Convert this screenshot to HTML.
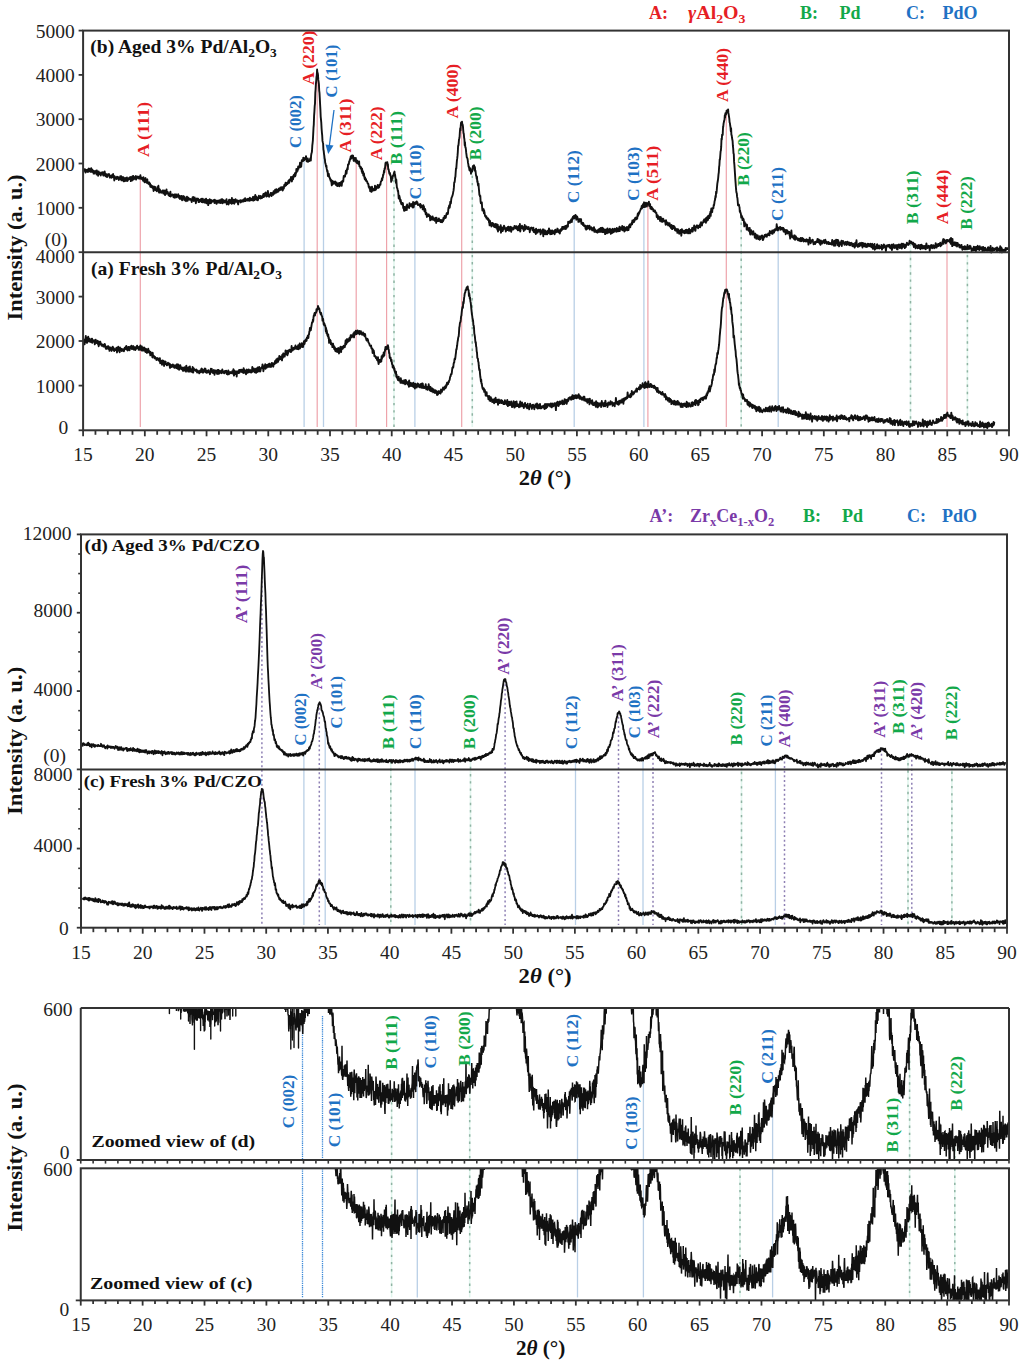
<!DOCTYPE html><html><head><meta charset="utf-8"><style>html,body{margin:0;padding:0;background:#fff;}svg{display:block;}</style></head><body><svg width="1024" height="1365" viewBox="0 0 1024 1365" font-family='"Liberation Serif", serif'>
<rect width="1024" height="1365" fill="#fff"/>
<line x1="140.30" y1="177.20" x2="140.30" y2="427.00" stroke="#eea3ab" stroke-width="1.2" />
<line x1="304.10" y1="159.78" x2="304.10" y2="427.00" stroke="#b9cfe6" stroke-width="1.3" />
<line x1="317.20" y1="71.60" x2="317.20" y2="427.00" stroke="#eea3ab" stroke-width="1.2" />
<line x1="323.50" y1="149.41" x2="323.50" y2="427.00" stroke="#b9cfe6" stroke-width="1.3" />
<line x1="356.20" y1="160.21" x2="356.20" y2="427.00" stroke="#eea3ab" stroke-width="1.2" />
<line x1="386.60" y1="162.73" x2="386.60" y2="427.00" stroke="#eea3ab" stroke-width="1.2" />
<line x1="394.00" y1="172.54" x2="394.00" y2="427.00" stroke="#e2f6ee" stroke-width="1.6" />
<line x1="394.00" y1="172.54" x2="394.00" y2="427.00" stroke="#8fb3a3" stroke-width="1.5" stroke-dasharray="2.4 4.8"/>
<line x1="414.90" y1="203.18" x2="414.90" y2="427.00" stroke="#b9cfe6" stroke-width="1.3" />
<line x1="461.70" y1="122.54" x2="461.70" y2="427.00" stroke="#eea3ab" stroke-width="1.2" />
<line x1="472.30" y1="168.50" x2="472.30" y2="427.00" stroke="#e2f6ee" stroke-width="1.6" />
<line x1="472.30" y1="168.50" x2="472.30" y2="427.00" stroke="#8fb3a3" stroke-width="1.5" stroke-dasharray="2.4 4.8"/>
<line x1="574.20" y1="216.85" x2="574.20" y2="427.00" stroke="#b9cfe6" stroke-width="1.3" />
<line x1="643.90" y1="204.10" x2="643.90" y2="427.00" stroke="#b9cfe6" stroke-width="1.3" />
<line x1="647.90" y1="204.24" x2="647.90" y2="427.00" stroke="#eea3ab" stroke-width="1.2" />
<line x1="726.30" y1="112.46" x2="726.30" y2="427.00" stroke="#eea3ab" stroke-width="1.2" />
<line x1="741.20" y1="215.36" x2="741.20" y2="427.00" stroke="#e2f6ee" stroke-width="1.6" />
<line x1="741.20" y1="215.36" x2="741.20" y2="427.00" stroke="#8fb3a3" stroke-width="1.5" stroke-dasharray="2.4 4.8"/>
<line x1="778.20" y1="228.72" x2="778.20" y2="427.00" stroke="#b9cfe6" stroke-width="1.3" />
<line x1="910.50" y1="243.45" x2="910.50" y2="427.00" stroke="#e2f6ee" stroke-width="1.6" />
<line x1="910.50" y1="243.45" x2="910.50" y2="427.00" stroke="#8fb3a3" stroke-width="1.5" stroke-dasharray="2.4 4.8"/>
<line x1="947.00" y1="240.66" x2="947.00" y2="427.00" stroke="#eea3ab" stroke-width="1.2" />
<line x1="967.40" y1="247.75" x2="967.40" y2="427.00" stroke="#e2f6ee" stroke-width="1.6" />
<line x1="967.40" y1="247.75" x2="967.40" y2="427.00" stroke="#8fb3a3" stroke-width="1.5" stroke-dasharray="2.4 4.8"/>
<path d="M83.40,170.40 L83.70,170.86 L84.00,170.10 L84.30,169.29 L84.60,169.94 L84.90,169.23 L85.20,170.75 L85.50,172.59 L85.80,170.07 L86.10,169.94 L86.40,171.54 L86.70,171.40 L87.00,171.10 L87.30,169.69 L87.60,171.00 L87.90,172.07 L88.20,169.26 L88.50,170.55 L88.80,168.58 L89.10,169.48 L89.40,168.76 L89.70,171.06 L90.00,169.67 L90.30,171.87 L90.60,171.76 L90.90,171.33 L91.20,168.12 L91.50,170.94 L91.80,171.68 L92.10,171.96 L92.40,169.71 L92.70,171.24 L93.00,170.59 L93.30,170.88 L93.60,173.56 L93.90,170.99 L94.20,172.13 L94.50,173.47 L94.80,171.47 L95.10,172.19 L95.40,172.56 L95.70,172.55 L96.00,170.80 L96.30,172.68 L96.60,174.53 L96.90,170.52 L97.20,173.95 L97.50,172.97 L97.80,171.96 L98.10,175.72 L98.40,174.04 L98.70,171.36 L99.00,173.20 L99.30,173.96 L99.60,172.95 L99.90,174.23 L100.20,173.24 L100.50,174.33 L100.80,175.47 L101.10,172.57 L101.40,173.86 L101.70,172.99 L102.00,173.88 L102.30,172.10 L102.60,173.01 L102.90,173.61 L103.20,175.21 L103.50,175.62 L103.80,172.24 L104.10,173.05 L104.40,175.15 L104.70,171.53 L105.00,173.75 L105.30,174.35 L105.60,176.33 L105.90,175.62 L106.20,174.28 L106.50,174.31 L106.80,174.57 L107.10,177.14 L107.40,174.50 L107.70,174.77 L108.00,175.78 L108.30,175.22 L108.60,175.21 L108.90,174.02 L109.20,175.66 L109.50,175.15 L109.80,177.51 L110.10,176.89 L110.40,176.04 L110.70,177.11 L111.00,175.80 L111.30,177.85 L111.60,176.47 L111.90,177.39 L112.20,174.87 L112.50,177.26 L112.80,174.51 L113.10,174.12 L113.40,176.64 L113.70,175.91 L114.00,177.49 L114.30,180.50 L114.60,176.29 L114.90,176.67 L115.20,177.92 L115.50,178.42 L115.80,177.57 L116.10,177.62 L116.40,178.97 L116.70,178.80 L117.00,176.71 L117.30,178.13 L117.60,178.37 L117.90,176.92 L118.20,178.83 L118.50,177.34 L118.80,179.98 L119.10,178.95 L119.40,178.87 L119.70,177.98 L120.00,178.71 L120.30,176.13 L120.60,177.40 L120.90,179.54 L121.20,176.10 L121.50,180.32 L121.80,176.73 L122.10,180.27 L122.40,178.06 L122.70,180.37 L123.00,179.49 L123.30,177.18 L123.60,181.10 L123.90,181.39 L124.20,179.29 L124.50,179.01 L124.80,179.18 L125.10,178.03 L125.40,180.93 L125.70,178.63 L126.00,179.31 L126.30,178.25 L126.60,178.47 L126.90,177.53 L127.20,181.06 L127.50,179.06 L127.80,180.59 L128.10,179.23 L128.40,178.20 L128.70,178.68 L129.00,178.32 L129.30,179.07 L129.60,178.49 L129.90,178.55 L130.20,177.00 L130.50,177.76 L130.80,181.16 L131.10,177.85 L131.40,177.27 L131.70,179.17 L132.00,180.62 L132.30,176.57 L132.60,178.27 L132.90,177.63 L133.20,176.00 L133.50,179.44 L133.80,178.32 L134.10,178.38 L134.40,177.15 L134.70,178.76 L135.00,177.29 L135.30,177.75 L135.60,176.32 L135.90,176.08 L136.20,179.56 L136.50,176.90 L136.80,177.93 L137.10,177.40 L137.40,176.76 L137.70,176.60 L138.00,178.13 L138.30,176.78 L138.60,176.95 L138.90,177.16 L139.20,178.75 L139.50,178.05 L139.80,177.65 L140.10,176.37 L140.40,175.29 L140.70,178.64 L141.00,178.78 L141.30,177.36 L141.60,178.46 L141.90,178.96 L142.20,179.21 L142.50,179.52 L142.80,177.79 L143.10,180.76 L143.40,177.10 L143.70,180.27 L144.00,179.98 L144.30,180.73 L144.60,182.35 L144.90,182.01 L145.20,178.54 L145.50,178.02 L145.80,181.80 L146.10,179.52 L146.40,181.23 L146.70,182.75 L147.00,179.61 L147.30,179.31 L147.60,182.99 L147.90,183.06 L148.20,183.03 L148.50,183.80 L148.80,182.91 L149.10,182.36 L149.40,184.61 L149.70,183.83 L150.00,183.23 L150.30,186.56 L150.60,186.07 L150.90,187.01 L151.20,185.31 L151.50,186.01 L151.80,185.74 L152.10,186.08 L152.40,187.77 L152.70,186.57 L153.00,188.33 L153.30,188.47 L153.60,191.00 L153.90,186.37 L154.20,189.72 L154.50,188.50 L154.80,188.76 L155.10,186.89 L155.40,188.42 L155.70,190.25 L156.00,189.23 L156.30,189.59 L156.60,189.21 L156.90,191.36 L157.20,189.84 L157.50,186.92 L157.80,189.15 L158.10,187.49 L158.40,185.81 L158.70,189.73 L159.00,192.46 L159.30,190.77 L159.60,189.17 L159.90,189.61 L160.20,192.62 L160.50,191.36 L160.80,191.31 L161.10,191.27 L161.40,191.50 L161.70,192.67 L162.00,192.42 L162.30,192.05 L162.60,190.38 L162.90,192.65 L163.20,191.07 L163.50,193.65 L163.80,190.44 L164.10,192.12 L164.40,192.39 L164.70,190.64 L165.00,194.99 L165.30,194.71 L165.60,192.11 L165.90,193.93 L166.20,193.47 L166.50,189.36 L166.80,193.46 L167.10,193.11 L167.40,193.40 L167.70,191.87 L168.00,193.09 L168.30,193.30 L168.60,195.30 L168.90,194.20 L169.20,193.81 L169.50,196.05 L169.80,193.22 L170.10,193.55 L170.40,191.64 L170.70,196.47 L171.00,195.71 L171.30,195.74 L171.60,195.48 L171.90,194.79 L172.20,195.03 L172.50,194.46 L172.80,194.62 L173.10,195.07 L173.40,197.20 L173.70,195.95 L174.00,195.18 L174.30,194.54 L174.60,194.55 L174.90,197.78 L175.20,196.33 L175.50,195.80 L175.80,195.31 L176.10,194.33 L176.40,195.88 L176.70,197.28 L177.00,195.59 L177.30,195.91 L177.60,196.00 L177.90,196.55 L178.20,194.25 L178.50,196.24 L178.80,195.45 L179.10,197.97 L179.40,195.74 L179.70,197.70 L180.00,199.11 L180.30,196.62 L180.60,196.30 L180.90,197.49 L181.20,197.29 L181.50,195.98 L181.80,198.10 L182.10,200.35 L182.40,197.24 L182.70,197.40 L183.00,196.29 L183.30,198.28 L183.60,196.16 L183.90,196.42 L184.20,199.84 L184.50,196.85 L184.80,199.70 L185.10,200.39 L185.40,198.69 L185.70,199.16 L186.00,201.19 L186.30,198.24 L186.60,197.75 L186.90,196.75 L187.20,198.77 L187.50,200.84 L187.80,200.17 L188.10,197.57 L188.40,197.75 L188.70,198.30 L189.00,199.47 L189.30,198.83 L189.60,199.47 L189.90,199.64 L190.20,198.86 L190.50,199.27 L190.80,199.66 L191.10,199.30 L191.40,200.17 L191.70,202.13 L192.00,200.39 L192.30,199.68 L192.60,197.28 L192.90,200.23 L193.20,197.00 L193.50,197.80 L193.80,201.01 L194.10,200.84 L194.40,199.69 L194.70,197.54 L195.00,199.46 L195.30,199.07 L195.60,200.96 L195.90,203.27 L196.20,200.45 L196.50,199.10 L196.80,198.59 L197.10,200.20 L197.40,200.07 L197.70,198.75 L198.00,200.56 L198.30,198.83 L198.60,202.04 L198.90,202.01 L199.20,202.08 L199.50,199.94 L199.80,201.36 L200.10,200.49 L200.40,200.17 L200.70,200.28 L201.00,198.97 L201.30,198.81 L201.60,201.98 L201.90,200.64 L202.20,201.24 L202.50,202.38 L202.80,198.58 L203.10,199.95 L203.40,201.32 L203.70,201.66 L204.00,200.62 L204.30,202.62 L204.60,201.50 L204.90,199.54 L205.20,199.97 L205.50,202.43 L205.80,201.98 L206.10,198.70 L206.40,203.27 L206.70,202.25 L207.00,203.32 L207.30,200.93 L207.60,201.07 L207.90,199.94 L208.20,205.09 L208.50,201.31 L208.80,203.80 L209.10,200.69 L209.40,201.85 L209.70,199.30 L210.00,201.12 L210.30,203.05 L210.60,199.94 L210.90,203.20 L211.20,202.19 L211.50,200.27 L211.80,201.04 L212.10,201.11 L212.40,201.69 L212.70,201.02 L213.00,200.62 L213.30,201.36 L213.60,200.35 L213.90,199.99 L214.20,201.73 L214.50,203.04 L214.80,199.66 L215.10,201.80 L215.40,200.89 L215.70,200.43 L216.00,202.99 L216.30,201.07 L216.60,203.90 L216.90,200.71 L217.20,202.34 L217.50,201.48 L217.80,200.74 L218.10,202.62 L218.40,201.58 L218.70,202.64 L219.00,201.73 L219.30,200.28 L219.60,201.66 L219.90,201.87 L220.20,203.14 L220.50,200.53 L220.80,201.74 L221.10,199.39 L221.40,202.71 L221.70,200.29 L222.00,199.27 L222.30,201.72 L222.60,203.35 L222.90,199.67 L223.20,200.28 L223.50,200.76 L223.80,200.22 L224.10,202.33 L224.40,200.67 L224.70,200.79 L225.00,202.62 L225.30,200.74 L225.60,202.41 L225.90,200.44 L226.20,200.10 L226.50,199.23 L226.80,204.41 L227.10,201.35 L227.40,202.14 L227.70,201.76 L228.00,202.02 L228.30,201.87 L228.60,204.47 L228.90,200.35 L229.20,199.62 L229.50,200.38 L229.80,199.93 L230.10,202.85 L230.40,202.95 L230.70,200.45 L231.00,199.85 L231.30,201.30 L231.60,203.75 L231.90,197.85 L232.20,202.54 L232.50,200.29 L232.80,203.26 L233.10,200.29 L233.40,201.40 L233.70,199.69 L234.00,200.43 L234.30,203.74 L234.60,202.95 L234.90,201.24 L235.20,200.58 L235.50,199.15 L235.80,201.25 L236.10,201.76 L236.40,201.68 L236.70,201.67 L237.00,200.23 L237.30,201.71 L237.60,201.74 L237.90,203.60 L238.20,204.40 L238.50,201.58 L238.80,200.69 L239.10,201.66 L239.40,200.88 L239.70,200.67 L240.00,201.61 L240.30,200.20 L240.60,202.49 L240.90,201.46 L241.20,201.93 L241.50,201.29 L241.80,200.49 L242.10,200.14 L242.40,201.10 L242.70,200.62 L243.00,201.67 L243.30,201.30 L243.60,199.35 L243.90,201.30 L244.20,199.28 L244.50,200.24 L244.80,200.64 L245.10,198.09 L245.40,201.07 L245.70,201.09 L246.00,200.60 L246.30,200.16 L246.60,200.17 L246.90,199.26 L247.20,200.19 L247.50,199.73 L247.80,200.56 L248.10,198.68 L248.40,200.62 L248.70,200.42 L249.00,199.95 L249.30,199.46 L249.60,200.78 L249.90,197.60 L250.20,200.50 L250.50,200.12 L250.80,200.10 L251.10,200.16 L251.40,198.63 L251.70,199.10 L252.00,200.28 L252.30,199.91 L252.60,199.52 L252.90,197.03 L253.20,199.82 L253.50,200.62 L253.80,200.32 L254.10,199.15 L254.40,196.56 L254.70,199.98 L255.00,198.37 L255.30,194.95 L255.60,198.94 L255.90,196.24 L256.20,196.43 L256.50,197.27 L256.80,199.86 L257.10,197.48 L257.40,198.29 L257.70,200.28 L258.00,199.98 L258.30,197.53 L258.60,197.25 L258.90,195.75 L259.20,196.46 L259.50,197.95 L259.80,197.83 L260.10,197.35 L260.40,198.51 L260.70,195.95 L261.00,196.87 L261.30,197.89 L261.60,197.60 L261.90,198.20 L262.20,197.17 L262.50,196.10 L262.80,196.95 L263.10,194.95 L263.40,193.97 L263.70,196.99 L264.00,196.00 L264.30,196.42 L264.60,193.52 L264.90,195.29 L265.20,194.86 L265.50,194.40 L265.80,192.35 L266.10,194.94 L266.40,196.56 L266.70,195.74 L267.00,194.26 L267.30,194.98 L267.60,195.95 L267.90,190.92 L268.20,194.51 L268.50,195.33 L268.80,195.42 L269.10,196.73 L269.40,195.83 L269.70,194.56 L270.00,194.43 L270.30,194.99 L270.60,193.02 L270.90,193.60 L271.20,194.80 L271.50,196.15 L271.80,193.07 L272.10,193.10 L272.40,193.32 L272.70,194.79 L273.00,192.74 L273.30,194.71 L273.60,191.17 L273.90,192.13 L274.20,191.98 L274.50,193.22 L274.80,193.44 L275.10,189.73 L275.40,190.42 L275.70,192.03 L276.00,190.49 L276.30,189.13 L276.60,192.56 L276.90,191.65 L277.20,191.49 L277.50,189.97 L277.80,191.91 L278.10,189.96 L278.40,191.66 L278.70,188.68 L279.00,188.58 L279.30,189.88 L279.60,188.42 L279.90,190.17 L280.20,189.39 L280.50,187.54 L280.80,188.74 L281.10,187.94 L281.40,189.51 L281.70,187.13 L282.00,187.19 L282.30,189.29 L282.60,190.51 L282.90,189.95 L283.20,187.01 L283.50,187.00 L283.80,188.61 L284.10,186.05 L284.40,184.62 L284.70,185.91 L285.00,186.13 L285.30,184.09 L285.60,182.68 L285.90,182.70 L286.20,185.37 L286.50,183.09 L286.80,183.66 L287.10,183.85 L287.40,184.11 L287.70,182.46 L288.00,183.30 L288.30,181.03 L288.60,181.43 L288.90,180.16 L289.20,182.83 L289.50,180.86 L289.80,179.51 L290.10,179.69 L290.40,179.50 L290.70,180.43 L291.00,176.84 L291.30,177.25 L291.60,177.79 L291.90,181.48 L292.20,178.89 L292.50,177.01 L292.80,177.78 L293.10,179.27 L293.40,175.67 L293.70,175.09 L294.00,176.90 L294.30,175.48 L294.60,175.30 L294.90,173.22 L295.20,176.19 L295.50,175.45 L295.80,173.40 L296.10,173.11 L296.40,168.85 L296.70,172.12 L297.00,170.49 L297.30,170.89 L297.60,170.77 L297.90,168.86 L298.20,166.49 L298.50,168.90 L298.80,166.87 L299.10,166.96 L299.40,166.10 L299.70,166.00 L300.00,162.77 L300.30,167.21 L300.60,165.33 L300.90,165.99 L301.20,166.64 L301.50,163.33 L301.80,160.23 L302.10,160.96 L302.40,160.02 L302.70,160.54 L303.00,160.95 L303.30,157.69 L303.60,160.69 L303.90,157.84 L304.20,160.11 L304.50,159.29 L304.80,158.78 L305.10,158.91 L305.40,158.07 L305.70,157.82 L306.00,156.22 L306.30,158.47 L306.60,161.09 L306.90,161.39 L307.20,160.70 L307.50,160.14 L307.80,158.55 L308.10,161.89 L308.40,160.16 L308.70,160.47 L309.00,160.41 L309.30,161.10 L309.60,160.37 L309.90,160.50 L310.20,158.35 L310.50,158.26 L310.80,160.60 L311.10,155.70 L311.40,153.65 L311.70,152.79 L312.00,150.99 L312.30,145.72 L312.60,143.16 L312.90,140.05 L313.20,133.85 L313.50,128.02 L313.80,124.32 L314.10,115.68 L314.40,111.67 L314.70,106.09 L315.00,103.62 L315.30,93.18 L315.60,89.31 L315.90,84.10 L316.20,80.92 L316.50,76.83 L316.80,75.07 L317.10,69.50 L317.40,72.95 L317.70,72.97 L318.00,74.94 L318.30,79.89 L318.60,81.63 L318.90,84.08 L319.20,90.58 L319.50,92.90 L319.80,98.21 L320.10,104.41 L320.40,109.53 L320.70,116.73 L321.00,119.63 L321.30,122.94 L321.60,128.74 L321.90,132.55 L322.20,135.47 L322.50,140.89 L322.80,142.31 L323.10,143.20 L323.40,149.55 L323.70,150.86 L324.00,153.82 L324.30,155.62 L324.60,158.38 L324.90,159.45 L325.20,162.92 L325.50,163.51 L325.80,165.13 L326.10,166.75 L326.40,165.65 L326.70,168.88 L327.00,170.07 L327.30,171.93 L327.60,170.84 L327.90,175.99 L328.20,174.71 L328.50,173.69 L328.80,173.79 L329.10,176.54 L329.40,177.53 L329.70,177.33 L330.00,179.11 L330.30,178.68 L330.60,180.90 L330.90,179.61 L331.20,181.02 L331.50,182.84 L331.80,185.41 L332.10,180.68 L332.40,181.70 L332.70,181.44 L333.00,183.96 L333.30,181.50 L333.60,182.66 L333.90,183.53 L334.20,182.41 L334.50,182.64 L334.80,183.50 L335.10,181.39 L335.40,182.46 L335.70,184.05 L336.00,184.95 L336.30,184.58 L336.60,182.43 L336.90,184.32 L337.20,186.11 L337.50,185.78 L337.80,184.86 L338.10,183.67 L338.40,185.70 L338.70,183.88 L339.00,182.91 L339.30,183.25 L339.60,186.20 L339.90,184.26 L340.20,185.34 L340.50,182.79 L340.80,184.51 L341.10,182.07 L341.40,182.40 L341.70,185.79 L342.00,183.07 L342.30,180.92 L342.60,181.01 L342.90,180.99 L343.20,181.55 L343.50,178.42 L343.80,175.86 L344.10,177.05 L344.40,176.58 L344.70,175.82 L345.00,176.62 L345.30,174.34 L345.60,174.19 L345.90,170.71 L346.20,172.70 L346.50,173.58 L346.80,170.84 L347.10,169.18 L347.40,168.07 L347.70,169.36 L348.00,164.56 L348.30,164.70 L348.60,164.50 L348.90,163.93 L349.20,161.34 L349.50,161.49 L349.80,159.83 L350.10,159.62 L350.40,158.58 L350.70,156.57 L351.00,157.64 L351.30,158.52 L351.60,155.68 L351.90,156.57 L352.20,157.84 L352.50,155.48 L352.80,157.35 L353.10,155.77 L353.40,159.04 L353.70,160.92 L354.00,160.77 L354.30,157.91 L354.60,159.56 L354.90,159.00 L355.20,159.30 L355.50,161.64 L355.80,157.95 L356.10,161.58 L356.40,160.37 L356.70,162.76 L357.00,161.44 L357.30,160.64 L357.60,162.40 L357.90,163.49 L358.20,162.97 L358.50,164.09 L358.80,163.17 L359.10,161.43 L359.40,166.19 L359.70,166.44 L360.00,166.21 L360.30,166.66 L360.60,168.62 L360.90,167.17 L361.20,167.49 L361.50,168.92 L361.80,171.58 L362.10,168.71 L362.40,173.09 L362.70,171.29 L363.00,171.42 L363.30,175.50 L363.60,174.37 L363.90,173.45 L364.20,175.52 L364.50,178.06 L364.80,179.14 L365.10,177.55 L365.40,179.37 L365.70,180.42 L366.00,179.10 L366.30,181.06 L366.60,181.11 L366.90,181.01 L367.20,181.69 L367.50,183.09 L367.80,183.66 L368.10,183.44 L368.40,184.24 L368.70,186.99 L369.00,186.30 L369.30,187.79 L369.60,188.74 L369.90,188.37 L370.20,191.16 L370.50,187.22 L370.80,189.85 L371.10,188.56 L371.40,191.83 L371.70,191.77 L372.00,186.75 L372.30,188.14 L372.60,190.41 L372.90,190.56 L373.20,190.44 L373.50,189.25 L373.80,189.90 L374.10,190.09 L374.40,188.96 L374.70,190.39 L375.00,185.66 L375.30,189.57 L375.60,187.08 L375.90,189.71 L376.20,187.88 L376.50,186.77 L376.80,188.35 L377.10,186.35 L377.40,186.15 L377.70,185.02 L378.00,186.96 L378.30,187.44 L378.60,187.85 L378.90,185.84 L379.20,187.05 L379.50,185.11 L379.80,184.40 L380.10,184.73 L380.40,184.77 L380.70,182.13 L381.00,181.56 L381.30,180.93 L381.60,180.51 L381.90,178.35 L382.20,180.25 L382.50,177.44 L382.80,177.68 L383.10,174.65 L383.40,174.89 L383.70,173.36 L384.00,170.58 L384.30,172.34 L384.60,168.41 L384.90,168.87 L385.20,166.37 L385.50,162.98 L385.80,162.54 L386.10,163.21 L386.40,162.61 L386.70,162.97 L387.00,163.24 L387.30,162.15 L387.60,165.61 L387.90,164.18 L388.20,169.21 L388.50,169.04 L388.80,170.29 L389.10,172.03 L389.40,173.83 L389.70,172.65 L390.00,173.43 L390.30,175.57 L390.60,175.28 L390.90,177.67 L391.20,181.89 L391.50,178.50 L391.80,180.78 L392.10,177.30 L392.40,178.61 L392.70,176.47 L393.00,175.49 L393.30,175.11 L393.60,175.74 L393.90,172.91 L394.20,172.70 L394.50,171.59 L394.80,174.64 L395.10,174.73 L395.40,177.80 L395.70,178.37 L396.00,182.82 L396.30,179.66 L396.60,184.09 L396.90,187.76 L397.20,187.94 L397.50,189.03 L397.80,191.22 L398.10,190.85 L398.40,194.09 L398.70,198.45 L399.00,197.71 L399.30,195.59 L399.60,196.90 L399.90,198.50 L400.20,201.35 L400.50,199.62 L400.80,200.56 L401.10,203.47 L401.40,204.14 L401.70,203.13 L402.00,202.80 L402.30,202.90 L402.60,204.77 L402.90,203.26 L403.20,208.01 L403.50,206.60 L403.80,208.59 L404.10,210.87 L404.40,210.12 L404.70,206.98 L405.00,209.81 L405.30,210.18 L405.60,207.44 L405.90,207.06 L406.20,208.12 L406.50,205.89 L406.80,210.04 L407.10,204.44 L407.40,206.08 L407.70,207.06 L408.00,206.92 L408.30,207.27 L408.60,207.22 L408.90,206.34 L409.20,208.04 L409.50,203.28 L409.80,206.10 L410.10,204.95 L410.40,205.97 L410.70,205.92 L411.00,204.15 L411.30,204.34 L411.60,206.15 L411.90,205.33 L412.20,203.69 L412.50,207.30 L412.80,207.48 L413.10,202.02 L413.40,204.31 L413.70,207.23 L414.00,204.65 L414.30,203.72 L414.60,203.00 L414.90,202.43 L415.20,202.80 L415.50,202.27 L415.80,204.05 L416.10,202.44 L416.40,202.41 L416.70,201.41 L417.00,203.11 L417.30,202.04 L417.60,203.18 L417.90,205.06 L418.20,204.29 L418.50,204.69 L418.80,204.70 L419.10,204.52 L419.40,204.50 L419.70,204.51 L420.00,206.26 L420.30,203.95 L420.60,207.62 L420.90,206.06 L421.20,205.24 L421.50,205.88 L421.80,205.88 L422.10,207.31 L422.40,206.36 L422.70,209.28 L423.00,206.92 L423.30,205.18 L423.60,207.72 L423.90,206.32 L424.20,209.49 L424.50,211.45 L424.80,211.30 L425.10,208.96 L425.40,210.21 L425.70,214.21 L426.00,212.62 L426.30,212.62 L426.60,214.54 L426.90,216.92 L427.20,215.73 L427.50,214.52 L427.80,215.23 L428.10,215.98 L428.40,214.62 L428.70,214.34 L429.00,216.21 L429.30,215.11 L429.60,216.61 L429.90,217.06 L430.20,220.41 L430.50,216.15 L430.80,217.38 L431.10,217.53 L431.40,218.57 L431.70,219.63 L432.00,217.68 L432.30,217.41 L432.60,216.46 L432.90,217.65 L433.20,219.88 L433.50,219.37 L433.80,218.06 L434.10,219.13 L434.40,219.85 L434.70,220.67 L435.00,219.28 L435.30,219.89 L435.60,217.82 L435.90,218.87 L436.20,222.86 L436.50,217.62 L436.80,220.30 L437.10,221.15 L437.40,220.38 L437.70,219.82 L438.00,220.89 L438.30,220.99 L438.60,220.88 L438.90,218.36 L439.20,220.77 L439.50,219.75 L439.80,220.14 L440.10,221.17 L440.40,221.70 L440.70,221.99 L441.00,219.97 L441.30,221.88 L441.60,222.14 L441.90,221.99 L442.20,222.25 L442.50,219.99 L442.80,219.83 L443.10,221.11 L443.40,217.85 L443.70,219.79 L444.00,218.42 L444.30,218.25 L444.60,215.88 L444.90,216.57 L445.20,217.26 L445.50,217.98 L445.80,217.55 L446.10,215.47 L446.40,214.73 L446.70,213.23 L447.00,214.30 L447.30,212.68 L447.60,213.13 L447.90,213.94 L448.20,210.60 L448.50,207.67 L448.80,207.64 L449.10,205.85 L449.40,205.23 L449.70,207.71 L450.00,205.14 L450.30,201.61 L450.60,203.54 L450.90,203.23 L451.20,199.74 L451.50,198.02 L451.80,197.16 L452.10,196.63 L452.40,195.67 L452.70,194.91 L453.00,193.36 L453.30,191.67 L453.60,190.19 L453.90,187.41 L454.20,182.47 L454.50,182.48 L454.80,181.03 L455.10,177.67 L455.40,176.84 L455.70,172.22 L456.00,168.43 L456.30,168.66 L456.60,164.44 L456.90,160.70 L457.20,158.65 L457.50,155.92 L457.80,152.18 L458.10,145.73 L458.40,145.58 L458.70,143.08 L459.00,139.46 L459.30,138.21 L459.60,136.75 L459.90,131.68 L460.20,128.23 L460.50,130.39 L460.80,124.99 L461.10,122.37 L461.40,123.37 L461.70,123.13 L462.00,121.70 L462.30,124.70 L462.60,124.45 L462.90,125.86 L463.20,129.75 L463.50,133.12 L463.80,133.74 L464.10,137.57 L464.40,139.21 L464.70,145.25 L465.00,142.32 L465.30,147.31 L465.60,147.39 L465.90,149.38 L466.20,152.64 L466.50,154.89 L466.80,157.35 L467.10,157.87 L467.40,158.27 L467.70,159.89 L468.00,162.71 L468.30,164.09 L468.60,166.55 L468.90,166.48 L469.20,168.63 L469.50,170.44 L469.80,169.59 L470.10,168.16 L470.40,169.26 L470.70,169.33 L471.00,173.73 L471.30,170.09 L471.60,172.41 L471.90,170.66 L472.20,171.25 L472.50,169.22 L472.80,166.71 L473.10,165.80 L473.40,165.72 L473.70,165.78 L474.00,165.24 L474.30,166.80 L474.60,170.27 L474.90,166.97 L475.20,171.08 L475.50,170.73 L475.80,173.51 L476.10,175.77 L476.40,175.94 L476.70,178.57 L477.00,176.77 L477.30,182.06 L477.60,181.25 L477.90,184.64 L478.20,185.75 L478.50,183.65 L478.80,188.02 L479.10,191.19 L479.40,194.86 L479.70,194.85 L480.00,196.53 L480.30,195.84 L480.60,201.39 L480.90,203.38 L481.20,202.22 L481.50,203.09 L481.80,202.29 L482.10,206.89 L482.40,210.49 L482.70,208.72 L483.00,210.45 L483.30,210.37 L483.60,209.14 L483.90,213.26 L484.20,210.51 L484.50,212.78 L484.80,214.31 L485.10,215.99 L485.40,216.16 L485.70,216.93 L486.00,216.09 L486.30,216.08 L486.60,218.64 L486.90,218.17 L487.20,217.86 L487.50,218.37 L487.80,219.86 L488.10,218.34 L488.40,219.41 L488.70,219.35 L489.00,222.22 L489.30,222.84 L489.60,225.37 L489.90,220.74 L490.20,222.15 L490.50,224.63 L490.80,223.29 L491.10,223.37 L491.40,226.45 L491.70,223.81 L492.00,222.88 L492.30,222.87 L492.60,225.39 L492.90,225.55 L493.20,223.40 L493.50,224.14 L493.80,226.45 L494.10,226.69 L494.40,225.16 L494.70,227.10 L495.00,227.19 L495.30,224.05 L495.60,226.26 L495.90,227.42 L496.20,226.18 L496.50,224.12 L496.80,226.85 L497.10,228.43 L497.40,229.72 L497.70,224.58 L498.00,231.44 L498.30,226.34 L498.60,229.39 L498.90,229.90 L499.20,229.67 L499.50,228.61 L499.80,226.88 L500.10,229.47 L500.40,227.67 L500.70,225.20 L501.00,232.73 L501.30,229.79 L501.60,231.35 L501.90,227.52 L502.20,230.85 L502.50,231.02 L502.80,230.97 L503.10,228.76 L503.40,227.10 L503.70,228.53 L504.00,225.69 L504.30,226.39 L504.60,228.89 L504.90,227.37 L505.20,228.52 L505.50,228.59 L505.80,231.44 L506.10,230.54 L506.40,228.65 L506.70,230.40 L507.00,227.61 L507.30,228.22 L507.60,229.95 L507.90,226.93 L508.20,228.27 L508.50,226.80 L508.80,228.80 L509.10,230.92 L509.40,227.57 L509.70,228.93 L510.00,227.34 L510.30,226.98 L510.60,226.85 L510.90,230.60 L511.20,231.85 L511.50,229.21 L511.80,227.51 L512.10,229.48 L512.40,228.00 L512.70,229.57 L513.00,228.84 L513.30,228.80 L513.60,229.23 L513.90,227.54 L514.20,227.76 L514.50,225.89 L514.80,227.66 L515.10,226.26 L515.40,228.02 L515.70,226.86 L516.00,228.31 L516.30,228.78 L516.60,226.13 L516.90,226.95 L517.20,226.74 L517.50,229.08 L517.80,230.40 L518.10,229.18 L518.40,227.47 L518.70,229.98 L519.00,225.79 L519.30,229.99 L519.60,226.95 L519.90,223.95 L520.20,231.54 L520.50,230.01 L520.80,226.34 L521.10,228.01 L521.40,227.46 L521.70,227.89 L522.00,225.66 L522.30,226.77 L522.60,228.37 L522.90,228.02 L523.20,229.38 L523.50,227.81 L523.80,230.99 L524.10,226.70 L524.40,228.08 L524.70,225.04 L525.00,225.99 L525.30,229.62 L525.60,226.47 L525.90,228.56 L526.20,227.77 L526.50,226.43 L526.80,227.45 L527.10,227.26 L527.40,227.34 L527.70,229.13 L528.00,229.04 L528.30,227.38 L528.60,226.98 L528.90,228.71 L529.20,228.24 L529.50,229.88 L529.80,232.23 L530.10,229.77 L530.40,228.61 L530.70,228.49 L531.00,227.61 L531.30,227.62 L531.60,227.57 L531.90,228.50 L532.20,228.54 L532.50,230.27 L532.80,228.75 L533.10,229.12 L533.40,227.78 L533.70,231.88 L534.00,230.38 L534.30,232.26 L534.60,230.96 L534.90,232.02 L535.20,229.68 L535.50,231.12 L535.80,233.99 L536.10,228.58 L536.40,232.03 L536.70,232.85 L537.00,231.15 L537.30,231.72 L537.60,232.52 L537.90,229.88 L538.20,231.48 L538.50,229.74 L538.80,230.09 L539.10,230.25 L539.40,231.01 L539.70,231.50 L540.00,232.01 L540.30,229.40 L540.60,234.34 L540.90,233.23 L541.20,232.67 L541.50,231.18 L541.80,231.62 L542.10,232.59 L542.40,232.45 L542.70,229.50 L543.00,233.02 L543.30,236.18 L543.60,229.38 L543.90,233.50 L544.20,232.63 L544.50,231.97 L544.80,234.12 L545.10,230.47 L545.40,232.42 L545.70,234.30 L546.00,231.92 L546.30,231.60 L546.60,232.36 L546.90,231.56 L547.20,234.41 L547.50,230.88 L547.80,233.43 L548.10,230.36 L548.40,233.11 L548.70,231.99 L549.00,228.40 L549.30,232.09 L549.60,230.55 L549.90,231.42 L550.20,234.25 L550.50,230.40 L550.80,230.46 L551.10,234.03 L551.40,232.09 L551.70,234.11 L552.00,232.33 L552.30,230.56 L552.60,231.70 L552.90,233.52 L553.20,233.07 L553.50,231.67 L553.80,231.70 L554.10,231.42 L554.40,230.70 L554.70,234.27 L555.00,231.45 L555.30,229.76 L555.60,230.65 L555.90,232.33 L556.20,232.15 L556.50,230.97 L556.80,230.15 L557.10,231.09 L557.40,228.58 L557.70,229.05 L558.00,232.01 L558.30,230.11 L558.60,231.27 L558.90,232.41 L559.20,231.53 L559.50,230.55 L559.80,233.51 L560.10,231.33 L560.40,229.79 L560.70,231.27 L561.00,230.73 L561.30,228.83 L561.60,230.09 L561.90,229.66 L562.20,226.97 L562.50,229.43 L562.80,229.13 L563.10,228.74 L563.40,226.82 L563.70,228.47 L564.00,228.70 L564.30,228.67 L564.60,226.63 L564.90,228.91 L565.20,225.98 L565.50,227.13 L565.80,229.04 L566.10,225.87 L566.40,225.84 L566.70,227.82 L567.00,225.42 L567.30,225.25 L567.60,225.70 L567.90,226.60 L568.20,221.63 L568.50,223.29 L568.80,222.67 L569.10,222.17 L569.40,222.09 L569.70,221.69 L570.00,222.88 L570.30,220.72 L570.60,221.70 L570.90,221.64 L571.20,219.55 L571.50,220.32 L571.80,222.02 L572.10,219.70 L572.40,217.90 L572.70,218.32 L573.00,216.72 L573.30,218.07 L573.60,218.60 L573.90,215.91 L574.20,216.55 L574.50,218.25 L574.80,215.81 L575.10,216.70 L575.40,214.94 L575.70,215.27 L576.00,215.81 L576.30,219.76 L576.60,216.37 L576.90,216.47 L577.20,216.74 L577.50,217.64 L577.80,219.17 L578.10,218.90 L578.40,221.91 L578.70,219.73 L579.00,221.85 L579.30,220.59 L579.60,221.41 L579.90,218.88 L580.20,221.03 L580.50,221.43 L580.80,221.52 L581.10,219.19 L581.40,223.80 L581.70,222.38 L582.00,222.68 L582.30,223.30 L582.60,223.71 L582.90,224.96 L583.20,222.97 L583.50,223.79 L583.80,225.85 L584.10,225.97 L584.40,225.55 L584.70,225.57 L585.00,225.49 L585.30,226.83 L585.60,228.79 L585.90,225.86 L586.20,229.65 L586.50,228.84 L586.80,227.14 L587.10,228.99 L587.40,225.95 L587.70,225.69 L588.00,226.41 L588.30,227.75 L588.60,227.97 L588.90,227.81 L589.20,228.77 L589.50,225.74 L589.80,229.52 L590.10,226.94 L590.40,228.10 L590.70,228.54 L591.00,227.59 L591.30,227.37 L591.60,227.97 L591.90,229.45 L592.20,230.37 L592.50,230.42 L592.80,228.31 L593.10,228.67 L593.40,228.57 L593.70,230.56 L594.00,227.15 L594.30,231.80 L594.60,229.45 L594.90,229.10 L595.20,230.73 L595.50,231.76 L595.80,230.85 L596.10,231.90 L596.40,230.67 L596.70,232.25 L597.00,232.32 L597.30,230.48 L597.60,232.68 L597.90,230.94 L598.20,230.87 L598.50,229.49 L598.80,230.41 L599.10,231.93 L599.40,229.03 L599.70,231.81 L600.00,231.41 L600.30,231.33 L600.60,227.87 L600.90,230.82 L601.20,231.89 L601.50,229.92 L601.80,231.12 L602.10,227.67 L602.40,231.94 L602.70,230.07 L603.00,232.22 L603.30,228.42 L603.60,231.96 L603.90,230.66 L604.20,232.11 L604.50,229.68 L604.80,230.11 L605.10,234.10 L605.40,229.80 L605.70,229.96 L606.00,230.55 L606.30,229.50 L606.60,232.59 L606.90,233.32 L607.20,229.91 L607.50,228.46 L607.80,232.51 L608.10,232.40 L608.40,231.99 L608.70,232.44 L609.00,229.59 L609.30,230.55 L609.60,228.83 L609.90,228.76 L610.20,232.10 L610.50,229.76 L610.80,233.87 L611.10,230.76 L611.40,229.74 L611.70,231.73 L612.00,233.11 L612.30,231.24 L612.60,228.83 L612.90,231.03 L613.20,232.40 L613.50,229.76 L613.80,229.34 L614.10,231.81 L614.40,230.55 L614.70,228.78 L615.00,229.76 L615.30,229.20 L615.60,230.64 L615.90,230.34 L616.20,231.77 L616.50,231.11 L616.80,227.89 L617.10,230.61 L617.40,231.26 L617.70,230.60 L618.00,231.37 L618.30,229.11 L618.60,228.51 L618.90,231.10 L619.20,228.26 L619.50,226.69 L619.80,231.10 L620.10,228.60 L620.40,229.14 L620.70,227.57 L621.00,227.62 L621.30,227.81 L621.60,228.87 L621.90,229.84 L622.20,226.06 L622.50,230.28 L622.80,227.52 L623.10,227.62 L623.40,230.01 L623.70,228.90 L624.00,226.80 L624.30,231.48 L624.60,227.63 L624.90,229.13 L625.20,228.99 L625.50,230.60 L625.80,227.89 L626.10,229.82 L626.40,227.24 L626.70,229.71 L627.00,226.91 L627.30,227.31 L627.60,230.29 L627.90,227.88 L628.20,227.39 L628.50,230.16 L628.80,227.29 L629.10,225.41 L629.40,227.33 L629.70,224.38 L630.00,227.34 L630.30,227.17 L630.60,224.39 L630.90,224.01 L631.20,224.83 L631.50,224.29 L631.80,222.57 L632.10,224.40 L632.40,220.41 L632.70,222.31 L633.00,222.00 L633.30,221.82 L633.60,222.27 L633.90,219.74 L634.20,221.91 L634.50,220.44 L634.80,219.40 L635.10,218.00 L635.40,217.85 L635.70,219.61 L636.00,217.35 L636.30,218.34 L636.60,219.20 L636.90,218.57 L637.20,218.65 L637.50,215.36 L637.80,213.53 L638.10,215.74 L638.40,214.00 L638.70,214.40 L639.00,212.12 L639.30,213.09 L639.60,211.96 L639.90,211.19 L640.20,210.34 L640.50,209.61 L640.80,208.78 L641.10,208.16 L641.40,208.63 L641.70,205.93 L642.00,208.52 L642.30,205.43 L642.60,206.49 L642.90,204.60 L643.20,204.07 L643.50,207.05 L643.80,203.67 L644.10,202.31 L644.40,203.10 L644.70,203.66 L645.00,207.12 L645.30,204.39 L645.60,205.41 L645.90,202.70 L646.20,204.59 L646.50,205.04 L646.80,206.62 L647.10,203.13 L647.40,204.96 L647.70,204.60 L648.00,202.85 L648.30,204.40 L648.60,204.25 L648.90,201.58 L649.20,205.93 L649.50,206.12 L649.80,205.04 L650.10,204.09 L650.40,208.36 L650.70,206.99 L651.00,208.37 L651.30,209.25 L651.60,206.86 L651.90,209.04 L652.20,207.87 L652.50,208.44 L652.80,208.75 L653.10,209.23 L653.40,211.17 L653.70,210.18 L654.00,210.20 L654.30,210.44 L654.60,211.73 L654.90,210.42 L655.20,211.40 L655.50,212.47 L655.80,212.18 L656.10,213.23 L656.40,212.96 L656.70,217.03 L657.00,216.49 L657.30,215.65 L657.60,215.32 L657.90,218.81 L658.20,216.54 L658.50,216.28 L658.80,217.13 L659.10,217.43 L659.40,219.27 L659.70,217.56 L660.00,220.81 L660.30,216.92 L660.60,219.41 L660.90,217.31 L661.20,221.53 L661.50,218.79 L661.80,219.44 L662.10,221.07 L662.40,221.80 L662.70,218.74 L663.00,220.06 L663.30,218.84 L663.60,221.23 L663.90,221.14 L664.20,221.03 L664.50,220.80 L664.80,221.45 L665.10,221.18 L665.40,223.19 L665.70,224.80 L666.00,220.19 L666.30,222.95 L666.60,222.74 L666.90,224.23 L667.20,222.42 L667.50,223.76 L667.80,222.71 L668.10,225.34 L668.40,224.70 L668.70,224.54 L669.00,225.47 L669.30,224.80 L669.60,223.16 L669.90,226.36 L670.20,226.12 L670.50,225.69 L670.80,227.49 L671.10,228.01 L671.40,224.98 L671.70,225.62 L672.00,229.08 L672.30,229.10 L672.60,226.29 L672.90,225.87 L673.20,226.84 L673.50,227.24 L673.80,225.92 L674.10,228.39 L674.40,226.75 L674.70,227.05 L675.00,230.22 L675.30,228.18 L675.60,229.23 L675.90,230.40 L676.20,230.84 L676.50,229.41 L676.80,230.12 L677.10,229.08 L677.40,232.85 L677.70,231.47 L678.00,229.17 L678.30,230.88 L678.60,232.01 L678.90,231.82 L679.20,233.84 L679.50,233.33 L679.80,230.77 L680.10,231.51 L680.40,229.94 L680.70,232.17 L681.00,232.12 L681.30,235.76 L681.60,232.18 L681.90,229.16 L682.20,231.20 L682.50,232.33 L682.80,230.43 L683.10,230.99 L683.40,231.69 L683.70,232.67 L684.00,231.94 L684.30,230.91 L684.60,233.23 L684.90,231.34 L685.20,231.36 L685.50,230.09 L685.80,230.87 L686.10,232.83 L686.40,229.60 L686.70,231.71 L687.00,232.75 L687.30,231.15 L687.60,231.95 L687.90,229.98 L688.20,233.30 L688.50,232.94 L688.80,231.65 L689.10,228.78 L689.40,229.70 L689.70,232.45 L690.00,233.40 L690.30,231.33 L690.60,232.56 L690.90,229.84 L691.20,230.30 L691.50,230.43 L691.80,230.87 L692.10,227.98 L692.40,231.26 L692.70,231.62 L693.00,227.97 L693.30,227.49 L693.60,229.68 L693.90,228.06 L694.20,225.45 L694.50,229.69 L694.80,228.55 L695.10,227.45 L695.40,230.85 L695.70,227.86 L696.00,226.39 L696.30,227.36 L696.60,225.54 L696.90,225.71 L697.20,227.09 L697.50,225.56 L697.80,225.50 L698.10,228.26 L698.40,226.92 L698.70,226.65 L699.00,226.08 L699.30,225.83 L699.60,227.02 L699.90,224.78 L700.20,227.23 L700.50,223.12 L700.80,223.92 L701.10,222.16 L701.40,223.42 L701.70,224.43 L702.00,225.53 L702.30,222.36 L702.60,223.07 L702.90,222.33 L703.20,221.57 L703.50,220.69 L703.80,222.19 L704.10,219.42 L704.40,221.73 L704.70,221.32 L705.00,220.08 L705.30,219.28 L705.60,218.45 L705.90,222.68 L706.20,217.85 L706.50,221.57 L706.80,219.87 L707.10,218.15 L707.40,216.66 L707.70,219.34 L708.00,219.89 L708.30,215.74 L708.60,216.19 L708.90,217.63 L709.20,216.15 L709.50,217.99 L709.80,213.87 L710.10,214.88 L710.40,211.79 L710.70,215.88 L711.00,211.29 L711.30,208.56 L711.60,210.79 L711.90,210.05 L712.20,212.18 L712.50,208.23 L712.80,207.84 L713.10,207.80 L713.40,208.24 L713.70,204.92 L714.00,205.40 L714.30,203.53 L714.60,201.17 L714.90,200.35 L715.20,198.80 L715.50,195.87 L715.80,197.12 L716.10,191.65 L716.40,193.30 L716.70,190.95 L717.00,187.22 L717.30,183.82 L717.60,181.98 L717.90,180.25 L718.20,177.85 L718.50,174.40 L718.80,172.47 L719.10,167.21 L719.40,165.12 L719.70,159.34 L720.00,159.35 L720.30,155.29 L720.60,151.39 L720.90,150.47 L721.20,146.67 L721.50,138.64 L721.80,139.59 L722.10,134.58 L722.40,135.36 L722.70,134.76 L723.00,127.94 L723.30,126.23 L723.60,123.35 L723.90,121.98 L724.20,120.47 L724.50,119.80 L724.80,115.31 L725.10,117.72 L725.40,113.20 L725.70,114.04 L726.00,114.62 L726.30,113.46 L726.60,110.63 L726.90,110.51 L727.20,110.48 L727.50,110.82 L727.80,112.41 L728.10,109.38 L728.40,112.89 L728.70,114.66 L729.00,116.54 L729.30,118.57 L729.60,122.28 L729.90,123.00 L730.20,125.54 L730.50,127.21 L730.80,131.09 L731.10,128.17 L731.40,134.97 L731.70,135.25 L732.00,137.77 L732.30,139.46 L732.60,140.98 L732.90,145.96 L733.20,148.57 L733.50,153.38 L733.80,153.94 L734.10,161.90 L734.40,164.96 L734.70,169.38 L735.00,174.00 L735.30,178.93 L735.60,182.92 L735.90,187.31 L736.20,190.68 L736.50,192.78 L736.80,193.25 L737.10,196.90 L737.40,197.92 L737.70,201.17 L738.00,205.20 L738.30,205.01 L738.60,205.14 L738.90,204.67 L739.20,206.25 L739.50,207.09 L739.80,211.64 L740.10,210.67 L740.40,212.89 L740.70,212.94 L741.00,214.88 L741.30,217.61 L741.60,215.54 L741.90,216.84 L742.20,216.96 L742.50,220.05 L742.80,218.10 L743.10,218.64 L743.40,218.95 L743.70,219.57 L744.00,222.83 L744.30,226.38 L744.60,221.98 L744.90,225.28 L745.20,224.85 L745.50,223.49 L745.80,225.16 L746.10,225.71 L746.40,225.54 L746.70,229.67 L747.00,224.73 L747.30,228.35 L747.60,228.69 L747.90,227.81 L748.20,229.21 L748.50,230.60 L748.80,229.94 L749.10,230.66 L749.40,231.38 L749.70,227.89 L750.00,233.11 L750.30,234.53 L750.60,233.01 L750.90,233.33 L751.20,230.21 L751.50,232.27 L751.80,231.56 L752.10,232.12 L752.40,234.54 L752.70,232.30 L753.00,233.48 L753.30,231.22 L753.60,233.89 L753.90,234.46 L754.20,233.56 L754.50,233.74 L754.80,237.59 L755.10,233.45 L755.40,233.87 L755.70,234.39 L756.00,237.38 L756.30,238.81 L756.60,236.50 L756.90,235.20 L757.20,235.76 L757.50,238.03 L757.80,235.43 L758.10,238.92 L758.40,239.04 L758.70,237.32 L759.00,238.27 L759.30,238.55 L759.60,239.79 L759.90,236.23 L760.20,239.42 L760.50,237.27 L760.80,236.72 L761.10,237.92 L761.40,237.44 L761.70,236.31 L762.00,235.40 L762.30,236.24 L762.60,239.51 L762.90,240.12 L763.20,238.18 L763.50,238.81 L763.80,236.29 L764.10,236.77 L764.40,237.12 L764.70,235.06 L765.00,235.02 L765.30,236.38 L765.60,235.62 L765.90,234.40 L766.20,236.24 L766.50,235.14 L766.80,236.75 L767.10,235.12 L767.40,234.51 L767.70,234.91 L768.00,234.29 L768.30,233.40 L768.60,233.58 L768.90,234.99 L769.20,234.65 L769.50,235.36 L769.80,231.00 L770.10,232.63 L770.40,232.42 L770.70,233.07 L771.00,232.03 L771.30,231.78 L771.60,233.44 L771.90,232.45 L772.20,230.42 L772.50,233.77 L772.80,233.14 L773.10,230.77 L773.40,232.57 L773.70,230.20 L774.00,232.63 L774.30,230.56 L774.60,229.56 L774.90,229.98 L775.20,229.25 L775.50,230.41 L775.80,230.21 L776.10,229.84 L776.40,228.84 L776.70,224.32 L777.00,229.42 L777.30,226.48 L777.60,229.33 L777.90,230.43 L778.20,229.10 L778.50,228.05 L778.80,228.24 L779.10,228.20 L779.40,227.54 L779.70,227.42 L780.00,226.88 L780.30,229.80 L780.60,228.09 L780.90,229.44 L781.20,227.77 L781.50,228.26 L781.80,227.99 L782.10,228.98 L782.40,229.61 L782.70,228.93 L783.00,227.82 L783.30,227.86 L783.60,231.48 L783.90,228.98 L784.20,229.20 L784.50,231.90 L784.80,231.63 L785.10,231.12 L785.40,230.08 L785.70,234.22 L786.00,231.75 L786.30,232.25 L786.60,231.53 L786.90,230.08 L787.20,230.47 L787.50,233.18 L787.80,233.43 L788.10,232.81 L788.40,231.76 L788.70,231.62 L789.00,233.41 L789.30,232.04 L789.60,235.54 L789.90,236.07 L790.20,238.60 L790.50,236.05 L790.80,234.17 L791.10,233.96 L791.40,230.53 L791.70,234.71 L792.00,235.48 L792.30,237.27 L792.60,236.95 L792.90,237.10 L793.20,236.76 L793.50,237.57 L793.80,238.85 L794.10,235.51 L794.40,236.53 L794.70,235.40 L795.00,239.79 L795.30,239.50 L795.60,238.91 L795.90,236.34 L796.20,238.41 L796.50,238.00 L796.80,238.59 L797.10,238.36 L797.40,239.49 L797.70,238.35 L798.00,240.23 L798.30,239.49 L798.60,238.86 L798.90,239.23 L799.20,238.88 L799.50,240.73 L799.80,239.31 L800.10,240.18 L800.40,239.30 L800.70,237.84 L801.00,241.25 L801.30,238.56 L801.60,241.04 L801.90,240.73 L802.20,237.88 L802.50,238.92 L802.80,239.58 L803.10,239.20 L803.40,238.74 L803.70,241.48 L804.00,240.15 L804.30,241.07 L804.60,239.97 L804.90,241.05 L805.20,239.61 L805.50,240.67 L805.80,241.56 L806.10,240.85 L806.40,240.19 L806.70,239.35 L807.00,241.14 L807.30,241.43 L807.60,240.62 L807.90,239.94 L808.20,241.81 L808.50,244.56 L808.80,240.70 L809.10,241.63 L809.40,241.72 L809.70,237.63 L810.00,241.43 L810.30,240.29 L810.60,243.25 L810.90,240.99 L811.20,240.29 L811.50,241.10 L811.80,241.66 L812.10,240.68 L812.40,241.41 L812.70,239.62 L813.00,241.23 L813.30,242.65 L813.60,244.35 L813.90,242.61 L814.20,242.02 L814.50,243.32 L814.80,243.12 L815.10,244.05 L815.40,243.26 L815.70,241.60 L816.00,242.15 L816.30,242.06 L816.60,242.25 L816.90,242.13 L817.20,240.78 L817.50,238.95 L817.80,240.98 L818.10,239.10 L818.40,242.05 L818.70,241.99 L819.00,239.66 L819.30,242.98 L819.60,243.26 L819.90,242.20 L820.20,244.42 L820.50,244.72 L820.80,240.43 L821.10,243.59 L821.40,242.78 L821.70,242.77 L822.00,243.51 L822.30,241.21 L822.60,241.41 L822.90,241.10 L823.20,241.22 L823.50,242.16 L823.80,240.29 L824.10,240.87 L824.40,243.17 L824.70,242.28 L825.00,242.93 L825.30,239.77 L825.60,241.33 L825.90,241.67 L826.20,242.51 L826.50,241.66 L826.80,243.80 L827.10,242.43 L827.40,242.55 L827.70,242.56 L828.00,243.55 L828.30,241.91 L828.60,244.16 L828.90,243.25 L829.20,242.83 L829.50,242.69 L829.80,243.37 L830.10,244.08 L830.40,243.99 L830.70,243.21 L831.00,243.92 L831.30,242.88 L831.60,244.48 L831.90,242.70 L832.20,239.84 L832.50,244.63 L832.80,242.92 L833.10,241.15 L833.40,242.52 L833.70,241.57 L834.00,245.76 L834.30,243.53 L834.60,240.65 L834.90,243.62 L835.20,242.31 L835.50,245.57 L835.80,241.42 L836.10,239.76 L836.40,243.01 L836.70,242.45 L837.00,242.36 L837.30,239.96 L837.60,243.57 L837.90,245.33 L838.20,240.32 L838.50,244.65 L838.80,242.22 L839.10,246.32 L839.40,243.66 L839.70,242.80 L840.00,244.62 L840.30,243.82 L840.60,242.27 L840.90,244.11 L841.20,242.42 L841.50,240.64 L841.80,246.00 L842.10,242.69 L842.40,242.34 L842.70,243.68 L843.00,241.04 L843.30,241.34 L843.60,242.56 L843.90,242.54 L844.20,243.39 L844.50,244.88 L844.80,242.66 L845.10,244.03 L845.40,244.20 L845.70,241.86 L846.00,243.72 L846.30,242.10 L846.60,244.93 L846.90,244.10 L847.20,243.51 L847.50,241.63 L847.80,243.69 L848.10,242.48 L848.40,244.57 L848.70,243.44 L849.00,242.49 L849.30,244.95 L849.60,244.69 L849.90,242.88 L850.20,245.37 L850.50,243.35 L850.80,243.36 L851.10,244.00 L851.40,242.80 L851.70,243.27 L852.00,243.69 L852.30,246.09 L852.60,246.08 L852.90,243.65 L853.20,246.29 L853.50,244.01 L853.80,244.64 L854.10,245.37 L854.40,244.58 L854.70,247.58 L855.00,244.58 L855.30,242.59 L855.60,246.13 L855.90,243.76 L856.20,243.94 L856.50,240.22 L856.80,245.84 L857.10,245.62 L857.40,245.62 L857.70,245.91 L858.00,246.94 L858.30,244.54 L858.60,245.95 L858.90,243.63 L859.20,244.21 L859.50,246.22 L859.80,245.32 L860.10,242.94 L860.40,245.35 L860.70,244.62 L861.00,243.76 L861.30,245.55 L861.60,244.41 L861.90,242.81 L862.20,243.48 L862.50,247.54 L862.80,242.98 L863.10,245.44 L863.40,246.01 L863.70,246.08 L864.00,243.50 L864.30,244.80 L864.60,245.47 L864.90,246.43 L865.20,244.43 L865.50,243.73 L865.80,246.79 L866.10,246.96 L866.40,245.96 L866.70,244.61 L867.00,246.06 L867.30,245.66 L867.60,246.71 L867.90,243.81 L868.20,245.74 L868.50,245.38 L868.80,244.07 L869.10,245.94 L869.40,245.71 L869.70,245.11 L870.00,246.26 L870.30,243.74 L870.60,245.67 L870.90,246.37 L871.20,246.19 L871.50,247.32 L871.80,244.15 L872.10,243.75 L872.40,246.22 L872.70,246.54 L873.00,248.89 L873.30,246.81 L873.60,244.75 L873.90,247.12 L874.20,244.83 L874.50,243.95 L874.80,249.71 L875.10,246.53 L875.40,247.10 L875.70,246.91 L876.00,248.68 L876.30,246.56 L876.60,247.89 L876.90,244.77 L877.20,244.28 L877.50,248.25 L877.80,248.33 L878.10,247.00 L878.40,246.63 L878.70,246.56 L879.00,245.39 L879.30,248.52 L879.60,247.31 L879.90,247.11 L880.20,246.95 L880.50,247.91 L880.80,247.17 L881.10,247.52 L881.40,244.86 L881.70,247.23 L882.00,249.59 L882.30,245.82 L882.60,246.38 L882.90,247.83 L883.20,247.93 L883.50,247.48 L883.80,244.36 L884.10,247.34 L884.40,244.99 L884.70,245.51 L885.00,247.44 L885.30,246.27 L885.60,247.83 L885.90,251.11 L886.20,247.81 L886.50,247.74 L886.80,245.48 L887.10,245.85 L887.40,245.26 L887.70,246.02 L888.00,245.24 L888.30,245.85 L888.60,246.49 L888.90,245.38 L889.20,244.80 L889.50,244.89 L889.80,247.43 L890.10,246.88 L890.40,248.24 L890.70,248.26 L891.00,246.32 L891.30,247.74 L891.60,244.78 L891.90,249.99 L892.20,248.46 L892.50,246.49 L892.80,245.15 L893.10,247.31 L893.40,244.15 L893.70,245.67 L894.00,247.80 L894.30,246.85 L894.60,246.04 L894.90,248.05 L895.20,245.25 L895.50,247.09 L895.80,245.98 L896.10,245.48 L896.40,247.30 L896.70,245.24 L897.00,249.27 L897.30,245.78 L897.60,249.36 L897.90,245.02 L898.20,247.38 L898.50,244.83 L898.80,244.61 L899.10,246.69 L899.40,247.39 L899.70,244.64 L900.00,248.05 L900.30,245.25 L900.60,246.53 L900.90,246.85 L901.20,247.12 L901.50,243.74 L901.80,248.50 L902.10,246.99 L902.40,245.58 L902.70,244.71 L903.00,243.74 L903.30,244.17 L903.60,246.81 L903.90,245.53 L904.20,244.39 L904.50,245.18 L904.80,248.03 L905.10,245.28 L905.40,244.82 L905.70,247.40 L906.00,246.03 L906.30,245.30 L906.60,244.24 L906.90,242.77 L907.20,243.14 L907.50,243.95 L907.80,244.16 L908.10,244.82 L908.40,244.94 L908.70,244.34 L909.00,244.21 L909.30,242.37 L909.60,240.65 L909.90,242.85 L910.20,242.17 L910.50,242.53 L910.80,243.03 L911.10,241.66 L911.40,241.86 L911.70,243.32 L912.00,243.70 L912.30,242.71 L912.60,244.45 L912.90,243.58 L913.20,242.61 L913.50,244.27 L913.80,247.02 L914.10,243.63 L914.40,246.40 L914.70,246.89 L915.00,247.25 L915.30,244.19 L915.60,248.35 L915.90,245.87 L916.20,245.52 L916.50,245.71 L916.80,247.01 L917.10,246.36 L917.40,246.13 L917.70,248.25 L918.00,245.49 L918.30,245.07 L918.60,247.67 L918.90,247.57 L919.20,248.15 L919.50,245.15 L919.80,248.19 L920.10,247.37 L920.40,249.19 L920.70,245.00 L921.00,247.08 L921.30,246.41 L921.60,244.60 L921.90,245.84 L922.20,248.45 L922.50,246.23 L922.80,245.90 L923.10,248.14 L923.40,248.33 L923.70,248.35 L924.00,245.88 L924.30,246.92 L924.60,248.46 L924.90,246.12 L925.20,246.00 L925.50,248.22 L925.80,249.26 L926.10,245.48 L926.40,243.47 L926.70,245.08 L927.00,245.71 L927.30,246.94 L927.60,248.01 L927.90,246.95 L928.20,246.18 L928.50,247.38 L928.80,245.83 L929.10,247.11 L929.40,246.29 L929.70,250.94 L930.00,248.34 L930.30,246.03 L930.60,245.80 L930.90,246.59 L931.20,244.90 L931.50,246.17 L931.80,246.15 L932.10,248.39 L932.40,246.51 L932.70,245.95 L933.00,245.11 L933.30,245.27 L933.60,246.73 L933.90,246.43 L934.20,248.22 L934.50,245.64 L934.80,247.88 L935.10,246.64 L935.40,246.14 L935.70,243.20 L936.00,244.07 L936.30,246.77 L936.60,247.55 L936.90,245.73 L937.20,246.37 L937.50,244.58 L937.80,244.48 L938.10,243.93 L938.40,246.08 L938.70,245.05 L939.00,244.10 L939.30,243.84 L939.60,244.95 L939.90,244.49 L940.20,242.75 L940.50,246.19 L940.80,244.00 L941.10,243.50 L941.40,245.40 L941.70,244.59 L942.00,242.87 L942.30,243.57 L942.60,241.14 L942.90,241.57 L943.20,239.12 L943.50,243.82 L943.80,239.28 L944.10,242.73 L944.40,240.45 L944.70,240.09 L945.00,241.04 L945.30,241.55 L945.60,241.91 L945.90,243.42 L946.20,241.34 L946.50,241.99 L946.80,239.85 L947.10,241.64 L947.40,240.83 L947.70,239.95 L948.00,240.48 L948.30,240.56 L948.60,240.97 L948.90,241.34 L949.20,240.16 L949.50,239.95 L949.80,242.15 L950.10,238.87 L950.40,240.53 L950.70,243.73 L951.00,237.93 L951.30,240.93 L951.60,243.04 L951.90,239.96 L952.20,246.09 L952.50,239.02 L952.80,244.84 L953.10,245.19 L953.40,244.47 L953.70,243.05 L954.00,244.02 L954.30,242.42 L954.60,244.96 L954.90,242.39 L955.20,243.70 L955.50,245.60 L955.80,242.77 L956.10,243.95 L956.40,244.81 L956.70,242.83 L957.00,246.47 L957.30,245.44 L957.60,242.97 L957.90,245.15 L958.20,244.25 L958.50,244.54 L958.80,245.69 L959.10,244.71 L959.40,247.18 L959.70,244.96 L960.00,247.43 L960.30,246.11 L960.60,247.47 L960.90,245.62 L961.20,245.77 L961.50,244.97 L961.80,247.48 L962.10,248.07 L962.40,249.81 L962.70,248.73 L963.00,247.35 L963.30,246.77 L963.60,247.67 L963.90,247.14 L964.20,249.28 L964.50,248.61 L964.80,246.16 L965.10,246.42 L965.40,249.35 L965.70,247.91 L966.00,247.21 L966.30,249.24 L966.60,247.08 L966.90,247.28 L967.20,247.08 L967.50,245.02 L967.80,249.02 L968.10,246.17 L968.40,247.11 L968.70,246.91 L969.00,249.01 L969.30,247.94 L969.60,248.10 L969.90,245.77 L970.20,248.04 L970.50,246.14 L970.80,248.68 L971.10,248.80 L971.40,248.31 L971.70,251.23 L972.00,249.15 L972.30,249.28 L972.60,248.69 L972.90,248.25 L973.20,249.91 L973.50,250.14 L973.80,246.81 L974.10,250.14 L974.40,249.42 L974.70,250.08 L975.00,249.42 L975.30,247.06 L975.60,247.19 L975.90,251.41 L976.20,249.24 L976.50,246.93 L976.80,249.43 L977.10,248.47 L977.40,246.42 L977.70,245.82 L978.00,246.81 L978.30,249.46 L978.60,249.03 L978.90,248.77 L979.20,249.54 L979.50,250.01 L979.80,246.24 L980.10,248.78 L980.40,248.07 L980.70,247.52 L981.00,248.49 L981.30,249.10 L981.60,248.92 L981.90,247.27 L982.20,248.64 L982.50,252.15 L982.80,247.86 L983.10,246.99 L983.40,249.75 L983.70,250.20 L984.00,250.03 L984.30,247.82 L984.60,250.79 L984.90,248.29 L985.20,247.81 L985.50,248.55 L985.80,249.25 L986.10,250.40 L986.40,250.27 L986.70,249.37 L987.00,250.71 L987.30,249.51 L987.60,250.65 L987.90,247.43 L988.20,247.20 L988.50,250.49 L988.80,247.45 L989.10,248.98 L989.40,249.26 L989.70,248.72 L990.00,248.77 L990.30,251.35 L990.60,245.86 L990.90,250.64 L991.20,252.61 L991.50,249.43 L991.80,249.37 L992.10,250.42 L992.40,251.96 L992.70,247.74 L993.00,249.52 L993.30,249.14 L993.60,250.18 L993.90,249.62 L994.20,250.32 L994.50,248.81 L994.80,249.47 L995.10,248.46 L995.40,248.47 L995.70,249.20 L996.00,249.20 L996.30,247.76 L996.60,251.60 L996.90,249.21 L997.20,247.46 L997.50,250.94 L997.80,248.35 L998.10,250.11 L998.40,249.38 L998.70,249.75 L999.00,249.64 L999.30,248.59 L999.60,249.46 L999.90,252.25 L1000.20,246.27 L1000.50,249.49 L1000.80,250.01 L1001.10,247.93 L1001.40,247.48 L1001.70,252.42 L1002.00,248.88 L1002.30,252.31 L1002.60,250.15 L1002.90,249.51 L1003.20,250.07 L1003.50,250.29 L1003.80,251.05 L1004.10,250.01 L1004.40,249.60 L1004.70,249.65 L1005.00,251.29 L1005.30,250.54 L1005.60,248.00 L1005.90,248.51 L1006.20,249.86 L1006.50,248.53 L1006.80,248.87 L1007.10,248.06 L1007.40,249.03 L1007.70,249.99" fill="none" stroke="#111" stroke-width="1.9" stroke-linejoin="round"/>
<path d="M83.40,341.19 L83.70,339.82 L84.00,342.73 L84.30,339.73 L84.60,344.32 L84.90,341.27 L85.20,340.59 L85.50,339.22 L85.80,335.98 L86.10,339.75 L86.40,340.24 L86.70,342.71 L87.00,338.12 L87.30,342.75 L87.60,339.77 L87.90,341.17 L88.20,336.63 L88.50,340.42 L88.80,339.79 L89.10,341.26 L89.40,340.48 L89.70,338.79 L90.00,341.76 L90.30,341.45 L90.60,341.36 L90.90,341.98 L91.20,342.16 L91.50,340.64 L91.80,338.81 L92.10,338.82 L92.40,342.70 L92.70,341.86 L93.00,341.06 L93.30,340.36 L93.60,341.06 L93.90,341.11 L94.20,340.67 L94.50,340.23 L94.80,344.32 L95.10,341.69 L95.40,340.61 L95.70,339.73 L96.00,340.64 L96.30,342.77 L96.60,342.94 L96.90,341.69 L97.20,342.19 L97.50,341.81 L97.80,340.82 L98.10,344.32 L98.40,343.16 L98.70,346.24 L99.00,341.86 L99.30,342.87 L99.60,344.45 L99.90,343.02 L100.20,341.58 L100.50,342.35 L100.80,343.97 L101.10,344.47 L101.40,344.02 L101.70,345.71 L102.00,345.86 L102.30,345.08 L102.60,344.83 L102.90,344.60 L103.20,345.89 L103.50,346.57 L103.80,345.53 L104.10,346.23 L104.40,345.30 L104.70,343.94 L105.00,344.67 L105.30,347.30 L105.60,347.00 L105.90,348.75 L106.20,346.75 L106.50,348.03 L106.80,348.81 L107.10,348.49 L107.40,346.38 L107.70,347.10 L108.00,347.67 L108.30,346.23 L108.60,348.39 L108.90,349.27 L109.20,347.27 L109.50,350.81 L109.80,347.74 L110.10,347.95 L110.40,347.99 L110.70,347.41 L111.00,349.06 L111.30,348.57 L111.60,350.92 L111.90,349.50 L112.20,349.45 L112.50,348.42 L112.80,346.78 L113.10,348.66 L113.40,347.61 L113.70,350.13 L114.00,348.76 L114.30,351.13 L114.60,349.83 L114.90,349.97 L115.20,349.12 L115.50,349.09 L115.80,349.71 L116.10,350.09 L116.40,347.81 L116.70,349.49 L117.00,352.47 L117.30,348.67 L117.60,348.44 L117.90,347.83 L118.20,346.77 L118.50,350.46 L118.80,348.89 L119.10,349.22 L119.40,351.38 L119.70,352.31 L120.00,347.56 L120.30,350.28 L120.60,349.67 L120.90,349.36 L121.20,349.47 L121.50,348.77 L121.80,351.03 L122.10,349.66 L122.40,349.29 L122.70,350.55 L123.00,350.06 L123.30,349.45 L123.60,349.26 L123.90,351.26 L124.20,349.52 L124.50,348.68 L124.80,347.60 L125.10,348.32 L125.40,347.33 L125.70,348.94 L126.00,349.14 L126.30,345.90 L126.60,348.78 L126.90,349.65 L127.20,348.95 L127.50,347.36 L127.80,350.45 L128.10,347.67 L128.40,346.90 L128.70,347.08 L129.00,348.54 L129.30,349.91 L129.60,350.13 L129.90,348.76 L130.20,346.76 L130.50,347.47 L130.80,347.10 L131.10,348.07 L131.40,345.80 L131.70,348.40 L132.00,349.11 L132.30,347.96 L132.60,348.78 L132.90,346.79 L133.20,346.03 L133.50,347.14 L133.80,349.62 L134.10,349.41 L134.40,347.29 L134.70,349.59 L135.00,347.42 L135.30,349.97 L135.60,348.50 L135.90,347.17 L136.20,348.89 L136.50,346.68 L136.80,346.43 L137.10,345.70 L137.40,348.08 L137.70,347.63 L138.00,347.59 L138.30,347.13 L138.60,349.72 L138.90,347.12 L139.20,346.73 L139.50,349.52 L139.80,349.82 L140.10,348.36 L140.40,345.52 L140.70,347.19 L141.00,348.97 L141.30,348.24 L141.60,350.49 L141.90,346.51 L142.20,349.49 L142.50,347.78 L142.80,350.64 L143.10,348.81 L143.40,350.50 L143.70,348.29 L144.00,347.37 L144.30,347.94 L144.60,348.79 L144.90,348.36 L145.20,351.63 L145.50,351.98 L145.80,350.65 L146.10,348.98 L146.40,350.42 L146.70,349.78 L147.00,352.93 L147.30,351.49 L147.60,351.89 L147.90,350.81 L148.20,348.74 L148.50,350.67 L148.80,350.39 L149.10,352.69 L149.40,352.53 L149.70,351.51 L150.00,352.33 L150.30,355.32 L150.60,352.04 L150.90,352.36 L151.20,353.60 L151.50,353.21 L151.80,353.87 L152.10,355.49 L152.40,357.46 L152.70,352.82 L153.00,355.58 L153.30,355.94 L153.60,356.05 L153.90,356.19 L154.20,356.26 L154.50,358.42 L154.80,356.64 L155.10,357.38 L155.40,357.82 L155.70,358.23 L156.00,358.09 L156.30,359.97 L156.60,358.79 L156.90,359.28 L157.20,359.18 L157.50,358.05 L157.80,358.48 L158.10,358.36 L158.40,360.27 L158.70,359.15 L159.00,358.82 L159.30,360.78 L159.60,361.33 L159.90,358.28 L160.20,363.26 L160.50,361.08 L160.80,361.03 L161.10,362.81 L161.40,361.55 L161.70,360.75 L162.00,364.80 L162.30,360.36 L162.60,361.86 L162.90,363.32 L163.20,360.77 L163.50,362.25 L163.80,363.06 L164.10,366.01 L164.40,361.52 L164.70,362.83 L165.00,363.94 L165.30,363.26 L165.60,361.58 L165.90,363.95 L166.20,363.65 L166.50,364.24 L166.80,365.31 L167.10,365.26 L167.40,364.53 L167.70,364.50 L168.00,362.64 L168.30,364.10 L168.60,364.70 L168.90,363.94 L169.20,364.74 L169.50,363.56 L169.80,366.96 L170.10,367.93 L170.40,364.47 L170.70,365.68 L171.00,364.89 L171.30,367.08 L171.60,366.02 L171.90,365.61 L172.20,365.28 L172.50,365.87 L172.80,364.38 L173.10,366.82 L173.40,364.96 L173.70,366.80 L174.00,366.32 L174.30,367.75 L174.60,366.28 L174.90,367.82 L175.20,365.18 L175.50,367.41 L175.80,366.32 L176.10,366.99 L176.40,366.89 L176.70,368.18 L177.00,364.12 L177.30,367.48 L177.60,365.01 L177.90,368.86 L178.20,364.48 L178.50,365.91 L178.80,365.04 L179.10,369.75 L179.40,365.72 L179.70,367.75 L180.00,366.91 L180.30,365.21 L180.60,367.32 L180.90,368.79 L181.20,367.66 L181.50,369.30 L181.80,367.54 L182.10,368.12 L182.40,367.63 L182.70,368.71 L183.00,370.95 L183.30,368.86 L183.60,368.69 L183.90,367.61 L184.20,367.48 L184.50,370.64 L184.80,367.10 L185.10,367.43 L185.40,368.63 L185.70,368.23 L186.00,371.62 L186.30,365.63 L186.60,369.51 L186.90,370.05 L187.20,367.54 L187.50,368.26 L187.80,369.83 L188.10,371.56 L188.40,368.04 L188.70,367.17 L189.00,370.80 L189.30,371.62 L189.60,369.07 L189.90,366.49 L190.20,371.67 L190.50,369.41 L190.80,371.32 L191.10,369.73 L191.40,369.31 L191.70,369.26 L192.00,372.00 L192.30,371.99 L192.60,367.04 L192.90,368.77 L193.20,372.61 L193.50,369.65 L193.80,368.31 L194.10,370.26 L194.40,370.15 L194.70,370.20 L195.00,369.71 L195.30,369.99 L195.60,369.83 L195.90,370.97 L196.20,369.41 L196.50,370.18 L196.80,370.42 L197.10,372.49 L197.40,371.22 L197.70,370.58 L198.00,371.52 L198.30,371.37 L198.60,372.36 L198.90,371.58 L199.20,373.42 L199.50,372.82 L199.80,370.91 L200.10,370.42 L200.40,372.27 L200.70,371.78 L201.00,370.96 L201.30,369.05 L201.60,368.58 L201.90,371.66 L202.20,372.28 L202.50,372.35 L202.80,369.44 L203.10,372.72 L203.40,370.54 L203.70,371.86 L204.00,371.92 L204.30,370.24 L204.60,370.55 L204.90,368.50 L205.20,370.14 L205.50,368.92 L205.80,372.08 L206.10,371.58 L206.40,372.79 L206.70,372.03 L207.00,370.67 L207.30,372.06 L207.60,371.05 L207.90,372.47 L208.20,372.08 L208.50,370.28 L208.80,371.69 L209.10,371.78 L209.40,371.29 L209.70,373.00 L210.00,374.16 L210.30,371.27 L210.60,371.31 L210.90,368.68 L211.20,371.66 L211.50,371.25 L211.80,368.86 L212.10,372.31 L212.40,372.75 L212.70,370.91 L213.00,371.44 L213.30,370.62 L213.60,373.06 L213.90,369.89 L214.20,371.59 L214.50,374.78 L214.80,372.13 L215.10,372.73 L215.40,371.89 L215.70,370.46 L216.00,372.08 L216.30,372.71 L216.60,370.72 L216.90,372.65 L217.20,373.92 L217.50,373.69 L217.80,369.99 L218.10,370.86 L218.40,369.97 L218.70,373.75 L219.00,373.11 L219.30,373.25 L219.60,371.05 L219.90,370.66 L220.20,372.41 L220.50,372.45 L220.80,371.12 L221.10,372.53 L221.40,373.24 L221.70,372.66 L222.00,370.90 L222.30,369.40 L222.60,372.00 L222.90,372.60 L223.20,372.01 L223.50,371.78 L223.80,371.42 L224.10,373.39 L224.40,372.32 L224.70,372.57 L225.00,371.04 L225.30,371.53 L225.60,372.63 L225.90,370.99 L226.20,370.64 L226.50,371.94 L226.80,374.08 L227.10,372.66 L227.40,374.44 L227.70,372.21 L228.00,371.95 L228.30,370.44 L228.60,371.57 L228.90,374.39 L229.20,372.83 L229.50,373.39 L229.80,373.35 L230.10,372.34 L230.40,372.06 L230.70,372.51 L231.00,373.27 L231.30,372.97 L231.60,373.01 L231.90,372.52 L232.20,371.22 L232.50,371.92 L232.80,370.96 L233.10,373.68 L233.40,369.32 L233.70,371.94 L234.00,375.58 L234.30,371.75 L234.60,370.62 L234.90,372.17 L235.20,373.99 L235.50,371.95 L235.80,373.02 L236.10,372.28 L236.40,371.61 L236.70,376.53 L237.00,372.20 L237.30,371.33 L237.60,371.38 L237.90,372.58 L238.20,372.61 L238.50,373.10 L238.80,372.20 L239.10,369.98 L239.40,372.71 L239.70,371.51 L240.00,371.53 L240.30,369.83 L240.60,371.09 L240.90,370.85 L241.20,371.80 L241.50,369.80 L241.80,371.88 L242.10,371.97 L242.40,370.20 L242.70,370.88 L243.00,370.53 L243.30,372.98 L243.60,368.15 L243.90,371.18 L244.20,369.32 L244.50,371.01 L244.80,372.78 L245.10,370.69 L245.40,371.74 L245.70,370.34 L246.00,374.22 L246.30,372.76 L246.60,373.03 L246.90,369.57 L247.20,369.87 L247.50,372.89 L247.80,371.09 L248.10,370.97 L248.40,371.78 L248.70,369.53 L249.00,372.34 L249.30,371.25 L249.60,371.86 L249.90,370.22 L250.20,371.84 L250.50,370.09 L250.80,372.37 L251.10,372.57 L251.40,372.22 L251.70,371.62 L252.00,371.73 L252.30,367.00 L252.60,371.90 L252.90,370.29 L253.20,370.75 L253.50,370.16 L253.80,368.55 L254.10,369.67 L254.40,371.28 L254.70,372.28 L255.00,369.35 L255.30,368.88 L255.60,372.11 L255.90,368.76 L256.20,372.82 L256.50,369.91 L256.80,368.52 L257.10,371.05 L257.40,371.96 L257.70,367.49 L258.00,371.60 L258.30,368.93 L258.60,371.32 L258.90,368.61 L259.20,366.84 L259.50,369.66 L259.80,370.15 L260.10,371.69 L260.40,371.07 L260.70,369.53 L261.00,368.12 L261.30,367.63 L261.60,367.84 L261.90,366.98 L262.20,367.65 L262.50,364.37 L262.80,368.07 L263.10,367.67 L263.40,371.19 L263.70,368.55 L264.00,366.71 L264.30,368.05 L264.60,365.43 L264.90,366.19 L265.20,364.30 L265.50,368.81 L265.80,367.51 L266.10,364.92 L266.40,366.36 L266.70,367.66 L267.00,366.90 L267.30,366.62 L267.60,364.76 L267.90,364.95 L268.20,365.85 L268.50,366.89 L268.80,364.31 L269.10,363.78 L269.40,366.83 L269.70,363.80 L270.00,366.48 L270.30,365.19 L270.60,365.96 L270.90,367.04 L271.20,365.44 L271.50,365.42 L271.80,362.91 L272.10,363.08 L272.40,364.80 L272.70,365.89 L273.00,365.53 L273.30,366.66 L273.60,363.68 L273.90,363.35 L274.20,364.30 L274.50,362.73 L274.80,362.43 L275.10,360.86 L275.40,363.52 L275.70,360.43 L276.00,362.44 L276.30,359.53 L276.60,362.85 L276.90,359.66 L277.20,362.06 L277.50,358.44 L277.80,359.82 L278.10,361.87 L278.40,358.86 L278.70,359.85 L279.00,358.86 L279.30,356.06 L279.60,359.49 L279.90,359.43 L280.20,357.04 L280.50,359.15 L280.80,356.99 L281.10,356.46 L281.40,357.63 L281.70,356.42 L282.00,360.34 L282.30,354.71 L282.60,357.68 L282.90,357.78 L283.20,353.38 L283.50,353.48 L283.80,356.45 L284.10,354.74 L284.40,355.71 L284.70,356.52 L285.00,354.17 L285.30,352.96 L285.60,350.38 L285.90,354.25 L286.20,352.43 L286.50,353.93 L286.80,353.58 L287.10,351.08 L287.40,355.20 L287.70,354.08 L288.00,353.52 L288.30,350.45 L288.60,351.32 L288.90,350.90 L289.20,350.87 L289.50,349.66 L289.80,351.64 L290.10,351.14 L290.40,351.13 L290.70,349.71 L291.00,352.03 L291.30,350.29 L291.60,346.01 L291.90,348.76 L292.20,349.39 L292.50,350.65 L292.80,348.71 L293.10,348.61 L293.40,347.87 L293.70,349.58 L294.00,347.87 L294.30,347.52 L294.60,347.19 L294.90,348.88 L295.20,347.24 L295.50,345.52 L295.80,348.63 L296.10,346.67 L296.40,348.05 L296.70,347.97 L297.00,349.03 L297.30,348.71 L297.60,346.34 L297.90,346.82 L298.20,345.14 L298.50,349.19 L298.80,347.36 L299.10,348.59 L299.40,346.08 L299.70,343.54 L300.00,348.43 L300.30,346.29 L300.60,346.22 L300.90,345.97 L301.20,346.65 L301.50,346.34 L301.80,343.20 L302.10,346.78 L302.40,344.33 L302.70,344.22 L303.00,347.09 L303.30,345.74 L303.60,343.75 L303.90,341.33 L304.20,343.81 L304.50,343.94 L304.80,342.62 L305.10,340.49 L305.40,340.59 L305.70,339.36 L306.00,340.81 L306.30,341.02 L306.60,340.65 L306.90,337.52 L307.20,338.19 L307.50,337.94 L307.80,335.75 L308.10,335.56 L308.40,337.98 L308.70,334.47 L309.00,334.53 L309.30,331.76 L309.60,331.46 L309.90,328.00 L310.20,329.34 L310.50,330.02 L310.80,330.26 L311.10,327.97 L311.40,326.25 L311.70,324.39 L312.00,322.53 L312.30,322.24 L312.60,322.48 L312.90,319.64 L313.20,321.12 L313.50,317.47 L313.80,315.38 L314.10,315.46 L314.40,313.55 L314.70,312.97 L315.00,315.52 L315.30,312.72 L315.60,312.42 L315.90,312.91 L316.20,312.29 L316.50,309.14 L316.80,311.11 L317.10,309.30 L317.40,308.39 L317.70,308.75 L318.00,306.01 L318.30,306.93 L318.60,308.05 L318.90,309.36 L319.20,308.41 L319.50,309.28 L319.80,311.45 L320.10,312.78 L320.40,312.67 L320.70,314.23 L321.00,312.79 L321.30,313.87 L321.60,315.72 L321.90,315.84 L322.20,316.55 L322.50,320.56 L322.80,318.94 L323.10,318.80 L323.40,321.74 L323.70,324.47 L324.00,322.85 L324.30,325.35 L324.60,323.95 L324.90,324.84 L325.20,325.55 L325.50,327.34 L325.80,331.14 L326.10,328.00 L326.40,332.96 L326.70,330.30 L327.00,332.43 L327.30,334.95 L327.60,335.67 L327.90,336.17 L328.20,334.41 L328.50,338.14 L328.80,337.06 L329.10,342.91 L329.40,339.77 L329.70,341.02 L330.00,339.78 L330.30,341.26 L330.60,340.61 L330.90,344.28 L331.20,343.02 L331.50,344.65 L331.80,343.37 L332.10,344.09 L332.40,347.05 L332.70,344.34 L333.00,343.61 L333.30,347.13 L333.60,345.38 L333.90,346.76 L334.20,349.03 L334.50,346.97 L334.80,349.69 L335.10,347.83 L335.40,351.17 L335.70,351.22 L336.00,348.96 L336.30,349.55 L336.60,348.89 L336.90,350.50 L337.20,351.97 L337.50,348.45 L337.80,351.83 L338.10,348.74 L338.40,349.39 L338.70,348.06 L339.00,353.43 L339.30,350.46 L339.60,350.57 L339.90,349.11 L340.20,351.34 L340.50,346.67 L340.80,349.40 L341.10,352.18 L341.40,348.26 L341.70,348.52 L342.00,349.12 L342.30,346.72 L342.60,347.56 L342.90,348.54 L343.20,347.13 L343.50,347.05 L343.80,345.72 L344.10,346.34 L344.40,345.63 L344.70,347.21 L345.00,345.79 L345.30,344.01 L345.60,340.48 L345.90,344.45 L346.20,344.05 L346.50,341.24 L346.80,339.26 L347.10,340.00 L347.40,342.45 L347.70,339.23 L348.00,339.66 L348.30,340.23 L348.60,341.27 L348.90,339.18 L349.20,338.71 L349.50,337.74 L349.80,340.45 L350.10,339.33 L350.40,337.37 L350.70,335.23 L351.00,335.76 L351.30,337.37 L351.60,335.26 L351.90,337.23 L352.20,336.20 L352.50,335.84 L352.80,336.08 L353.10,335.61 L353.40,333.46 L353.70,333.93 L354.00,337.39 L354.30,332.15 L354.60,332.90 L354.90,334.79 L355.20,332.82 L355.50,331.67 L355.80,330.74 L356.10,333.16 L356.40,333.68 L356.70,334.09 L357.00,332.12 L357.30,333.47 L357.60,330.56 L357.90,332.26 L358.20,331.12 L358.50,332.37 L358.80,333.26 L359.10,333.79 L359.40,331.02 L359.70,334.30 L360.00,332.00 L360.30,331.37 L360.60,332.73 L360.90,331.09 L361.20,333.32 L361.50,333.91 L361.80,333.42 L362.10,334.66 L362.40,333.68 L362.70,334.34 L363.00,332.54 L363.30,334.85 L363.60,333.82 L363.90,334.62 L364.20,335.35 L364.50,336.02 L364.80,333.76 L365.10,334.22 L365.40,336.38 L365.70,337.88 L366.00,338.17 L366.30,339.40 L366.60,340.47 L366.90,339.86 L367.20,339.68 L367.50,338.82 L367.80,339.50 L368.10,340.75 L368.40,342.35 L368.70,342.87 L369.00,343.15 L369.30,343.50 L369.60,345.17 L369.90,345.14 L370.20,345.81 L370.50,346.35 L370.80,345.67 L371.10,345.49 L371.40,348.15 L371.70,348.61 L372.00,348.29 L372.30,348.62 L372.60,353.01 L372.90,349.39 L373.20,350.80 L373.50,352.12 L373.80,350.79 L374.10,353.23 L374.40,356.23 L374.70,355.67 L375.00,355.89 L375.30,356.46 L375.60,356.39 L375.90,358.17 L376.20,357.17 L376.50,357.34 L376.80,358.59 L377.10,360.19 L377.40,359.83 L377.70,360.71 L378.00,357.29 L378.30,362.11 L378.60,363.98 L378.90,362.79 L379.20,360.63 L379.50,359.98 L379.80,361.59 L380.10,359.75 L380.40,361.95 L380.70,359.89 L381.00,361.56 L381.30,361.63 L381.60,356.31 L381.90,358.96 L382.20,356.92 L382.50,355.25 L382.80,355.67 L383.10,355.56 L383.40,356.66 L383.70,352.41 L384.00,355.18 L384.30,355.57 L384.60,352.54 L384.90,351.37 L385.20,349.50 L385.50,346.83 L385.80,348.27 L386.10,347.24 L386.40,347.09 L386.70,349.24 L387.00,346.52 L387.30,346.30 L387.60,348.45 L387.90,345.25 L388.20,346.62 L388.50,348.96 L388.80,349.93 L389.10,353.21 L389.40,353.16 L389.70,357.32 L390.00,358.13 L390.30,358.11 L390.60,357.53 L390.90,359.99 L391.20,361.32 L391.50,359.74 L391.80,362.75 L392.10,364.25 L392.40,364.52 L392.70,367.34 L393.00,367.70 L393.30,365.64 L393.60,367.74 L393.90,367.17 L394.20,369.92 L394.50,368.66 L394.80,371.93 L395.10,371.94 L395.40,373.50 L395.70,372.67 L396.00,371.55 L396.30,376.76 L396.60,374.72 L396.90,377.54 L397.20,376.84 L397.50,377.78 L397.80,379.96 L398.10,378.40 L398.40,380.37 L398.70,376.77 L399.00,380.47 L399.30,379.27 L399.60,379.72 L399.90,380.18 L400.20,380.85 L400.50,382.86 L400.80,378.12 L401.10,380.95 L401.40,380.05 L401.70,382.84 L402.00,380.77 L402.30,382.15 L402.60,381.09 L402.90,382.72 L403.20,383.34 L403.50,381.49 L403.80,382.23 L404.10,380.30 L404.40,382.83 L404.70,383.71 L405.00,381.84 L405.30,384.29 L405.60,379.91 L405.90,380.32 L406.20,381.06 L406.50,382.42 L406.80,383.21 L407.10,383.16 L407.40,383.26 L407.70,384.44 L408.00,382.85 L408.30,381.82 L408.60,381.92 L408.90,386.69 L409.20,380.51 L409.50,383.63 L409.80,385.99 L410.10,384.69 L410.40,382.92 L410.70,384.16 L411.00,385.43 L411.30,385.98 L411.60,383.10 L411.90,385.49 L412.20,384.85 L412.50,386.11 L412.80,386.58 L413.10,384.22 L413.40,382.75 L413.70,385.40 L414.00,387.41 L414.30,385.95 L414.60,385.37 L414.90,388.48 L415.20,383.72 L415.50,386.50 L415.80,384.50 L416.10,385.42 L416.40,385.53 L416.70,387.58 L417.00,384.20 L417.30,384.82 L417.60,383.39 L417.90,386.35 L418.20,385.08 L418.50,386.36 L418.80,384.31 L419.10,385.36 L419.40,387.37 L419.70,385.72 L420.00,386.89 L420.30,386.81 L420.60,385.62 L420.90,383.99 L421.20,387.60 L421.50,386.52 L421.80,387.71 L422.10,383.57 L422.40,384.13 L422.70,383.51 L423.00,385.35 L423.30,388.10 L423.60,387.50 L423.90,386.73 L424.20,387.03 L424.50,387.99 L424.80,386.58 L425.10,387.64 L425.40,387.37 L425.70,384.22 L426.00,386.85 L426.30,389.41 L426.60,387.08 L426.90,387.56 L427.20,387.05 L427.50,387.36 L427.80,389.77 L428.10,387.97 L428.40,387.07 L428.70,384.31 L429.00,388.02 L429.30,386.24 L429.60,386.61 L429.90,390.44 L430.20,390.49 L430.50,386.99 L430.80,391.04 L431.10,390.66 L431.40,389.09 L431.70,391.38 L432.00,388.24 L432.30,389.00 L432.60,388.83 L432.90,389.44 L433.20,392.38 L433.50,389.43 L433.80,389.83 L434.10,390.24 L434.40,391.98 L434.70,391.36 L435.00,393.15 L435.30,391.06 L435.60,390.35 L435.90,391.54 L436.20,392.38 L436.50,391.09 L436.80,392.85 L437.10,395.05 L437.40,391.73 L437.70,392.63 L438.00,394.48 L438.30,391.68 L438.60,391.37 L438.90,390.97 L439.20,392.97 L439.50,393.03 L439.80,391.97 L440.10,392.08 L440.40,393.64 L440.70,392.88 L441.00,389.51 L441.30,391.25 L441.60,391.19 L441.90,391.82 L442.20,390.27 L442.50,389.45 L442.80,389.48 L443.10,387.40 L443.40,389.60 L443.70,388.54 L444.00,389.74 L444.30,387.34 L444.60,387.84 L444.90,386.73 L445.20,386.24 L445.50,388.32 L445.80,386.28 L446.10,387.12 L446.40,384.48 L446.70,385.72 L447.00,382.72 L447.30,383.90 L447.60,383.31 L447.90,384.20 L448.20,382.97 L448.50,381.75 L448.80,382.40 L449.10,380.68 L449.40,380.31 L449.70,379.74 L450.00,377.65 L450.30,376.38 L450.60,376.27 L450.90,374.22 L451.20,374.31 L451.50,374.27 L451.80,372.85 L452.10,370.04 L452.40,367.65 L452.70,368.17 L453.00,366.83 L453.30,367.25 L453.60,363.82 L453.90,362.67 L454.20,362.55 L454.50,359.38 L454.80,358.30 L455.10,359.37 L455.40,357.47 L455.70,354.66 L456.00,352.51 L456.30,349.12 L456.60,349.50 L456.90,346.94 L457.20,345.22 L457.50,342.17 L457.80,340.79 L458.10,338.41 L458.40,336.93 L458.70,336.28 L459.00,332.57 L459.30,327.53 L459.60,326.27 L459.90,323.22 L460.20,322.17 L460.50,321.94 L460.80,319.67 L461.10,316.29 L461.40,315.59 L461.70,312.35 L462.00,309.68 L462.30,307.86 L462.60,306.70 L462.90,307.92 L463.20,302.07 L463.50,303.68 L463.80,301.83 L464.10,297.80 L464.40,296.14 L464.70,293.60 L465.00,292.80 L465.30,292.27 L465.60,290.07 L465.90,290.35 L466.20,289.73 L466.50,287.93 L466.80,287.56 L467.10,286.96 L467.40,287.81 L467.70,286.36 L468.00,289.36 L468.30,290.21 L468.60,290.07 L468.90,295.83 L469.20,293.18 L469.50,295.18 L469.80,298.76 L470.10,297.71 L470.40,301.41 L470.70,302.52 L471.00,305.42 L471.30,308.67 L471.60,311.33 L471.90,314.37 L472.20,315.90 L472.50,318.51 L472.80,319.88 L473.10,320.69 L473.40,325.28 L473.70,325.49 L474.00,327.81 L474.30,333.35 L474.60,334.89 L474.90,336.67 L475.20,340.00 L475.50,342.73 L475.80,342.13 L476.10,346.38 L476.40,347.29 L476.70,351.45 L477.00,352.60 L477.30,357.59 L477.60,358.45 L477.90,358.58 L478.20,361.73 L478.50,362.13 L478.80,365.96 L479.10,368.75 L479.40,370.42 L479.70,369.40 L480.00,373.63 L480.30,376.76 L480.60,378.35 L480.90,381.34 L481.20,379.62 L481.50,383.74 L481.80,383.56 L482.10,386.06 L482.40,387.53 L482.70,388.92 L483.00,387.97 L483.30,389.68 L483.60,388.36 L483.90,388.57 L484.20,391.86 L484.50,391.52 L484.80,389.82 L485.10,391.37 L485.40,393.05 L485.70,395.63 L486.00,395.34 L486.30,395.40 L486.60,392.17 L486.90,394.91 L487.20,396.06 L487.50,396.29 L487.80,396.64 L488.10,396.04 L488.40,399.12 L488.70,399.01 L489.00,397.08 L489.30,396.09 L489.60,400.58 L489.90,397.16 L490.20,399.82 L490.50,401.03 L490.80,397.23 L491.10,399.14 L491.40,398.42 L491.70,399.79 L492.00,399.67 L492.30,402.09 L492.60,400.33 L492.90,399.63 L493.20,401.35 L493.50,399.52 L493.80,399.51 L494.10,403.28 L494.40,399.11 L494.70,399.69 L495.00,400.54 L495.30,399.11 L495.60,397.74 L495.90,402.27 L496.20,399.79 L496.50,400.22 L496.80,400.55 L497.10,399.78 L497.40,399.74 L497.70,401.55 L498.00,404.77 L498.30,402.52 L498.60,402.61 L498.90,399.53 L499.20,401.68 L499.50,400.13 L499.80,402.94 L500.10,401.61 L500.40,402.05 L500.70,401.94 L501.00,401.31 L501.30,400.06 L501.60,403.06 L501.90,400.38 L502.20,400.72 L502.50,402.02 L502.80,401.51 L503.10,402.92 L503.40,404.03 L503.70,403.03 L504.00,403.01 L504.30,402.83 L504.60,404.05 L504.90,400.32 L505.20,403.48 L505.50,401.71 L505.80,401.34 L506.10,403.13 L506.40,402.63 L506.70,404.04 L507.00,404.82 L507.30,400.07 L507.60,403.28 L507.90,406.17 L508.20,404.69 L508.50,405.55 L508.80,403.71 L509.10,401.61 L509.40,402.09 L509.70,404.70 L510.00,405.09 L510.30,402.77 L510.60,403.46 L510.90,404.25 L511.20,401.47 L511.50,403.48 L511.80,406.27 L512.10,407.11 L512.40,403.94 L512.70,406.70 L513.00,403.44 L513.30,403.08 L513.60,401.12 L513.90,405.63 L514.20,403.80 L514.50,407.64 L514.80,404.87 L515.10,404.71 L515.40,401.95 L515.70,406.62 L516.00,404.04 L516.30,404.36 L516.60,401.54 L516.90,405.96 L517.20,406.08 L517.50,403.88 L517.80,404.90 L518.10,405.35 L518.40,406.19 L518.70,405.02 L519.00,407.32 L519.30,404.60 L519.60,404.13 L519.90,404.36 L520.20,401.50 L520.50,403.96 L520.80,406.53 L521.10,405.53 L521.40,404.05 L521.70,405.73 L522.00,402.45 L522.30,404.91 L522.60,406.09 L522.90,406.37 L523.20,404.34 L523.50,406.75 L523.80,408.12 L524.10,404.95 L524.40,406.62 L524.70,403.44 L525.00,402.91 L525.30,406.55 L525.60,405.80 L525.90,406.05 L526.20,404.99 L526.50,405.44 L526.80,407.02 L527.10,408.33 L527.40,405.65 L527.70,403.68 L528.00,407.81 L528.30,406.91 L528.60,407.05 L528.90,406.39 L529.20,409.42 L529.50,406.30 L529.80,406.95 L530.10,403.66 L530.40,405.48 L530.70,405.36 L531.00,406.31 L531.30,406.86 L531.60,405.35 L531.90,408.86 L532.20,404.96 L532.50,405.85 L532.80,406.84 L533.10,404.77 L533.40,407.35 L533.70,407.46 L534.00,406.18 L534.30,409.28 L534.60,406.74 L534.90,407.03 L535.20,405.31 L535.50,404.32 L535.80,405.80 L536.10,406.24 L536.40,406.06 L536.70,407.79 L537.00,403.37 L537.30,405.13 L537.60,404.17 L537.90,408.61 L538.20,405.94 L538.50,406.01 L538.80,405.18 L539.10,407.98 L539.40,406.14 L539.70,407.02 L540.00,403.85 L540.30,408.33 L540.60,407.23 L540.90,407.43 L541.20,408.37 L541.50,406.35 L541.80,406.37 L542.10,407.59 L542.40,407.16 L542.70,406.19 L543.00,406.57 L543.30,405.78 L543.60,407.46 L543.90,407.74 L544.20,406.40 L544.50,409.00 L544.80,404.17 L545.10,405.97 L545.40,408.66 L545.70,405.63 L546.00,403.94 L546.30,408.10 L546.60,406.87 L546.90,404.39 L547.20,407.11 L547.50,404.54 L547.80,404.05 L548.10,405.67 L548.40,405.16 L548.70,404.25 L549.00,405.22 L549.30,404.28 L549.60,405.72 L549.90,405.55 L550.20,406.58 L550.50,404.84 L550.80,403.55 L551.10,403.51 L551.40,404.96 L551.70,407.41 L552.00,406.39 L552.30,404.24 L552.60,406.40 L552.90,403.39 L553.20,406.38 L553.50,404.36 L553.80,405.91 L554.10,405.65 L554.40,404.32 L554.70,405.11 L555.00,403.08 L555.30,404.41 L555.60,405.97 L555.90,410.14 L556.20,405.31 L556.50,404.38 L556.80,402.77 L557.10,405.61 L557.40,401.73 L557.70,402.86 L558.00,404.43 L558.30,402.17 L558.60,405.95 L558.90,405.25 L559.20,402.83 L559.50,402.76 L559.80,401.59 L560.10,401.38 L560.40,403.86 L560.70,404.00 L561.00,403.51 L561.30,403.27 L561.60,401.98 L561.90,403.15 L562.20,400.45 L562.50,402.39 L562.80,404.32 L563.10,403.97 L563.40,401.32 L563.70,401.36 L564.00,403.63 L564.30,404.06 L564.60,399.31 L564.90,400.67 L565.20,401.46 L565.50,402.70 L565.80,399.68 L566.10,401.62 L566.40,400.17 L566.70,403.80 L567.00,400.94 L567.30,400.02 L567.60,399.62 L567.90,401.46 L568.20,400.82 L568.50,398.22 L568.80,399.92 L569.10,397.61 L569.40,398.30 L569.70,397.41 L570.00,397.23 L570.30,397.99 L570.60,397.44 L570.90,399.42 L571.20,399.66 L571.50,398.07 L571.80,396.70 L572.10,399.27 L572.40,395.17 L572.70,395.17 L573.00,398.80 L573.30,398.58 L573.60,398.93 L573.90,397.16 L574.20,395.60 L574.50,396.58 L574.80,398.02 L575.10,396.08 L575.40,396.12 L575.70,395.11 L576.00,395.41 L576.30,398.22 L576.60,397.68 L576.90,395.42 L577.20,395.55 L577.50,396.31 L577.80,397.90 L578.10,395.53 L578.40,396.99 L578.70,394.26 L579.00,395.57 L579.30,398.00 L579.60,398.74 L579.90,395.93 L580.20,396.55 L580.50,398.85 L580.80,397.27 L581.10,397.15 L581.40,398.74 L581.70,398.38 L582.00,399.77 L582.30,399.42 L582.60,397.60 L582.90,398.34 L583.20,398.53 L583.50,396.81 L583.80,397.45 L584.10,400.29 L584.40,396.79 L584.70,400.52 L585.00,399.62 L585.30,399.11 L585.60,400.16 L585.90,400.17 L586.20,401.30 L586.50,399.15 L586.80,399.51 L587.10,399.61 L587.40,402.73 L587.70,401.55 L588.00,399.05 L588.30,400.02 L588.60,399.64 L588.90,400.80 L589.20,401.23 L589.50,404.30 L589.80,398.67 L590.10,402.83 L590.40,402.15 L590.70,400.70 L591.00,401.63 L591.30,401.30 L591.60,402.22 L591.90,403.71 L592.20,400.32 L592.50,404.44 L592.80,402.22 L593.10,404.99 L593.40,403.60 L593.70,404.89 L594.00,404.08 L594.30,404.94 L594.60,403.61 L594.90,402.48 L595.20,404.70 L595.50,404.86 L595.80,406.90 L596.10,401.23 L596.40,403.85 L596.70,405.69 L597.00,402.50 L597.30,404.00 L597.60,407.34 L597.90,406.39 L598.20,403.20 L598.50,406.45 L598.80,406.12 L599.10,405.54 L599.40,404.99 L599.70,404.78 L600.00,403.23 L600.30,403.72 L600.60,405.46 L600.90,404.62 L601.20,407.01 L601.50,403.94 L601.80,401.03 L602.10,403.92 L602.40,404.76 L602.70,404.89 L603.00,404.44 L603.30,403.17 L603.60,406.41 L603.90,403.36 L604.20,405.27 L604.50,403.85 L604.80,402.55 L605.10,406.19 L605.40,400.67 L605.70,402.97 L606.00,404.74 L606.30,403.61 L606.60,405.13 L606.90,403.91 L607.20,403.39 L607.50,407.02 L607.80,403.65 L608.10,403.71 L608.40,402.38 L608.70,402.82 L609.00,404.74 L609.30,404.59 L609.60,403.76 L609.90,402.74 L610.20,404.65 L610.50,401.26 L610.80,403.13 L611.10,403.21 L611.40,402.34 L611.70,403.70 L612.00,402.51 L612.30,402.28 L612.60,405.88 L612.90,404.35 L613.20,404.95 L613.50,403.30 L613.80,404.53 L614.10,404.23 L614.40,404.79 L614.70,406.36 L615.00,402.67 L615.30,403.30 L615.60,402.82 L615.90,397.92 L616.20,400.83 L616.50,402.77 L616.80,403.57 L617.10,401.82 L617.40,404.15 L617.70,404.28 L618.00,401.82 L618.30,404.30 L618.60,404.66 L618.90,402.74 L619.20,400.60 L619.50,403.90 L619.80,401.48 L620.10,401.04 L620.40,401.58 L620.70,400.51 L621.00,402.61 L621.30,402.03 L621.60,402.48 L621.90,401.41 L622.20,399.30 L622.50,400.00 L622.80,401.26 L623.10,399.27 L623.40,403.73 L623.70,399.11 L624.00,398.42 L624.30,400.65 L624.60,399.88 L624.90,398.58 L625.20,398.09 L625.50,398.79 L625.80,399.15 L626.10,398.84 L626.40,397.13 L626.70,397.95 L627.00,398.31 L627.30,397.99 L627.60,392.38 L627.90,395.25 L628.20,395.20 L628.50,395.76 L628.80,396.13 L629.10,396.96 L629.40,396.34 L629.70,395.10 L630.00,395.12 L630.30,397.36 L630.60,393.85 L630.90,394.94 L631.20,396.51 L631.50,394.59 L631.80,391.04 L632.10,394.21 L632.40,392.92 L632.70,393.08 L633.00,394.49 L633.30,393.44 L633.60,392.19 L633.90,393.57 L634.20,392.70 L634.50,392.00 L634.80,392.03 L635.10,391.73 L635.40,390.66 L635.70,390.25 L636.00,390.69 L636.30,389.08 L636.60,388.42 L636.90,391.77 L637.20,389.38 L637.50,389.45 L637.80,389.07 L638.10,389.07 L638.40,388.85 L638.70,388.69 L639.00,387.26 L639.30,389.48 L639.60,387.01 L639.90,389.23 L640.20,384.90 L640.50,385.92 L640.80,388.62 L641.10,386.85 L641.40,385.95 L641.70,387.26 L642.00,385.13 L642.30,386.56 L642.60,383.22 L642.90,385.57 L643.20,385.18 L643.50,386.75 L643.80,387.13 L644.10,384.62 L644.40,387.98 L644.70,384.82 L645.00,382.68 L645.30,382.15 L645.60,387.55 L645.90,385.20 L646.20,384.34 L646.50,384.13 L646.80,383.58 L647.10,386.94 L647.40,384.87 L647.70,387.45 L648.00,384.62 L648.30,381.57 L648.60,386.02 L648.90,384.30 L649.20,384.47 L649.50,387.00 L649.80,384.45 L650.10,386.48 L650.40,384.91 L650.70,383.94 L651.00,385.80 L651.30,384.36 L651.60,387.06 L651.90,386.83 L652.20,385.73 L652.50,386.68 L652.80,386.80 L653.10,385.83 L653.40,387.68 L653.70,386.33 L654.00,387.75 L654.30,385.80 L654.60,387.53 L654.90,388.23 L655.20,386.81 L655.50,387.61 L655.80,387.72 L656.10,389.77 L656.40,388.03 L656.70,389.94 L657.00,391.76 L657.30,390.41 L657.60,387.95 L657.90,390.68 L658.20,392.25 L658.50,390.68 L658.80,392.92 L659.10,392.52 L659.40,392.52 L659.70,391.83 L660.00,391.75 L660.30,392.37 L660.60,393.06 L660.90,393.95 L661.20,394.04 L661.50,393.25 L661.80,393.98 L662.10,394.64 L662.40,392.04 L662.70,393.45 L663.00,393.63 L663.30,394.69 L663.60,394.81 L663.90,395.07 L664.20,394.43 L664.50,396.83 L664.80,396.51 L665.10,394.05 L665.40,396.60 L665.70,395.24 L666.00,399.44 L666.30,396.65 L666.60,396.97 L666.90,397.87 L667.20,397.70 L667.50,398.13 L667.80,400.60 L668.10,398.98 L668.40,400.06 L668.70,400.69 L669.00,397.96 L669.30,401.91 L669.60,400.72 L669.90,401.30 L670.20,398.96 L670.50,401.51 L670.80,401.14 L671.10,400.00 L671.40,404.13 L671.70,401.91 L672.00,400.95 L672.30,401.73 L672.60,402.90 L672.90,403.36 L673.20,402.74 L673.50,403.77 L673.80,404.26 L674.10,400.60 L674.40,401.77 L674.70,401.25 L675.00,402.80 L675.30,404.78 L675.60,403.77 L675.90,401.48 L676.20,402.62 L676.50,404.57 L676.80,402.47 L677.10,403.17 L677.40,403.82 L677.70,400.94 L678.00,404.66 L678.30,404.14 L678.60,404.54 L678.90,402.46 L679.20,402.83 L679.50,403.15 L679.80,404.42 L680.10,404.24 L680.40,404.39 L680.70,406.79 L681.00,406.18 L681.30,403.41 L681.60,403.57 L681.90,406.95 L682.20,404.16 L682.50,406.59 L682.80,406.95 L683.10,404.00 L683.40,404.43 L683.70,404.96 L684.00,403.67 L684.30,403.55 L684.60,404.38 L684.90,406.16 L685.20,404.36 L685.50,404.72 L685.80,404.37 L686.10,403.11 L686.40,407.11 L686.70,401.75 L687.00,404.10 L687.30,405.79 L687.60,403.04 L687.90,405.82 L688.20,406.70 L688.50,403.72 L688.80,405.18 L689.10,403.30 L689.40,405.53 L689.70,404.90 L690.00,405.03 L690.30,406.59 L690.60,405.28 L690.90,406.44 L691.20,405.38 L691.50,402.75 L691.80,404.73 L692.10,404.97 L692.40,402.19 L692.70,406.00 L693.00,404.14 L693.30,404.47 L693.60,402.61 L693.90,403.88 L694.20,404.10 L694.50,403.12 L694.80,403.58 L695.10,400.40 L695.40,405.16 L695.70,401.58 L696.00,399.97 L696.30,401.56 L696.60,401.62 L696.90,403.42 L697.20,401.25 L697.50,402.80 L697.80,400.92 L698.10,405.22 L698.40,402.76 L698.70,404.59 L699.00,400.29 L699.30,402.49 L699.60,400.07 L699.90,402.07 L700.20,402.06 L700.50,398.72 L700.80,399.20 L701.10,399.00 L701.40,398.36 L701.70,399.28 L702.00,398.79 L702.30,397.94 L702.60,399.90 L702.90,400.29 L703.20,397.42 L703.50,398.18 L703.80,398.65 L704.10,397.96 L704.40,396.93 L704.70,398.65 L705.00,398.29 L705.30,397.62 L705.60,395.93 L705.90,398.55 L706.20,397.73 L706.50,394.26 L706.80,394.17 L707.10,395.52 L707.40,392.23 L707.70,393.38 L708.00,392.33 L708.30,390.69 L708.60,390.75 L708.90,388.23 L709.20,389.00 L709.50,386.27 L709.80,391.53 L710.10,389.69 L710.40,388.51 L710.70,386.39 L711.00,386.50 L711.30,385.98 L711.60,384.63 L711.90,383.42 L712.20,379.71 L712.50,380.37 L712.80,377.75 L713.10,375.52 L713.40,374.20 L713.70,374.99 L714.00,374.42 L714.30,369.57 L714.60,372.44 L714.90,370.56 L715.20,366.48 L715.50,364.86 L715.80,363.90 L716.10,363.84 L716.40,360.36 L716.70,357.73 L717.00,358.09 L717.30,352.99 L717.60,354.26 L717.90,353.79 L718.20,350.60 L718.50,349.17 L718.80,346.54 L719.10,344.49 L719.40,340.82 L719.70,336.11 L720.00,333.25 L720.30,329.50 L720.60,327.28 L720.90,323.70 L721.20,318.03 L721.50,312.64 L721.80,309.27 L722.10,307.09 L722.40,306.94 L722.70,303.43 L723.00,300.85 L723.30,297.86 L723.60,298.25 L723.90,295.62 L724.20,293.51 L724.50,292.30 L724.80,293.33 L725.10,289.84 L725.40,291.86 L725.70,291.04 L726.00,289.47 L726.30,290.92 L726.60,289.96 L726.90,289.58 L727.20,291.12 L727.50,291.11 L727.80,294.10 L728.10,294.50 L728.40,296.47 L728.70,298.09 L729.00,293.89 L729.30,300.07 L729.60,298.52 L729.90,302.70 L730.20,302.67 L730.50,305.65 L730.80,309.33 L731.10,307.23 L731.40,312.34 L731.70,314.61 L732.00,314.89 L732.30,321.40 L732.60,323.58 L732.90,325.92 L733.20,328.74 L733.50,337.35 L733.80,335.34 L734.10,336.32 L734.40,340.35 L734.70,343.79 L735.00,346.37 L735.30,349.53 L735.60,350.98 L735.90,356.08 L736.20,357.56 L736.50,359.26 L736.80,362.94 L737.10,366.42 L737.40,370.98 L737.70,373.21 L738.00,374.70 L738.30,377.71 L738.60,380.33 L738.90,385.06 L739.20,383.32 L739.50,386.58 L739.80,388.44 L740.10,387.32 L740.40,389.85 L740.70,390.66 L741.00,390.58 L741.30,392.80 L741.60,394.19 L741.90,395.03 L742.20,393.86 L742.50,395.03 L742.80,398.67 L743.10,394.42 L743.40,396.84 L743.70,398.31 L744.00,397.78 L744.30,398.97 L744.60,398.76 L744.90,400.01 L745.20,401.17 L745.50,399.47 L745.80,400.44 L746.10,400.45 L746.40,400.31 L746.70,401.18 L747.00,399.95 L747.30,402.88 L747.60,404.52 L747.90,404.81 L748.20,404.49 L748.50,401.62 L748.80,405.37 L749.10,402.51 L749.40,403.71 L749.70,406.63 L750.00,402.81 L750.30,405.75 L750.60,405.23 L750.90,404.88 L751.20,404.12 L751.50,406.19 L751.80,405.20 L752.10,407.55 L752.40,408.04 L752.70,404.63 L753.00,406.09 L753.30,406.58 L753.60,405.59 L753.90,405.90 L754.20,407.80 L754.50,407.59 L754.80,405.77 L755.10,407.53 L755.40,409.20 L755.70,406.96 L756.00,407.53 L756.30,411.22 L756.60,411.00 L756.90,407.04 L757.20,407.57 L757.50,410.13 L757.80,408.06 L758.10,409.50 L758.40,409.34 L758.70,410.86 L759.00,406.63 L759.30,407.18 L759.60,408.62 L759.90,411.82 L760.20,410.25 L760.50,408.12 L760.80,411.24 L761.10,411.57 L761.40,410.25 L761.70,410.14 L762.00,411.21 L762.30,412.27 L762.60,410.77 L762.90,411.27 L763.20,410.42 L763.50,409.91 L763.80,409.11 L764.10,410.69 L764.40,409.85 L764.70,409.86 L765.00,411.43 L765.30,410.74 L765.60,411.20 L765.90,407.70 L766.20,410.61 L766.50,408.92 L766.80,408.54 L767.10,408.40 L767.40,411.21 L767.70,410.60 L768.00,408.36 L768.30,407.70 L768.60,409.25 L768.90,408.53 L769.20,411.44 L769.50,407.02 L769.80,406.46 L770.10,408.63 L770.40,408.97 L770.70,409.11 L771.00,409.94 L771.30,411.75 L771.60,408.34 L771.90,408.02 L772.20,406.29 L772.50,409.06 L772.80,409.88 L773.10,408.29 L773.40,410.28 L773.70,408.64 L774.00,410.69 L774.30,409.01 L774.60,407.04 L774.90,407.60 L775.20,406.33 L775.50,406.03 L775.80,408.81 L776.10,409.65 L776.40,411.15 L776.70,408.33 L777.00,408.07 L777.30,406.85 L777.60,409.78 L777.90,408.96 L778.20,407.60 L778.50,409.42 L778.80,409.28 L779.10,405.92 L779.40,409.63 L779.70,408.84 L780.00,408.17 L780.30,408.20 L780.60,411.31 L780.90,411.10 L781.20,411.59 L781.50,407.52 L781.80,408.31 L782.10,410.59 L782.40,407.73 L782.70,408.53 L783.00,407.12 L783.30,412.35 L783.60,411.36 L783.90,410.63 L784.20,410.41 L784.50,409.63 L784.80,409.78 L785.10,411.32 L785.40,409.57 L785.70,412.41 L786.00,410.11 L786.30,409.69 L786.60,412.85 L786.90,410.94 L787.20,412.02 L787.50,410.77 L787.80,408.30 L788.10,412.31 L788.40,409.76 L788.70,413.24 L789.00,409.65 L789.30,409.30 L789.60,412.43 L789.90,412.69 L790.20,412.33 L790.50,410.58 L790.80,413.62 L791.10,410.42 L791.40,411.91 L791.70,411.56 L792.00,412.23 L792.30,414.05 L792.60,412.07 L792.90,413.84 L793.20,414.13 L793.50,410.86 L793.80,411.72 L794.10,412.91 L794.40,412.72 L794.70,414.08 L795.00,411.04 L795.30,414.85 L795.60,414.99 L795.90,413.80 L796.20,412.20 L796.50,414.24 L796.80,413.57 L797.10,415.21 L797.40,414.40 L797.70,415.63 L798.00,414.09 L798.30,416.81 L798.60,411.65 L798.90,413.54 L799.20,415.74 L799.50,413.02 L799.80,416.25 L800.10,413.59 L800.40,415.51 L800.70,414.17 L801.00,414.91 L801.30,415.84 L801.60,415.52 L801.90,415.21 L802.20,418.82 L802.50,415.88 L802.80,414.57 L803.10,417.29 L803.40,417.20 L803.70,417.81 L804.00,418.65 L804.30,414.88 L804.60,417.73 L804.90,417.89 L805.20,416.34 L805.50,416.73 L805.80,412.23 L806.10,415.67 L806.40,419.03 L806.70,414.07 L807.00,415.87 L807.30,417.06 L807.60,417.51 L807.90,419.04 L808.20,414.33 L808.50,416.90 L808.80,418.09 L809.10,415.09 L809.40,416.92 L809.70,419.66 L810.00,418.90 L810.30,417.86 L810.60,413.49 L810.90,417.01 L811.20,417.77 L811.50,416.84 L811.80,417.22 L812.10,421.67 L812.40,417.09 L812.70,416.08 L813.00,417.81 L813.30,417.07 L813.60,417.12 L813.90,417.47 L814.20,418.71 L814.50,417.99 L814.80,416.02 L815.10,417.55 L815.40,418.43 L815.70,417.15 L816.00,419.45 L816.30,418.96 L816.60,416.52 L816.90,418.38 L817.20,420.74 L817.50,420.18 L817.80,417.95 L818.10,419.31 L818.40,417.14 L818.70,416.08 L819.00,418.91 L819.30,418.51 L819.60,418.91 L819.90,418.18 L820.20,418.69 L820.50,417.54 L820.80,418.94 L821.10,419.47 L821.40,418.24 L821.70,419.48 L822.00,415.88 L822.30,417.27 L822.60,420.41 L822.90,420.87 L823.20,418.77 L823.50,418.29 L823.80,416.67 L824.10,418.96 L824.40,419.55 L824.70,416.40 L825.00,419.26 L825.30,419.17 L825.60,419.11 L825.90,416.92 L826.20,419.26 L826.50,416.40 L826.80,420.58 L827.10,418.69 L827.40,416.87 L827.70,420.38 L828.00,420.11 L828.30,417.58 L828.60,421.58 L828.90,417.08 L829.20,418.92 L829.50,420.14 L829.80,415.30 L830.10,419.87 L830.40,418.38 L830.70,418.44 L831.00,416.95 L831.30,418.91 L831.60,416.89 L831.90,417.08 L832.20,417.80 L832.50,416.70 L832.80,420.61 L833.10,416.54 L833.40,417.34 L833.70,417.94 L834.00,418.38 L834.30,419.48 L834.60,419.51 L834.90,417.93 L835.20,417.81 L835.50,418.38 L835.80,419.47 L836.10,419.29 L836.40,417.58 L836.70,415.41 L837.00,421.29 L837.30,419.61 L837.60,418.63 L837.90,418.73 L838.20,417.51 L838.50,416.83 L838.80,417.76 L839.10,417.90 L839.40,417.33 L839.70,416.16 L840.00,417.75 L840.30,418.98 L840.60,417.47 L840.90,418.19 L841.20,415.25 L841.50,417.85 L841.80,417.96 L842.10,416.40 L842.40,415.69 L842.70,418.68 L843.00,416.96 L843.30,418.77 L843.60,417.49 L843.90,418.95 L844.20,417.59 L844.50,415.95 L844.80,417.93 L845.10,417.59 L845.40,418.96 L845.70,417.40 L846.00,417.48 L846.30,419.23 L846.60,419.65 L846.90,419.08 L847.20,419.47 L847.50,418.64 L847.80,419.08 L848.10,419.23 L848.40,418.57 L848.70,418.09 L849.00,418.20 L849.30,421.37 L849.60,418.02 L849.90,417.67 L850.20,417.49 L850.50,417.96 L850.80,418.35 L851.10,416.42 L851.40,415.24 L851.70,418.43 L852.00,415.77 L852.30,418.39 L852.60,418.22 L852.90,419.65 L853.20,420.38 L853.50,418.56 L853.80,417.27 L854.10,416.41 L854.40,416.96 L854.70,418.13 L855.00,415.18 L855.30,418.19 L855.60,418.08 L855.90,419.01 L856.20,417.65 L856.50,418.27 L856.80,417.10 L857.10,417.49 L857.40,415.67 L857.70,418.34 L858.00,420.34 L858.30,418.41 L858.60,418.71 L858.90,416.84 L859.20,420.23 L859.50,417.16 L859.80,419.37 L860.10,418.41 L860.40,416.93 L860.70,419.73 L861.00,418.32 L861.30,418.57 L861.60,418.96 L861.90,418.31 L862.20,417.83 L862.50,419.03 L862.80,417.82 L863.10,418.50 L863.40,417.48 L863.70,416.35 L864.00,417.51 L864.30,417.77 L864.60,418.50 L864.90,420.16 L865.20,416.15 L865.50,418.71 L865.80,415.45 L866.10,417.10 L866.40,417.87 L866.70,415.45 L867.00,416.02 L867.30,418.85 L867.60,418.76 L867.90,418.51 L868.20,417.56 L868.50,421.72 L868.80,418.50 L869.10,417.54 L869.40,421.11 L869.70,419.64 L870.00,418.28 L870.30,420.48 L870.60,419.05 L870.90,419.75 L871.20,419.20 L871.50,417.45 L871.80,420.27 L872.10,419.15 L872.40,417.53 L872.70,417.90 L873.00,420.33 L873.30,418.50 L873.60,419.10 L873.90,419.98 L874.20,419.27 L874.50,416.98 L874.80,420.04 L875.10,420.49 L875.40,420.42 L875.70,421.50 L876.00,419.77 L876.30,420.38 L876.60,421.55 L876.90,418.96 L877.20,421.83 L877.50,421.86 L877.80,420.56 L878.10,422.08 L878.40,420.73 L878.70,418.35 L879.00,421.21 L879.30,420.11 L879.60,420.27 L879.90,419.95 L880.20,421.68 L880.50,420.59 L880.80,418.88 L881.10,420.58 L881.40,420.96 L881.70,418.97 L882.00,419.42 L882.30,419.53 L882.60,419.26 L882.90,420.64 L883.20,421.62 L883.50,422.89 L883.80,421.96 L884.10,421.76 L884.40,421.98 L884.70,422.29 L885.00,419.94 L885.30,421.48 L885.60,421.01 L885.90,420.42 L886.20,420.01 L886.50,419.98 L886.80,420.36 L887.10,419.05 L887.40,421.56 L887.70,420.84 L888.00,421.07 L888.30,421.44 L888.60,422.02 L888.90,420.23 L889.20,420.95 L889.50,418.89 L889.80,418.08 L890.10,418.52 L890.40,423.43 L890.70,418.76 L891.00,422.02 L891.30,423.47 L891.60,420.81 L891.90,423.77 L892.20,424.12 L892.50,422.90 L892.80,424.94 L893.10,422.53 L893.40,420.68 L893.70,422.47 L894.00,421.16 L894.30,419.99 L894.60,420.07 L894.90,425.14 L895.20,421.18 L895.50,421.95 L895.80,421.10 L896.10,422.27 L896.40,421.79 L896.70,421.60 L897.00,420.52 L897.30,420.29 L897.60,421.28 L897.90,422.78 L898.20,425.32 L898.50,423.94 L898.80,425.07 L899.10,423.25 L899.40,422.50 L899.70,420.82 L900.00,422.73 L900.30,419.78 L900.60,422.41 L900.90,425.16 L901.20,423.39 L901.50,424.56 L901.80,422.50 L902.10,421.16 L902.40,422.47 L902.70,422.63 L903.00,424.92 L903.30,426.05 L903.60,422.30 L903.90,422.88 L904.20,423.22 L904.50,422.98 L904.80,421.77 L905.10,423.69 L905.40,424.11 L905.70,424.18 L906.00,421.99 L906.30,423.56 L906.60,421.32 L906.90,425.08 L907.20,422.40 L907.50,423.48 L907.80,423.27 L908.10,423.11 L908.40,422.47 L908.70,421.51 L909.00,426.43 L909.30,424.39 L909.60,424.42 L909.90,427.01 L910.20,423.95 L910.50,424.88 L910.80,424.14 L911.10,425.79 L911.40,424.84 L911.70,424.58 L912.00,423.79 L912.30,424.54 L912.60,425.77 L912.90,421.23 L913.20,423.96 L913.50,423.55 L913.80,423.71 L914.10,421.36 L914.40,425.15 L914.70,422.93 L915.00,423.79 L915.30,423.40 L915.60,421.76 L915.90,423.46 L916.20,421.50 L916.50,422.75 L916.80,423.61 L917.10,424.04 L917.40,424.11 L917.70,423.82 L918.00,427.00 L918.30,424.60 L918.60,422.27 L918.90,423.10 L919.20,423.03 L919.50,423.68 L919.80,423.07 L920.10,422.70 L920.40,426.19 L920.70,423.93 L921.00,423.38 L921.30,423.48 L921.60,423.51 L921.90,425.74 L922.20,424.44 L922.50,425.33 L922.80,419.37 L923.10,424.17 L923.40,425.18 L923.70,426.44 L924.00,423.70 L924.30,421.23 L924.60,424.44 L924.90,422.76 L925.20,421.07 L925.50,422.69 L925.80,425.01 L926.10,425.20 L926.40,424.50 L926.70,422.00 L927.00,426.97 L927.30,421.78 L927.60,423.28 L927.90,421.34 L928.20,425.18 L928.50,423.93 L928.80,424.51 L929.10,423.36 L929.40,423.11 L929.70,423.41 L930.00,420.48 L930.30,424.48 L930.60,424.32 L930.90,422.45 L931.20,422.94 L931.50,423.33 L931.80,425.06 L932.10,423.42 L932.40,422.82 L932.70,422.00 L933.00,420.55 L933.30,421.76 L933.60,422.64 L933.90,422.12 L934.20,422.50 L934.50,423.34 L934.80,422.81 L935.10,422.47 L935.40,422.89 L935.70,422.11 L936.00,421.67 L936.30,422.23 L936.60,419.01 L936.90,423.04 L937.20,419.32 L937.50,422.14 L937.80,420.83 L938.10,422.20 L938.40,420.53 L938.70,418.99 L939.00,421.65 L939.30,420.24 L939.60,419.98 L939.90,419.76 L940.20,420.89 L940.50,420.47 L940.80,419.49 L941.10,416.85 L941.40,418.29 L941.70,418.82 L942.00,420.99 L942.30,418.81 L942.60,417.94 L942.90,419.52 L943.20,417.47 L943.50,417.37 L943.80,417.41 L944.10,414.89 L944.40,418.12 L944.70,417.18 L945.00,416.01 L945.30,414.63 L945.60,416.38 L945.90,417.91 L946.20,414.95 L946.50,414.28 L946.80,416.29 L947.10,413.44 L947.40,412.57 L947.70,415.09 L948.00,414.79 L948.30,415.44 L948.60,415.15 L948.90,416.49 L949.20,415.83 L949.50,415.43 L949.80,415.77 L950.10,417.44 L950.40,418.06 L950.70,418.14 L951.00,418.02 L951.30,412.59 L951.60,415.97 L951.90,417.10 L952.20,417.98 L952.50,415.58 L952.80,419.98 L953.10,418.55 L953.40,417.39 L953.70,418.63 L954.00,418.06 L954.30,417.63 L954.60,419.55 L954.90,418.36 L955.20,417.16 L955.50,418.40 L955.80,419.28 L956.10,418.08 L956.40,421.51 L956.70,418.36 L957.00,422.49 L957.30,421.42 L957.60,418.99 L957.90,420.62 L958.20,422.22 L958.50,420.42 L958.80,419.14 L959.10,421.08 L959.40,423.83 L959.70,419.08 L960.00,422.06 L960.30,421.42 L960.60,421.36 L960.90,421.10 L961.20,421.31 L961.50,423.33 L961.80,422.82 L962.10,420.70 L962.40,424.39 L962.70,420.49 L963.00,423.34 L963.30,422.77 L963.60,424.28 L963.90,423.19 L964.20,424.26 L964.50,422.83 L964.80,424.30 L965.10,423.50 L965.40,426.09 L965.70,422.17 L966.00,424.87 L966.30,423.90 L966.60,423.55 L966.90,422.56 L967.20,424.04 L967.50,421.40 L967.80,421.60 L968.10,424.56 L968.40,421.44 L968.70,425.68 L969.00,423.33 L969.30,424.11 L969.60,423.92 L969.90,424.45 L970.20,423.52 L970.50,423.44 L970.80,423.82 L971.10,425.51 L971.40,425.68 L971.70,425.92 L972.00,424.69 L972.30,423.94 L972.60,421.91 L972.90,425.20 L973.20,425.52 L973.50,423.82 L973.80,425.55 L974.10,426.27 L974.40,424.63 L974.70,426.01 L975.00,425.00 L975.30,422.18 L975.60,423.98 L975.90,424.10 L976.20,425.44 L976.50,423.52 L976.80,424.15 L977.10,423.44 L977.40,424.77 L977.70,424.94 L978.00,426.24 L978.30,426.01 L978.60,425.15 L978.90,425.28 L979.20,425.11 L979.50,425.14 L979.80,427.16 L980.10,421.53 L980.40,424.78 L980.70,425.48 L981.00,426.64 L981.30,423.54 L981.60,425.56 L981.90,426.29 L982.20,424.47 L982.50,422.43 L982.80,424.60 L983.10,423.43 L983.40,426.02 L983.70,423.92 L984.00,427.60 L984.30,425.30 L984.60,423.98 L984.90,424.39 L985.20,423.57 L985.50,425.64 L985.80,427.17 L986.10,424.78 L986.40,426.37 L986.70,423.75 L987.00,425.49 L987.30,428.27 L987.60,423.07 L987.90,426.75 L988.20,426.66 L988.50,422.37 L988.80,422.98 L989.10,423.61 L989.40,426.31 L989.70,424.34 L990.00,424.69 L990.30,425.90 L990.60,425.05 L990.90,425.18 L991.20,424.39 L991.50,426.39 L991.80,423.71 L992.10,427.12 L992.40,424.27 L992.70,423.60 L993.00,425.60 L993.30,425.29 L993.60,421.86 L993.90,424.91 L994.20,422.68 L994.50,423.37" fill="none" stroke="#111" stroke-width="1.9" stroke-linejoin="round"/>
<rect x="83.1" y="30.6" width="925.9" height="399.7" fill="none" stroke="#333" stroke-width="2"/>
<line x1="83.10" y1="252.20" x2="1009.00" y2="252.20" stroke="#333" stroke-width="2" />
<line x1="78.60" y1="30.60" x2="83.10" y2="30.60" stroke="#333" stroke-width="1.8" />
<text x="74.80" y="37.80" font-size="19.5" fill="#222" font-weight="normal" text-anchor="end"  style="">5000</text>
<line x1="78.60" y1="74.90" x2="83.10" y2="74.90" stroke="#333" stroke-width="1.8" />
<text x="74.80" y="82.10" font-size="19.5" fill="#222" font-weight="normal" text-anchor="end"  style="">4000</text>
<line x1="78.60" y1="119.20" x2="83.10" y2="119.20" stroke="#333" stroke-width="1.8" />
<text x="74.80" y="126.40" font-size="19.5" fill="#222" font-weight="normal" text-anchor="end"  style="">3000</text>
<line x1="78.60" y1="163.50" x2="83.10" y2="163.50" stroke="#333" stroke-width="1.8" />
<text x="74.80" y="170.70" font-size="19.5" fill="#222" font-weight="normal" text-anchor="end"  style="">2000</text>
<line x1="78.60" y1="207.80" x2="83.10" y2="207.80" stroke="#333" stroke-width="1.8" />
<text x="74.80" y="215.00" font-size="19.5" fill="#222" font-weight="normal" text-anchor="end"  style="">1000</text>
<line x1="78.60" y1="252.20" x2="83.10" y2="252.20" stroke="#333" stroke-width="1.8" />
<text x="74.80" y="262.70" font-size="19.5" fill="#222" font-weight="normal" text-anchor="end"  style="">4000</text>
<line x1="78.60" y1="296.60" x2="83.10" y2="296.60" stroke="#333" stroke-width="1.8" />
<text x="74.80" y="303.80" font-size="19.5" fill="#222" font-weight="normal" text-anchor="end"  style="">3000</text>
<line x1="78.60" y1="341.00" x2="83.10" y2="341.00" stroke="#333" stroke-width="1.8" />
<text x="74.80" y="348.20" font-size="19.5" fill="#222" font-weight="normal" text-anchor="end"  style="">2000</text>
<line x1="78.60" y1="385.60" x2="83.10" y2="385.60" stroke="#333" stroke-width="1.8" />
<text x="74.80" y="392.80" font-size="19.5" fill="#222" font-weight="normal" text-anchor="end"  style="">1000</text>
<line x1="78.60" y1="430.30" x2="83.10" y2="430.30" stroke="#333" stroke-width="1.8" />
<text x="68.30" y="433.90" font-size="19.5" fill="#222" font-weight="normal" text-anchor="end"  style="">0</text>
<text x="67.50" y="246.00" font-size="19.5" fill="#222" font-weight="normal" text-anchor="end"  style="">(0)</text>
<line x1="83.10" y1="430.30" x2="83.10" y2="436.30" stroke="#333" stroke-width="1.8" />
<line x1="95.45" y1="430.30" x2="95.45" y2="434.80" stroke="#333" stroke-width="1.8" />
<line x1="107.79" y1="430.30" x2="107.79" y2="434.80" stroke="#333" stroke-width="1.8" />
<line x1="120.14" y1="430.30" x2="120.14" y2="434.80" stroke="#333" stroke-width="1.8" />
<line x1="132.48" y1="430.30" x2="132.48" y2="434.80" stroke="#333" stroke-width="1.8" />
<line x1="144.83" y1="430.30" x2="144.83" y2="436.30" stroke="#333" stroke-width="1.8" />
<line x1="157.17" y1="430.30" x2="157.17" y2="434.80" stroke="#333" stroke-width="1.8" />
<line x1="169.52" y1="430.30" x2="169.52" y2="434.80" stroke="#333" stroke-width="1.8" />
<line x1="181.86" y1="430.30" x2="181.86" y2="434.80" stroke="#333" stroke-width="1.8" />
<line x1="194.21" y1="430.30" x2="194.21" y2="434.80" stroke="#333" stroke-width="1.8" />
<line x1="206.55" y1="430.30" x2="206.55" y2="436.30" stroke="#333" stroke-width="1.8" />
<line x1="218.90" y1="430.30" x2="218.90" y2="434.80" stroke="#333" stroke-width="1.8" />
<line x1="231.24" y1="430.30" x2="231.24" y2="434.80" stroke="#333" stroke-width="1.8" />
<line x1="243.59" y1="430.30" x2="243.59" y2="434.80" stroke="#333" stroke-width="1.8" />
<line x1="255.93" y1="430.30" x2="255.93" y2="434.80" stroke="#333" stroke-width="1.8" />
<line x1="268.28" y1="430.30" x2="268.28" y2="436.30" stroke="#333" stroke-width="1.8" />
<line x1="280.63" y1="430.30" x2="280.63" y2="434.80" stroke="#333" stroke-width="1.8" />
<line x1="292.97" y1="430.30" x2="292.97" y2="434.80" stroke="#333" stroke-width="1.8" />
<line x1="305.32" y1="430.30" x2="305.32" y2="434.80" stroke="#333" stroke-width="1.8" />
<line x1="317.66" y1="430.30" x2="317.66" y2="434.80" stroke="#333" stroke-width="1.8" />
<line x1="330.01" y1="430.30" x2="330.01" y2="436.30" stroke="#333" stroke-width="1.8" />
<line x1="342.35" y1="430.30" x2="342.35" y2="434.80" stroke="#333" stroke-width="1.8" />
<line x1="354.70" y1="430.30" x2="354.70" y2="434.80" stroke="#333" stroke-width="1.8" />
<line x1="367.04" y1="430.30" x2="367.04" y2="434.80" stroke="#333" stroke-width="1.8" />
<line x1="379.39" y1="430.30" x2="379.39" y2="434.80" stroke="#333" stroke-width="1.8" />
<line x1="391.73" y1="430.30" x2="391.73" y2="436.30" stroke="#333" stroke-width="1.8" />
<line x1="404.08" y1="430.30" x2="404.08" y2="434.80" stroke="#333" stroke-width="1.8" />
<line x1="416.42" y1="430.30" x2="416.42" y2="434.80" stroke="#333" stroke-width="1.8" />
<line x1="428.77" y1="430.30" x2="428.77" y2="434.80" stroke="#333" stroke-width="1.8" />
<line x1="441.11" y1="430.30" x2="441.11" y2="434.80" stroke="#333" stroke-width="1.8" />
<line x1="453.46" y1="430.30" x2="453.46" y2="436.30" stroke="#333" stroke-width="1.8" />
<line x1="465.81" y1="430.30" x2="465.81" y2="434.80" stroke="#333" stroke-width="1.8" />
<line x1="478.15" y1="430.30" x2="478.15" y2="434.80" stroke="#333" stroke-width="1.8" />
<line x1="490.50" y1="430.30" x2="490.50" y2="434.80" stroke="#333" stroke-width="1.8" />
<line x1="502.84" y1="430.30" x2="502.84" y2="434.80" stroke="#333" stroke-width="1.8" />
<line x1="515.19" y1="430.30" x2="515.19" y2="436.30" stroke="#333" stroke-width="1.8" />
<line x1="527.53" y1="430.30" x2="527.53" y2="434.80" stroke="#333" stroke-width="1.8" />
<line x1="539.88" y1="430.30" x2="539.88" y2="434.80" stroke="#333" stroke-width="1.8" />
<line x1="552.22" y1="430.30" x2="552.22" y2="434.80" stroke="#333" stroke-width="1.8" />
<line x1="564.57" y1="430.30" x2="564.57" y2="434.80" stroke="#333" stroke-width="1.8" />
<line x1="576.91" y1="430.30" x2="576.91" y2="436.30" stroke="#333" stroke-width="1.8" />
<line x1="589.26" y1="430.30" x2="589.26" y2="434.80" stroke="#333" stroke-width="1.8" />
<line x1="601.60" y1="430.30" x2="601.60" y2="434.80" stroke="#333" stroke-width="1.8" />
<line x1="613.95" y1="430.30" x2="613.95" y2="434.80" stroke="#333" stroke-width="1.8" />
<line x1="626.29" y1="430.30" x2="626.29" y2="434.80" stroke="#333" stroke-width="1.8" />
<line x1="638.64" y1="430.30" x2="638.64" y2="436.30" stroke="#333" stroke-width="1.8" />
<line x1="650.99" y1="430.30" x2="650.99" y2="434.80" stroke="#333" stroke-width="1.8" />
<line x1="663.33" y1="430.30" x2="663.33" y2="434.80" stroke="#333" stroke-width="1.8" />
<line x1="675.68" y1="430.30" x2="675.68" y2="434.80" stroke="#333" stroke-width="1.8" />
<line x1="688.02" y1="430.30" x2="688.02" y2="434.80" stroke="#333" stroke-width="1.8" />
<line x1="700.37" y1="430.30" x2="700.37" y2="436.30" stroke="#333" stroke-width="1.8" />
<line x1="712.71" y1="430.30" x2="712.71" y2="434.80" stroke="#333" stroke-width="1.8" />
<line x1="725.06" y1="430.30" x2="725.06" y2="434.80" stroke="#333" stroke-width="1.8" />
<line x1="737.40" y1="430.30" x2="737.40" y2="434.80" stroke="#333" stroke-width="1.8" />
<line x1="749.75" y1="430.30" x2="749.75" y2="434.80" stroke="#333" stroke-width="1.8" />
<line x1="762.09" y1="430.30" x2="762.09" y2="436.30" stroke="#333" stroke-width="1.8" />
<line x1="774.44" y1="430.30" x2="774.44" y2="434.80" stroke="#333" stroke-width="1.8" />
<line x1="786.78" y1="430.30" x2="786.78" y2="434.80" stroke="#333" stroke-width="1.8" />
<line x1="799.13" y1="430.30" x2="799.13" y2="434.80" stroke="#333" stroke-width="1.8" />
<line x1="811.47" y1="430.30" x2="811.47" y2="434.80" stroke="#333" stroke-width="1.8" />
<line x1="823.82" y1="430.30" x2="823.82" y2="436.30" stroke="#333" stroke-width="1.8" />
<line x1="836.17" y1="430.30" x2="836.17" y2="434.80" stroke="#333" stroke-width="1.8" />
<line x1="848.51" y1="430.30" x2="848.51" y2="434.80" stroke="#333" stroke-width="1.8" />
<line x1="860.86" y1="430.30" x2="860.86" y2="434.80" stroke="#333" stroke-width="1.8" />
<line x1="873.20" y1="430.30" x2="873.20" y2="434.80" stroke="#333" stroke-width="1.8" />
<line x1="885.55" y1="430.30" x2="885.55" y2="436.30" stroke="#333" stroke-width="1.8" />
<line x1="897.89" y1="430.30" x2="897.89" y2="434.80" stroke="#333" stroke-width="1.8" />
<line x1="910.24" y1="430.30" x2="910.24" y2="434.80" stroke="#333" stroke-width="1.8" />
<line x1="922.58" y1="430.30" x2="922.58" y2="434.80" stroke="#333" stroke-width="1.8" />
<line x1="934.93" y1="430.30" x2="934.93" y2="434.80" stroke="#333" stroke-width="1.8" />
<line x1="947.27" y1="430.30" x2="947.27" y2="436.30" stroke="#333" stroke-width="1.8" />
<line x1="959.62" y1="430.30" x2="959.62" y2="434.80" stroke="#333" stroke-width="1.8" />
<line x1="971.96" y1="430.30" x2="971.96" y2="434.80" stroke="#333" stroke-width="1.8" />
<line x1="984.31" y1="430.30" x2="984.31" y2="434.80" stroke="#333" stroke-width="1.8" />
<line x1="996.65" y1="430.30" x2="996.65" y2="434.80" stroke="#333" stroke-width="1.8" />
<line x1="1009.00" y1="430.30" x2="1009.00" y2="436.30" stroke="#333" stroke-width="1.8" />
<text x="83.10" y="460.80" font-size="19.5" fill="#222" font-weight="normal" text-anchor="middle"  style="">15</text>
<text x="144.83" y="460.80" font-size="19.5" fill="#222" font-weight="normal" text-anchor="middle"  style="">20</text>
<text x="206.55" y="460.80" font-size="19.5" fill="#222" font-weight="normal" text-anchor="middle"  style="">25</text>
<text x="268.28" y="460.80" font-size="19.5" fill="#222" font-weight="normal" text-anchor="middle"  style="">30</text>
<text x="330.01" y="460.80" font-size="19.5" fill="#222" font-weight="normal" text-anchor="middle"  style="">35</text>
<text x="391.73" y="460.80" font-size="19.5" fill="#222" font-weight="normal" text-anchor="middle"  style="">40</text>
<text x="453.46" y="460.80" font-size="19.5" fill="#222" font-weight="normal" text-anchor="middle"  style="">45</text>
<text x="515.19" y="460.80" font-size="19.5" fill="#222" font-weight="normal" text-anchor="middle"  style="">50</text>
<text x="576.91" y="460.80" font-size="19.5" fill="#222" font-weight="normal" text-anchor="middle"  style="">55</text>
<text x="638.64" y="460.80" font-size="19.5" fill="#222" font-weight="normal" text-anchor="middle"  style="">60</text>
<text x="700.37" y="460.80" font-size="19.5" fill="#222" font-weight="normal" text-anchor="middle"  style="">65</text>
<text x="762.09" y="460.80" font-size="19.5" fill="#222" font-weight="normal" text-anchor="middle"  style="">70</text>
<text x="823.82" y="460.80" font-size="19.5" fill="#222" font-weight="normal" text-anchor="middle"  style="">75</text>
<text x="885.55" y="460.80" font-size="19.5" fill="#222" font-weight="normal" text-anchor="middle"  style="">80</text>
<text x="947.27" y="460.80" font-size="19.5" fill="#222" font-weight="normal" text-anchor="middle"  style="">85</text>
<text x="1009.00" y="460.80" font-size="19.5" fill="#222" font-weight="normal" text-anchor="middle"  style="">90</text>
<text transform="translate(149.40,156.90) rotate(-90)" x="0" y="0" font-size="16.5" font-weight="bold" fill="#e61e25" textLength="55.0" lengthAdjust="spacingAndGlyphs">A (111)</text>
<text transform="translate(301.10,147.90) rotate(-90)" x="0" y="0" font-size="16.5" font-weight="bold" fill="#1f72c4" textLength="52.8" lengthAdjust="spacingAndGlyphs">C (002)</text>
<text transform="translate(313.60,85.00) rotate(-90)" x="0" y="0" font-size="16.5" font-weight="bold" fill="#e61e25" textLength="54.5" lengthAdjust="spacingAndGlyphs">A (220)</text>
<text transform="translate(337.20,97.40) rotate(-90)" x="0" y="0" font-size="16.5" font-weight="bold" fill="#1f72c4" textLength="52.8" lengthAdjust="spacingAndGlyphs">C (101)</text>
<text transform="translate(350.70,152.40) rotate(-90)" x="0" y="0" font-size="16.5" font-weight="bold" fill="#e61e25" textLength="53.9" lengthAdjust="spacingAndGlyphs">A (311)</text>
<text transform="translate(381.70,160.30) rotate(-90)" x="0" y="0" font-size="16.5" font-weight="bold" fill="#e61e25" textLength="53.9" lengthAdjust="spacingAndGlyphs">A (222)</text>
<text transform="translate(402.30,164.80) rotate(-90)" x="0" y="0" font-size="16.5" font-weight="bold" fill="#12a84a" textLength="53.9" lengthAdjust="spacingAndGlyphs">B (111)</text>
<text transform="translate(421.40,199.60) rotate(-90)" x="0" y="0" font-size="16.5" font-weight="bold" fill="#1f72c4" textLength="55.0" lengthAdjust="spacingAndGlyphs">C (110)</text>
<text transform="translate(458.30,118.50) rotate(-90)" x="0" y="0" font-size="16.5" font-weight="bold" fill="#e61e25" textLength="54.7" lengthAdjust="spacingAndGlyphs">A (400)</text>
<text transform="translate(480.90,160.30) rotate(-90)" x="0" y="0" font-size="16.5" font-weight="bold" fill="#12a84a" textLength="53.9" lengthAdjust="spacingAndGlyphs">B (200)</text>
<text transform="translate(578.50,203.00) rotate(-90)" x="0" y="0" font-size="16.5" font-weight="bold" fill="#1f72c4" textLength="52.8" lengthAdjust="spacingAndGlyphs">C (112)</text>
<text transform="translate(639.20,200.70) rotate(-90)" x="0" y="0" font-size="16.5" font-weight="bold" fill="#1f72c4" textLength="53.9" lengthAdjust="spacingAndGlyphs">C (103)</text>
<text transform="translate(658.30,200.70) rotate(-90)" x="0" y="0" font-size="16.5" font-weight="bold" fill="#e61e25" textLength="55.0" lengthAdjust="spacingAndGlyphs">A (511)</text>
<text transform="translate(727.90,101.90) rotate(-90)" x="0" y="0" font-size="16.5" font-weight="bold" fill="#e61e25" textLength="53.9" lengthAdjust="spacingAndGlyphs">A (440)</text>
<text transform="translate(749.20,186.10) rotate(-90)" x="0" y="0" font-size="16.5" font-weight="bold" fill="#12a84a" textLength="53.9" lengthAdjust="spacingAndGlyphs">B (220)</text>
<text transform="translate(782.90,220.90) rotate(-90)" x="0" y="0" font-size="16.5" font-weight="bold" fill="#1f72c4" textLength="53.9" lengthAdjust="spacingAndGlyphs">C (211)</text>
<text transform="translate(917.90,224.30) rotate(-90)" x="0" y="0" font-size="16.5" font-weight="bold" fill="#12a84a" textLength="53.8" lengthAdjust="spacingAndGlyphs">B (311)</text>
<text transform="translate(947.60,224.20) rotate(-90)" x="0" y="0" font-size="16.5" font-weight="bold" fill="#e61e25" textLength="54.7" lengthAdjust="spacingAndGlyphs">A (444)</text>
<text transform="translate(971.70,229.70) rotate(-90)" x="0" y="0" font-size="16.5" font-weight="bold" fill="#12a84a" textLength="53.6" lengthAdjust="spacingAndGlyphs">B (222)</text>
<line x1="334" y1="110" x2="329.3" y2="146" stroke="#1f72c4" stroke-width="1.3"/>
<path d="M325.5,144.5 L333.5,145.5 L328.2,154 Z" fill="#1f72c4"/>
<text x="90.3" y="52.7" font-size="18.3" font-weight="bold" fill="#111" textLength="186.5" lengthAdjust="spacingAndGlyphs">(b) Aged 3% Pd/Al<tspan font-size="12.5" dy="4">2</tspan><tspan dy="-4">O</tspan><tspan font-size="12.5" dy="4">3</tspan></text>
<text x="91" y="274.5" font-size="18.3" font-weight="bold" fill="#111" textLength="191" lengthAdjust="spacingAndGlyphs">(a) Fresh 3% Pd/Al<tspan font-size="12.5" dy="4">2</tspan><tspan dy="-4">O</tspan><tspan font-size="12.5" dy="4">3</tspan></text>
<text x="649" y="18.5" font-size="18" font-weight="bold" fill="#e61e25">A:</text>
<text x="688" y="18.5" font-size="18" font-weight="bold" fill="#e61e25" textLength="57.5" lengthAdjust="spacingAndGlyphs"><tspan font-style="italic">γ</tspan>Al<tspan font-size="12.5" dy="4">2</tspan><tspan dy="-4">O</tspan><tspan font-size="12.5" dy="4">3</tspan></text>
<text x="800" y="18.5" font-size="18" font-weight="bold" fill="#12a84a">B:</text>
<text x="839.4" y="18.5" font-size="18" font-weight="bold" fill="#12a84a">Pd</text>
<text x="906" y="18.5" font-size="18" font-weight="bold" fill="#1f72c4">C:</text>
<text x="942.6" y="18.5" font-size="18" font-weight="bold" fill="#1f72c4">PdO</text>
<text x="518.8" y="485.4" font-size="21.5" font-weight="bold" fill="#111" textLength="52.5" lengthAdjust="spacingAndGlyphs">2<tspan font-style="italic">θ</tspan> (°)</text>
<text transform="translate(21.9,320.4) rotate(-90)" font-size="22" font-weight="bold" fill="#111" textLength="146" lengthAdjust="spacingAndGlyphs">Intensity (a. u.)</text>
<line x1="261.90" y1="576.63" x2="261.90" y2="925.00" stroke="#8e80b4" stroke-width="1.5" stroke-dasharray="2 2.6"/>
<line x1="303.90" y1="753.41" x2="303.90" y2="925.00" stroke="#b9cfe6" stroke-width="1.3" />
<line x1="319.30" y1="703.24" x2="319.30" y2="925.00" stroke="#8e80b4" stroke-width="1.5" stroke-dasharray="2 2.6"/>
<line x1="325.20" y1="724.08" x2="325.20" y2="925.00" stroke="#b9cfe6" stroke-width="1.3" />
<line x1="390.80" y1="761.27" x2="390.80" y2="925.00" stroke="#e2f6ee" stroke-width="1.6" />
<line x1="390.80" y1="761.27" x2="390.80" y2="925.00" stroke="#8fb3a3" stroke-width="1.5" stroke-dasharray="2.4 4.8"/>
<line x1="415.00" y1="759.23" x2="415.00" y2="925.00" stroke="#b9cfe6" stroke-width="1.3" />
<line x1="470.50" y1="759.58" x2="470.50" y2="925.00" stroke="#e2f6ee" stroke-width="1.6" />
<line x1="470.50" y1="759.58" x2="470.50" y2="925.00" stroke="#8fb3a3" stroke-width="1.5" stroke-dasharray="2.4 4.8"/>
<line x1="505.10" y1="679.75" x2="505.10" y2="925.00" stroke="#8e80b4" stroke-width="1.5" stroke-dasharray="2 2.6"/>
<line x1="575.50" y1="760.74" x2="575.50" y2="925.00" stroke="#b9cfe6" stroke-width="1.3" />
<line x1="618.50" y1="712.12" x2="618.50" y2="925.00" stroke="#8e80b4" stroke-width="1.5" stroke-dasharray="2 2.6"/>
<line x1="643.00" y1="759.00" x2="643.00" y2="925.00" stroke="#b9cfe6" stroke-width="1.3" />
<line x1="653.00" y1="753.51" x2="653.00" y2="925.00" stroke="#8e80b4" stroke-width="1.5" stroke-dasharray="2 2.6"/>
<line x1="741.50" y1="764.53" x2="741.50" y2="925.00" stroke="#e2f6ee" stroke-width="1.6" />
<line x1="741.50" y1="764.53" x2="741.50" y2="925.00" stroke="#8fb3a3" stroke-width="1.5" stroke-dasharray="2.4 4.8"/>
<line x1="775.40" y1="761.42" x2="775.40" y2="925.00" stroke="#b9cfe6" stroke-width="1.3" />
<line x1="784.50" y1="756.92" x2="784.50" y2="925.00" stroke="#8e80b4" stroke-width="1.5" stroke-dasharray="2 2.6"/>
<line x1="881.50" y1="749.20" x2="881.50" y2="925.00" stroke="#8e80b4" stroke-width="1.5" stroke-dasharray="2 2.6"/>
<line x1="908.00" y1="755.83" x2="908.00" y2="925.00" stroke="#e2f6ee" stroke-width="1.6" />
<line x1="908.00" y1="755.83" x2="908.00" y2="925.00" stroke="#8fb3a3" stroke-width="1.5" stroke-dasharray="2.4 4.8"/>
<line x1="911.80" y1="755.03" x2="911.80" y2="925.00" stroke="#8e80b4" stroke-width="1.5" stroke-dasharray="2 2.6"/>
<line x1="951.90" y1="764.35" x2="951.90" y2="925.00" stroke="#e2f6ee" stroke-width="1.6" />
<line x1="951.90" y1="764.35" x2="951.90" y2="925.00" stroke="#8fb3a3" stroke-width="1.5" stroke-dasharray="2.4 4.8"/>
<path d="M81.50,744.63 L81.80,743.27 L82.10,744.34 L82.40,743.75 L82.70,745.75 L83.00,744.06 L83.30,743.17 L83.60,743.27 L83.90,743.47 L84.20,744.39 L84.50,744.31 L84.80,745.17 L85.10,744.52 L85.40,744.53 L85.70,744.73 L86.00,744.38 L86.30,744.77 L86.60,745.22 L86.90,745.26 L87.20,744.16 L87.50,743.16 L87.80,744.01 L88.10,744.97 L88.40,742.65 L88.70,744.40 L89.00,745.22 L89.30,744.39 L89.60,743.96 L89.90,746.43 L90.20,746.15 L90.50,744.79 L90.80,746.17 L91.10,746.18 L91.40,744.16 L91.70,747.43 L92.00,744.39 L92.30,745.00 L92.60,744.32 L92.90,745.36 L93.20,744.21 L93.50,745.35 L93.80,746.32 L94.10,745.61 L94.40,745.24 L94.70,746.81 L95.00,744.77 L95.30,746.39 L95.60,745.35 L95.90,745.82 L96.20,745.70 L96.50,745.82 L96.80,745.70 L97.10,745.12 L97.40,745.33 L97.70,746.23 L98.00,745.79 L98.30,744.93 L98.60,745.36 L98.90,745.40 L99.20,745.98 L99.50,746.21 L99.80,746.17 L100.10,745.57 L100.40,746.18 L100.70,745.04 L101.00,743.78 L101.30,746.22 L101.60,744.90 L101.90,745.53 L102.20,745.35 L102.50,746.94 L102.80,745.41 L103.10,746.71 L103.40,746.10 L103.70,745.49 L104.00,745.24 L104.30,747.01 L104.60,746.98 L104.90,747.34 L105.20,748.27 L105.50,746.98 L105.80,747.03 L106.10,746.72 L106.40,746.95 L106.70,746.59 L107.00,746.17 L107.30,748.66 L107.60,745.41 L107.90,747.25 L108.20,747.44 L108.50,747.23 L108.80,746.32 L109.10,747.01 L109.40,746.81 L109.70,746.33 L110.00,747.24 L110.30,746.96 L110.60,746.88 L110.90,747.96 L111.20,746.51 L111.50,747.82 L111.80,746.97 L112.10,747.88 L112.40,747.61 L112.70,747.79 L113.00,746.79 L113.30,747.00 L113.60,746.97 L113.90,747.88 L114.20,748.40 L114.50,748.72 L114.80,747.41 L115.10,747.94 L115.40,746.53 L115.70,746.06 L116.00,747.24 L116.30,747.45 L116.60,746.73 L116.90,746.57 L117.20,748.57 L117.50,747.47 L117.80,746.76 L118.10,750.19 L118.40,748.40 L118.70,748.02 L119.00,748.90 L119.30,747.72 L119.60,749.75 L119.90,747.13 L120.20,747.36 L120.50,748.39 L120.80,747.89 L121.10,749.77 L121.40,747.25 L121.70,748.02 L122.00,748.88 L122.30,749.19 L122.60,749.60 L122.90,749.07 L123.20,750.68 L123.50,748.45 L123.80,749.04 L124.10,749.65 L124.40,748.69 L124.70,748.74 L125.00,748.63 L125.30,748.52 L125.60,748.14 L125.90,748.66 L126.20,747.85 L126.50,749.52 L126.80,747.88 L127.10,751.02 L127.40,750.74 L127.70,750.27 L128.00,749.19 L128.30,748.91 L128.60,750.48 L128.90,749.63 L129.20,749.98 L129.50,748.94 L129.80,750.48 L130.10,748.94 L130.40,749.74 L130.70,748.22 L131.00,749.17 L131.30,750.19 L131.60,749.42 L131.90,749.46 L132.20,750.54 L132.50,749.85 L132.80,751.00 L133.10,747.95 L133.40,750.51 L133.70,750.50 L134.00,748.80 L134.30,749.05 L134.60,750.93 L134.90,749.32 L135.20,749.73 L135.50,750.81 L135.80,750.06 L136.10,750.79 L136.40,749.69 L136.70,750.72 L137.00,751.42 L137.30,750.82 L137.60,748.73 L137.90,751.17 L138.20,750.71 L138.50,749.94 L138.80,751.92 L139.10,749.30 L139.40,752.41 L139.70,750.32 L140.00,752.23 L140.30,750.90 L140.60,749.85 L140.90,751.09 L141.20,751.33 L141.50,751.55 L141.80,752.03 L142.10,750.41 L142.40,751.62 L142.70,751.86 L143.00,751.05 L143.30,750.52 L143.60,750.54 L143.90,752.02 L144.20,752.10 L144.50,750.75 L144.80,750.36 L145.10,752.57 L145.40,750.24 L145.70,751.73 L146.00,750.94 L146.30,750.17 L146.60,751.79 L146.90,751.56 L147.20,752.97 L147.50,753.71 L147.80,751.65 L148.10,752.71 L148.40,752.76 L148.70,751.46 L149.00,751.20 L149.30,753.32 L149.60,751.67 L149.90,751.99 L150.20,751.79 L150.50,751.95 L150.80,751.57 L151.10,752.74 L151.40,753.19 L151.70,751.84 L152.00,751.01 L152.30,752.24 L152.60,750.96 L152.90,751.69 L153.20,753.29 L153.50,754.23 L153.80,752.61 L154.10,751.40 L154.40,752.98 L154.70,750.44 L155.00,751.77 L155.30,753.66 L155.60,753.02 L155.90,751.24 L156.20,751.01 L156.50,753.16 L156.80,752.41 L157.10,751.97 L157.40,752.83 L157.70,752.01 L158.00,750.89 L158.30,753.21 L158.60,751.99 L158.90,751.71 L159.20,751.44 L159.50,752.80 L159.80,751.92 L160.10,753.14 L160.40,752.40 L160.70,753.55 L161.00,752.33 L161.30,752.11 L161.60,751.01 L161.90,751.76 L162.20,753.31 L162.50,755.30 L162.80,751.67 L163.10,751.86 L163.40,753.04 L163.70,753.17 L164.00,752.21 L164.30,752.86 L164.60,751.44 L164.90,752.56 L165.20,753.59 L165.50,754.22 L165.80,752.71 L166.10,752.64 L166.40,753.25 L166.70,753.82 L167.00,753.30 L167.30,752.27 L167.60,753.21 L167.90,753.74 L168.20,752.33 L168.50,751.82 L168.80,753.39 L169.10,753.28 L169.40,753.79 L169.70,753.06 L170.00,752.45 L170.30,752.64 L170.60,752.15 L170.90,752.23 L171.20,752.56 L171.50,752.64 L171.80,754.00 L172.10,752.03 L172.40,753.04 L172.70,752.59 L173.00,754.36 L173.30,753.33 L173.60,752.80 L173.90,753.82 L174.20,753.20 L174.50,752.75 L174.80,754.46 L175.10,753.77 L175.40,754.64 L175.70,754.17 L176.00,753.86 L176.30,753.32 L176.60,752.31 L176.90,753.83 L177.20,753.30 L177.50,753.82 L177.80,753.26 L178.10,752.69 L178.40,752.44 L178.70,753.89 L179.00,754.40 L179.30,753.08 L179.60,753.71 L179.90,754.51 L180.20,752.65 L180.50,753.08 L180.80,752.43 L181.10,754.38 L181.40,753.62 L181.70,753.02 L182.00,752.03 L182.30,753.29 L182.60,754.29 L182.90,753.21 L183.20,753.11 L183.50,754.03 L183.80,752.46 L184.10,753.55 L184.40,754.03 L184.70,752.87 L185.00,752.84 L185.30,753.76 L185.60,753.48 L185.90,753.38 L186.20,753.76 L186.50,753.79 L186.80,752.83 L187.10,753.06 L187.40,754.01 L187.70,754.59 L188.00,754.79 L188.30,752.95 L188.60,754.59 L188.90,754.32 L189.20,753.66 L189.50,754.11 L189.80,754.40 L190.10,755.22 L190.40,752.83 L190.70,754.23 L191.00,753.61 L191.30,753.56 L191.60,754.71 L191.90,754.44 L192.20,752.90 L192.50,753.52 L192.80,753.95 L193.10,752.57 L193.40,754.49 L193.70,753.71 L194.00,753.91 L194.30,754.05 L194.60,755.29 L194.90,753.80 L195.20,753.47 L195.50,755.24 L195.80,753.35 L196.10,753.33 L196.40,752.60 L196.70,754.68 L197.00,754.00 L197.30,754.16 L197.60,753.90 L197.90,753.65 L198.20,753.10 L198.50,753.10 L198.80,754.12 L199.10,753.85 L199.40,755.12 L199.70,753.10 L200.00,753.33 L200.30,752.88 L200.60,754.89 L200.90,752.69 L201.20,754.37 L201.50,754.93 L201.80,753.60 L202.10,754.32 L202.40,751.91 L202.70,753.37 L203.00,752.30 L203.30,753.83 L203.60,753.69 L203.90,753.03 L204.20,754.46 L204.50,753.96 L204.80,753.21 L205.10,753.22 L205.40,752.41 L205.70,753.48 L206.00,755.41 L206.30,753.02 L206.60,753.96 L206.90,753.14 L207.20,754.27 L207.50,753.96 L207.80,753.38 L208.10,752.07 L208.40,753.13 L208.70,754.56 L209.00,753.34 L209.30,754.06 L209.60,753.12 L209.90,751.95 L210.20,753.87 L210.50,753.77 L210.80,753.00 L211.10,753.17 L211.40,753.71 L211.70,752.96 L212.00,753.74 L212.30,753.27 L212.60,751.45 L212.90,753.30 L213.20,752.91 L213.50,752.70 L213.80,753.73 L214.10,752.97 L214.40,753.82 L214.70,754.27 L215.00,753.46 L215.30,752.03 L215.60,752.71 L215.90,754.08 L216.20,753.08 L216.50,752.61 L216.80,753.20 L217.10,753.69 L217.40,753.47 L217.70,753.78 L218.00,752.53 L218.30,752.98 L218.60,752.98 L218.90,753.16 L219.20,751.40 L219.50,752.95 L219.80,752.00 L220.10,754.28 L220.40,754.40 L220.70,754.49 L221.00,753.73 L221.30,752.63 L221.60,753.82 L221.90,752.82 L222.20,753.48 L222.50,752.19 L222.80,752.43 L223.10,753.29 L223.40,754.36 L223.70,752.82 L224.00,754.71 L224.30,755.10 L224.60,751.68 L224.90,752.71 L225.20,751.90 L225.50,752.55 L225.80,752.19 L226.10,752.55 L226.40,753.38 L226.70,753.33 L227.00,752.72 L227.30,752.47 L227.60,752.53 L227.90,752.50 L228.20,752.84 L228.50,752.32 L228.80,752.70 L229.10,751.14 L229.40,752.87 L229.70,753.63 L230.00,752.27 L230.30,750.88 L230.60,753.16 L230.90,751.71 L231.20,749.42 L231.50,751.71 L231.80,752.35 L232.10,752.12 L232.40,752.79 L232.70,752.22 L233.00,751.75 L233.30,749.93 L233.60,750.60 L233.90,751.63 L234.20,752.00 L234.50,750.51 L234.80,750.80 L235.10,751.65 L235.40,749.59 L235.70,749.50 L236.00,750.88 L236.30,751.23 L236.60,750.55 L236.90,748.96 L237.20,750.85 L237.50,749.64 L237.80,751.24 L238.10,750.54 L238.40,750.78 L238.70,751.03 L239.00,749.97 L239.30,751.03 L239.60,751.30 L239.90,750.49 L240.20,751.18 L240.50,749.42 L240.80,750.61 L241.10,749.94 L241.40,748.76 L241.70,749.38 L242.00,748.86 L242.30,748.69 L242.60,749.07 L242.90,749.72 L243.20,748.38 L243.50,748.57 L243.80,747.04 L244.10,748.17 L244.40,748.84 L244.70,748.33 L245.00,747.82 L245.30,746.74 L245.60,746.12 L245.90,746.61 L246.20,745.30 L246.50,745.12 L246.80,746.67 L247.10,744.81 L247.40,746.79 L247.70,743.77 L248.00,745.01 L248.30,743.33 L248.60,744.12 L248.90,742.71 L249.20,743.18 L249.50,742.52 L249.80,741.73 L250.10,741.93 L250.40,742.11 L250.70,739.61 L251.00,740.07 L251.30,738.55 L251.60,737.54 L251.90,738.43 L252.20,733.71 L252.50,733.85 L252.80,731.72 L253.10,731.72 L253.40,730.46 L253.70,732.46 L254.00,728.07 L254.30,727.73 L254.60,725.68 L254.90,722.18 L255.20,720.25 L255.50,717.93 L255.80,712.81 L256.10,708.52 L256.40,704.05 L256.70,697.31 L257.00,692.59 L257.30,688.07 L257.60,682.63 L257.90,675.75 L258.20,670.62 L258.50,664.86 L258.80,658.33 L259.10,652.05 L259.40,644.19 L259.70,636.59 L260.00,627.44 L260.30,619.85 L260.60,613.16 L260.90,603.82 L261.20,597.92 L261.50,588.83 L261.80,579.19 L262.10,570.78 L262.40,560.99 L262.70,554.24 L263.00,550.97 L263.30,551.89 L263.60,556.89 L263.90,557.39 L264.20,565.22 L264.50,572.11 L264.80,580.78 L265.10,587.48 L265.40,593.23 L265.70,603.77 L266.00,610.21 L266.30,620.42 L266.60,629.13 L266.90,639.26 L267.20,649.36 L267.50,659.40 L267.80,667.19 L268.10,672.39 L268.40,679.28 L268.70,684.36 L269.00,690.40 L269.30,695.84 L269.60,701.36 L269.90,705.11 L270.20,709.96 L270.50,714.27 L270.80,717.73 L271.10,720.04 L271.40,724.68 L271.70,724.79 L272.00,727.57 L272.30,728.78 L272.60,731.23 L272.90,729.88 L273.20,734.90 L273.50,734.36 L273.80,734.79 L274.10,737.17 L274.40,740.12 L274.70,739.72 L275.00,739.26 L275.30,740.86 L275.60,743.25 L275.90,741.75 L276.20,743.52 L276.50,744.11 L276.80,746.80 L277.10,745.28 L277.40,747.12 L277.70,745.87 L278.00,746.15 L278.30,748.05 L278.60,748.09 L278.90,746.47 L279.20,748.82 L279.50,749.17 L279.80,748.45 L280.10,749.48 L280.40,749.85 L280.70,749.53 L281.00,749.75 L281.30,749.98 L281.60,750.61 L281.90,750.00 L282.20,751.37 L282.50,750.41 L282.80,751.99 L283.10,752.11 L283.40,751.55 L283.70,753.38 L284.00,754.51 L284.30,754.21 L284.60,752.15 L284.90,754.57 L285.20,753.86 L285.50,753.81 L285.80,753.52 L286.10,754.17 L286.40,755.49 L286.70,754.91 L287.00,754.22 L287.30,754.12 L287.60,754.43 L287.90,755.37 L288.20,756.53 L288.50,754.13 L288.80,755.07 L289.10,754.79 L289.40,754.51 L289.70,755.50 L290.00,755.64 L290.30,753.97 L290.60,754.29 L290.90,756.17 L291.20,755.43 L291.50,755.59 L291.80,754.72 L292.10,754.81 L292.40,755.51 L292.70,754.69 L293.00,754.16 L293.30,755.08 L293.60,755.82 L293.90,754.17 L294.20,755.91 L294.50,755.59 L294.80,754.25 L295.10,754.96 L295.40,754.89 L295.70,755.43 L296.00,755.43 L296.30,753.74 L296.60,753.67 L296.90,755.64 L297.20,754.83 L297.50,755.05 L297.80,754.95 L298.10,755.92 L298.40,753.57 L298.70,755.46 L299.00,753.81 L299.30,755.07 L299.60,755.54 L299.90,753.20 L300.20,754.66 L300.50,754.04 L300.80,753.98 L301.10,754.21 L301.40,753.23 L301.70,753.25 L302.00,754.56 L302.30,754.66 L302.60,753.40 L302.90,752.57 L303.20,755.63 L303.50,754.49 L303.80,753.73 L304.10,752.41 L304.40,752.62 L304.70,753.12 L305.00,751.91 L305.30,753.85 L305.60,752.38 L305.90,752.35 L306.20,750.90 L306.50,750.72 L306.80,750.53 L307.10,751.12 L307.40,750.35 L307.70,750.00 L308.00,750.16 L308.30,749.72 L308.60,750.41 L308.90,748.61 L309.20,747.53 L309.50,747.96 L309.80,748.73 L310.10,746.48 L310.40,746.32 L310.70,745.23 L311.00,745.04 L311.30,744.01 L311.60,742.13 L311.90,741.56 L312.20,741.42 L312.50,740.37 L312.80,738.98 L313.10,737.65 L313.40,735.31 L313.70,733.91 L314.00,733.58 L314.30,730.38 L314.60,729.74 L314.90,726.25 L315.20,725.19 L315.50,722.43 L315.80,719.45 L316.10,718.44 L316.40,715.01 L316.70,713.28 L317.00,711.76 L317.30,709.98 L317.60,710.39 L317.90,707.43 L318.20,706.73 L318.50,704.32 L318.80,704.02 L319.10,703.34 L319.40,702.80 L319.70,702.30 L320.00,703.00 L320.30,704.71 L320.60,704.16 L320.90,705.27 L321.20,706.32 L321.50,710.07 L321.80,710.56 L322.10,710.80 L322.40,712.01 L322.70,711.94 L323.00,713.55 L323.30,715.04 L323.60,716.18 L323.90,716.64 L324.20,718.02 L324.50,720.54 L324.80,721.97 L325.10,721.69 L325.40,725.36 L325.70,728.26 L326.00,728.63 L326.30,731.35 L326.60,731.91 L326.90,735.76 L327.20,736.01 L327.50,737.68 L327.80,740.12 L328.10,743.87 L328.40,742.71 L328.70,743.29 L329.00,745.62 L329.30,746.11 L329.60,747.95 L329.90,746.13 L330.20,746.46 L330.50,748.11 L330.80,749.24 L331.10,749.76 L331.40,750.88 L331.70,749.22 L332.00,750.24 L332.30,751.27 L332.60,752.50 L332.90,752.60 L333.20,752.23 L333.50,752.09 L333.80,754.01 L334.10,754.38 L334.40,756.14 L334.70,754.00 L335.00,755.75 L335.30,753.62 L335.60,754.38 L335.90,754.45 L336.20,754.79 L336.50,754.59 L336.80,755.00 L337.10,755.54 L337.40,755.34 L337.70,756.39 L338.00,755.90 L338.30,756.08 L338.60,757.43 L338.90,756.58 L339.20,756.55 L339.50,756.52 L339.80,756.69 L340.10,757.22 L340.40,756.17 L340.70,757.89 L341.00,758.34 L341.30,758.08 L341.60,756.80 L341.90,755.97 L342.20,757.01 L342.50,757.58 L342.80,758.22 L343.10,757.46 L343.40,757.43 L343.70,759.02 L344.00,757.27 L344.30,758.78 L344.60,758.71 L344.90,756.92 L345.20,758.32 L345.50,757.68 L345.80,757.41 L346.10,756.72 L346.40,757.01 L346.70,758.71 L347.00,758.10 L347.30,758.70 L347.60,757.63 L347.90,758.30 L348.20,758.38 L348.50,757.37 L348.80,757.31 L349.10,759.10 L349.40,758.90 L349.70,758.04 L350.00,758.77 L350.30,759.44 L350.60,760.45 L350.90,758.22 L351.20,759.51 L351.50,760.80 L351.80,759.12 L352.10,760.32 L352.40,756.98 L352.70,760.37 L353.00,759.19 L353.30,757.66 L353.60,759.91 L353.90,760.16 L354.20,760.32 L354.50,760.35 L354.80,759.35 L355.10,758.78 L355.40,759.05 L355.70,759.43 L356.00,759.83 L356.30,759.12 L356.60,759.58 L356.90,760.30 L357.20,759.87 L357.50,761.53 L357.80,761.45 L358.10,758.72 L358.40,759.23 L358.70,758.63 L359.00,758.78 L359.30,760.23 L359.60,758.97 L359.90,758.94 L360.20,759.61 L360.50,760.53 L360.80,759.59 L361.10,759.61 L361.40,760.69 L361.70,760.34 L362.00,760.35 L362.30,760.78 L362.60,759.17 L362.90,760.21 L363.20,759.52 L363.50,760.93 L363.80,760.77 L364.10,759.24 L364.40,761.25 L364.70,759.17 L365.00,761.14 L365.30,760.35 L365.60,759.47 L365.90,759.28 L366.20,759.98 L366.50,760.23 L366.80,759.68 L367.10,760.76 L367.40,759.13 L367.70,760.31 L368.00,760.34 L368.30,758.79 L368.60,760.62 L368.90,759.32 L369.20,758.31 L369.50,759.90 L369.80,760.23 L370.10,761.20 L370.40,760.05 L370.70,761.70 L371.00,761.69 L371.30,761.41 L371.60,761.62 L371.90,760.82 L372.20,760.07 L372.50,761.09 L372.80,761.38 L373.10,760.78 L373.40,760.39 L373.70,759.29 L374.00,761.18 L374.30,760.92 L374.60,759.55 L374.90,760.74 L375.20,761.27 L375.50,760.59 L375.80,761.35 L376.10,761.34 L376.40,759.48 L376.70,760.47 L377.00,761.15 L377.30,761.52 L377.60,761.95 L377.90,759.17 L378.20,760.73 L378.50,761.40 L378.80,761.84 L379.10,762.24 L379.40,760.05 L379.70,760.54 L380.00,759.98 L380.30,761.56 L380.60,759.78 L380.90,761.89 L381.20,761.70 L381.50,761.33 L381.80,759.11 L382.10,760.38 L382.40,761.59 L382.70,759.78 L383.00,760.78 L383.30,760.90 L383.60,761.75 L383.90,761.25 L384.20,761.26 L384.50,760.67 L384.80,761.05 L385.10,760.95 L385.40,761.68 L385.70,760.93 L386.00,761.96 L386.30,759.68 L386.60,762.12 L386.90,760.98 L387.20,762.08 L387.50,761.21 L387.80,761.87 L388.10,762.42 L388.40,760.71 L388.70,761.25 L389.00,761.05 L389.30,761.37 L389.60,759.85 L389.90,761.07 L390.20,761.02 L390.50,760.57 L390.80,761.08 L391.10,759.95 L391.40,762.43 L391.70,761.64 L392.00,762.85 L392.30,760.54 L392.60,760.30 L392.90,761.53 L393.20,759.90 L393.50,761.49 L393.80,760.72 L394.10,761.03 L394.40,761.53 L394.70,761.36 L395.00,762.89 L395.30,761.87 L395.60,760.25 L395.90,762.17 L396.20,760.22 L396.50,761.42 L396.80,760.31 L397.10,760.66 L397.40,762.46 L397.70,760.89 L398.00,760.82 L398.30,760.89 L398.60,761.10 L398.90,762.58 L399.20,760.38 L399.50,760.33 L399.80,761.86 L400.10,760.03 L400.40,761.06 L400.70,762.31 L401.00,761.35 L401.30,760.94 L401.60,760.73 L401.90,760.55 L402.20,760.80 L402.50,761.40 L402.80,762.31 L403.10,762.05 L403.40,760.74 L403.70,760.58 L404.00,761.75 L404.30,759.62 L404.60,760.74 L404.90,760.81 L405.20,760.12 L405.50,760.18 L405.80,761.28 L406.10,759.56 L406.40,760.15 L406.70,760.33 L407.00,760.91 L407.30,759.65 L407.60,761.68 L407.90,760.47 L408.20,760.47 L408.50,760.34 L408.80,760.04 L409.10,759.75 L409.40,761.49 L409.70,760.66 L410.00,760.36 L410.30,761.24 L410.60,759.75 L410.90,760.82 L411.20,760.24 L411.50,759.40 L411.80,760.70 L412.10,758.73 L412.40,760.44 L412.70,759.06 L413.00,760.06 L413.30,760.78 L413.60,760.01 L413.90,758.94 L414.20,759.34 L414.50,758.98 L414.80,758.23 L415.10,758.22 L415.40,759.12 L415.70,759.48 L416.00,757.52 L416.30,758.90 L416.60,759.37 L416.90,759.03 L417.20,758.10 L417.50,759.84 L417.80,758.00 L418.10,759.61 L418.40,760.48 L418.70,757.52 L419.00,759.54 L419.30,759.69 L419.60,759.73 L419.90,759.01 L420.20,759.51 L420.50,758.72 L420.80,760.12 L421.10,760.58 L421.40,759.70 L421.70,759.59 L422.00,760.08 L422.30,760.57 L422.60,760.72 L422.90,760.66 L423.20,760.87 L423.50,759.77 L423.80,758.63 L424.10,761.44 L424.40,762.13 L424.70,759.78 L425.00,760.42 L425.30,761.25 L425.60,761.81 L425.90,761.57 L426.20,762.11 L426.50,761.01 L426.80,761.42 L427.10,761.43 L427.40,760.74 L427.70,762.12 L428.00,761.65 L428.30,761.96 L428.60,760.83 L428.90,762.02 L429.20,760.30 L429.50,761.52 L429.80,759.02 L430.10,760.37 L430.40,761.83 L430.70,760.85 L431.00,761.38 L431.30,759.89 L431.60,762.54 L431.90,761.76 L432.20,761.24 L432.50,761.62 L432.80,761.55 L433.10,762.46 L433.40,761.47 L433.70,760.07 L434.00,761.09 L434.30,762.37 L434.60,761.78 L434.90,760.96 L435.20,761.82 L435.50,761.41 L435.80,761.82 L436.10,760.00 L436.40,760.57 L436.70,761.87 L437.00,761.13 L437.30,761.61 L437.60,762.94 L437.90,761.05 L438.20,761.51 L438.50,760.85 L438.80,760.79 L439.10,761.24 L439.40,760.10 L439.70,759.55 L440.00,762.43 L440.30,761.21 L440.60,762.23 L440.90,761.39 L441.20,761.41 L441.50,761.84 L441.80,761.87 L442.10,760.27 L442.40,762.27 L442.70,760.46 L443.00,761.43 L443.30,763.37 L443.60,761.31 L443.90,762.63 L444.20,760.95 L444.50,761.74 L444.80,761.26 L445.10,761.56 L445.40,760.50 L445.70,760.44 L446.00,761.47 L446.30,759.89 L446.60,760.48 L446.90,761.70 L447.20,760.65 L447.50,760.42 L447.80,760.23 L448.10,761.26 L448.40,760.83 L448.70,761.25 L449.00,760.96 L449.30,762.64 L449.60,760.73 L449.90,759.46 L450.20,761.17 L450.50,761.06 L450.80,761.18 L451.10,759.71 L451.40,761.97 L451.70,760.99 L452.00,760.97 L452.30,759.69 L452.60,761.38 L452.90,760.92 L453.20,762.08 L453.50,760.61 L453.80,759.92 L454.10,761.04 L454.40,760.16 L454.70,761.25 L455.00,759.99 L455.30,760.77 L455.60,760.68 L455.90,760.82 L456.20,760.41 L456.50,760.16 L456.80,760.76 L457.10,760.32 L457.40,760.91 L457.70,760.55 L458.00,758.90 L458.30,760.69 L458.60,761.88 L458.90,760.97 L459.20,761.20 L459.50,761.06 L459.80,760.28 L460.10,759.56 L460.40,761.31 L460.70,761.50 L461.00,761.08 L461.30,760.95 L461.60,760.90 L461.90,760.54 L462.20,760.76 L462.50,760.53 L462.80,760.76 L463.10,759.69 L463.40,759.93 L463.70,760.89 L464.00,760.11 L464.30,758.37 L464.60,760.43 L464.90,758.42 L465.20,761.84 L465.50,760.82 L465.80,760.75 L466.10,759.62 L466.40,759.20 L466.70,759.91 L467.00,760.06 L467.30,759.38 L467.60,760.09 L467.90,760.48 L468.20,760.37 L468.50,758.98 L468.80,758.02 L469.10,759.74 L469.40,759.15 L469.70,760.01 L470.00,760.93 L470.30,760.88 L470.60,759.72 L470.90,760.34 L471.20,760.72 L471.50,759.36 L471.80,759.49 L472.10,759.90 L472.40,759.12 L472.70,758.68 L473.00,758.42 L473.30,758.97 L473.60,758.40 L473.90,759.49 L474.20,758.50 L474.50,759.90 L474.80,759.63 L475.10,757.57 L475.40,759.38 L475.70,758.11 L476.00,759.48 L476.30,758.71 L476.60,758.19 L476.90,758.70 L477.20,757.62 L477.50,758.27 L477.80,758.24 L478.10,757.73 L478.40,758.09 L478.70,756.88 L479.00,758.07 L479.30,756.56 L479.60,757.96 L479.90,757.76 L480.20,757.87 L480.50,756.76 L480.80,759.59 L481.10,756.86 L481.40,757.08 L481.70,756.26 L482.00,757.95 L482.30,756.32 L482.60,757.41 L482.90,755.75 L483.20,756.67 L483.50,756.02 L483.80,756.97 L484.10,755.87 L484.40,755.30 L484.70,756.25 L485.00,754.80 L485.30,754.87 L485.60,756.13 L485.90,753.86 L486.20,755.85 L486.50,754.77 L486.80,754.20 L487.10,754.97 L487.40,755.12 L487.70,753.97 L488.00,754.12 L488.30,754.72 L488.60,754.48 L488.90,753.63 L489.20,752.84 L489.50,752.48 L489.80,752.53 L490.10,753.32 L490.40,752.99 L490.70,752.51 L491.00,753.11 L491.30,751.47 L491.60,751.12 L491.90,750.81 L492.20,752.34 L492.50,748.83 L492.80,750.33 L493.10,749.87 L493.40,748.77 L493.70,749.63 L494.00,747.56 L494.30,745.95 L494.60,743.18 L494.90,742.75 L495.20,740.40 L495.50,738.99 L495.80,737.29 L496.10,734.86 L496.40,733.82 L496.70,732.67 L497.00,730.22 L497.30,727.59 L497.60,723.91 L497.90,724.41 L498.20,722.53 L498.50,719.69 L498.80,717.71 L499.10,716.72 L499.40,713.46 L499.70,712.50 L500.00,708.63 L500.30,706.29 L500.60,704.51 L500.90,700.77 L501.20,699.37 L501.50,697.26 L501.80,693.30 L502.10,692.71 L502.40,689.25 L502.70,688.02 L503.00,685.82 L503.30,683.56 L503.60,682.03 L503.90,679.88 L504.20,679.79 L504.50,679.17 L504.80,680.90 L505.10,680.55 L505.40,679.07 L505.70,681.49 L506.00,681.95 L506.30,682.61 L506.60,684.61 L506.90,686.38 L507.20,686.94 L507.50,688.96 L507.80,691.19 L508.10,692.24 L508.40,695.20 L508.70,697.05 L509.00,698.66 L509.30,700.61 L509.60,703.58 L509.90,706.04 L510.20,707.54 L510.50,708.44 L510.80,711.45 L511.10,712.63 L511.40,714.69 L511.70,716.95 L512.00,717.17 L512.30,719.69 L512.60,721.27 L512.90,723.02 L513.20,727.29 L513.50,728.41 L513.80,728.21 L514.10,731.86 L514.40,732.95 L514.70,736.11 L515.00,736.99 L515.30,738.43 L515.60,740.22 L515.90,741.83 L516.20,742.83 L516.50,743.78 L516.80,744.83 L517.10,746.16 L517.40,745.63 L517.70,747.27 L518.00,747.91 L518.30,748.33 L518.60,750.00 L518.90,749.06 L519.20,750.44 L519.50,750.68 L519.80,752.40 L520.10,752.17 L520.40,753.14 L520.70,753.93 L521.00,752.87 L521.30,754.97 L521.60,754.47 L521.90,755.28 L522.20,755.79 L522.50,756.88 L522.80,757.16 L523.10,758.27 L523.40,757.28 L523.70,757.00 L524.00,757.18 L524.30,758.27 L524.60,759.16 L524.90,758.30 L525.20,757.71 L525.50,758.51 L525.80,758.62 L526.10,758.57 L526.40,758.08 L526.70,756.77 L527.00,758.48 L527.30,759.85 L527.60,759.30 L527.90,757.48 L528.20,759.35 L528.50,757.98 L528.80,761.12 L529.10,759.79 L529.40,758.78 L529.70,760.46 L530.00,759.29 L530.30,760.45 L530.60,760.10 L530.90,759.23 L531.20,760.77 L531.50,759.25 L531.80,761.45 L532.10,760.51 L532.40,759.71 L532.70,759.15 L533.00,761.94 L533.30,761.87 L533.60,759.78 L533.90,762.14 L534.20,761.01 L534.50,760.76 L534.80,760.91 L535.10,760.81 L535.40,762.20 L535.70,761.23 L536.00,759.68 L536.30,762.84 L536.60,761.91 L536.90,760.38 L537.20,760.99 L537.50,760.58 L537.80,761.36 L538.10,761.66 L538.40,761.56 L538.70,760.91 L539.00,760.76 L539.30,762.09 L539.60,761.35 L539.90,763.23 L540.20,760.81 L540.50,762.10 L540.80,761.52 L541.10,760.89 L541.40,762.59 L541.70,761.62 L542.00,760.83 L542.30,761.29 L542.60,762.37 L542.90,760.60 L543.20,762.68 L543.50,762.14 L543.80,761.39 L544.10,762.70 L544.40,763.02 L544.70,762.12 L545.00,761.79 L545.30,763.13 L545.60,762.87 L545.90,760.95 L546.20,761.53 L546.50,761.54 L546.80,761.39 L547.10,760.54 L547.40,762.46 L547.70,761.82 L548.00,761.84 L548.30,762.89 L548.60,761.33 L548.90,761.74 L549.20,762.02 L549.50,761.46 L549.80,761.73 L550.10,762.44 L550.40,761.83 L550.70,762.90 L551.00,761.25 L551.30,762.02 L551.60,760.73 L551.90,761.78 L552.20,761.32 L552.50,762.98 L552.80,762.49 L553.10,762.31 L553.40,763.39 L553.70,763.07 L554.00,762.50 L554.30,761.38 L554.60,760.79 L554.90,761.93 L555.20,761.67 L555.50,761.44 L555.80,761.74 L556.10,760.65 L556.40,763.17 L556.70,761.07 L557.00,761.45 L557.30,762.45 L557.60,760.70 L557.90,762.75 L558.20,762.76 L558.50,761.77 L558.80,761.16 L559.10,761.65 L559.40,760.55 L559.70,763.15 L560.00,762.08 L560.30,761.45 L560.60,761.32 L560.90,762.51 L561.20,763.26 L561.50,761.04 L561.80,761.60 L562.10,760.65 L562.40,762.61 L562.70,762.20 L563.00,763.89 L563.30,761.98 L563.60,761.73 L563.90,761.51 L564.20,762.77 L564.50,760.78 L564.80,762.69 L565.10,762.29 L565.40,761.68 L565.70,761.37 L566.00,762.94 L566.30,763.59 L566.60,761.74 L566.90,762.52 L567.20,763.50 L567.50,761.60 L567.80,761.90 L568.10,761.12 L568.40,761.98 L568.70,762.03 L569.00,761.76 L569.30,761.49 L569.60,760.78 L569.90,760.93 L570.20,761.18 L570.50,762.43 L570.80,761.44 L571.10,761.09 L571.40,762.23 L571.70,762.08 L572.00,760.93 L572.30,760.95 L572.60,761.91 L572.90,761.58 L573.20,760.53 L573.50,761.32 L573.80,761.02 L574.10,761.87 L574.40,760.21 L574.70,761.56 L575.00,761.15 L575.30,759.94 L575.60,761.58 L575.90,761.44 L576.20,759.63 L576.50,762.31 L576.80,759.77 L577.10,759.96 L577.40,760.44 L577.70,761.32 L578.00,761.17 L578.30,760.62 L578.60,761.81 L578.90,761.03 L579.20,761.83 L579.50,762.99 L579.80,760.86 L580.10,758.61 L580.40,760.33 L580.70,759.82 L581.00,760.78 L581.30,760.78 L581.60,759.70 L581.90,759.76 L582.20,760.48 L582.50,760.54 L582.80,758.57 L583.10,761.49 L583.40,760.73 L583.70,760.69 L584.00,760.94 L584.30,759.86 L584.60,760.66 L584.90,761.55 L585.20,761.58 L585.50,761.08 L585.80,760.47 L586.10,760.03 L586.40,761.78 L586.70,761.13 L587.00,760.35 L587.30,758.91 L587.60,759.98 L587.90,759.11 L588.20,761.73 L588.50,760.86 L588.80,760.09 L589.10,760.47 L589.40,762.85 L589.70,761.71 L590.00,759.59 L590.30,760.59 L590.60,759.68 L590.90,759.27 L591.20,760.84 L591.50,762.70 L591.80,762.00 L592.10,760.74 L592.40,760.39 L592.70,760.87 L593.00,761.56 L593.30,759.48 L593.60,759.13 L593.90,762.24 L594.20,760.88 L594.50,761.95 L594.80,760.76 L595.10,761.74 L595.40,759.93 L595.70,760.78 L596.00,761.58 L596.30,761.04 L596.60,759.70 L596.90,760.73 L597.20,759.31 L597.50,758.54 L597.80,760.04 L598.10,760.64 L598.40,760.03 L598.70,758.10 L599.00,759.73 L599.30,759.40 L599.60,758.27 L599.90,756.38 L600.20,759.13 L600.50,758.83 L600.80,758.30 L601.10,756.21 L601.40,756.20 L601.70,758.09 L602.00,757.69 L602.30,757.19 L602.60,756.33 L602.90,756.63 L603.20,755.59 L603.50,755.54 L603.80,754.81 L604.10,755.50 L604.40,754.66 L604.70,755.55 L605.00,755.08 L605.30,753.51 L605.60,755.45 L605.90,752.60 L606.20,753.52 L606.50,753.60 L606.80,753.26 L607.10,749.75 L607.40,751.87 L607.70,751.41 L608.00,750.91 L608.30,747.09 L608.60,747.65 L608.90,747.36 L609.20,746.26 L609.50,746.94 L609.80,744.37 L610.10,745.11 L610.40,743.66 L610.70,741.04 L611.00,740.52 L611.30,740.04 L611.60,739.59 L611.90,739.42 L612.20,737.49 L612.50,737.49 L612.80,734.46 L613.10,732.21 L613.40,733.38 L613.70,732.78 L614.00,730.72 L614.30,728.71 L614.60,728.41 L614.90,728.14 L615.20,724.83 L615.50,722.72 L615.80,721.06 L616.10,721.93 L616.40,718.77 L616.70,717.95 L617.00,717.20 L617.30,715.94 L617.60,713.24 L617.90,714.01 L618.20,713.27 L618.50,712.54 L618.80,712.77 L619.10,711.48 L619.40,712.17 L619.70,712.29 L620.00,714.08 L620.30,713.75 L620.60,715.68 L620.90,715.58 L621.20,717.70 L621.50,718.89 L621.80,720.56 L622.10,722.29 L622.40,723.58 L622.70,725.13 L623.00,725.13 L623.30,729.38 L623.60,729.42 L623.90,731.18 L624.20,732.04 L624.50,734.85 L624.80,734.36 L625.10,736.55 L625.40,738.09 L625.70,739.47 L626.00,740.07 L626.30,740.58 L626.60,740.03 L626.90,743.13 L627.20,744.03 L627.50,744.71 L627.80,745.64 L628.10,745.96 L628.40,746.38 L628.70,748.64 L629.00,749.67 L629.30,748.55 L629.60,751.01 L629.90,751.21 L630.20,752.47 L630.50,752.63 L630.80,753.97 L631.10,754.47 L631.40,754.87 L631.70,753.41 L632.00,755.68 L632.30,755.35 L632.60,754.65 L632.90,756.49 L633.20,755.02 L633.50,757.21 L633.80,758.16 L634.10,756.56 L634.40,758.02 L634.70,757.87 L635.00,758.28 L635.30,756.82 L635.60,758.69 L635.90,758.49 L636.20,759.20 L636.50,758.76 L636.80,759.85 L637.10,759.31 L637.40,759.79 L637.70,760.50 L638.00,759.60 L638.30,760.38 L638.60,759.80 L638.90,760.11 L639.20,759.26 L639.50,760.37 L639.80,760.75 L640.10,759.64 L640.40,760.35 L640.70,760.00 L641.00,758.66 L641.30,759.83 L641.60,760.57 L641.90,758.97 L642.20,757.80 L642.50,759.37 L642.80,758.56 L643.10,760.58 L643.40,758.84 L643.70,758.75 L644.00,758.11 L644.30,758.72 L644.60,757.91 L644.90,757.49 L645.20,758.06 L645.50,757.30 L645.80,758.95 L646.10,756.74 L646.40,757.52 L646.70,756.88 L647.00,756.18 L647.30,758.58 L647.60,755.28 L647.90,758.08 L648.20,755.49 L648.50,756.54 L648.80,758.14 L649.10,754.25 L649.40,754.65 L649.70,756.66 L650.00,755.48 L650.30,754.65 L650.60,754.85 L650.90,753.85 L651.20,754.55 L651.50,755.50 L651.80,753.75 L652.10,754.02 L652.40,754.77 L652.70,755.30 L653.00,753.05 L653.30,753.73 L653.60,752.97 L653.90,752.90 L654.20,753.14 L654.50,753.04 L654.80,752.26 L655.10,752.22 L655.40,753.48 L655.70,754.44 L656.00,755.61 L656.30,754.45 L656.60,755.07 L656.90,756.08 L657.20,756.49 L657.50,756.12 L657.80,756.52 L658.10,758.46 L658.40,756.96 L658.70,757.16 L659.00,756.53 L659.30,758.54 L659.60,758.23 L659.90,760.28 L660.20,758.63 L660.50,759.76 L660.80,760.04 L661.10,760.80 L661.40,758.51 L661.70,761.07 L662.00,759.94 L662.30,760.00 L662.60,759.99 L662.90,760.08 L663.20,760.28 L663.50,758.77 L663.80,761.29 L664.10,761.06 L664.40,760.36 L664.70,761.23 L665.00,763.33 L665.30,761.86 L665.60,761.35 L665.90,763.21 L666.20,761.24 L666.50,761.88 L666.80,761.65 L667.10,762.00 L667.40,762.90 L667.70,762.85 L668.00,761.84 L668.30,762.41 L668.60,762.65 L668.90,762.29 L669.20,762.65 L669.50,762.13 L669.80,762.16 L670.10,762.86 L670.40,762.01 L670.70,763.26 L671.00,762.80 L671.30,762.24 L671.60,762.54 L671.90,762.69 L672.20,763.00 L672.50,763.26 L672.80,763.04 L673.10,762.53 L673.40,764.47 L673.70,764.08 L674.00,763.46 L674.30,764.19 L674.60,763.71 L674.90,763.26 L675.20,763.58 L675.50,765.75 L675.80,764.40 L676.10,764.47 L676.40,763.32 L676.70,764.17 L677.00,765.58 L677.30,764.09 L677.60,764.66 L677.90,764.84 L678.20,764.36 L678.50,765.16 L678.80,764.08 L679.10,764.33 L679.40,763.43 L679.70,766.15 L680.00,764.25 L680.30,764.11 L680.60,765.19 L680.90,763.67 L681.20,764.09 L681.50,763.47 L681.80,764.16 L682.10,763.84 L682.40,764.63 L682.70,764.10 L683.00,763.73 L683.30,764.00 L683.60,764.17 L683.90,763.86 L684.20,765.08 L684.50,764.88 L684.80,764.46 L685.10,763.38 L685.40,764.80 L685.70,763.34 L686.00,764.56 L686.30,764.47 L686.60,763.96 L686.90,763.77 L687.20,763.90 L687.50,766.17 L687.80,764.28 L688.10,764.34 L688.40,765.31 L688.70,764.88 L689.00,765.42 L689.30,763.56 L689.60,763.68 L689.90,767.32 L690.20,764.56 L690.50,764.37 L690.80,764.75 L691.10,765.44 L691.40,763.66 L691.70,764.88 L692.00,764.64 L692.30,765.22 L692.60,764.82 L692.90,764.25 L693.20,763.99 L693.50,762.71 L693.80,765.52 L694.10,763.52 L694.40,764.41 L694.70,766.11 L695.00,764.41 L695.30,765.27 L695.60,764.60 L695.90,765.36 L696.20,764.82 L696.50,764.38 L696.80,765.92 L697.10,764.60 L697.40,763.73 L697.70,764.57 L698.00,765.29 L698.30,763.94 L698.60,765.51 L698.90,765.50 L699.20,766.61 L699.50,764.36 L699.80,765.44 L700.10,763.54 L700.40,764.57 L700.70,765.00 L701.00,765.26 L701.30,764.89 L701.60,764.87 L701.90,764.45 L702.20,764.59 L702.50,765.21 L702.80,765.42 L703.10,765.50 L703.40,765.79 L703.70,765.96 L704.00,763.52 L704.30,764.57 L704.60,764.87 L704.90,764.49 L705.20,765.87 L705.50,765.64 L705.80,764.94 L706.10,765.13 L706.40,766.07 L706.70,764.76 L707.00,764.79 L707.30,765.79 L707.60,765.44 L707.90,766.22 L708.20,765.37 L708.50,765.68 L708.80,764.63 L709.10,764.32 L709.40,765.08 L709.70,762.93 L710.00,765.42 L710.30,765.89 L710.60,765.16 L710.90,764.92 L711.20,765.99 L711.50,765.07 L711.80,765.91 L712.10,766.90 L712.40,765.70 L712.70,765.88 L713.00,765.52 L713.30,765.32 L713.60,765.34 L713.90,765.18 L714.20,766.00 L714.50,763.81 L714.80,764.90 L715.10,765.66 L715.40,764.44 L715.70,765.04 L716.00,764.56 L716.30,765.48 L716.60,765.82 L716.90,766.30 L717.20,765.53 L717.50,764.53 L717.80,765.32 L718.10,765.58 L718.40,766.26 L718.70,763.37 L719.00,765.41 L719.30,763.62 L719.60,765.68 L719.90,765.46 L720.20,765.50 L720.50,765.81 L720.80,765.40 L721.10,764.56 L721.40,765.37 L721.70,766.05 L722.00,764.98 L722.30,765.09 L722.60,764.08 L722.90,766.00 L723.20,764.65 L723.50,764.45 L723.80,764.68 L724.10,764.34 L724.40,764.83 L724.70,766.07 L725.00,765.67 L725.30,766.18 L725.60,766.22 L725.90,764.28 L726.20,765.39 L726.50,766.21 L726.80,766.85 L727.10,763.83 L727.40,763.82 L727.70,765.35 L728.00,764.69 L728.30,764.15 L728.60,765.26 L728.90,764.30 L729.20,763.09 L729.50,764.90 L729.80,765.02 L730.10,765.43 L730.40,765.66 L730.70,765.04 L731.00,764.69 L731.30,764.34 L731.60,763.53 L731.90,764.50 L732.20,765.66 L732.50,765.37 L732.80,766.50 L733.10,764.70 L733.40,763.37 L733.70,765.48 L734.00,765.64 L734.30,763.84 L734.60,763.47 L734.90,764.89 L735.20,765.34 L735.50,763.84 L735.80,764.47 L736.10,764.10 L736.40,763.76 L736.70,763.65 L737.00,764.82 L737.30,764.39 L737.60,764.14 L737.90,762.56 L738.20,766.08 L738.50,763.89 L738.80,764.53 L739.10,763.71 L739.40,764.93 L739.70,763.39 L740.00,764.68 L740.30,764.44 L740.60,765.33 L740.90,763.68 L741.20,764.03 L741.50,764.35 L741.80,766.23 L742.10,763.32 L742.40,764.73 L742.70,763.95 L743.00,764.72 L743.30,764.98 L743.60,764.55 L743.90,764.63 L744.20,764.62 L744.50,763.90 L744.80,764.18 L745.10,762.99 L745.40,764.03 L745.70,763.67 L746.00,764.07 L746.30,764.85 L746.60,764.54 L746.90,764.59 L747.20,765.08 L747.50,762.23 L747.80,764.49 L748.10,764.10 L748.40,764.01 L748.70,763.01 L749.00,764.49 L749.30,764.95 L749.60,764.82 L749.90,763.89 L750.20,764.46 L750.50,764.66 L750.80,765.36 L751.10,764.85 L751.40,763.95 L751.70,763.88 L752.00,763.91 L752.30,763.93 L752.60,763.32 L752.90,764.32 L753.20,763.10 L753.50,762.98 L753.80,763.89 L754.10,763.11 L754.40,763.35 L754.70,761.83 L755.00,764.13 L755.30,763.45 L755.60,763.33 L755.90,763.78 L756.20,763.54 L756.50,762.77 L756.80,764.94 L757.10,762.92 L757.40,764.04 L757.70,764.71 L758.00,762.69 L758.30,763.24 L758.60,762.47 L758.90,763.95 L759.20,762.80 L759.50,762.15 L759.80,764.08 L760.10,763.73 L760.40,762.23 L760.70,763.89 L761.00,763.05 L761.30,765.07 L761.60,764.23 L761.90,762.36 L762.20,762.56 L762.50,762.04 L762.80,762.83 L763.10,762.73 L763.40,763.26 L763.70,762.71 L764.00,761.42 L764.30,761.92 L764.60,763.70 L764.90,763.47 L765.20,762.37 L765.50,762.37 L765.80,762.32 L766.10,762.45 L766.40,761.04 L766.70,763.11 L767.00,761.82 L767.30,762.45 L767.60,760.26 L767.90,762.48 L768.20,763.35 L768.50,760.42 L768.80,763.45 L769.10,762.57 L769.40,761.57 L769.70,760.85 L770.00,763.05 L770.30,762.29 L770.60,762.54 L770.90,761.80 L771.20,761.35 L771.50,762.67 L771.80,761.16 L772.10,762.63 L772.40,760.51 L772.70,761.08 L773.00,760.61 L773.30,762.81 L773.60,760.29 L773.90,760.74 L774.20,762.16 L774.50,761.77 L774.80,763.31 L775.10,762.98 L775.40,761.92 L775.70,761.90 L776.00,759.76 L776.30,760.42 L776.60,760.75 L776.90,760.75 L777.20,759.63 L777.50,759.84 L777.80,759.75 L778.10,761.14 L778.40,760.45 L778.70,759.65 L779.00,759.52 L779.30,759.79 L779.60,758.80 L779.90,758.97 L780.20,757.59 L780.50,759.35 L780.80,759.40 L781.10,758.73 L781.40,758.65 L781.70,758.39 L782.00,759.58 L782.30,757.93 L782.60,756.54 L782.90,756.62 L783.20,757.92 L783.50,758.09 L783.80,757.74 L784.10,757.71 L784.40,757.10 L784.70,755.67 L785.00,756.26 L785.30,755.34 L785.60,756.48 L785.90,755.70 L786.20,756.90 L786.50,756.72 L786.80,755.31 L787.10,757.55 L787.40,757.63 L787.70,755.96 L788.00,757.29 L788.30,757.85 L788.60,757.13 L788.90,758.17 L789.20,757.75 L789.50,758.59 L789.80,758.00 L790.10,757.85 L790.40,758.55 L790.70,758.92 L791.00,758.64 L791.30,758.23 L791.60,758.11 L791.90,758.61 L792.20,758.62 L792.50,759.43 L792.80,759.57 L793.10,759.54 L793.40,759.78 L793.70,760.10 L794.00,761.41 L794.30,761.29 L794.60,760.01 L794.90,761.00 L795.20,760.56 L795.50,760.92 L795.80,760.96 L796.10,760.81 L796.40,760.37 L796.70,759.63 L797.00,761.96 L797.30,762.90 L797.60,761.33 L797.90,762.62 L798.20,762.02 L798.50,762.68 L798.80,761.91 L799.10,762.48 L799.40,762.68 L799.70,760.90 L800.00,763.11 L800.30,762.88 L800.60,761.02 L800.90,763.63 L801.20,763.11 L801.50,763.35 L801.80,763.52 L802.10,762.93 L802.40,762.43 L802.70,762.99 L803.00,763.04 L803.30,765.26 L803.60,764.99 L803.90,763.12 L804.20,763.22 L804.50,763.86 L804.80,764.10 L805.10,763.10 L805.40,762.89 L805.70,765.34 L806.00,764.66 L806.30,762.55 L806.60,762.41 L806.90,763.22 L807.20,764.11 L807.50,764.42 L807.80,763.72 L808.10,762.71 L808.40,764.25 L808.70,764.60 L809.00,764.14 L809.30,763.77 L809.60,764.68 L809.90,764.19 L810.20,763.35 L810.50,764.38 L810.80,763.26 L811.10,765.16 L811.40,764.78 L811.70,763.60 L812.00,764.63 L812.30,765.51 L812.60,762.74 L812.90,764.42 L813.20,765.92 L813.50,763.31 L813.80,764.48 L814.10,763.46 L814.40,764.61 L814.70,762.70 L815.00,763.37 L815.30,764.29 L815.60,764.87 L815.90,765.09 L816.20,765.16 L816.50,765.78 L816.80,765.42 L817.10,765.48 L817.40,764.07 L817.70,764.77 L818.00,767.56 L818.30,766.82 L818.60,765.64 L818.90,765.59 L819.20,765.81 L819.50,764.67 L819.80,766.65 L820.10,764.72 L820.40,764.98 L820.70,766.87 L821.00,763.34 L821.30,765.38 L821.60,763.66 L821.90,764.56 L822.20,765.04 L822.50,764.83 L822.80,765.27 L823.10,764.50 L823.40,765.06 L823.70,764.16 L824.00,764.83 L824.30,764.00 L824.60,765.71 L824.90,764.09 L825.20,765.75 L825.50,764.83 L825.80,764.92 L826.10,766.16 L826.40,765.27 L826.70,763.59 L827.00,765.59 L827.30,762.74 L827.60,765.39 L827.90,764.83 L828.20,763.98 L828.50,765.22 L828.80,764.89 L829.10,766.82 L829.40,764.76 L829.70,766.75 L830.00,766.27 L830.30,764.59 L830.60,764.40 L830.90,766.19 L831.20,764.95 L831.50,765.18 L831.80,764.82 L832.10,764.00 L832.40,764.69 L832.70,764.18 L833.00,763.68 L833.30,764.71 L833.60,766.44 L833.90,766.28 L834.20,764.85 L834.50,764.99 L834.80,765.29 L835.10,765.98 L835.40,765.08 L835.70,764.39 L836.00,764.44 L836.30,765.70 L836.60,766.91 L836.90,764.16 L837.20,762.93 L837.50,765.32 L837.80,764.55 L838.10,764.70 L838.40,765.60 L838.70,764.58 L839.00,763.37 L839.30,762.80 L839.60,764.39 L839.90,763.42 L840.20,764.61 L840.50,763.26 L840.80,764.00 L841.10,763.02 L841.40,763.93 L841.70,763.82 L842.00,764.67 L842.30,765.26 L842.60,763.94 L842.90,763.32 L843.20,765.67 L843.50,764.29 L843.80,764.46 L844.10,764.42 L844.40,765.09 L844.70,764.68 L845.00,764.35 L845.30,764.39 L845.60,762.97 L845.90,763.14 L846.20,763.52 L846.50,763.65 L846.80,763.54 L847.10,763.75 L847.40,763.46 L847.70,763.03 L848.00,761.97 L848.30,764.01 L848.60,763.76 L848.90,762.47 L849.20,763.59 L849.50,763.45 L849.80,763.13 L850.10,761.46 L850.40,761.95 L850.70,762.42 L851.00,764.24 L851.30,762.10 L851.60,762.48 L851.90,761.78 L852.20,762.26 L852.50,762.91 L852.80,760.81 L853.10,760.11 L853.40,763.03 L853.70,762.45 L854.00,761.85 L854.30,763.13 L854.60,763.08 L854.90,760.43 L855.20,762.01 L855.50,763.04 L855.80,761.47 L856.10,761.72 L856.40,762.74 L856.70,761.65 L857.00,760.80 L857.30,761.18 L857.60,760.57 L857.90,762.09 L858.20,760.08 L858.50,762.32 L858.80,759.99 L859.10,761.34 L859.40,759.97 L859.70,760.85 L860.00,761.89 L860.30,761.88 L860.60,761.93 L860.90,760.64 L861.20,760.70 L861.50,760.69 L861.80,760.90 L862.10,759.92 L862.40,761.07 L862.70,760.29 L863.00,760.86 L863.30,760.17 L863.60,760.21 L863.90,758.88 L864.20,759.01 L864.50,758.13 L864.80,758.84 L865.10,758.80 L865.40,759.52 L865.70,757.59 L866.00,761.26 L866.30,758.26 L866.60,759.29 L866.90,758.95 L867.20,755.78 L867.50,757.54 L867.80,758.87 L868.10,755.40 L868.40,757.96 L868.70,756.37 L869.00,756.60 L869.30,757.03 L869.60,755.10 L869.90,756.69 L870.20,755.82 L870.50,755.57 L870.80,756.65 L871.10,758.88 L871.40,756.03 L871.70,756.05 L872.00,755.38 L872.30,754.64 L872.60,755.29 L872.90,756.16 L873.20,754.81 L873.50,755.19 L873.80,754.00 L874.10,756.10 L874.40,752.30 L874.70,753.94 L875.00,753.65 L875.30,753.15 L875.60,751.71 L875.90,751.43 L876.20,751.93 L876.50,751.95 L876.80,750.58 L877.10,750.45 L877.40,751.59 L877.70,751.76 L878.00,750.17 L878.30,749.84 L878.60,749.61 L878.90,752.15 L879.20,750.28 L879.50,749.65 L879.80,750.42 L880.10,751.39 L880.40,750.34 L880.70,748.05 L881.00,749.13 L881.30,748.83 L881.60,748.88 L881.90,748.17 L882.20,748.94 L882.50,748.45 L882.80,749.79 L883.10,749.70 L883.40,748.65 L883.70,748.61 L884.00,749.89 L884.30,751.10 L884.60,751.24 L884.90,751.04 L885.20,748.58 L885.50,751.27 L885.80,751.37 L886.10,752.03 L886.40,751.59 L886.70,752.57 L887.00,752.68 L887.30,755.86 L887.60,754.44 L887.90,753.96 L888.20,754.36 L888.50,754.55 L888.80,755.05 L889.10,754.76 L889.40,755.28 L889.70,756.34 L890.00,756.33 L890.30,756.04 L890.60,757.07 L890.90,756.28 L891.20,755.41 L891.50,754.92 L891.80,755.97 L892.10,756.67 L892.40,757.22 L892.70,757.95 L893.00,756.69 L893.30,756.65 L893.60,758.14 L893.90,758.63 L894.20,757.36 L894.50,758.19 L894.80,759.21 L895.10,758.43 L895.40,758.24 L895.70,756.63 L896.00,759.64 L896.30,759.17 L896.60,758.82 L896.90,758.41 L897.20,757.83 L897.50,758.89 L897.80,758.95 L898.10,760.04 L898.40,758.12 L898.70,760.42 L899.00,759.26 L899.30,760.26 L899.60,758.44 L899.90,759.56 L900.20,760.29 L900.50,759.32 L900.80,757.92 L901.10,758.83 L901.40,759.49 L901.70,757.76 L902.00,757.62 L902.30,758.94 L902.60,757.81 L902.90,759.07 L903.20,757.34 L903.50,756.64 L903.80,757.39 L904.10,759.16 L904.40,757.00 L904.70,757.56 L905.00,757.61 L905.30,756.42 L905.60,757.99 L905.90,757.04 L906.20,757.10 L906.50,755.12 L906.80,754.90 L907.10,753.89 L907.40,755.92 L907.70,755.74 L908.00,756.41 L908.30,756.93 L908.60,755.32 L908.90,755.19 L909.20,755.70 L909.50,756.53 L909.80,754.45 L910.10,755.61 L910.40,754.82 L910.70,754.71 L911.00,755.67 L911.30,754.30 L911.60,754.07 L911.90,755.57 L912.20,755.02 L912.50,754.86 L912.80,755.03 L913.10,755.64 L913.40,754.98 L913.70,756.03 L914.00,755.83 L914.30,756.84 L914.60,756.76 L914.90,756.53 L915.20,755.75 L915.50,756.15 L915.80,755.67 L916.10,758.73 L916.40,756.25 L916.70,757.05 L917.00,757.88 L917.30,755.70 L917.60,756.30 L917.90,756.80 L918.20,756.43 L918.50,756.33 L918.80,757.10 L919.10,758.77 L919.40,758.41 L919.70,757.95 L920.00,758.06 L920.30,756.73 L920.60,758.85 L920.90,758.74 L921.20,757.59 L921.50,758.81 L921.80,758.60 L922.10,758.46 L922.40,758.19 L922.70,758.60 L923.00,758.51 L923.30,759.85 L923.60,759.91 L923.90,760.02 L924.20,759.73 L924.50,759.69 L924.80,761.92 L925.10,758.74 L925.40,761.49 L925.70,760.92 L926.00,760.82 L926.30,760.47 L926.60,760.86 L926.90,760.17 L927.20,760.14 L927.50,761.36 L927.80,760.18 L928.10,762.43 L928.40,762.79 L928.70,759.03 L929.00,760.76 L929.30,762.42 L929.60,762.48 L929.90,762.49 L930.20,762.86 L930.50,763.22 L930.80,763.41 L931.10,764.28 L931.40,762.85 L931.70,763.63 L932.00,761.58 L932.30,762.90 L932.60,762.02 L932.90,764.27 L933.20,765.11 L933.50,763.62 L933.80,762.08 L934.10,763.13 L934.40,763.28 L934.70,763.45 L935.00,764.24 L935.30,764.16 L935.60,761.12 L935.90,764.56 L936.20,763.01 L936.50,762.98 L936.80,764.69 L937.10,763.28 L937.40,762.37 L937.70,762.43 L938.00,763.63 L938.30,764.38 L938.60,764.91 L938.90,763.51 L939.20,763.28 L939.50,765.08 L939.80,763.33 L940.10,764.98 L940.40,763.96 L940.70,763.98 L941.00,763.60 L941.30,764.07 L941.60,763.44 L941.90,763.28 L942.20,763.76 L942.50,763.34 L942.80,764.17 L943.10,764.00 L943.40,763.72 L943.70,763.79 L944.00,763.78 L944.30,765.47 L944.60,764.00 L944.90,763.52 L945.20,763.78 L945.50,764.61 L945.80,763.89 L946.10,763.95 L946.40,763.88 L946.70,764.25 L947.00,764.45 L947.30,764.51 L947.60,762.76 L947.90,763.25 L948.20,761.94 L948.50,764.87 L948.80,765.14 L949.10,765.32 L949.40,764.35 L949.70,765.21 L950.00,764.22 L950.30,764.16 L950.60,762.97 L950.90,763.62 L951.20,763.80 L951.50,765.09 L951.80,765.73 L952.10,763.94 L952.40,764.67 L952.70,764.60 L953.00,763.72 L953.30,762.93 L953.60,763.76 L953.90,763.19 L954.20,764.16 L954.50,764.32 L954.80,764.30 L955.10,764.32 L955.40,764.89 L955.70,763.70 L956.00,765.26 L956.30,763.10 L956.60,764.58 L956.90,764.87 L957.20,763.88 L957.50,763.22 L957.80,765.12 L958.10,764.02 L958.40,765.27 L958.70,765.27 L959.00,764.63 L959.30,764.65 L959.60,765.50 L959.90,764.99 L960.20,763.90 L960.50,764.84 L960.80,765.18 L961.10,764.90 L961.40,764.90 L961.70,764.63 L962.00,764.66 L962.30,763.98 L962.60,763.58 L962.90,765.75 L963.20,764.27 L963.50,765.01 L963.80,763.57 L964.10,764.98 L964.40,764.16 L964.70,767.38 L965.00,764.02 L965.30,764.08 L965.60,765.70 L965.90,765.88 L966.20,763.14 L966.50,765.15 L966.80,765.69 L967.10,763.92 L967.40,765.55 L967.70,764.53 L968.00,764.14 L968.30,764.70 L968.60,764.62 L968.90,763.84 L969.20,766.92 L969.50,764.65 L969.80,764.41 L970.10,765.77 L970.40,765.00 L970.70,766.19 L971.00,764.85 L971.30,765.38 L971.60,765.17 L971.90,765.24 L972.20,764.93 L972.50,765.02 L972.80,766.53 L973.10,764.55 L973.40,764.67 L973.70,764.84 L974.00,765.62 L974.30,765.48 L974.60,765.94 L974.90,764.02 L975.20,765.37 L975.50,765.01 L975.80,764.92 L976.10,765.30 L976.40,763.51 L976.70,765.40 L977.00,765.29 L977.30,763.97 L977.60,765.09 L977.90,766.48 L978.20,764.85 L978.50,765.68 L978.80,764.99 L979.10,764.49 L979.40,764.40 L979.70,764.84 L980.00,766.26 L980.30,765.85 L980.60,764.56 L980.90,766.00 L981.20,765.04 L981.50,764.56 L981.80,765.50 L982.10,764.36 L982.40,763.80 L982.70,766.20 L983.00,763.56 L983.30,765.55 L983.60,763.80 L983.90,765.05 L984.20,764.89 L984.50,764.68 L984.80,763.20 L985.10,764.93 L985.40,764.98 L985.70,764.24 L986.00,764.92 L986.30,765.80 L986.60,764.34 L986.90,765.14 L987.20,763.95 L987.50,765.21 L987.80,765.41 L988.10,766.94 L988.40,765.60 L988.70,765.18 L989.00,765.98 L989.30,763.94 L989.60,765.66 L989.90,764.28 L990.20,764.19 L990.50,765.61 L990.80,764.86 L991.10,765.75 L991.40,763.40 L991.70,764.82 L992.00,764.13 L992.30,764.32 L992.60,762.92 L992.90,765.28 L993.20,764.64 L993.50,763.61 L993.80,763.28 L994.10,763.65 L994.40,765.52 L994.70,764.24 L995.00,764.02 L995.30,764.68 L995.60,764.24 L995.90,764.40 L996.20,764.80 L996.50,764.42 L996.80,764.85 L997.10,763.08 L997.40,764.10 L997.70,763.72 L998.00,764.07 L998.30,763.92 L998.60,763.38 L998.90,763.59 L999.20,764.64 L999.50,763.35 L999.80,762.74 L1000.10,764.24 L1000.40,764.52 L1000.70,763.45 L1001.00,763.74 L1001.30,762.90 L1001.60,763.39 L1001.90,764.45 L1002.20,764.16 L1002.50,763.57 L1002.80,763.18 L1003.10,762.02 L1003.40,763.60 L1003.70,763.68 L1004.00,764.14 L1004.30,764.90 L1004.60,763.49 L1004.90,763.93 L1005.20,762.17" fill="none" stroke="#111" stroke-width="1.8" stroke-linejoin="round"/>
<path d="M82.40,898.90 L82.70,898.67 L83.00,899.14 L83.30,898.62 L83.60,898.49 L83.90,899.39 L84.20,897.66 L84.50,898.80 L84.80,899.22 L85.10,897.72 L85.40,897.47 L85.70,898.84 L86.00,898.64 L86.30,899.09 L86.60,899.17 L86.90,898.05 L87.20,899.02 L87.50,899.73 L87.80,898.55 L88.10,898.66 L88.40,898.02 L88.70,899.68 L89.00,900.67 L89.30,897.97 L89.60,899.79 L89.90,899.96 L90.20,898.80 L90.50,899.01 L90.80,898.50 L91.10,898.77 L91.40,899.61 L91.70,900.06 L92.00,899.67 L92.30,900.33 L92.60,899.84 L92.90,898.76 L93.20,900.98 L93.50,900.81 L93.80,899.29 L94.10,901.40 L94.40,900.37 L94.70,900.14 L95.00,901.67 L95.30,898.06 L95.60,898.85 L95.90,900.82 L96.20,900.08 L96.50,899.55 L96.80,901.63 L97.10,900.83 L97.40,899.42 L97.70,899.98 L98.00,901.28 L98.30,902.11 L98.60,899.02 L98.90,900.94 L99.20,900.46 L99.50,899.38 L99.80,900.74 L100.10,899.60 L100.40,900.53 L100.70,902.37 L101.00,901.50 L101.30,901.77 L101.60,901.67 L101.90,901.52 L102.20,902.08 L102.50,900.35 L102.80,901.07 L103.10,902.13 L103.40,900.86 L103.70,901.15 L104.00,902.56 L104.30,902.88 L104.60,901.16 L104.90,901.03 L105.20,902.24 L105.50,902.03 L105.80,901.30 L106.10,902.40 L106.40,902.41 L106.70,902.07 L107.00,904.49 L107.30,903.23 L107.60,902.83 L107.90,903.05 L108.20,904.71 L108.50,903.22 L108.80,901.76 L109.10,902.67 L109.40,902.52 L109.70,902.04 L110.00,902.77 L110.30,902.82 L110.60,902.61 L110.90,902.31 L111.20,903.45 L111.50,901.49 L111.80,903.55 L112.10,902.92 L112.40,903.19 L112.70,901.04 L113.00,904.46 L113.30,901.68 L113.60,902.45 L113.90,903.75 L114.20,902.76 L114.50,902.98 L114.80,901.51 L115.10,903.05 L115.40,903.64 L115.70,904.08 L116.00,903.32 L116.30,903.79 L116.60,904.02 L116.90,903.15 L117.20,903.13 L117.50,905.44 L117.80,903.14 L118.10,904.93 L118.40,904.01 L118.70,905.22 L119.00,903.51 L119.30,904.52 L119.60,904.41 L119.90,903.99 L120.20,904.48 L120.50,903.63 L120.80,904.25 L121.10,904.03 L121.40,905.04 L121.70,904.37 L122.00,903.33 L122.30,904.22 L122.60,904.49 L122.90,903.87 L123.20,905.77 L123.50,905.04 L123.80,905.44 L124.10,904.14 L124.40,904.49 L124.70,905.70 L125.00,903.70 L125.30,905.24 L125.60,905.05 L125.90,904.59 L126.20,905.12 L126.50,904.19 L126.80,905.31 L127.10,904.14 L127.40,904.12 L127.70,906.39 L128.00,904.67 L128.30,903.52 L128.60,906.13 L128.90,904.70 L129.20,902.44 L129.50,905.36 L129.80,906.22 L130.10,905.77 L130.40,906.94 L130.70,905.43 L131.00,906.06 L131.30,904.75 L131.60,905.76 L131.90,906.93 L132.20,906.11 L132.50,905.85 L132.80,904.09 L133.10,905.46 L133.40,904.73 L133.70,906.48 L134.00,905.25 L134.30,906.20 L134.60,905.09 L134.90,907.53 L135.20,905.00 L135.50,906.13 L135.80,908.24 L136.10,906.25 L136.40,905.37 L136.70,906.64 L137.00,906.98 L137.30,906.91 L137.60,904.56 L137.90,906.42 L138.20,904.48 L138.50,907.88 L138.80,906.38 L139.10,905.96 L139.40,906.93 L139.70,906.80 L140.00,905.43 L140.30,907.81 L140.60,906.27 L140.90,905.02 L141.20,907.70 L141.50,907.83 L141.80,907.62 L142.10,907.06 L142.40,905.87 L142.70,907.43 L143.00,908.23 L143.30,907.37 L143.60,908.06 L143.90,906.08 L144.20,907.61 L144.50,907.57 L144.80,905.55 L145.10,905.45 L145.40,906.24 L145.70,906.93 L146.00,907.26 L146.30,906.71 L146.60,906.87 L146.90,906.85 L147.20,907.03 L147.50,907.47 L147.80,907.41 L148.10,906.97 L148.40,907.25 L148.70,906.67 L149.00,907.73 L149.30,906.65 L149.60,908.48 L149.90,907.09 L150.20,907.36 L150.50,906.50 L150.80,906.86 L151.10,907.30 L151.40,907.19 L151.70,906.67 L152.00,906.22 L152.30,907.25 L152.60,907.35 L152.90,907.70 L153.20,908.30 L153.50,906.99 L153.80,905.58 L154.10,907.15 L154.40,905.72 L154.70,906.21 L155.00,908.17 L155.30,907.79 L155.60,906.77 L155.90,906.79 L156.20,907.26 L156.50,905.86 L156.80,907.75 L157.10,907.06 L157.40,908.91 L157.70,906.47 L158.00,908.22 L158.30,906.80 L158.60,908.25 L158.90,906.56 L159.20,908.02 L159.50,907.03 L159.80,906.71 L160.10,907.29 L160.40,907.82 L160.70,907.77 L161.00,908.76 L161.30,908.13 L161.60,905.21 L161.90,907.10 L162.20,905.76 L162.50,907.13 L162.80,907.99 L163.10,906.33 L163.40,906.47 L163.70,907.59 L164.00,907.23 L164.30,908.82 L164.60,907.76 L164.90,907.94 L165.20,908.97 L165.50,907.07 L165.80,907.50 L166.10,906.67 L166.40,907.73 L166.70,908.39 L167.00,908.68 L167.30,907.49 L167.60,906.93 L167.90,906.88 L168.20,906.36 L168.50,907.65 L168.80,908.70 L169.10,905.54 L169.40,905.71 L169.70,908.75 L170.00,906.20 L170.30,907.85 L170.60,906.51 L170.90,908.25 L171.20,908.25 L171.50,907.74 L171.80,908.30 L172.10,907.65 L172.40,908.09 L172.70,909.17 L173.00,908.56 L173.30,907.08 L173.60,906.96 L173.90,907.45 L174.20,907.46 L174.50,907.72 L174.80,907.16 L175.10,908.23 L175.40,907.72 L175.70,908.00 L176.00,907.71 L176.30,908.24 L176.60,906.71 L176.90,909.07 L177.20,908.04 L177.50,908.13 L177.80,908.28 L178.10,908.69 L178.40,908.41 L178.70,908.00 L179.00,907.66 L179.30,906.44 L179.60,908.03 L179.90,907.61 L180.20,907.62 L180.50,909.96 L180.80,906.36 L181.10,908.01 L181.40,909.01 L181.70,908.82 L182.00,909.09 L182.30,906.98 L182.60,907.27 L182.90,908.64 L183.20,907.89 L183.50,909.63 L183.80,908.39 L184.10,908.40 L184.40,908.63 L184.70,908.06 L185.00,908.42 L185.30,907.78 L185.60,908.35 L185.90,908.00 L186.20,908.66 L186.50,907.26 L186.80,907.23 L187.10,908.92 L187.40,908.75 L187.70,907.76 L188.00,908.42 L188.30,907.75 L188.60,910.40 L188.90,907.36 L189.20,910.17 L189.50,908.04 L189.80,909.12 L190.10,908.56 L190.40,908.48 L190.70,909.62 L191.00,909.54 L191.30,908.62 L191.60,908.11 L191.90,910.66 L192.20,910.11 L192.50,909.05 L192.80,908.69 L193.10,909.20 L193.40,909.03 L193.70,909.98 L194.00,908.15 L194.30,908.99 L194.60,908.31 L194.90,910.09 L195.20,910.51 L195.50,908.90 L195.80,909.43 L196.10,910.16 L196.40,908.71 L196.70,908.17 L197.00,909.84 L197.30,909.38 L197.60,908.77 L197.90,910.18 L198.20,909.14 L198.50,907.42 L198.80,909.22 L199.10,908.86 L199.40,910.50 L199.70,908.88 L200.00,908.71 L200.30,909.25 L200.60,909.07 L200.90,907.66 L201.20,908.94 L201.50,908.55 L201.80,910.01 L202.10,910.84 L202.40,907.84 L202.70,907.96 L203.00,908.05 L203.30,908.19 L203.60,908.14 L203.90,908.76 L204.20,909.63 L204.50,907.58 L204.80,907.36 L205.10,907.08 L205.40,909.57 L205.70,909.74 L206.00,907.29 L206.30,907.19 L206.60,908.67 L206.90,909.47 L207.20,909.38 L207.50,908.66 L207.80,909.06 L208.10,908.74 L208.40,907.97 L208.70,910.04 L209.00,908.40 L209.30,907.43 L209.60,907.96 L209.90,907.02 L210.20,908.32 L210.50,909.22 L210.80,907.19 L211.10,909.20 L211.40,910.00 L211.70,908.52 L212.00,907.19 L212.30,907.42 L212.60,907.84 L212.90,907.01 L213.20,907.01 L213.50,907.83 L213.80,907.87 L214.10,908.51 L214.40,906.95 L214.70,909.54 L215.00,908.83 L215.30,908.66 L215.60,907.32 L215.90,909.33 L216.20,907.53 L216.50,909.34 L216.80,908.68 L217.10,906.98 L217.40,907.33 L217.70,909.28 L218.00,908.52 L218.30,907.50 L218.60,907.78 L218.90,907.74 L219.20,906.89 L219.50,907.34 L219.80,906.92 L220.10,907.08 L220.40,907.81 L220.70,906.56 L221.00,907.96 L221.30,907.40 L221.60,907.91 L221.90,907.98 L222.20,908.25 L222.50,907.68 L222.80,907.71 L223.10,906.91 L223.40,907.50 L223.70,906.21 L224.00,906.72 L224.30,907.52 L224.60,906.79 L224.90,907.17 L225.20,905.84 L225.50,907.85 L225.80,906.15 L226.10,906.92 L226.40,906.51 L226.70,907.27 L227.00,906.10 L227.30,905.51 L227.60,904.69 L227.90,905.99 L228.20,905.17 L228.50,906.58 L228.80,907.29 L229.10,904.11 L229.40,904.84 L229.70,906.13 L230.00,906.85 L230.30,905.99 L230.60,905.94 L230.90,906.02 L231.20,906.01 L231.50,906.85 L231.80,905.89 L232.10,904.24 L232.40,904.82 L232.70,905.32 L233.00,904.37 L233.30,904.75 L233.60,904.45 L233.90,904.21 L234.20,905.32 L234.50,904.30 L234.80,903.61 L235.10,903.85 L235.40,904.40 L235.70,906.07 L236.00,904.40 L236.30,905.35 L236.60,904.40 L236.90,902.04 L237.20,904.08 L237.50,902.91 L237.80,902.36 L238.10,902.46 L238.40,904.77 L238.70,901.74 L239.00,902.41 L239.30,903.76 L239.60,903.17 L239.90,900.96 L240.20,902.14 L240.50,901.60 L240.80,901.67 L241.10,902.27 L241.40,900.91 L241.70,900.90 L242.00,902.18 L242.30,899.11 L242.60,900.11 L242.90,900.56 L243.20,898.81 L243.50,899.05 L243.80,898.17 L244.10,899.12 L244.40,898.13 L244.70,899.01 L245.00,898.87 L245.30,897.68 L245.60,896.95 L245.90,897.13 L246.20,896.56 L246.50,895.01 L246.80,896.45 L247.10,895.14 L247.40,894.98 L247.70,892.44 L248.00,893.59 L248.30,893.83 L248.60,891.68 L248.90,888.98 L249.20,889.28 L249.50,888.16 L249.80,887.32 L250.10,885.80 L250.40,885.25 L250.70,883.19 L251.00,882.52 L251.30,880.41 L251.60,879.72 L251.90,879.09 L252.20,876.35 L252.50,875.63 L252.80,872.30 L253.10,870.50 L253.40,868.17 L253.70,866.81 L254.00,862.32 L254.30,861.15 L254.60,855.91 L254.90,854.07 L255.20,852.02 L255.50,848.92 L255.80,844.61 L256.10,841.55 L256.40,840.35 L256.70,835.41 L257.00,833.81 L257.30,829.65 L257.60,826.85 L257.90,825.63 L258.20,821.81 L258.50,818.11 L258.80,813.22 L259.10,811.83 L259.40,808.92 L259.70,806.03 L260.00,804.27 L260.30,798.60 L260.60,797.42 L260.90,794.60 L261.20,791.64 L261.50,792.19 L261.80,788.84 L262.10,789.99 L262.40,790.53 L262.70,789.43 L263.00,791.27 L263.30,793.14 L263.60,796.34 L263.90,798.37 L264.20,800.09 L264.50,801.91 L264.80,801.98 L265.10,806.23 L265.40,807.73 L265.70,811.33 L266.00,813.92 L266.30,817.40 L266.60,819.02 L266.90,822.22 L267.20,823.85 L267.50,828.10 L267.80,830.27 L268.10,835.38 L268.40,836.76 L268.70,840.65 L269.00,842.99 L269.30,845.92 L269.60,849.32 L269.90,851.07 L270.20,854.38 L270.50,855.95 L270.80,860.62 L271.10,861.43 L271.40,865.36 L271.70,868.77 L272.00,867.19 L272.30,870.69 L272.60,873.51 L272.90,876.71 L273.20,877.16 L273.50,879.61 L273.80,880.19 L274.10,882.65 L274.40,882.35 L274.70,885.32 L275.00,883.18 L275.30,885.27 L275.60,889.57 L275.90,889.21 L276.20,889.32 L276.50,892.98 L276.80,892.93 L277.10,893.89 L277.40,893.41 L277.70,895.12 L278.00,895.78 L278.30,894.62 L278.60,897.22 L278.90,897.15 L279.20,898.97 L279.50,899.48 L279.80,898.22 L280.10,898.63 L280.40,899.64 L280.70,900.35 L281.00,899.74 L281.30,900.30 L281.60,901.22 L281.90,901.35 L282.20,902.28 L282.50,901.76 L282.80,901.05 L283.10,900.56 L283.40,903.06 L283.70,902.32 L284.00,902.56 L284.30,902.85 L284.60,901.97 L284.90,903.22 L285.20,901.52 L285.50,903.65 L285.80,903.42 L286.10,906.00 L286.40,904.98 L286.70,904.59 L287.00,905.09 L287.30,905.75 L287.60,904.62 L287.90,905.22 L288.20,905.26 L288.50,907.86 L288.80,905.88 L289.10,904.22 L289.40,906.73 L289.70,908.39 L290.00,905.39 L290.30,909.33 L290.60,906.31 L290.90,907.30 L291.20,905.98 L291.50,906.27 L291.80,905.46 L292.10,905.63 L292.40,904.68 L292.70,907.55 L293.00,905.55 L293.30,906.88 L293.60,906.84 L293.90,905.99 L294.20,906.60 L294.50,906.47 L294.80,906.12 L295.10,906.60 L295.40,906.60 L295.70,905.66 L296.00,905.42 L296.30,905.81 L296.60,906.66 L296.90,907.76 L297.20,907.84 L297.50,906.83 L297.80,907.38 L298.10,906.66 L298.40,907.52 L298.70,906.66 L299.00,906.90 L299.30,906.30 L299.60,906.55 L299.90,908.21 L300.20,905.50 L300.50,906.55 L300.80,906.03 L301.10,907.39 L301.40,908.14 L301.70,906.28 L302.00,904.12 L302.30,907.09 L302.60,907.07 L302.90,905.00 L303.20,906.19 L303.50,906.24 L303.80,904.15 L304.10,906.63 L304.40,906.25 L304.70,905.89 L305.00,904.54 L305.30,904.62 L305.60,904.45 L305.90,905.17 L306.20,903.61 L306.50,905.48 L306.80,904.22 L307.10,901.66 L307.40,904.73 L307.70,903.06 L308.00,902.09 L308.30,902.31 L308.60,900.25 L308.90,901.67 L309.20,898.96 L309.50,899.85 L309.80,901.57 L310.10,901.11 L310.40,899.32 L310.70,898.39 L311.00,899.66 L311.30,898.32 L311.60,898.03 L311.90,897.82 L312.20,895.71 L312.50,896.72 L312.80,893.47 L313.10,895.94 L313.40,892.55 L313.70,892.66 L314.00,891.90 L314.30,892.42 L314.60,891.72 L314.90,890.68 L315.20,890.17 L315.50,889.45 L315.80,888.36 L316.10,886.15 L316.40,885.19 L316.70,884.53 L317.00,885.84 L317.30,884.98 L317.60,884.38 L317.90,884.05 L318.20,883.04 L318.50,881.83 L318.80,880.94 L319.10,880.25 L319.40,882.79 L319.70,882.44 L320.00,880.50 L320.30,881.65 L320.60,882.59 L320.90,884.02 L321.20,882.58 L321.50,883.84 L321.80,885.36 L322.10,883.48 L322.40,885.11 L322.70,886.49 L323.00,886.67 L323.30,889.97 L323.60,889.64 L323.90,889.80 L324.20,889.50 L324.50,891.80 L324.80,892.27 L325.10,891.97 L325.40,892.80 L325.70,892.68 L326.00,894.71 L326.30,896.37 L326.60,897.31 L326.90,897.75 L327.20,898.76 L327.50,898.28 L327.80,899.13 L328.10,901.32 L328.40,901.30 L328.70,900.79 L329.00,902.47 L329.30,903.25 L329.60,903.61 L329.90,903.53 L330.20,903.42 L330.50,904.66 L330.80,906.21 L331.10,905.22 L331.40,904.87 L331.70,906.10 L332.00,905.03 L332.30,906.63 L332.60,906.43 L332.90,907.79 L333.20,907.26 L333.50,908.33 L333.80,909.65 L334.10,907.64 L334.40,907.30 L334.70,908.66 L335.00,908.38 L335.30,908.78 L335.60,908.32 L335.90,909.54 L336.20,909.30 L336.50,907.51 L336.80,909.39 L337.10,910.07 L337.40,910.99 L337.70,909.61 L338.00,909.57 L338.30,911.46 L338.60,910.06 L338.90,910.84 L339.20,911.31 L339.50,911.68 L339.80,911.17 L340.10,910.32 L340.40,912.32 L340.70,911.16 L341.00,911.20 L341.30,913.55 L341.60,912.66 L341.90,911.04 L342.20,911.65 L342.50,911.95 L342.80,911.59 L343.10,910.64 L343.40,913.12 L343.70,913.16 L344.00,912.76 L344.30,912.24 L344.60,912.84 L344.90,913.27 L345.20,911.84 L345.50,912.51 L345.80,912.36 L346.10,913.52 L346.40,913.18 L346.70,911.85 L347.00,912.50 L347.30,914.65 L347.60,912.28 L347.90,913.31 L348.20,912.67 L348.50,914.36 L348.80,913.25 L349.10,912.96 L349.40,912.35 L349.70,913.21 L350.00,914.19 L350.30,914.09 L350.60,912.37 L350.90,914.95 L351.20,913.39 L351.50,912.72 L351.80,913.79 L352.10,913.17 L352.40,913.24 L352.70,913.22 L353.00,913.73 L353.30,913.40 L353.60,912.37 L353.90,914.36 L354.20,913.47 L354.50,915.01 L354.80,914.46 L355.10,914.56 L355.40,914.21 L355.70,915.21 L356.00,913.81 L356.30,913.25 L356.60,914.46 L356.90,911.79 L357.20,913.88 L357.50,914.42 L357.80,913.89 L358.10,915.38 L358.40,914.92 L358.70,914.42 L359.00,914.00 L359.30,915.33 L359.60,913.80 L359.90,914.05 L360.20,915.09 L360.50,914.98 L360.80,916.27 L361.10,914.31 L361.40,912.87 L361.70,915.12 L362.00,915.67 L362.30,914.44 L362.60,915.97 L362.90,916.19 L363.20,914.06 L363.50,914.24 L363.80,913.58 L364.10,915.18 L364.40,915.35 L364.70,915.27 L365.00,913.68 L365.30,914.11 L365.60,913.54 L365.90,913.40 L366.20,913.66 L366.50,913.47 L366.80,914.71 L367.10,915.27 L367.40,915.46 L367.70,914.91 L368.00,914.36 L368.30,914.96 L368.60,915.49 L368.90,914.75 L369.20,915.08 L369.50,914.78 L369.80,914.61 L370.10,915.12 L370.40,914.13 L370.70,916.05 L371.00,913.78 L371.30,915.57 L371.60,914.00 L371.90,916.53 L372.20,915.99 L372.50,914.54 L372.80,914.88 L373.10,914.30 L373.40,915.26 L373.70,915.69 L374.00,917.59 L374.30,914.18 L374.60,916.48 L374.90,914.90 L375.20,915.67 L375.50,916.22 L375.80,915.95 L376.10,915.86 L376.40,915.34 L376.70,915.53 L377.00,915.69 L377.30,916.62 L377.60,914.31 L377.90,915.18 L378.20,914.54 L378.50,914.81 L378.80,914.97 L379.10,916.65 L379.40,917.58 L379.70,916.91 L380.00,914.71 L380.30,915.82 L380.60,914.78 L380.90,916.18 L381.20,916.92 L381.50,916.34 L381.80,916.61 L382.10,915.73 L382.40,914.16 L382.70,914.16 L383.00,915.82 L383.30,916.43 L383.60,917.05 L383.90,915.65 L384.20,916.03 L384.50,916.21 L384.80,916.92 L385.10,915.95 L385.40,915.07 L385.70,916.98 L386.00,916.41 L386.30,916.39 L386.60,914.96 L386.90,916.07 L387.20,914.59 L387.50,914.35 L387.80,915.90 L388.10,915.74 L388.40,916.62 L388.70,917.40 L389.00,916.11 L389.30,917.71 L389.60,915.65 L389.90,916.83 L390.20,915.06 L390.50,916.29 L390.80,915.90 L391.10,916.00 L391.40,916.70 L391.70,914.55 L392.00,916.30 L392.30,915.49 L392.60,916.30 L392.90,916.54 L393.20,915.88 L393.50,915.87 L393.80,915.19 L394.10,916.68 L394.40,915.61 L394.70,916.58 L395.00,914.95 L395.30,917.38 L395.60,915.30 L395.90,917.20 L396.20,915.79 L396.50,916.66 L396.80,916.05 L397.10,916.76 L397.40,916.17 L397.70,917.27 L398.00,916.75 L398.30,916.75 L398.60,917.61 L398.90,915.54 L399.20,917.27 L399.50,916.20 L399.80,914.84 L400.10,916.54 L400.40,915.94 L400.70,917.58 L401.00,915.68 L401.30,916.14 L401.60,916.30 L401.90,914.42 L402.20,916.52 L402.50,915.20 L402.80,917.29 L403.10,917.51 L403.40,916.04 L403.70,914.66 L404.00,916.19 L404.30,916.18 L404.60,916.65 L404.90,915.76 L405.20,914.97 L405.50,915.87 L405.80,915.18 L406.10,917.53 L406.40,915.36 L406.70,915.40 L407.00,915.92 L407.30,914.87 L407.60,915.56 L407.90,915.82 L408.20,915.51 L408.50,915.71 L408.80,917.00 L409.10,916.29 L409.40,914.74 L409.70,915.53 L410.00,916.54 L410.30,915.32 L410.60,915.95 L410.90,915.85 L411.20,916.33 L411.50,915.71 L411.80,915.74 L412.10,915.10 L412.40,916.16 L412.70,915.03 L413.00,917.35 L413.30,915.82 L413.60,915.63 L413.90,916.51 L414.20,915.75 L414.50,915.90 L414.80,915.77 L415.10,915.18 L415.40,915.01 L415.70,915.20 L416.00,916.79 L416.30,915.26 L416.60,915.45 L416.90,915.41 L417.20,916.41 L417.50,917.53 L417.80,914.99 L418.10,916.28 L418.40,915.90 L418.70,915.54 L419.00,916.24 L419.30,914.70 L419.60,916.53 L419.90,916.00 L420.20,914.94 L420.50,917.20 L420.80,916.56 L421.10,916.83 L421.40,914.56 L421.70,915.59 L422.00,915.38 L422.30,916.38 L422.60,917.02 L422.90,914.19 L423.20,915.87 L423.50,915.75 L423.80,916.73 L424.10,915.83 L424.40,914.77 L424.70,915.71 L425.00,914.98 L425.30,915.22 L425.60,915.94 L425.90,915.49 L426.20,916.15 L426.50,914.60 L426.80,917.94 L427.10,917.03 L427.40,916.56 L427.70,914.82 L428.00,914.08 L428.30,915.21 L428.60,915.77 L428.90,917.91 L429.20,917.12 L429.50,915.53 L429.80,917.05 L430.10,917.07 L430.40,916.03 L430.70,917.08 L431.00,916.31 L431.30,915.46 L431.60,915.02 L431.90,915.94 L432.20,916.92 L432.50,914.89 L432.80,914.67 L433.10,916.55 L433.40,913.72 L433.70,917.67 L434.00,915.71 L434.30,916.74 L434.60,917.73 L434.90,914.86 L435.20,915.21 L435.50,918.08 L435.80,915.89 L436.10,916.03 L436.40,916.34 L436.70,917.07 L437.00,917.31 L437.30,916.26 L437.60,915.87 L437.90,916.14 L438.20,916.44 L438.50,917.31 L438.80,916.30 L439.10,917.77 L439.40,915.44 L439.70,916.65 L440.00,917.72 L440.30,917.31 L440.60,916.48 L440.90,915.43 L441.20,915.58 L441.50,916.06 L441.80,916.47 L442.10,915.98 L442.40,914.93 L442.70,915.56 L443.00,916.65 L443.30,916.92 L443.60,914.98 L443.90,915.88 L444.20,914.74 L444.50,915.70 L444.80,919.26 L445.10,916.23 L445.40,915.88 L445.70,915.66 L446.00,915.11 L446.30,914.54 L446.60,916.12 L446.90,915.91 L447.20,917.43 L447.50,914.71 L447.80,916.51 L448.10,917.29 L448.40,914.41 L448.70,916.68 L449.00,914.69 L449.30,916.54 L449.60,917.36 L449.90,916.06 L450.20,916.30 L450.50,915.44 L450.80,916.29 L451.10,917.01 L451.40,915.85 L451.70,915.88 L452.00,916.33 L452.30,916.69 L452.60,914.54 L452.90,916.00 L453.20,915.34 L453.50,916.35 L453.80,916.81 L454.10,916.16 L454.40,917.00 L454.70,915.00 L455.00,915.49 L455.30,914.97 L455.60,915.86 L455.90,915.88 L456.20,915.60 L456.50,914.70 L456.80,915.67 L457.10,915.34 L457.40,916.23 L457.70,915.45 L458.00,916.68 L458.30,915.85 L458.60,914.01 L458.90,915.46 L459.20,914.34 L459.50,916.41 L459.80,916.79 L460.10,915.50 L460.40,915.89 L460.70,914.22 L461.00,913.50 L461.30,914.95 L461.60,915.19 L461.90,914.07 L462.20,915.45 L462.50,915.62 L462.80,915.88 L463.10,916.64 L463.40,915.97 L463.70,914.93 L464.00,915.31 L464.30,915.72 L464.60,914.26 L464.90,916.30 L465.20,915.90 L465.50,914.90 L465.80,914.51 L466.10,918.35 L466.40,915.74 L466.70,915.80 L467.00,916.52 L467.30,915.77 L467.60,915.06 L467.90,915.45 L468.20,914.00 L468.50,915.37 L468.80,913.35 L469.10,915.00 L469.40,915.06 L469.70,913.16 L470.00,916.12 L470.30,913.38 L470.60,915.22 L470.90,913.78 L471.20,914.43 L471.50,913.51 L471.80,916.17 L472.10,914.81 L472.40,915.40 L472.70,914.41 L473.00,914.24 L473.30,913.67 L473.60,913.23 L473.90,913.87 L474.20,913.37 L474.50,912.99 L474.80,911.81 L475.10,912.63 L475.40,913.31 L475.70,912.25 L476.00,912.84 L476.30,912.29 L476.60,911.39 L476.90,911.37 L477.20,911.38 L477.50,911.64 L477.80,911.53 L478.10,912.60 L478.40,910.54 L478.70,909.56 L479.00,911.79 L479.30,910.65 L479.60,910.79 L479.90,912.97 L480.20,911.87 L480.50,910.95 L480.80,911.11 L481.10,910.23 L481.40,910.79 L481.70,909.25 L482.00,908.97 L482.30,908.99 L482.60,910.56 L482.90,910.32 L483.20,908.20 L483.50,909.50 L483.80,908.10 L484.10,908.91 L484.40,907.42 L484.70,908.25 L485.00,907.02 L485.30,906.56 L485.60,906.48 L485.90,906.31 L486.20,905.33 L486.50,904.29 L486.80,906.61 L487.10,904.42 L487.40,902.80 L487.70,902.01 L488.00,901.15 L488.30,902.65 L488.60,903.95 L488.90,900.91 L489.20,901.62 L489.50,899.85 L489.80,901.96 L490.10,900.85 L490.40,900.33 L490.70,900.74 L491.00,900.50 L491.30,899.40 L491.60,897.38 L491.90,896.04 L492.20,895.55 L492.50,894.14 L492.80,896.41 L493.10,893.79 L493.40,893.15 L493.70,892.26 L494.00,892.88 L494.30,889.63 L494.60,890.13 L494.90,888.34 L495.20,886.90 L495.50,884.31 L495.80,885.75 L496.10,883.27 L496.40,882.49 L496.70,882.08 L497.00,880.98 L497.30,880.91 L497.60,878.41 L497.90,878.24 L498.20,877.48 L498.50,876.38 L498.80,876.02 L499.10,874.21 L499.40,874.47 L499.70,871.75 L500.00,870.06 L500.30,870.23 L500.60,870.27 L500.90,867.80 L501.20,866.75 L501.50,866.11 L501.80,865.74 L502.10,864.72 L502.40,864.52 L502.70,862.23 L503.00,864.67 L503.30,863.63 L503.60,862.28 L503.90,864.31 L504.20,863.71 L504.50,864.93 L504.80,863.05 L505.10,866.07 L505.40,865.28 L505.70,864.13 L506.00,867.34 L506.30,867.22 L506.60,867.44 L506.90,869.00 L507.20,868.36 L507.50,871.44 L507.80,871.59 L508.10,872.38 L508.40,874.78 L508.70,874.60 L509.00,875.11 L509.30,876.06 L509.60,878.10 L509.90,880.39 L510.20,880.29 L510.50,881.25 L510.80,884.32 L511.10,884.91 L511.40,886.16 L511.70,889.28 L512.00,887.61 L512.30,890.00 L512.60,889.33 L512.90,891.57 L513.20,893.25 L513.50,894.63 L513.80,893.43 L514.10,896.17 L514.40,897.02 L514.70,897.11 L515.00,900.24 L515.30,898.95 L515.60,899.02 L515.90,900.99 L516.20,899.79 L516.50,903.57 L516.80,903.82 L517.10,903.33 L517.40,904.92 L517.70,905.51 L518.00,907.36 L518.30,905.72 L518.60,905.67 L518.90,905.53 L519.20,907.51 L519.50,906.80 L519.80,908.39 L520.10,909.20 L520.40,908.72 L520.70,908.54 L521.00,910.65 L521.30,909.67 L521.60,910.29 L521.90,911.14 L522.20,909.39 L522.50,909.94 L522.80,913.14 L523.10,911.02 L523.40,910.45 L523.70,911.33 L524.00,911.24 L524.30,910.84 L524.60,911.74 L524.90,912.25 L525.20,912.42 L525.50,913.06 L525.80,911.22 L526.10,911.58 L526.40,913.73 L526.70,912.79 L527.00,914.37 L527.30,913.71 L527.60,912.33 L527.90,914.16 L528.20,912.92 L528.50,914.14 L528.80,915.10 L529.10,915.98 L529.40,914.17 L529.70,914.94 L530.00,914.68 L530.30,915.20 L530.60,912.36 L530.90,914.34 L531.20,915.01 L531.50,915.24 L531.80,914.24 L532.10,915.69 L532.40,916.00 L532.70,915.16 L533.00,914.96 L533.30,914.91 L533.60,915.41 L533.90,916.38 L534.20,916.72 L534.50,915.06 L534.80,914.72 L535.10,914.90 L535.40,916.51 L535.70,915.91 L536.00,916.03 L536.30,916.25 L536.60,916.21 L536.90,915.84 L537.20,915.09 L537.50,915.51 L537.80,916.21 L538.10,916.50 L538.40,915.89 L538.70,915.90 L539.00,917.51 L539.30,915.96 L539.60,916.61 L539.90,916.19 L540.20,915.77 L540.50,915.24 L540.80,916.14 L541.10,915.94 L541.40,917.44 L541.70,915.74 L542.00,916.43 L542.30,917.40 L542.60,916.77 L542.90,917.34 L543.20,917.67 L543.50,915.54 L543.80,916.66 L544.10,916.22 L544.40,918.26 L544.70,917.02 L545.00,917.59 L545.30,918.66 L545.60,916.91 L545.90,917.31 L546.20,917.63 L546.50,917.07 L546.80,918.41 L547.10,918.06 L547.40,918.24 L547.70,917.43 L548.00,917.11 L548.30,917.12 L548.60,917.13 L548.90,916.03 L549.20,917.79 L549.50,918.19 L549.80,917.49 L550.10,917.08 L550.40,917.55 L550.70,917.72 L551.00,917.81 L551.30,919.09 L551.60,916.79 L551.90,917.85 L552.20,918.13 L552.50,917.60 L552.80,917.33 L553.10,916.65 L553.40,917.02 L553.70,918.14 L554.00,918.79 L554.30,916.97 L554.60,917.94 L554.90,917.98 L555.20,918.40 L555.50,917.74 L555.80,917.92 L556.10,918.30 L556.40,916.53 L556.70,917.57 L557.00,916.01 L557.30,915.83 L557.60,916.82 L557.90,916.21 L558.20,917.97 L558.50,918.39 L558.80,917.27 L559.10,917.41 L559.40,917.33 L559.70,917.31 L560.00,917.65 L560.30,917.83 L560.60,917.13 L560.90,916.86 L561.20,917.08 L561.50,918.22 L561.80,917.17 L562.10,918.78 L562.40,917.32 L562.70,918.70 L563.00,916.51 L563.30,916.94 L563.60,917.94 L563.90,917.95 L564.20,917.40 L564.50,919.28 L564.80,917.59 L565.10,917.78 L565.40,917.04 L565.70,918.95 L566.00,918.26 L566.30,917.88 L566.60,916.13 L566.90,917.84 L567.20,917.13 L567.50,917.87 L567.80,918.31 L568.10,916.89 L568.40,917.71 L568.70,918.28 L569.00,917.67 L569.30,917.25 L569.60,916.62 L569.90,916.96 L570.20,916.44 L570.50,918.37 L570.80,917.62 L571.10,916.49 L571.40,917.52 L571.70,916.43 L572.00,914.72 L572.30,918.56 L572.60,918.53 L572.90,916.27 L573.20,916.91 L573.50,917.70 L573.80,917.20 L574.10,916.80 L574.40,917.09 L574.70,917.32 L575.00,917.05 L575.30,917.70 L575.60,917.31 L575.90,916.85 L576.20,917.50 L576.50,916.05 L576.80,918.68 L577.10,915.94 L577.40,917.33 L577.70,917.66 L578.00,917.69 L578.30,917.53 L578.60,918.35 L578.90,916.28 L579.20,917.14 L579.50,917.28 L579.80,916.69 L580.10,916.56 L580.40,918.12 L580.70,916.37 L581.00,916.51 L581.30,916.63 L581.60,916.63 L581.90,916.89 L582.20,916.52 L582.50,916.96 L582.80,916.69 L583.10,916.92 L583.40,917.62 L583.70,915.67 L584.00,917.72 L584.30,915.87 L584.60,916.75 L584.90,916.25 L585.20,915.79 L585.50,914.31 L585.80,917.27 L586.10,915.19 L586.40,915.09 L586.70,916.58 L587.00,915.67 L587.30,917.15 L587.60,916.88 L587.90,915.98 L588.20,915.52 L588.50,915.87 L588.80,914.03 L589.10,915.22 L589.40,915.12 L589.70,914.51 L590.00,915.05 L590.30,913.51 L590.60,915.42 L590.90,915.66 L591.20,913.38 L591.50,914.50 L591.80,915.58 L592.10,914.53 L592.40,913.19 L592.70,913.12 L593.00,914.56 L593.30,915.27 L593.60,912.68 L593.90,913.51 L594.20,912.69 L594.50,912.97 L594.80,913.34 L595.10,912.90 L595.40,912.22 L595.70,914.43 L596.00,912.36 L596.30,912.19 L596.60,913.12 L596.90,912.03 L597.20,911.68 L597.50,912.48 L597.80,910.62 L598.10,911.95 L598.40,912.00 L598.70,911.50 L599.00,910.59 L599.30,910.53 L599.60,908.89 L599.90,910.01 L600.20,910.15 L600.50,910.42 L600.80,909.58 L601.10,908.90 L601.40,908.29 L601.70,908.71 L602.00,908.58 L602.30,909.16 L602.60,907.79 L602.90,906.98 L603.20,906.89 L603.50,906.13 L603.80,905.87 L604.10,903.72 L604.40,903.72 L604.70,903.53 L605.00,904.38 L605.30,903.35 L605.60,902.97 L605.90,903.24 L606.20,900.79 L606.50,902.02 L606.80,900.78 L607.10,899.25 L607.40,900.49 L607.70,897.44 L608.00,897.09 L608.30,897.27 L608.60,897.20 L608.90,896.13 L609.20,893.93 L609.50,894.93 L609.80,894.58 L610.10,896.28 L610.40,894.76 L610.70,893.15 L611.00,891.53 L611.30,892.12 L611.60,890.22 L611.90,890.72 L612.20,890.20 L612.50,888.90 L612.80,888.79 L613.10,887.65 L613.40,886.80 L613.70,887.95 L614.00,886.54 L614.30,885.22 L614.60,884.28 L614.90,884.56 L615.20,884.41 L615.50,884.22 L615.80,884.36 L616.10,883.18 L616.40,881.59 L616.70,884.02 L617.00,883.16 L617.30,882.82 L617.60,883.25 L617.90,880.98 L618.20,882.09 L618.50,882.21 L618.80,883.94 L619.10,882.32 L619.40,883.46 L619.70,885.47 L620.00,885.24 L620.30,884.92 L620.60,887.39 L620.90,885.30 L621.20,887.41 L621.50,887.47 L621.80,888.73 L622.10,888.72 L622.40,888.89 L622.70,890.40 L623.00,889.73 L623.30,891.87 L623.60,891.74 L623.90,893.39 L624.20,892.90 L624.50,893.42 L624.80,895.06 L625.10,896.54 L625.40,894.57 L625.70,897.23 L626.00,898.50 L626.30,897.63 L626.60,898.94 L626.90,901.07 L627.20,900.69 L627.50,901.68 L627.80,904.47 L628.10,903.03 L628.40,903.86 L628.70,903.37 L629.00,905.08 L629.30,905.60 L629.60,908.65 L629.90,908.76 L630.20,907.14 L630.50,910.24 L630.80,909.55 L631.10,909.03 L631.40,910.13 L631.70,910.04 L632.00,909.34 L632.30,908.77 L632.60,909.73 L632.90,910.73 L633.20,910.68 L633.50,910.60 L633.80,912.26 L634.10,910.78 L634.40,912.63 L634.70,911.69 L635.00,912.39 L635.30,911.55 L635.60,912.67 L635.90,912.20 L636.20,911.56 L636.50,913.16 L636.80,913.29 L637.10,914.17 L637.40,913.84 L637.70,912.87 L638.00,913.32 L638.30,911.85 L638.60,913.08 L638.90,915.19 L639.20,915.43 L639.50,914.86 L639.80,914.51 L640.10,914.78 L640.40,914.71 L640.70,912.85 L641.00,913.57 L641.30,915.28 L641.60,915.26 L641.90,914.45 L642.20,913.97 L642.50,913.87 L642.80,913.70 L643.10,913.34 L643.40,912.46 L643.70,914.16 L644.00,913.60 L644.30,913.75 L644.60,915.31 L644.90,914.32 L645.20,913.17 L645.50,914.19 L645.80,912.38 L646.10,914.46 L646.40,913.74 L646.70,913.29 L647.00,913.87 L647.30,914.55 L647.60,912.88 L647.90,912.38 L648.20,914.92 L648.50,913.10 L648.80,914.29 L649.10,912.41 L649.40,913.24 L649.70,912.34 L650.00,913.36 L650.30,912.56 L650.60,912.19 L650.90,914.02 L651.20,912.97 L651.50,910.95 L651.80,912.44 L652.10,911.85 L652.40,911.58 L652.70,912.11 L653.00,912.21 L653.30,912.66 L653.60,912.00 L653.90,911.16 L654.20,912.35 L654.50,913.63 L654.80,911.84 L655.10,913.63 L655.40,913.62 L655.70,913.00 L656.00,913.79 L656.30,913.05 L656.60,913.52 L656.90,913.17 L657.20,914.61 L657.50,915.57 L657.80,914.04 L658.10,915.82 L658.40,913.21 L658.70,914.48 L659.00,914.58 L659.30,917.10 L659.60,915.36 L659.90,916.73 L660.20,914.55 L660.50,916.58 L660.80,917.17 L661.10,916.86 L661.40,914.78 L661.70,917.42 L662.00,918.14 L662.30,918.75 L662.60,918.13 L662.90,916.52 L663.20,917.92 L663.50,918.99 L663.80,917.66 L664.10,918.94 L664.40,918.15 L664.70,918.71 L665.00,919.34 L665.30,918.16 L665.60,921.24 L665.90,918.99 L666.20,919.21 L666.50,918.34 L666.80,919.07 L667.10,918.84 L667.40,917.88 L667.70,917.87 L668.00,919.46 L668.30,919.18 L668.60,917.07 L668.90,917.53 L669.20,919.13 L669.50,919.37 L669.80,919.99 L670.10,918.46 L670.40,920.06 L670.70,919.33 L671.00,919.20 L671.30,919.55 L671.60,920.54 L671.90,920.21 L672.20,920.53 L672.50,919.22 L672.80,919.60 L673.10,918.89 L673.40,919.44 L673.70,919.60 L674.00,919.57 L674.30,920.60 L674.60,920.39 L674.90,920.70 L675.20,920.19 L675.50,921.02 L675.80,920.23 L676.10,920.99 L676.40,920.62 L676.70,920.84 L677.00,920.18 L677.30,919.21 L677.60,919.06 L677.90,921.98 L678.20,920.66 L678.50,920.73 L678.80,920.24 L679.10,920.01 L679.40,922.86 L679.70,919.49 L680.00,920.41 L680.30,920.44 L680.60,919.54 L680.90,919.44 L681.20,919.95 L681.50,920.27 L681.80,920.17 L682.10,921.29 L682.40,919.62 L682.70,920.98 L683.00,921.90 L683.30,921.43 L683.60,919.72 L683.90,918.20 L684.20,921.45 L684.50,921.17 L684.80,920.27 L685.10,921.87 L685.40,920.46 L685.70,920.91 L686.00,919.96 L686.30,921.13 L686.60,920.51 L686.90,920.46 L687.20,921.83 L687.50,921.11 L687.80,919.67 L688.10,921.55 L688.40,921.69 L688.70,920.29 L689.00,920.68 L689.30,921.08 L689.60,920.83 L689.90,921.17 L690.20,921.63 L690.50,920.68 L690.80,922.88 L691.10,920.52 L691.40,920.69 L691.70,922.83 L692.00,923.20 L692.30,921.22 L692.60,921.05 L692.90,920.31 L693.20,922.21 L693.50,921.40 L693.80,920.55 L694.10,921.62 L694.40,922.46 L694.70,921.89 L695.00,923.20 L695.30,922.32 L695.60,921.72 L695.90,921.33 L696.20,921.84 L696.50,922.42 L696.80,922.12 L697.10,922.30 L697.40,921.61 L697.70,922.08 L698.00,922.47 L698.30,921.31 L698.60,920.36 L698.90,922.94 L699.20,921.98 L699.50,921.11 L699.80,921.70 L700.10,921.30 L700.40,920.06 L700.70,921.37 L701.00,920.32 L701.30,921.71 L701.60,921.45 L701.90,922.51 L702.20,921.45 L702.50,921.88 L702.80,921.31 L703.10,921.25 L703.40,920.39 L703.70,922.42 L704.00,921.73 L704.30,921.09 L704.60,921.77 L704.90,921.24 L705.20,920.98 L705.50,921.81 L705.80,922.63 L706.10,921.37 L706.40,920.39 L706.70,921.08 L707.00,923.13 L707.30,920.91 L707.60,922.61 L707.90,921.40 L708.20,922.23 L708.50,921.51 L708.80,920.26 L709.10,921.25 L709.40,923.40 L709.70,921.49 L710.00,922.08 L710.30,921.31 L710.60,921.49 L710.90,921.87 L711.20,922.00 L711.50,923.49 L711.80,921.59 L712.10,921.45 L712.40,921.04 L712.70,920.48 L713.00,920.23 L713.30,922.16 L713.60,920.02 L713.90,922.80 L714.20,922.33 L714.50,921.35 L714.80,920.62 L715.10,921.63 L715.40,921.62 L715.70,922.56 L716.00,920.97 L716.30,921.28 L716.60,921.56 L716.90,921.37 L717.20,921.07 L717.50,920.15 L717.80,920.21 L718.10,921.03 L718.40,921.41 L718.70,922.45 L719.00,923.57 L719.30,923.06 L719.60,921.94 L719.90,923.20 L720.20,921.50 L720.50,921.16 L720.80,923.57 L721.10,920.70 L721.40,921.25 L721.70,921.38 L722.00,922.84 L722.30,921.10 L722.60,922.27 L722.90,921.26 L723.20,920.56 L723.50,921.80 L723.80,921.75 L724.10,920.62 L724.40,920.87 L724.70,920.93 L725.00,922.42 L725.30,922.00 L725.60,921.81 L725.90,922.02 L726.20,921.20 L726.50,922.01 L726.80,921.09 L727.10,920.47 L727.40,921.01 L727.70,921.78 L728.00,921.68 L728.30,922.50 L728.60,920.17 L728.90,921.42 L729.20,921.94 L729.50,920.79 L729.80,921.82 L730.10,921.26 L730.40,920.65 L730.70,922.56 L731.00,920.43 L731.30,922.46 L731.60,921.25 L731.90,920.81 L732.20,920.85 L732.50,920.98 L732.80,920.88 L733.10,921.83 L733.40,920.01 L733.70,922.65 L734.00,922.31 L734.30,922.77 L734.60,920.76 L734.90,919.62 L735.20,921.06 L735.50,921.44 L735.80,921.84 L736.10,921.14 L736.40,921.51 L736.70,921.70 L737.00,920.25 L737.30,923.10 L737.60,920.61 L737.90,921.78 L738.20,922.47 L738.50,920.89 L738.80,921.55 L739.10,922.93 L739.40,921.30 L739.70,922.42 L740.00,921.78 L740.30,921.72 L740.60,922.13 L740.90,921.32 L741.20,921.33 L741.50,922.32 L741.80,921.72 L742.10,921.91 L742.40,920.47 L742.70,921.49 L743.00,922.50 L743.30,922.23 L743.60,921.75 L743.90,921.01 L744.20,920.93 L744.50,921.81 L744.80,922.64 L745.10,921.46 L745.40,922.53 L745.70,921.16 L746.00,922.42 L746.30,920.55 L746.60,921.55 L746.90,920.47 L747.20,921.93 L747.50,921.85 L747.80,920.55 L748.10,920.71 L748.40,920.96 L748.70,920.07 L749.00,920.53 L749.30,920.58 L749.60,921.97 L749.90,922.47 L750.20,920.91 L750.50,921.03 L750.80,921.45 L751.10,920.81 L751.40,921.01 L751.70,921.95 L752.00,921.42 L752.30,921.14 L752.60,920.72 L752.90,922.45 L753.20,920.67 L753.50,921.28 L753.80,920.29 L754.10,920.65 L754.40,921.23 L754.70,920.80 L755.00,921.58 L755.30,921.17 L755.60,919.93 L755.90,919.13 L756.20,921.92 L756.50,920.56 L756.80,922.30 L757.10,921.04 L757.40,920.36 L757.70,921.46 L758.00,920.74 L758.30,920.96 L758.60,920.14 L758.90,921.45 L759.20,921.81 L759.50,920.41 L759.80,922.34 L760.10,920.32 L760.40,920.99 L760.70,919.36 L761.00,919.09 L761.30,922.47 L761.60,921.87 L761.90,921.60 L762.20,919.15 L762.50,920.75 L762.80,920.88 L763.10,920.56 L763.40,920.71 L763.70,919.64 L764.00,920.25 L764.30,919.38 L764.60,920.01 L764.90,920.58 L765.20,919.56 L765.50,919.95 L765.80,919.78 L766.10,920.12 L766.40,920.84 L766.70,920.22 L767.00,920.31 L767.30,918.71 L767.60,919.58 L767.90,920.54 L768.20,919.07 L768.50,919.38 L768.80,918.88 L769.10,920.79 L769.40,919.23 L769.70,918.94 L770.00,920.04 L770.30,920.40 L770.60,919.84 L770.90,920.20 L771.20,919.50 L771.50,919.16 L771.80,918.85 L772.10,918.74 L772.40,918.61 L772.70,919.38 L773.00,918.92 L773.30,919.04 L773.60,919.43 L773.90,918.82 L774.20,917.65 L774.50,918.09 L774.80,917.76 L775.10,917.03 L775.40,918.68 L775.70,917.50 L776.00,917.36 L776.30,917.45 L776.60,919.02 L776.90,917.93 L777.20,918.95 L777.50,917.92 L777.80,917.53 L778.10,918.28 L778.40,918.20 L778.70,917.69 L779.00,916.60 L779.30,916.99 L779.60,916.26 L779.90,916.94 L780.20,917.13 L780.50,918.20 L780.80,918.04 L781.10,917.32 L781.40,917.45 L781.70,916.74 L782.00,918.81 L782.30,917.66 L782.60,918.53 L782.90,916.53 L783.20,916.48 L783.50,916.96 L783.80,916.16 L784.10,916.21 L784.40,915.07 L784.70,916.67 L785.00,915.95 L785.30,916.50 L785.60,915.62 L785.90,914.29 L786.20,916.24 L786.50,916.82 L786.80,914.77 L787.10,915.07 L787.40,915.68 L787.70,915.78 L788.00,914.60 L788.30,917.61 L788.60,917.05 L788.90,915.74 L789.20,914.81 L789.50,916.75 L789.80,918.23 L790.10,917.35 L790.40,917.73 L790.70,916.06 L791.00,917.17 L791.30,915.81 L791.60,918.89 L791.90,917.81 L792.20,915.66 L792.50,916.01 L792.80,918.11 L793.10,917.95 L793.40,917.69 L793.70,918.61 L794.00,919.91 L794.30,918.64 L794.60,916.92 L794.90,918.44 L795.20,917.58 L795.50,918.13 L795.80,919.21 L796.10,918.89 L796.40,918.24 L796.70,919.22 L797.00,918.65 L797.30,919.89 L797.60,919.32 L797.90,919.94 L798.20,919.45 L798.50,920.38 L798.80,919.69 L799.10,919.85 L799.40,919.43 L799.70,920.07 L800.00,918.49 L800.30,922.31 L800.60,919.51 L800.90,920.21 L801.20,919.77 L801.50,919.80 L801.80,920.60 L802.10,919.87 L802.40,919.98 L802.70,919.21 L803.00,919.64 L803.30,919.47 L803.60,922.04 L803.90,919.42 L804.20,919.68 L804.50,920.80 L804.80,921.89 L805.10,919.27 L805.40,919.44 L805.70,920.90 L806.00,921.12 L806.30,919.67 L806.60,919.38 L806.90,920.13 L807.20,921.62 L807.50,920.98 L807.80,921.69 L808.10,921.00 L808.40,921.10 L808.70,921.68 L809.00,921.10 L809.30,921.43 L809.60,920.49 L809.90,920.79 L810.20,921.73 L810.50,921.16 L810.80,920.76 L811.10,921.99 L811.40,921.92 L811.70,921.48 L812.00,920.87 L812.30,922.31 L812.60,923.70 L812.90,920.91 L813.20,920.32 L813.50,921.00 L813.80,920.89 L814.10,920.64 L814.40,920.73 L814.70,922.48 L815.00,922.52 L815.30,923.07 L815.60,922.47 L815.90,921.45 L816.20,922.80 L816.50,921.38 L816.80,921.62 L817.10,920.94 L817.40,923.00 L817.70,922.83 L818.00,921.60 L818.30,921.74 L818.60,922.05 L818.90,922.21 L819.20,922.77 L819.50,922.12 L819.80,922.42 L820.10,920.82 L820.40,921.85 L820.70,920.59 L821.00,923.64 L821.30,923.32 L821.60,922.75 L821.90,923.09 L822.20,923.86 L822.50,922.96 L822.80,920.81 L823.10,921.99 L823.40,920.17 L823.70,921.48 L824.00,921.12 L824.30,922.17 L824.60,922.51 L824.90,921.38 L825.20,921.93 L825.50,922.41 L825.80,922.03 L826.10,922.01 L826.40,920.12 L826.70,921.78 L827.00,922.82 L827.30,922.37 L827.60,920.88 L827.90,921.90 L828.20,922.35 L828.50,921.29 L828.80,922.69 L829.10,921.43 L829.40,921.82 L829.70,922.00 L830.00,923.97 L830.30,921.80 L830.60,921.58 L830.90,922.66 L831.20,921.64 L831.50,922.20 L831.80,920.10 L832.10,922.26 L832.40,921.98 L832.70,920.89 L833.00,923.12 L833.30,921.76 L833.60,921.78 L833.90,920.81 L834.20,920.54 L834.50,921.42 L834.80,920.59 L835.10,922.29 L835.40,922.60 L835.70,921.30 L836.00,920.46 L836.30,921.47 L836.60,920.89 L836.90,921.92 L837.20,921.91 L837.50,921.38 L837.80,921.78 L838.10,922.59 L838.40,923.13 L838.70,921.22 L839.00,922.26 L839.30,921.43 L839.60,920.71 L839.90,922.68 L840.20,921.90 L840.50,921.67 L840.80,921.83 L841.10,921.37 L841.40,920.59 L841.70,922.98 L842.00,922.21 L842.30,921.65 L842.60,922.22 L842.90,922.47 L843.20,921.19 L843.50,921.84 L843.80,921.04 L844.10,921.84 L844.40,921.06 L844.70,923.32 L845.00,920.92 L845.30,921.64 L845.60,921.57 L845.90,920.87 L846.20,921.93 L846.50,921.04 L846.80,920.74 L847.10,921.07 L847.40,920.40 L847.70,922.03 L848.00,921.52 L848.30,921.79 L848.60,919.78 L848.90,921.13 L849.20,920.21 L849.50,920.91 L849.80,921.88 L850.10,920.98 L850.40,920.58 L850.70,921.64 L851.00,921.51 L851.30,922.18 L851.60,918.99 L851.90,920.80 L852.20,920.13 L852.50,919.69 L852.80,920.49 L853.10,919.35 L853.40,918.40 L853.70,919.48 L854.00,919.97 L854.30,921.73 L854.60,919.48 L854.90,919.04 L855.20,918.30 L855.50,919.63 L855.80,919.67 L856.10,919.94 L856.40,918.53 L856.70,919.05 L857.00,917.71 L857.30,919.72 L857.60,918.18 L857.90,917.12 L858.20,920.37 L858.50,919.75 L858.80,919.56 L859.10,919.49 L859.40,918.25 L859.70,919.97 L860.00,918.10 L860.30,920.55 L860.60,919.05 L860.90,917.22 L861.20,919.45 L861.50,920.32 L861.80,918.36 L862.10,919.41 L862.40,918.25 L862.70,917.82 L863.00,916.08 L863.30,919.25 L863.60,917.75 L863.90,918.38 L864.20,917.01 L864.50,917.13 L864.80,918.77 L865.10,917.42 L865.40,917.33 L865.70,916.51 L866.00,917.67 L866.30,918.05 L866.60,916.89 L866.90,917.01 L867.20,916.00 L867.50,918.11 L867.80,916.25 L868.10,916.50 L868.40,917.92 L868.70,916.14 L869.00,914.86 L869.30,915.24 L869.60,915.56 L869.90,917.22 L870.20,915.72 L870.50,915.17 L870.80,915.90 L871.10,916.13 L871.40,914.21 L871.70,915.91 L872.00,915.25 L872.30,914.73 L872.60,912.16 L872.90,914.18 L873.20,915.05 L873.50,913.46 L873.80,915.52 L874.10,913.46 L874.40,912.38 L874.70,913.62 L875.00,913.23 L875.30,913.56 L875.60,912.54 L875.90,913.73 L876.20,912.03 L876.50,912.52 L876.80,911.25 L877.10,911.56 L877.40,912.34 L877.70,911.55 L878.00,911.68 L878.30,911.85 L878.60,912.21 L878.90,912.64 L879.20,912.64 L879.50,912.86 L879.80,912.18 L880.10,911.57 L880.40,910.71 L880.70,911.82 L881.00,911.49 L881.30,910.67 L881.60,913.71 L881.90,910.79 L882.20,912.76 L882.50,913.02 L882.80,912.43 L883.10,914.95 L883.40,912.85 L883.70,912.28 L884.00,914.56 L884.30,912.47 L884.60,912.04 L884.90,912.52 L885.20,912.95 L885.50,913.66 L885.80,914.03 L886.10,912.55 L886.40,914.28 L886.70,916.03 L887.00,913.61 L887.30,914.23 L887.60,915.05 L887.90,915.61 L888.20,914.10 L888.50,913.96 L888.80,914.02 L889.10,915.93 L889.40,915.86 L889.70,913.31 L890.00,913.41 L890.30,914.27 L890.60,914.11 L890.90,915.83 L891.20,915.74 L891.50,917.32 L891.80,916.39 L892.10,915.89 L892.40,916.88 L892.70,915.17 L893.00,914.81 L893.30,916.13 L893.60,916.99 L893.90,914.86 L894.20,917.10 L894.50,917.15 L894.80,916.05 L895.10,916.70 L895.40,916.38 L895.70,916.76 L896.00,917.45 L896.30,916.12 L896.60,917.77 L896.90,917.67 L897.20,917.75 L897.50,915.32 L897.80,915.45 L898.10,917.69 L898.40,916.61 L898.70,916.55 L899.00,916.50 L899.30,916.02 L899.60,916.93 L899.90,916.55 L900.20,916.60 L900.50,917.55 L900.80,916.09 L901.10,918.04 L901.40,915.09 L901.70,919.12 L902.00,915.71 L902.30,917.32 L902.60,917.53 L902.90,916.65 L903.20,917.21 L903.50,916.38 L903.80,914.85 L904.10,916.58 L904.40,917.17 L904.70,915.60 L905.00,914.51 L905.30,915.36 L905.60,916.06 L905.90,915.94 L906.20,916.54 L906.50,915.98 L906.80,915.85 L907.10,913.59 L907.40,917.17 L907.70,915.22 L908.00,915.85 L908.30,914.75 L908.60,914.87 L908.90,915.01 L909.20,916.28 L909.50,916.21 L909.80,915.42 L910.10,916.60 L910.40,914.55 L910.70,915.37 L911.00,914.56 L911.30,916.13 L911.60,915.11 L911.90,916.00 L912.20,916.72 L912.50,913.53 L912.80,917.31 L913.10,915.81 L913.40,915.38 L913.70,914.12 L914.00,915.65 L914.30,914.05 L914.60,916.26 L914.90,916.18 L915.20,918.06 L915.50,916.34 L915.80,917.71 L916.10,917.94 L916.40,918.87 L916.70,917.02 L917.00,918.05 L917.30,916.21 L917.60,916.72 L917.90,917.59 L918.20,917.95 L918.50,917.05 L918.80,917.88 L919.10,918.97 L919.40,918.08 L919.70,918.46 L920.00,917.92 L920.30,919.99 L920.60,920.43 L920.90,919.15 L921.20,918.97 L921.50,920.61 L921.80,919.68 L922.10,918.77 L922.40,918.28 L922.70,919.04 L923.00,921.56 L923.30,919.23 L923.60,922.37 L923.90,919.95 L924.20,919.86 L924.50,921.30 L924.80,920.03 L925.10,920.68 L925.40,919.54 L925.70,919.46 L926.00,920.00 L926.30,920.93 L926.60,920.25 L926.90,919.21 L927.20,921.43 L927.50,920.97 L927.80,920.96 L928.10,920.76 L928.40,919.41 L928.70,922.85 L929.00,921.13 L929.30,922.09 L929.60,922.92 L929.90,922.77 L930.20,922.04 L930.50,921.94 L930.80,922.27 L931.10,922.86 L931.40,922.64 L931.70,921.81 L932.00,922.65 L932.30,922.64 L932.60,922.97 L932.90,922.60 L933.20,923.66 L933.50,922.68 L933.80,923.32 L934.10,922.61 L934.40,922.11 L934.70,921.81 L935.00,922.52 L935.30,923.14 L935.60,923.79 L935.90,922.62 L936.20,922.25 L936.50,922.26 L936.80,923.82 L937.10,922.79 L937.40,922.26 L937.70,923.34 L938.00,921.55 L938.30,922.80 L938.60,922.66 L938.90,922.58 L939.20,921.69 L939.50,923.56 L939.80,924.17 L940.10,921.54 L940.40,922.80 L940.70,923.26 L941.00,924.67 L941.30,922.34 L941.60,921.87 L941.90,922.70 L942.20,924.45 L942.50,922.76 L942.80,922.93 L943.10,924.25 L943.40,920.84 L943.70,920.81 L944.00,923.49 L944.30,923.37 L944.60,921.49 L944.90,923.15 L945.20,922.74 L945.50,922.89 L945.80,922.00 L946.10,922.30 L946.40,921.94 L946.70,922.74 L947.00,922.50 L947.30,924.17 L947.60,923.25 L947.90,921.33 L948.20,923.06 L948.50,923.95 L948.80,922.95 L949.10,923.65 L949.40,922.67 L949.70,923.31 L950.00,921.88 L950.30,923.39 L950.60,921.50 L950.90,923.83 L951.20,921.38 L951.50,920.86 L951.80,923.16 L952.10,922.55 L952.40,922.80 L952.70,923.07 L953.00,922.68 L953.30,921.93 L953.60,922.88 L953.90,923.00 L954.20,923.13 L954.50,924.43 L954.80,922.06 L955.10,922.76 L955.40,923.19 L955.70,922.31 L956.00,921.66 L956.30,922.21 L956.60,923.63 L956.90,922.47 L957.20,923.23 L957.50,922.06 L957.80,923.09 L958.10,922.11 L958.40,921.97 L958.70,922.80 L959.00,922.75 L959.30,923.98 L959.60,921.28 L959.90,923.14 L960.20,924.11 L960.50,923.89 L960.80,922.37 L961.10,922.11 L961.40,922.27 L961.70,922.96 L962.00,922.87 L962.30,923.00 L962.60,923.22 L962.90,921.77 L963.20,921.72 L963.50,921.63 L963.80,921.53 L964.10,922.61 L964.40,922.97 L964.70,924.91 L965.00,923.17 L965.30,922.71 L965.60,923.94 L965.90,922.06 L966.20,923.00 L966.50,923.55 L966.80,923.39 L967.10,923.05 L967.40,922.40 L967.70,921.62 L968.00,922.57 L968.30,922.18 L968.60,923.30 L968.90,922.58 L969.20,923.19 L969.50,921.30 L969.80,923.55 L970.10,921.96 L970.40,921.34 L970.70,921.50 L971.00,922.15 L971.30,923.68 L971.60,923.32 L971.90,921.68 L972.20,922.78 L972.50,922.61 L972.80,921.33 L973.10,921.84 L973.40,920.92 L973.70,921.94 L974.00,920.39 L974.30,922.01 L974.60,921.88 L974.90,922.01 L975.20,921.98 L975.50,923.71 L975.80,922.40 L976.10,922.91 L976.40,923.36 L976.70,923.48 L977.00,923.29 L977.30,922.22 L977.60,921.74 L977.90,922.02 L978.20,922.29 L978.50,922.70 L978.80,922.63 L979.10,923.65 L979.40,922.61 L979.70,924.26 L980.00,923.60 L980.30,922.28 L980.60,923.45 L980.90,920.20 L981.20,923.90 L981.50,923.06 L981.80,923.05 L982.10,921.23 L982.40,924.89 L982.70,922.48 L983.00,922.58 L983.30,923.68 L983.60,922.53 L983.90,921.96 L984.20,923.27 L984.50,921.82 L984.80,923.34 L985.10,922.82 L985.40,923.68 L985.70,921.64 L986.00,923.77 L986.30,922.94 L986.60,924.40 L986.90,922.11 L987.20,924.29 L987.50,923.28 L987.80,923.35 L988.10,922.03 L988.40,923.14 L988.70,923.23 L989.00,921.92 L989.30,921.63 L989.60,921.95 L989.90,923.89 L990.20,922.74 L990.50,923.41 L990.80,922.84 L991.10,922.68 L991.40,922.76 L991.70,922.20 L992.00,923.61 L992.30,922.69 L992.60,922.72 L992.90,921.31 L993.20,922.77 L993.50,921.90 L993.80,922.04 L994.10,923.36 L994.40,921.50 L994.70,922.26 L995.00,922.97 L995.30,923.41 L995.60,921.94 L995.90,922.66 L996.20,922.61 L996.50,921.37 L996.80,920.47 L997.10,920.64 L997.40,922.82 L997.70,922.38 L998.00,921.11 L998.30,921.70 L998.60,921.89 L998.90,921.91 L999.20,922.18 L999.50,924.11 L999.80,921.49 L1000.10,922.28 L1000.40,921.47 L1000.70,921.57 L1001.00,921.34 L1001.30,921.88 L1001.60,921.59 L1001.90,922.35 L1002.20,922.22 L1002.50,921.24 L1002.80,923.66 L1003.10,920.96 L1003.40,922.27 L1003.70,923.82 L1004.00,921.30 L1004.30,923.06 L1004.60,923.12 L1004.90,922.16 L1005.20,920.24 L1005.50,923.06 L1005.80,921.89" fill="none" stroke="#111" stroke-width="1.8" stroke-linejoin="round"/>
<rect x="81.0" y="534.4" width="926.0" height="393.30000000000007" fill="none" stroke="#333" stroke-width="2"/>
<line x1="81.00" y1="769.40" x2="1007.00" y2="769.40" stroke="#333" stroke-width="2" />
<line x1="78.20" y1="749.82" x2="81.00" y2="749.82" stroke="#333" stroke-width="1.6" />
<line x1="78.20" y1="730.23" x2="81.00" y2="730.23" stroke="#333" stroke-width="1.6" />
<line x1="78.20" y1="710.65" x2="81.00" y2="710.65" stroke="#333" stroke-width="1.6" />
<line x1="76.80" y1="691.07" x2="81.00" y2="691.07" stroke="#333" stroke-width="1.8" />
<line x1="78.20" y1="671.48" x2="81.00" y2="671.48" stroke="#333" stroke-width="1.6" />
<line x1="78.20" y1="651.90" x2="81.00" y2="651.90" stroke="#333" stroke-width="1.6" />
<line x1="78.20" y1="632.32" x2="81.00" y2="632.32" stroke="#333" stroke-width="1.6" />
<line x1="76.80" y1="612.73" x2="81.00" y2="612.73" stroke="#333" stroke-width="1.8" />
<line x1="78.20" y1="593.15" x2="81.00" y2="593.15" stroke="#333" stroke-width="1.6" />
<line x1="78.20" y1="573.57" x2="81.00" y2="573.57" stroke="#333" stroke-width="1.6" />
<line x1="78.20" y1="553.98" x2="81.00" y2="553.98" stroke="#333" stroke-width="1.6" />
<line x1="76.80" y1="534.40" x2="81.00" y2="534.40" stroke="#333" stroke-width="1.8" />
<text x="71.50" y="539.80" font-size="19.5" fill="#222" font-weight="normal" text-anchor="end"  style="">12000</text>
<text x="72.50" y="617.20" font-size="19.5" fill="#222" font-weight="normal" text-anchor="end"  style="">8000</text>
<text x="72.50" y="696.30" font-size="19.5" fill="#222" font-weight="normal" text-anchor="end"  style="">4000</text>
<text x="66.00" y="761.80" font-size="19.5" fill="#222" font-weight="normal" text-anchor="end"  style="">(0)</text>
<line x1="76.80" y1="927.70" x2="81.00" y2="927.70" stroke="#333" stroke-width="1.8" />
<line x1="78.20" y1="907.91" x2="81.00" y2="907.91" stroke="#333" stroke-width="1.6" />
<line x1="78.20" y1="888.12" x2="81.00" y2="888.12" stroke="#333" stroke-width="1.6" />
<line x1="78.20" y1="868.34" x2="81.00" y2="868.34" stroke="#333" stroke-width="1.6" />
<line x1="76.80" y1="848.55" x2="81.00" y2="848.55" stroke="#333" stroke-width="1.8" />
<line x1="78.20" y1="828.76" x2="81.00" y2="828.76" stroke="#333" stroke-width="1.6" />
<line x1="78.20" y1="808.98" x2="81.00" y2="808.98" stroke="#333" stroke-width="1.6" />
<line x1="78.20" y1="789.19" x2="81.00" y2="789.19" stroke="#333" stroke-width="1.6" />
<line x1="76.80" y1="769.40" x2="81.00" y2="769.40" stroke="#333" stroke-width="1.8" />
<text x="72.50" y="781.20" font-size="19.5" fill="#222" font-weight="normal" text-anchor="end"  style="">8000</text>
<text x="72.50" y="851.90" font-size="19.5" fill="#222" font-weight="normal" text-anchor="end"  style="">4000</text>
<text x="68.80" y="934.80" font-size="19.5" fill="#222" font-weight="normal" text-anchor="end"  style="">0</text>
<line x1="81.00" y1="927.70" x2="81.00" y2="933.70" stroke="#333" stroke-width="1.8" />
<line x1="93.35" y1="927.70" x2="93.35" y2="932.20" stroke="#333" stroke-width="1.8" />
<line x1="105.69" y1="927.70" x2="105.69" y2="932.20" stroke="#333" stroke-width="1.8" />
<line x1="118.04" y1="927.70" x2="118.04" y2="932.20" stroke="#333" stroke-width="1.8" />
<line x1="130.39" y1="927.70" x2="130.39" y2="932.20" stroke="#333" stroke-width="1.8" />
<line x1="142.73" y1="927.70" x2="142.73" y2="933.70" stroke="#333" stroke-width="1.8" />
<line x1="155.08" y1="927.70" x2="155.08" y2="932.20" stroke="#333" stroke-width="1.8" />
<line x1="167.43" y1="927.70" x2="167.43" y2="932.20" stroke="#333" stroke-width="1.8" />
<line x1="179.77" y1="927.70" x2="179.77" y2="932.20" stroke="#333" stroke-width="1.8" />
<line x1="192.12" y1="927.70" x2="192.12" y2="932.20" stroke="#333" stroke-width="1.8" />
<line x1="204.47" y1="927.70" x2="204.47" y2="933.70" stroke="#333" stroke-width="1.8" />
<line x1="216.81" y1="927.70" x2="216.81" y2="932.20" stroke="#333" stroke-width="1.8" />
<line x1="229.16" y1="927.70" x2="229.16" y2="932.20" stroke="#333" stroke-width="1.8" />
<line x1="241.51" y1="927.70" x2="241.51" y2="932.20" stroke="#333" stroke-width="1.8" />
<line x1="253.85" y1="927.70" x2="253.85" y2="932.20" stroke="#333" stroke-width="1.8" />
<line x1="266.20" y1="927.70" x2="266.20" y2="933.70" stroke="#333" stroke-width="1.8" />
<line x1="278.55" y1="927.70" x2="278.55" y2="932.20" stroke="#333" stroke-width="1.8" />
<line x1="290.89" y1="927.70" x2="290.89" y2="932.20" stroke="#333" stroke-width="1.8" />
<line x1="303.24" y1="927.70" x2="303.24" y2="932.20" stroke="#333" stroke-width="1.8" />
<line x1="315.59" y1="927.70" x2="315.59" y2="932.20" stroke="#333" stroke-width="1.8" />
<line x1="327.93" y1="927.70" x2="327.93" y2="933.70" stroke="#333" stroke-width="1.8" />
<line x1="340.28" y1="927.70" x2="340.28" y2="932.20" stroke="#333" stroke-width="1.8" />
<line x1="352.63" y1="927.70" x2="352.63" y2="932.20" stroke="#333" stroke-width="1.8" />
<line x1="364.97" y1="927.70" x2="364.97" y2="932.20" stroke="#333" stroke-width="1.8" />
<line x1="377.32" y1="927.70" x2="377.32" y2="932.20" stroke="#333" stroke-width="1.8" />
<line x1="389.67" y1="927.70" x2="389.67" y2="933.70" stroke="#333" stroke-width="1.8" />
<line x1="402.01" y1="927.70" x2="402.01" y2="932.20" stroke="#333" stroke-width="1.8" />
<line x1="414.36" y1="927.70" x2="414.36" y2="932.20" stroke="#333" stroke-width="1.8" />
<line x1="426.71" y1="927.70" x2="426.71" y2="932.20" stroke="#333" stroke-width="1.8" />
<line x1="439.05" y1="927.70" x2="439.05" y2="932.20" stroke="#333" stroke-width="1.8" />
<line x1="451.40" y1="927.70" x2="451.40" y2="933.70" stroke="#333" stroke-width="1.8" />
<line x1="463.75" y1="927.70" x2="463.75" y2="932.20" stroke="#333" stroke-width="1.8" />
<line x1="476.09" y1="927.70" x2="476.09" y2="932.20" stroke="#333" stroke-width="1.8" />
<line x1="488.44" y1="927.70" x2="488.44" y2="932.20" stroke="#333" stroke-width="1.8" />
<line x1="500.79" y1="927.70" x2="500.79" y2="932.20" stroke="#333" stroke-width="1.8" />
<line x1="513.13" y1="927.70" x2="513.13" y2="933.70" stroke="#333" stroke-width="1.8" />
<line x1="525.48" y1="927.70" x2="525.48" y2="932.20" stroke="#333" stroke-width="1.8" />
<line x1="537.83" y1="927.70" x2="537.83" y2="932.20" stroke="#333" stroke-width="1.8" />
<line x1="550.17" y1="927.70" x2="550.17" y2="932.20" stroke="#333" stroke-width="1.8" />
<line x1="562.52" y1="927.70" x2="562.52" y2="932.20" stroke="#333" stroke-width="1.8" />
<line x1="574.87" y1="927.70" x2="574.87" y2="933.70" stroke="#333" stroke-width="1.8" />
<line x1="587.21" y1="927.70" x2="587.21" y2="932.20" stroke="#333" stroke-width="1.8" />
<line x1="599.56" y1="927.70" x2="599.56" y2="932.20" stroke="#333" stroke-width="1.8" />
<line x1="611.91" y1="927.70" x2="611.91" y2="932.20" stroke="#333" stroke-width="1.8" />
<line x1="624.25" y1="927.70" x2="624.25" y2="932.20" stroke="#333" stroke-width="1.8" />
<line x1="636.60" y1="927.70" x2="636.60" y2="933.70" stroke="#333" stroke-width="1.8" />
<line x1="648.95" y1="927.70" x2="648.95" y2="932.20" stroke="#333" stroke-width="1.8" />
<line x1="661.29" y1="927.70" x2="661.29" y2="932.20" stroke="#333" stroke-width="1.8" />
<line x1="673.64" y1="927.70" x2="673.64" y2="932.20" stroke="#333" stroke-width="1.8" />
<line x1="685.99" y1="927.70" x2="685.99" y2="932.20" stroke="#333" stroke-width="1.8" />
<line x1="698.33" y1="927.70" x2="698.33" y2="933.70" stroke="#333" stroke-width="1.8" />
<line x1="710.68" y1="927.70" x2="710.68" y2="932.20" stroke="#333" stroke-width="1.8" />
<line x1="723.03" y1="927.70" x2="723.03" y2="932.20" stroke="#333" stroke-width="1.8" />
<line x1="735.37" y1="927.70" x2="735.37" y2="932.20" stroke="#333" stroke-width="1.8" />
<line x1="747.72" y1="927.70" x2="747.72" y2="932.20" stroke="#333" stroke-width="1.8" />
<line x1="760.07" y1="927.70" x2="760.07" y2="933.70" stroke="#333" stroke-width="1.8" />
<line x1="772.41" y1="927.70" x2="772.41" y2="932.20" stroke="#333" stroke-width="1.8" />
<line x1="784.76" y1="927.70" x2="784.76" y2="932.20" stroke="#333" stroke-width="1.8" />
<line x1="797.11" y1="927.70" x2="797.11" y2="932.20" stroke="#333" stroke-width="1.8" />
<line x1="809.45" y1="927.70" x2="809.45" y2="932.20" stroke="#333" stroke-width="1.8" />
<line x1="821.80" y1="927.70" x2="821.80" y2="933.70" stroke="#333" stroke-width="1.8" />
<line x1="834.15" y1="927.70" x2="834.15" y2="932.20" stroke="#333" stroke-width="1.8" />
<line x1="846.49" y1="927.70" x2="846.49" y2="932.20" stroke="#333" stroke-width="1.8" />
<line x1="858.84" y1="927.70" x2="858.84" y2="932.20" stroke="#333" stroke-width="1.8" />
<line x1="871.19" y1="927.70" x2="871.19" y2="932.20" stroke="#333" stroke-width="1.8" />
<line x1="883.53" y1="927.70" x2="883.53" y2="933.70" stroke="#333" stroke-width="1.8" />
<line x1="895.88" y1="927.70" x2="895.88" y2="932.20" stroke="#333" stroke-width="1.8" />
<line x1="908.23" y1="927.70" x2="908.23" y2="932.20" stroke="#333" stroke-width="1.8" />
<line x1="920.57" y1="927.70" x2="920.57" y2="932.20" stroke="#333" stroke-width="1.8" />
<line x1="932.92" y1="927.70" x2="932.92" y2="932.20" stroke="#333" stroke-width="1.8" />
<line x1="945.27" y1="927.70" x2="945.27" y2="933.70" stroke="#333" stroke-width="1.8" />
<line x1="957.61" y1="927.70" x2="957.61" y2="932.20" stroke="#333" stroke-width="1.8" />
<line x1="969.96" y1="927.70" x2="969.96" y2="932.20" stroke="#333" stroke-width="1.8" />
<line x1="982.31" y1="927.70" x2="982.31" y2="932.20" stroke="#333" stroke-width="1.8" />
<line x1="994.65" y1="927.70" x2="994.65" y2="932.20" stroke="#333" stroke-width="1.8" />
<line x1="1007.00" y1="927.70" x2="1007.00" y2="933.70" stroke="#333" stroke-width="1.8" />
<text x="81.00" y="958.80" font-size="19.5" fill="#222" font-weight="normal" text-anchor="middle"  style="">15</text>
<text x="142.73" y="958.80" font-size="19.5" fill="#222" font-weight="normal" text-anchor="middle"  style="">20</text>
<text x="204.47" y="958.80" font-size="19.5" fill="#222" font-weight="normal" text-anchor="middle"  style="">25</text>
<text x="266.20" y="958.80" font-size="19.5" fill="#222" font-weight="normal" text-anchor="middle"  style="">30</text>
<text x="327.93" y="958.80" font-size="19.5" fill="#222" font-weight="normal" text-anchor="middle"  style="">35</text>
<text x="389.67" y="958.80" font-size="19.5" fill="#222" font-weight="normal" text-anchor="middle"  style="">40</text>
<text x="451.40" y="958.80" font-size="19.5" fill="#222" font-weight="normal" text-anchor="middle"  style="">45</text>
<text x="513.13" y="958.80" font-size="19.5" fill="#222" font-weight="normal" text-anchor="middle"  style="">50</text>
<text x="574.87" y="958.80" font-size="19.5" fill="#222" font-weight="normal" text-anchor="middle"  style="">55</text>
<text x="636.60" y="958.80" font-size="19.5" fill="#222" font-weight="normal" text-anchor="middle"  style="">60</text>
<text x="698.33" y="958.80" font-size="19.5" fill="#222" font-weight="normal" text-anchor="middle"  style="">65</text>
<text x="760.07" y="958.80" font-size="19.5" fill="#222" font-weight="normal" text-anchor="middle"  style="">70</text>
<text x="821.80" y="958.80" font-size="19.5" fill="#222" font-weight="normal" text-anchor="middle"  style="">75</text>
<text x="883.53" y="958.80" font-size="19.5" fill="#222" font-weight="normal" text-anchor="middle"  style="">80</text>
<text x="945.27" y="958.80" font-size="19.5" fill="#222" font-weight="normal" text-anchor="middle"  style="">85</text>
<text x="1007.00" y="958.80" font-size="19.5" fill="#222" font-weight="normal" text-anchor="middle"  style="">90</text>
<text transform="translate(247.40,623.30) rotate(-90)" x="0" y="0" font-size="16.5" font-weight="bold" fill="#7a3aa8" textLength="58.6" lengthAdjust="spacingAndGlyphs">A’ (111)</text>
<text transform="translate(305.80,745.50) rotate(-90)" x="0" y="0" font-size="16.5" font-weight="bold" fill="#1f72c4" textLength="52.5" lengthAdjust="spacingAndGlyphs">C (002)</text>
<text transform="translate(322.30,689.30) rotate(-90)" x="0" y="0" font-size="16.5" font-weight="bold" fill="#7a3aa8" textLength="56.2" lengthAdjust="spacingAndGlyphs">A’ (200)</text>
<text transform="translate(341.90,728.50) rotate(-90)" x="0" y="0" font-size="16.5" font-weight="bold" fill="#1f72c4" textLength="52.5" lengthAdjust="spacingAndGlyphs">C (101)</text>
<text transform="translate(394.40,749.20) rotate(-90)" x="0" y="0" font-size="16.5" font-weight="bold" fill="#12a84a" textLength="54.9" lengthAdjust="spacingAndGlyphs">B (111)</text>
<text transform="translate(421.30,749.20) rotate(-90)" x="0" y="0" font-size="16.5" font-weight="bold" fill="#1f72c4" textLength="54.9" lengthAdjust="spacingAndGlyphs">C (110)</text>
<text transform="translate(475.00,749.20) rotate(-90)" x="0" y="0" font-size="16.5" font-weight="bold" fill="#12a84a" textLength="54.9" lengthAdjust="spacingAndGlyphs">B (200)</text>
<text transform="translate(509.10,674.70) rotate(-90)" x="0" y="0" font-size="16.5" font-weight="bold" fill="#7a3aa8" textLength="57.3" lengthAdjust="spacingAndGlyphs">A’ (220)</text>
<text transform="translate(576.80,749.20) rotate(-90)" x="0" y="0" font-size="16.5" font-weight="bold" fill="#1f72c4" textLength="53.7" lengthAdjust="spacingAndGlyphs">C (112)</text>
<text transform="translate(623.20,701.60) rotate(-90)" x="0" y="0" font-size="16.5" font-weight="bold" fill="#7a3aa8" textLength="57.4" lengthAdjust="spacingAndGlyphs">A’ (311)</text>
<text transform="translate(640.30,738.20) rotate(-90)" x="0" y="0" font-size="16.5" font-weight="bold" fill="#1f72c4" textLength="52.5" lengthAdjust="spacingAndGlyphs">C (103)</text>
<text transform="translate(658.60,738.20) rotate(-90)" x="0" y="0" font-size="16.5" font-weight="bold" fill="#7a3aa8" textLength="58.6" lengthAdjust="spacingAndGlyphs">A’ (222)</text>
<text transform="translate(741.60,745.50) rotate(-90)" x="0" y="0" font-size="16.5" font-weight="bold" fill="#12a84a" textLength="53.7" lengthAdjust="spacingAndGlyphs">B (220)</text>
<text transform="translate(771.60,746.60) rotate(-90)" x="0" y="0" font-size="16.5" font-weight="bold" fill="#1f72c4" textLength="52.0" lengthAdjust="spacingAndGlyphs">C (211)</text>
<text transform="translate(789.90,747.40) rotate(-90)" x="0" y="0" font-size="16.5" font-weight="bold" fill="#7a3aa8" textLength="57.9" lengthAdjust="spacingAndGlyphs">A’ (400)</text>
<text transform="translate(885.10,737.80) rotate(-90)" x="0" y="0" font-size="16.5" font-weight="bold" fill="#7a3aa8" textLength="57.2" lengthAdjust="spacingAndGlyphs">A’ (311)</text>
<text transform="translate(904.10,734.00) rotate(-90)" x="0" y="0" font-size="16.5" font-weight="bold" fill="#12a84a" textLength="54.7" lengthAdjust="spacingAndGlyphs">B (311)</text>
<text transform="translate(922.40,740.30) rotate(-90)" x="0" y="0" font-size="16.5" font-weight="bold" fill="#7a3aa8" textLength="58.4" lengthAdjust="spacingAndGlyphs">A’ (420)</text>
<text transform="translate(957.40,740.30) rotate(-90)" x="0" y="0" font-size="16.5" font-weight="bold" fill="#12a84a" textLength="54.6" lengthAdjust="spacingAndGlyphs">B (222)</text>
<text x="84.6" y="551.1" font-size="17.4" font-weight="bold" fill="#111" textLength="175.4" lengthAdjust="spacingAndGlyphs">(d) Aged 3% Pd/CZO</text>
<text x="83.7" y="787.3" font-size="17.4" font-weight="bold" fill="#111" textLength="178.2" lengthAdjust="spacingAndGlyphs">(c) Fresh 3% Pd/CZO</text>
<text x="649.5" y="522" font-size="18" font-weight="bold" fill="#7a3aa8">A’:</text>
<text x="690" y="522" font-size="18" font-weight="bold" fill="#7a3aa8">Zr<tspan font-size="12.5" dy="4">x</tspan><tspan dy="-4">Ce</tspan><tspan font-size="12.5" dy="4">1-x</tspan><tspan dy="-4">O</tspan><tspan font-size="12.5" dy="4">2</tspan></text>
<text x="803" y="522" font-size="18" font-weight="bold" fill="#12a84a">B:</text>
<text x="842" y="522" font-size="18" font-weight="bold" fill="#12a84a">Pd</text>
<text x="907" y="522" font-size="18" font-weight="bold" fill="#1f72c4">C:</text>
<text x="942" y="522" font-size="18" font-weight="bold" fill="#1f72c4">PdO</text>
<text x="518.6" y="982.6" font-size="21.5" font-weight="bold" fill="#111" textLength="53" lengthAdjust="spacingAndGlyphs">2<tspan font-style="italic">θ</tspan> (°)</text>
<text transform="translate(21.9,815.1) rotate(-90)" font-size="22" font-weight="bold" fill="#111" textLength="148.5" lengthAdjust="spacingAndGlyphs">Intensity (a. u.)</text>
<defs><clipPath id="c3a"><rect x="80.75" y="1007.9" width="928.25" height="152.10000000000002"/></clipPath><clipPath id="c3b"><rect x="80.75" y="1168.3" width="928.25" height="132.10000000000014"/></clipPath></defs>
<line x1="302.50" y1="1019.41" x2="302.50" y2="1160.00" stroke="#3f8ad8" stroke-width="1.3" stroke-dasharray="1.3 0.9"/>
<line x1="302.50" y1="1168.30" x2="302.50" y2="1297.40" stroke="#3f8ad8" stroke-width="1.3" stroke-dasharray="1.3 0.9"/>
<line x1="322.50" y1="1015.90" x2="322.50" y2="1160.00" stroke="#3f8ad8" stroke-width="1.3" stroke-dasharray="1.3 0.9"/>
<line x1="322.50" y1="1168.30" x2="322.50" y2="1297.40" stroke="#3f8ad8" stroke-width="1.3" stroke-dasharray="1.3 0.9"/>
<line x1="391.60" y1="1095.00" x2="391.60" y2="1160.00" stroke="#e2f6ee" stroke-width="1.6" />
<line x1="391.60" y1="1095.00" x2="391.60" y2="1160.00" stroke="#8fb3a3" stroke-width="1.5" stroke-dasharray="2.4 4.8"/>
<line x1="391.60" y1="1168.30" x2="391.60" y2="1297.40" stroke="#e2f6ee" stroke-width="1.6" />
<line x1="391.60" y1="1168.30" x2="391.60" y2="1297.40" stroke="#8fb3a3" stroke-width="1.5" stroke-dasharray="2.4 4.8"/>
<line x1="417.30" y1="1064.47" x2="417.30" y2="1160.00" stroke="#b9cfe6" stroke-width="1.3" />
<line x1="417.30" y1="1168.30" x2="417.30" y2="1297.40" stroke="#b9cfe6" stroke-width="1.3" />
<line x1="469.70" y1="1083.96" x2="469.70" y2="1160.00" stroke="#e2f6ee" stroke-width="1.6" />
<line x1="469.70" y1="1083.96" x2="469.70" y2="1160.00" stroke="#8fb3a3" stroke-width="1.5" stroke-dasharray="2.4 4.8"/>
<line x1="469.70" y1="1168.30" x2="469.70" y2="1297.40" stroke="#e2f6ee" stroke-width="1.6" />
<line x1="469.70" y1="1168.30" x2="469.70" y2="1297.40" stroke="#8fb3a3" stroke-width="1.5" stroke-dasharray="2.4 4.8"/>
<line x1="577.50" y1="1086.22" x2="577.50" y2="1160.00" stroke="#b9cfe6" stroke-width="1.3" />
<line x1="577.50" y1="1168.30" x2="577.50" y2="1297.40" stroke="#b9cfe6" stroke-width="1.3" />
<line x1="643.40" y1="1071.97" x2="643.40" y2="1160.00" stroke="#b9cfe6" stroke-width="1.3" />
<line x1="643.40" y1="1168.30" x2="643.40" y2="1297.40" stroke="#b9cfe6" stroke-width="1.3" />
<line x1="740.00" y1="1144.58" x2="740.00" y2="1160.00" stroke="#e2f6ee" stroke-width="1.6" />
<line x1="740.00" y1="1144.58" x2="740.00" y2="1160.00" stroke="#8fb3a3" stroke-width="1.5" stroke-dasharray="2.4 4.8"/>
<line x1="740.00" y1="1168.30" x2="740.00" y2="1297.40" stroke="#e2f6ee" stroke-width="1.6" />
<line x1="740.00" y1="1168.30" x2="740.00" y2="1297.40" stroke="#8fb3a3" stroke-width="1.5" stroke-dasharray="2.4 4.8"/>
<line x1="772.60" y1="1098.42" x2="772.60" y2="1160.00" stroke="#b9cfe6" stroke-width="1.3" />
<line x1="772.60" y1="1168.30" x2="772.60" y2="1297.40" stroke="#b9cfe6" stroke-width="1.3" />
<line x1="909.60" y1="1039.10" x2="909.60" y2="1160.00" stroke="#e2f6ee" stroke-width="1.6" />
<line x1="909.60" y1="1039.10" x2="909.60" y2="1160.00" stroke="#8fb3a3" stroke-width="1.5" stroke-dasharray="2.4 4.8"/>
<line x1="909.60" y1="1168.30" x2="909.60" y2="1297.40" stroke="#e2f6ee" stroke-width="1.6" />
<line x1="909.60" y1="1168.30" x2="909.60" y2="1297.40" stroke="#8fb3a3" stroke-width="1.5" stroke-dasharray="2.4 4.8"/>
<line x1="954.80" y1="1141.63" x2="954.80" y2="1160.00" stroke="#e2f6ee" stroke-width="1.6" />
<line x1="954.80" y1="1141.63" x2="954.80" y2="1160.00" stroke="#8fb3a3" stroke-width="1.5" stroke-dasharray="2.4 4.8"/>
<line x1="954.80" y1="1168.30" x2="954.80" y2="1297.40" stroke="#e2f6ee" stroke-width="1.6" />
<line x1="954.80" y1="1168.30" x2="954.80" y2="1297.40" stroke="#8fb3a3" stroke-width="1.5" stroke-dasharray="2.4 4.8"/>
<path d="M80.75,955.8 L81.00,969.8 L81.25,954.4 L81.50,968.2 L81.75,955.8 L82.00,964.1 L82.25,951.8 L82.50,957.0 L82.75,953.0 L83.00,954.5 L83.25,961.4 L83.50,958.7 L83.75,961.5 L84.00,969.8 L84.25,959.1 L84.50,945.8 L84.75,957.8 L85.00,960.6 L85.25,967.8 L85.50,968.0 L85.75,967.3 L86.00,958.3 L86.25,965.0 L86.50,949.0 L86.75,970.0 L87.00,963.4 L87.25,964.0 L87.50,957.2 L87.75,960.5 L88.00,955.0 L88.25,964.4 L88.50,949.9 L88.75,967.6 L89.00,964.3 L89.25,975.6 L89.50,959.8 L89.75,959.4 L90.00,961.6 L90.25,960.5 L90.50,959.4 L90.75,951.7 L91.00,951.7 L91.25,955.9 L91.50,958.0 L91.75,951.1 L92.00,951.4 L92.25,958.1 L92.50,965.9 L92.75,958.8 L93.00,965.5 L93.25,967.7 L93.50,966.2 L93.75,957.1 L94.00,957.2 L94.25,946.1 L94.50,955.1 L94.75,964.0 L95.00,952.1 L95.25,970.8 L95.50,971.4 L95.75,957.6 L96.00,967.5 L96.25,949.6 L96.50,952.5 L96.75,957.7 L97.00,960.6 L97.25,959.1 L97.50,953.9 L97.75,975.6 L98.00,962.8 L98.25,962.8 L98.50,965.8 L98.75,962.0 L99.00,958.9 L99.25,956.4 L99.50,948.2 L99.75,972.2 L100.00,953.7 L100.25,948.0 L100.50,954.6 L100.75,948.5 L101.00,976.1 L101.25,963.6 L101.50,971.6 L101.75,972.0 L102.00,965.2 L102.25,965.3 L102.50,955.4 L102.75,960.3 L103.00,956.4 L103.25,961.3 L103.50,955.7 L103.75,970.7 L104.00,966.9 L104.25,960.3 L104.50,948.3 L104.75,966.4 L105.00,967.9 L105.25,960.7 L105.50,951.6 L105.75,964.6 L106.00,969.3 L106.25,946.6 L106.50,965.7 L106.75,947.4 L107.00,962.0 L107.25,974.8 L107.50,962.1 L107.75,965.1 L108.00,959.0 L108.25,961.5 L108.50,979.5 L108.75,971.8 L109.00,959.2 L109.25,958.7 L109.50,961.8 L109.75,978.5 L110.00,963.3 L110.25,970.2 L110.50,959.0 L110.75,952.1 L111.00,972.0 L111.25,961.3 L111.50,955.9 L111.75,956.6 L112.00,956.8 L112.25,957.3 L112.50,950.2 L112.75,971.2 L113.00,965.0 L113.25,969.6 L113.50,959.5 L113.75,964.8 L114.00,963.5 L114.25,971.2 L114.50,968.5 L114.75,965.1 L115.00,957.4 L115.25,953.2 L115.50,956.3 L115.75,957.6 L116.00,958.4 L116.25,953.1 L116.50,975.2 L116.75,964.7 L117.00,947.3 L117.25,954.3 L117.50,952.5 L117.75,964.6 L118.00,970.9 L118.25,955.3 L118.50,967.6 L118.75,960.8 L119.00,971.7 L119.25,973.4 L119.50,965.4 L119.75,968.5 L120.00,963.1 L120.25,960.3 L120.50,954.3 L120.75,965.7 L121.00,962.7 L121.25,960.4 L121.50,962.8 L121.75,962.0 L122.00,955.5 L122.25,959.5 L122.50,972.2 L122.75,961.8 L123.00,974.2 L123.25,954.9 L123.50,953.4 L123.75,964.7 L124.00,969.7 L124.25,958.8 L124.50,968.6 L124.75,971.0 L125.00,972.1 L125.25,963.2 L125.50,963.7 L125.75,951.6 L126.00,964.3 L126.25,966.3 L126.50,975.0 L126.75,954.6 L127.00,957.9 L127.25,956.8 L127.50,971.3 L127.75,945.3 L128.00,956.3 L128.25,980.2 L128.50,969.6 L128.75,954.6 L129.00,964.3 L129.25,971.2 L129.50,969.0 L129.75,963.2 L130.00,958.9 L130.25,971.3 L130.50,965.0 L130.75,971.2 L131.00,968.2 L131.25,961.7 L131.50,976.2 L131.75,961.5 L132.00,968.6 L132.25,960.6 L132.50,963.7 L132.75,963.6 L133.00,960.6 L133.25,967.4 L133.50,975.6 L133.75,979.8 L134.00,976.7 L134.25,964.6 L134.50,977.0 L134.75,969.2 L135.00,979.6 L135.25,956.6 L135.50,977.4 L135.75,961.7 L136.00,975.0 L136.25,962.8 L136.50,973.3 L136.75,964.3 L137.00,952.3 L137.25,959.2 L137.50,964.8 L137.75,966.9 L138.00,949.8 L138.25,957.7 L138.50,961.3 L138.75,965.3 L139.00,968.7 L139.25,960.8 L139.50,955.6 L139.75,969.5 L140.00,964.7 L140.25,974.0 L140.50,963.4 L140.75,972.3 L141.00,960.8 L141.25,969.6 L141.50,968.3 L141.75,971.1 L142.00,960.7 L142.25,966.9 L142.50,961.5 L142.75,966.7 L143.00,972.7 L143.25,990.6 L143.50,968.4 L143.75,973.6 L144.00,969.1 L144.25,976.9 L144.50,971.9 L144.75,976.4 L145.00,971.3 L145.25,986.8 L145.50,979.1 L145.75,955.9 L146.00,971.1 L146.25,969.5 L146.50,952.4 L146.75,962.6 L147.00,965.7 L147.25,963.7 L147.50,970.3 L147.75,955.8 L148.00,975.1 L148.25,975.3 L148.50,972.2 L148.75,967.2 L149.00,969.8 L149.25,966.3 L149.50,978.5 L149.75,973.8 L150.00,985.1 L150.25,967.3 L150.50,981.1 L150.75,966.0 L151.00,969.1 L151.25,962.7 L151.50,974.6 L151.75,970.4 L152.00,975.6 L152.25,982.3 L152.50,970.8 L152.75,974.3 L153.00,978.4 L153.25,971.4 L153.50,967.9 L153.75,974.9 L154.00,976.2 L154.25,978.5 L154.50,979.1 L154.75,968.0 L155.00,976.6 L155.25,982.8 L155.50,970.3 L155.75,976.7 L156.00,969.6 L156.25,975.7 L156.50,987.8 L156.75,976.3 L157.00,968.0 L157.25,978.1 L157.50,977.4 L157.75,984.5 L158.00,966.0 L158.25,969.7 L158.50,976.3 L158.75,965.5 L159.00,986.0 L159.25,962.5 L159.50,971.8 L159.75,967.2 L160.00,973.7 L160.25,984.9 L160.50,983.7 L160.75,986.5 L161.00,984.3 L161.25,964.8 L161.50,982.6 L161.75,966.8 L162.00,977.2 L162.25,978.3 L162.50,977.4 L162.75,985.5 L163.00,976.0 L163.25,995.4 L163.50,987.1 L163.75,991.8 L164.00,989.0 L164.25,990.3 L164.50,983.6 L164.75,999.0 L165.00,976.7 L165.25,988.4 L165.50,985.3 L165.75,984.0 L166.00,988.4 L166.25,980.8 L166.50,993.3 L166.75,993.1 L167.00,988.3 L167.25,993.5 L167.50,980.5 L167.75,975.1 L168.00,984.7 L168.25,987.6 L168.50,1008.5 L168.75,988.4 L169.00,998.3 L169.25,997.2 L169.50,1007.1 L169.75,992.4 L170.00,996.8 L170.25,990.7 L170.50,986.0 L170.75,985.2 L171.00,987.2 L171.25,1004.1 L171.50,995.7 L171.75,992.7 L172.00,994.2 L172.25,990.0 L172.50,994.2 L172.75,994.4 L173.00,999.8 L173.25,1001.9 L173.50,983.0 L173.75,997.2 L174.00,1006.0 L174.25,988.1 L174.50,994.1 L174.75,997.4 L175.00,1004.5 L175.25,1000.9 L175.50,994.9 L175.75,1000.5 L176.00,1004.7 L176.25,1000.0 L176.50,1011.1 L176.75,1000.5 L177.00,989.6 L177.25,991.7 L177.50,996.7 L177.75,996.3 L178.00,1002.7 L178.25,1000.9 L178.50,1011.2 L178.75,1004.6 L179.00,1009.8 L179.25,993.1 L179.50,995.8 L179.75,1004.3 L180.00,1000.0 L180.25,1004.2 L180.50,1001.6 L180.75,995.2 L181.00,1012.9 L181.25,1008.9 L181.50,988.9 L181.75,996.1 L182.00,1001.2 L182.25,1006.3 L182.50,1000.9 L182.75,991.5 L183.00,1008.2 L183.25,1000.7 L183.50,1011.5 L183.75,1005.1 L184.00,1010.6 L184.25,1009.6 L184.50,1010.2 L184.75,1000.1 L185.00,1011.9 L185.25,1006.0 L185.50,995.3 L185.75,1002.0 L186.00,1002.7 L186.25,1009.0 L186.50,1010.9 L186.75,997.6 L187.00,1011.7 L187.25,1006.0 L187.50,998.8 L187.75,1013.2 L188.00,1001.5 L188.25,998.4 L188.50,1013.3 L188.75,1014.6 L189.00,1003.1 L189.25,1016.2 L189.50,1016.0 L189.75,1004.9 L190.00,1024.0 L190.25,1008.8 L190.50,1011.2 L190.75,991.9 L191.00,1014.7 L191.25,1005.6 L191.50,1013.7 L191.75,997.8 L192.00,1019.5 L192.25,1021.9 L192.50,1025.4 L192.75,989.3 L193.00,1016.0 L193.25,1014.3 L193.50,989.2 L193.75,1006.5 L194.00,1011.4 L194.25,1022.8 L194.50,1006.0 L194.75,1013.8 L195.00,1011.8 L195.25,1015.0 L195.50,1009.3 L195.75,1018.9 L196.00,1019.5 L196.25,1002.1 L196.50,1020.7 L196.75,1006.7 L197.00,1010.2 L197.25,1020.7 L197.50,1013.0 L197.75,1016.6 L198.00,1018.2 L198.25,1016.8 L198.50,1008.3 L198.75,1005.2 L199.00,1017.4 L199.25,1018.0 L199.50,1015.0 L199.75,1010.9 L200.00,1018.8 L200.25,1012.1 L200.50,1002.1 L200.75,1014.5 L201.00,1016.1 L201.25,1018.2 L201.50,1005.7 L201.75,1006.8 L202.00,1014.9 L202.25,1009.0 L202.50,1011.9 L202.75,1019.4 L203.00,1015.3 L203.25,1026.1 L203.50,1014.6 L203.75,1025.2 L204.00,1020.4 L204.25,1031.5 L204.50,1012.6 L204.75,1011.8 L205.00,1022.2 L205.25,1008.6 L205.50,1009.0 L205.75,1014.4 L206.00,1015.3 L206.25,1002.0 L206.50,1014.4 L206.75,1010.2 L207.00,1012.3 L207.25,1013.8 L207.50,1011.0 L207.75,1020.4 L208.00,1016.0 L208.25,1010.9 L208.50,1012.9 L208.75,1020.0 L209.00,1018.1 L209.25,1021.6 L209.50,1011.1 L209.75,1013.1 L210.00,1027.1 L210.25,1011.7 L210.50,1024.5 L210.75,1018.2 L211.00,1008.7 L211.25,1001.4 L211.50,1016.5 L211.75,1006.4 L212.00,1006.3 L212.25,998.6 L212.50,1020.3 L212.75,1012.2 L213.00,1011.5 L213.25,1014.2 L213.50,1013.0 L213.75,1011.8 L214.00,1014.9 L214.25,1008.9 L214.50,991.7 L214.75,1016.3 L215.00,1013.9 L215.25,1010.9 L215.50,1022.5 L215.75,1000.1 L216.00,988.9 L216.25,1021.4 L216.50,1013.3 L216.75,997.9 L217.00,1007.0 L217.25,1014.5 L217.50,1000.8 L217.75,1013.8 L218.00,1025.3 L218.25,1019.8 L218.50,1009.1 L218.75,1011.6 L219.00,1002.0 L219.25,1009.9 L219.50,1006.3 L219.75,1001.2 L220.00,998.5 L220.25,1022.7 L220.50,1008.8 L220.75,1000.4 L221.00,1004.7 L221.25,1018.8 L221.50,1019.6 L221.75,1002.8 L222.00,1008.6 L222.25,1013.6 L222.50,1004.3 L222.75,997.9 L223.00,999.2 L223.25,1006.4 L223.50,1000.4 L223.75,996.3 L224.00,1004.0 L224.25,1012.5 L224.50,1010.5 L224.75,1003.5 L225.00,1019.2 L225.25,998.9 L225.50,1004.0 L225.75,994.2 L226.00,1009.9 L226.25,1003.0 L226.50,991.1 L226.75,997.2 L227.00,1016.5 L227.25,1008.3 L227.50,1003.5 L227.75,1008.8 L228.00,990.2 L228.25,995.7 L228.50,991.7 L228.75,995.2 L229.00,998.2 L229.25,1004.7 L229.50,1008.0 L229.75,1007.5 L230.00,1019.9 L230.25,996.0 L230.50,999.2 L230.75,1002.9 L231.00,992.7 L231.25,996.4 L231.50,1001.3 L231.75,991.4 L232.00,1001.2 L232.25,1006.6 L232.50,988.9 L232.75,979.9 L233.00,997.3 L233.25,988.7 L233.50,997.5 L233.75,992.6 L234.00,998.0 L234.25,1003.9 L234.50,1001.4 L234.75,992.4 L235.00,986.1 L235.25,976.1 L235.50,978.2 L235.75,988.2 L236.00,994.6 L236.25,988.6 L236.50,988.9 L236.75,981.2 L237.00,980.5 L237.25,979.7 L237.50,996.9 L237.75,977.2 L238.00,996.7 L238.25,984.6 L238.50,995.0 L238.75,992.5 L239.00,996.0 L239.25,998.9 L239.50,983.8 L239.75,982.0 L240.00,985.6 L240.25,982.7 L240.50,992.9 L240.75,986.7 L241.00,987.2 L241.25,989.7 L241.50,982.6 L241.75,993.8 L242.00,971.4 L242.25,986.3 L242.50,987.6 L242.75,977.3 L243.00,977.0 L243.25,988.0 L243.50,977.8 L243.75,964.7 L244.00,967.7 L244.25,983.9 L244.50,968.4 L244.75,983.3 L245.00,982.1 L245.25,968.8 L245.50,972.6 L245.75,960.5 L246.00,961.8 L246.25,957.6 L246.50,965.1 L246.75,949.1 L247.00,955.4 L247.25,954.5 L247.50,955.7 L247.75,933.6 L248.00,933.6 L248.25,937.9 L248.50,940.2 L248.75,940.2 L249.00,937.9 L249.25,948.7 L249.50,935.8 L249.75,932.4 L250.00,921.4 L250.25,927.9 L250.50,924.2 L250.75,921.0 L251.00,912.0 L251.25,914.3 L251.50,917.8 L251.75,897.3 L252.00,883.8 L252.25,902.3 L252.50,897.2 L252.75,884.9 L253.00,877.5 L253.25,894.9 L253.50,863.9 L253.75,850.7 L254.00,848.2 L254.25,847.0 L254.50,829.8 L254.75,822.3 L255.00,817.9 L255.25,802.6 L255.50,796.7 L255.75,785.2 L256.00,767.3 L256.25,765.3 L256.50,745.6 L256.75,750.7 L257.00,726.4 L257.25,721.2 L257.50,699.2 L257.75,699.3 L258.00,683.4 L258.25,694.3 L258.50,672.9 L258.75,668.8 L259.00,643.3 L259.25,639.0 L259.50,639.3 L259.75,623.3 L260.00,635.3 L260.25,617.8 L260.50,616.6 L260.75,613.2 L261.00,605.9 L261.25,609.7 L261.50,596.7 L261.75,603.0 L262.00,608.7 L262.25,601.9 L262.50,602.6 L262.75,601.4 L263.00,607.3 L263.25,615.7 L263.50,613.4 L263.75,608.0 L264.00,627.5 L264.25,631.7 L264.50,643.3 L264.75,647.6 L265.00,667.0 L265.25,654.9 L265.50,665.4 L265.75,686.6 L266.00,683.7 L266.25,703.4 L266.50,710.9 L266.75,706.6 L267.00,736.3 L267.25,751.9 L267.50,753.7 L267.75,752.3 L268.00,778.8 L268.25,775.6 L268.50,792.6 L268.75,806.6 L269.00,807.6 L269.25,810.4 L269.50,831.2 L269.75,840.8 L270.00,843.4 L270.25,852.1 L270.50,871.0 L270.75,872.1 L271.00,876.0 L271.25,881.1 L271.50,892.2 L271.75,896.4 L272.00,898.5 L272.25,893.2 L272.50,904.2 L272.75,905.8 L273.00,914.4 L273.25,925.7 L273.50,927.4 L273.75,928.4 L274.00,927.6 L274.25,927.4 L274.50,935.2 L274.75,932.1 L275.00,935.9 L275.25,935.0 L275.50,943.4 L275.75,945.9 L276.00,962.4 L276.25,955.4 L276.50,951.0 L276.75,961.7 L277.00,954.8 L277.25,967.8 L277.50,968.2 L277.75,985.7 L278.00,958.6 L278.25,967.9 L278.50,969.4 L278.75,974.2 L279.00,978.9 L279.25,968.2 L279.50,971.6 L279.75,980.5 L280.00,986.8 L280.25,972.9 L280.50,971.1 L280.75,991.9 L281.00,990.9 L281.25,993.8 L281.50,979.9 L281.75,986.5 L282.00,990.6 L282.25,993.1 L282.50,990.0 L282.75,991.4 L283.00,1000.0 L283.25,990.4 L283.50,990.4 L283.75,992.1 L284.00,992.4 L284.25,998.0 L284.50,996.4 L284.75,995.6 L285.00,1010.0 L285.25,1002.9 L285.50,999.3 L285.75,1011.9 L286.00,999.8 L286.25,1004.8 L286.50,1005.2 L286.75,1002.8 L287.00,1005.3 L287.25,1009.7 L287.50,999.8 L287.75,1008.3 L288.00,1013.9 L288.25,1015.0 L288.50,1016.0 L288.75,1031.5 L289.00,1020.2 L289.25,1015.1 L289.50,1015.9 L289.75,1017.3 L290.00,1020.9 L290.25,1016.0 L290.50,1029.3 L290.75,1011.0 L291.00,1023.8 L291.25,1023.3 L291.50,1011.8 L291.75,1024.9 L292.00,1024.7 L292.25,1016.5 L292.50,1037.9 L292.75,1026.7 L293.00,1019.6 L293.25,1018.8 L293.50,1017.1 L293.75,1024.5 L294.00,1023.3 L294.25,1013.0 L294.50,1015.8 L294.75,1018.3 L295.00,1020.6 L295.25,1021.0 L295.50,1018.9 L295.75,1028.3 L296.00,1030.5 L296.25,1024.2 L296.50,1008.0 L296.75,1022.5 L297.00,1027.6 L297.25,1022.9 L297.50,1025.3 L297.75,1024.0 L298.00,1012.5 L298.25,1005.0 L298.50,1027.3 L298.75,1019.0 L299.00,1025.4 L299.25,1020.1 L299.50,1020.9 L299.75,1031.6 L300.00,1013.1 L300.25,1021.4 L300.50,1013.4 L300.75,1021.5 L301.00,1024.1 L301.25,1025.1 L301.50,1021.3 L301.75,1010.1 L302.00,1021.5 L302.25,1025.8 L302.50,1026.2 L302.75,1034.0 L303.00,1022.4 L303.25,1010.7 L303.50,1013.8 L303.75,1017.7 L304.00,1024.0 L304.25,1007.9 L304.50,1022.0 L304.75,1019.5 L305.00,1008.1 L305.25,1018.0 L305.50,1007.6 L305.75,1012.4 L306.00,1009.6 L306.25,1012.7 L306.50,1001.8 L306.75,1013.0 L307.00,992.8 L307.25,1004.3 L307.50,1002.1 L307.75,1016.2 L308.00,1007.7 L308.25,999.2 L308.50,995.1 L308.75,1000.5 L309.00,994.6 L309.25,1013.9 L309.50,977.1 L309.75,996.2 L310.00,977.2 L310.25,1001.1 L310.50,987.1 L310.75,1003.4 L311.00,987.3 L311.25,998.1 L311.50,991.1 L311.75,997.3 L312.00,988.2 L312.25,966.1 L312.50,981.2 L312.75,974.4 L313.00,991.2 L313.25,987.3 L313.50,982.3 L313.75,984.3 L314.00,981.1 L314.25,973.9 L314.50,989.7 L314.75,974.7 L315.00,968.5 L315.25,955.9 L315.50,958.0 L315.75,958.4 L316.00,952.7 L316.25,946.1 L316.50,944.5 L316.75,932.2 L317.00,935.5 L317.25,919.9 L317.50,920.3 L317.75,916.8 L318.00,924.1 L318.25,917.6 L318.50,911.2 L318.75,899.3 L319.00,902.0 L319.25,908.4 L319.50,910.0 L319.75,889.6 L320.00,896.7 L320.25,900.7 L320.50,903.1 L320.75,901.7 L321.00,907.9 L321.25,894.6 L321.50,918.2 L321.75,901.3 L322.00,912.6 L322.25,918.8 L322.50,926.6 L322.75,928.0 L323.00,931.3 L323.25,937.8 L323.50,931.3 L323.75,941.6 L324.00,951.1 L324.25,938.5 L324.50,937.8 L324.75,944.4 L325.00,965.5 L325.25,967.9 L325.50,960.0 L325.75,967.7 L326.00,972.6 L326.25,979.7 L326.50,961.6 L326.75,973.6 L327.00,977.9 L327.25,984.1 L327.50,984.4 L327.75,983.4 L328.00,989.6 L328.25,970.8 L328.50,1012.9 L328.75,998.4 L329.00,1000.5 L329.25,991.0 L329.50,1000.3 L329.75,1013.6 L330.00,1013.5 L330.25,1002.6 L330.50,994.8 L330.75,1006.5 L331.00,1004.9 L331.25,1014.9 L331.50,1001.4 L331.75,1011.2 L332.00,1016.4 L332.25,1013.2 L332.50,1026.2 L332.75,1012.6 L333.00,1014.0 L333.25,1022.4 L333.50,1033.0 L333.75,1027.0 L334.00,1026.9 L334.25,1038.9 L334.50,1036.7 L334.75,1033.1 L335.00,1039.5 L335.25,1038.5 L335.50,1046.1 L335.75,1044.4 L336.00,1039.2 L336.25,1043.0 L336.50,1045.1 L336.75,1052.2 L337.00,1053.8 L337.25,1046.6 L337.50,1052.6 L337.75,1057.6 L338.00,1064.6 L338.25,1059.8 L338.50,1073.3 L338.75,1060.6 L339.00,1066.8 L339.25,1060.2 L339.50,1056.4 L339.75,1065.1 L340.00,1068.6 L340.25,1068.1 L340.50,1067.4 L340.75,1064.5 L341.00,1061.5 L341.25,1065.8 L341.50,1071.8 L341.75,1075.8 L342.00,1045.8 L342.25,1074.3 L342.50,1078.2 L342.75,1079.9 L343.00,1074.0 L343.25,1076.5 L343.50,1068.9 L343.75,1071.9 L344.00,1076.7 L344.25,1065.4 L344.50,1067.9 L344.75,1075.4 L345.00,1064.7 L345.25,1075.0 L345.50,1064.3 L345.75,1076.7 L346.00,1075.8 L346.25,1071.8 L346.50,1069.4 L346.75,1072.8 L347.00,1060.6 L347.25,1074.1 L347.50,1078.1 L347.75,1086.1 L348.00,1074.1 L348.25,1076.7 L348.50,1088.2 L348.75,1090.9 L349.00,1075.1 L349.25,1086.4 L349.50,1087.5 L349.75,1083.0 L350.00,1072.4 L350.25,1072.9 L350.50,1084.0 L350.75,1096.8 L351.00,1078.9 L351.25,1091.7 L351.50,1094.2 L351.75,1071.8 L352.00,1076.7 L352.25,1092.0 L352.50,1088.3 L352.75,1085.4 L353.00,1081.6 L353.25,1086.4 L353.50,1077.4 L353.75,1100.2 L354.00,1074.0 L354.25,1069.5 L354.50,1083.7 L354.75,1093.2 L355.00,1079.4 L355.25,1082.7 L355.50,1075.9 L355.75,1082.9 L356.00,1076.2 L356.25,1076.5 L356.50,1073.2 L356.75,1080.0 L357.00,1097.5 L357.25,1083.8 L357.50,1085.8 L357.75,1100.6 L358.00,1080.1 L358.25,1077.6 L358.50,1088.7 L358.75,1076.2 L359.00,1087.6 L359.25,1093.6 L359.50,1077.6 L359.75,1081.8 L360.00,1097.9 L360.25,1078.1 L360.50,1081.0 L360.75,1087.7 L361.00,1083.8 L361.25,1080.1 L361.50,1097.9 L361.75,1082.3 L362.00,1089.0 L362.25,1083.7 L362.50,1085.1 L362.75,1077.0 L363.00,1093.7 L363.25,1084.0 L363.50,1096.4 L363.75,1078.9 L364.00,1083.9 L364.25,1091.0 L364.50,1088.4 L364.75,1083.0 L365.00,1086.8 L365.25,1078.5 L365.50,1088.4 L365.75,1069.0 L366.00,1089.4 L366.25,1098.1 L366.50,1094.8 L366.75,1094.6 L367.00,1085.5 L367.25,1092.2 L367.50,1085.8 L367.75,1088.2 L368.00,1088.2 L368.25,1064.7 L368.50,1095.8 L368.75,1092.5 L369.00,1095.3 L369.25,1082.5 L369.50,1094.4 L369.75,1093.0 L370.00,1073.5 L370.25,1076.9 L370.50,1090.1 L370.75,1085.0 L371.00,1089.8 L371.25,1085.4 L371.50,1100.9 L371.75,1076.5 L372.00,1080.4 L372.25,1083.3 L372.50,1080.6 L372.75,1086.3 L373.00,1090.4 L373.25,1081.0 L373.50,1093.4 L373.75,1100.3 L374.00,1098.8 L374.25,1105.5 L374.50,1099.3 L374.75,1091.0 L375.00,1104.2 L375.25,1096.5 L375.50,1105.0 L375.75,1090.2 L376.00,1076.5 L376.25,1083.3 L376.50,1093.1 L376.75,1095.9 L377.00,1090.5 L377.25,1099.3 L377.50,1083.9 L377.75,1087.2 L378.00,1099.5 L378.25,1092.8 L378.50,1093.2 L378.75,1102.8 L379.00,1100.6 L379.25,1087.0 L379.50,1094.3 L379.75,1080.6 L380.00,1092.9 L380.25,1095.9 L380.50,1080.6 L380.75,1104.5 L381.00,1107.7 L381.25,1097.0 L381.50,1100.1 L381.75,1104.4 L382.00,1092.3 L382.25,1101.2 L382.50,1096.5 L382.75,1082.8 L383.00,1087.4 L383.25,1089.8 L383.50,1101.7 L383.75,1094.8 L384.00,1101.2 L384.25,1090.8 L384.50,1085.0 L384.75,1109.2 L385.00,1114.0 L385.25,1097.2 L385.50,1093.0 L385.75,1103.1 L386.00,1086.5 L386.25,1093.1 L386.50,1084.3 L386.75,1098.1 L387.00,1096.5 L387.25,1091.8 L387.50,1090.1 L387.75,1083.8 L388.00,1088.9 L388.25,1103.7 L388.50,1092.3 L388.75,1104.0 L389.00,1088.7 L389.25,1094.4 L389.50,1091.6 L389.75,1093.1 L390.00,1100.6 L390.25,1080.2 L390.50,1100.4 L390.75,1100.0 L391.00,1095.0 L391.25,1095.6 L391.50,1093.4 L391.75,1100.0 L392.00,1095.4 L392.25,1088.9 L392.50,1096.1 L392.75,1101.9 L393.00,1097.6 L393.25,1095.2 L393.50,1096.4 L393.75,1091.4 L394.00,1091.6 L394.25,1081.3 L394.50,1093.6 L394.75,1102.0 L395.00,1092.0 L395.25,1088.3 L395.50,1101.3 L395.75,1095.9 L396.00,1095.8 L396.25,1098.1 L396.50,1099.7 L396.75,1094.3 L397.00,1088.6 L397.25,1107.1 L397.50,1095.0 L397.75,1089.0 L398.00,1095.8 L398.25,1103.0 L398.50,1084.2 L398.75,1103.8 L399.00,1093.3 L399.25,1108.6 L399.50,1099.0 L399.75,1093.4 L400.00,1103.2 L400.25,1103.2 L400.50,1091.5 L400.75,1095.7 L401.00,1090.3 L401.25,1100.5 L401.50,1083.8 L401.75,1092.5 L402.00,1078.5 L402.25,1097.9 L402.50,1077.7 L402.75,1086.0 L403.00,1095.4 L403.25,1090.9 L403.50,1090.2 L403.75,1086.4 L404.00,1089.9 L404.25,1080.7 L404.50,1095.5 L404.75,1098.9 L405.00,1098.5 L405.25,1092.7 L405.50,1101.6 L405.75,1096.1 L406.00,1099.6 L406.25,1095.4 L406.50,1092.8 L406.75,1087.0 L407.00,1073.5 L407.25,1096.8 L407.50,1091.2 L407.75,1106.1 L408.00,1077.5 L408.25,1097.6 L408.50,1084.6 L408.75,1091.2 L409.00,1084.7 L409.25,1093.3 L409.50,1090.4 L409.75,1096.7 L410.00,1091.2 L410.25,1093.4 L410.50,1098.8 L410.75,1093.1 L411.00,1088.2 L411.25,1097.8 L411.50,1087.8 L411.75,1091.3 L412.00,1085.7 L412.25,1083.0 L412.50,1065.9 L412.75,1091.8 L413.00,1078.0 L413.25,1090.9 L413.50,1097.9 L413.75,1074.9 L414.00,1089.8 L414.25,1082.0 L414.50,1085.1 L414.75,1072.4 L415.00,1080.2 L415.25,1080.2 L415.50,1088.3 L415.75,1092.1 L416.00,1077.2 L416.25,1070.3 L416.50,1086.5 L416.75,1067.8 L417.00,1066.1 L417.25,1065.5 L417.50,1067.0 L417.75,1068.2 L418.00,1059.4 L418.25,1064.1 L418.50,1080.6 L418.75,1081.3 L419.00,1076.0 L419.25,1077.6 L419.50,1076.5 L419.75,1087.2 L420.00,1077.3 L420.25,1082.9 L420.50,1079.7 L420.75,1079.4 L421.00,1084.9 L421.25,1085.5 L421.50,1082.0 L421.75,1086.3 L422.00,1087.9 L422.25,1084.5 L422.50,1083.7 L422.75,1087.8 L423.00,1094.1 L423.25,1097.3 L423.50,1091.1 L423.75,1088.1 L424.00,1090.1 L424.25,1104.3 L424.50,1097.4 L424.75,1084.4 L425.00,1091.1 L425.25,1088.0 L425.50,1089.4 L425.75,1080.2 L426.00,1092.7 L426.25,1083.1 L426.50,1088.8 L426.75,1104.0 L427.00,1100.5 L427.25,1087.4 L427.50,1086.5 L427.75,1087.5 L428.00,1080.8 L428.25,1087.4 L428.50,1092.7 L428.75,1087.3 L429.00,1100.4 L429.25,1094.8 L429.50,1091.5 L429.75,1107.9 L430.00,1100.6 L430.25,1096.2 L430.50,1109.1 L430.75,1105.4 L431.00,1091.1 L431.25,1098.5 L431.50,1093.2 L431.75,1086.2 L432.00,1110.1 L432.25,1107.3 L432.50,1087.6 L432.75,1100.3 L433.00,1085.1 L433.25,1104.6 L433.50,1096.6 L433.75,1095.0 L434.00,1106.1 L434.25,1097.2 L434.50,1095.3 L434.75,1103.7 L435.00,1095.1 L435.25,1103.5 L435.50,1097.3 L435.75,1103.3 L436.00,1101.9 L436.25,1103.1 L436.50,1090.2 L436.75,1111.0 L437.00,1096.3 L437.25,1110.2 L437.50,1093.3 L437.75,1095.6 L438.00,1095.7 L438.25,1105.9 L438.50,1094.6 L438.75,1100.7 L439.00,1086.5 L439.25,1094.3 L439.50,1099.4 L439.75,1097.0 L440.00,1084.3 L440.25,1101.4 L440.50,1090.9 L440.75,1111.8 L441.00,1096.5 L441.25,1114.2 L441.50,1102.7 L441.75,1101.3 L442.00,1094.5 L442.25,1097.1 L442.50,1101.3 L442.75,1084.0 L443.00,1105.2 L443.25,1089.6 L443.50,1096.2 L443.75,1078.3 L444.00,1101.4 L444.25,1103.5 L444.50,1100.1 L444.75,1100.4 L445.00,1095.4 L445.25,1099.2 L445.50,1106.9 L445.75,1095.1 L446.00,1101.8 L446.25,1103.4 L446.50,1096.4 L446.75,1099.9 L447.00,1099.7 L447.25,1094.6 L447.50,1115.7 L447.75,1095.0 L448.00,1110.5 L448.25,1105.8 L448.50,1083.3 L448.75,1099.8 L449.00,1105.4 L449.25,1103.8 L449.50,1091.3 L449.75,1099.7 L450.00,1089.1 L450.25,1090.1 L450.50,1095.9 L450.75,1098.9 L451.00,1109.1 L451.25,1100.0 L451.50,1105.0 L451.75,1088.5 L452.00,1088.7 L452.25,1093.5 L452.50,1109.6 L452.75,1087.1 L453.00,1085.2 L453.25,1096.0 L453.50,1105.1 L453.75,1084.5 L454.00,1094.4 L454.25,1086.2 L454.50,1106.5 L454.75,1100.9 L455.00,1097.7 L455.25,1095.2 L455.50,1093.7 L455.75,1096.3 L456.00,1090.4 L456.25,1088.5 L456.50,1086.7 L456.75,1094.8 L457.00,1088.7 L457.25,1100.7 L457.50,1078.9 L457.75,1098.2 L458.00,1097.8 L458.25,1102.6 L458.50,1091.7 L458.75,1082.5 L459.00,1086.5 L459.25,1101.3 L459.50,1090.7 L459.75,1089.7 L460.00,1088.3 L460.25,1091.9 L460.50,1090.6 L460.75,1080.7 L461.00,1087.5 L461.25,1099.1 L461.50,1102.1 L461.75,1090.5 L462.00,1087.4 L462.25,1100.9 L462.50,1089.6 L462.75,1082.1 L463.00,1089.6 L463.25,1095.4 L463.50,1101.5 L463.75,1086.4 L464.00,1093.7 L464.25,1087.2 L464.50,1097.7 L464.75,1091.0 L465.00,1090.9 L465.25,1081.6 L465.50,1086.2 L465.75,1085.9 L466.00,1061.8 L466.25,1094.1 L466.50,1087.5 L466.75,1085.8 L467.00,1084.4 L467.25,1087.0 L467.50,1088.3 L467.75,1076.8 L468.00,1086.9 L468.25,1086.6 L468.50,1085.7 L468.75,1074.3 L469.00,1083.9 L469.25,1075.2 L469.50,1086.8 L469.75,1093.6 L470.00,1090.0 L470.25,1080.8 L470.50,1079.0 L470.75,1078.5 L471.00,1084.9 L471.25,1077.1 L471.50,1077.7 L471.75,1062.9 L472.00,1074.7 L472.25,1074.8 L472.50,1076.2 L472.75,1088.6 L473.00,1069.4 L473.25,1069.2 L473.50,1082.9 L473.75,1070.9 L474.00,1076.5 L474.25,1078.5 L474.50,1076.9 L474.75,1070.7 L475.00,1082.6 L475.25,1086.3 L475.50,1067.5 L475.75,1072.3 L476.00,1080.5 L476.25,1071.6 L476.50,1065.1 L476.75,1068.6 L477.00,1077.1 L477.25,1063.0 L477.50,1071.4 L477.75,1071.5 L478.00,1063.1 L478.25,1071.2 L478.50,1071.0 L478.75,1072.6 L479.00,1071.2 L479.25,1052.6 L479.50,1069.0 L479.75,1065.8 L480.00,1067.7 L480.25,1053.4 L480.50,1065.1 L480.75,1060.2 L481.00,1048.0 L481.25,1064.7 L481.50,1048.7 L481.75,1045.9 L482.00,1055.1 L482.25,1046.7 L482.50,1052.7 L482.75,1047.2 L483.00,1049.9 L483.25,1052.6 L483.50,1045.2 L483.75,1050.5 L484.00,1049.1 L484.25,1035.6 L484.50,1046.6 L484.75,1043.5 L485.00,1038.6 L485.25,1044.3 L485.50,1046.8 L485.75,1038.8 L486.00,1021.1 L486.25,1033.5 L486.50,1027.7 L486.75,1025.1 L487.00,1028.0 L487.25,1021.4 L487.50,1034.0 L487.75,1022.4 L488.00,1018.8 L488.25,1022.6 L488.50,1020.9 L488.75,1021.8 L489.00,1015.9 L489.25,1009.1 L489.50,1008.4 L489.75,989.6 L490.00,992.5 L490.25,1008.5 L490.50,996.3 L490.75,1009.6 L491.00,1007.1 L491.25,982.5 L491.50,991.3 L491.75,1007.5 L492.00,978.2 L492.25,984.2 L492.50,977.0 L492.75,974.2 L493.00,971.2 L493.25,970.3 L493.50,973.2 L493.75,958.9 L494.00,965.6 L494.25,953.8 L494.50,959.9 L494.75,955.4 L495.00,944.5 L495.25,948.0 L495.50,938.3 L495.75,933.9 L496.00,944.8 L496.25,919.0 L496.50,932.1 L496.75,928.9 L497.00,914.9 L497.25,922.6 L497.50,916.5 L497.75,895.7 L498.00,904.0 L498.25,898.6 L498.50,884.9 L498.75,889.4 L499.00,885.6 L499.25,869.9 L499.50,855.6 L499.75,868.0 L500.00,854.8 L500.25,842.9 L500.50,847.8 L500.75,828.7 L501.00,839.0 L501.25,848.0 L501.50,812.1 L501.75,832.2 L502.00,818.3 L502.25,818.4 L502.50,811.3 L502.75,819.4 L503.00,811.8 L503.25,803.6 L503.50,797.4 L503.75,801.8 L504.00,811.6 L504.25,793.1 L504.50,804.0 L504.75,802.8 L505.00,785.6 L505.25,808.6 L505.50,801.6 L505.75,820.3 L506.00,819.5 L506.25,808.5 L506.50,813.4 L506.75,811.9 L507.00,814.4 L507.25,836.0 L507.50,834.5 L507.75,839.8 L508.00,848.2 L508.25,861.4 L508.50,870.5 L508.75,870.9 L509.00,876.7 L509.25,886.2 L509.50,907.9 L509.75,884.7 L510.00,898.5 L510.25,917.2 L510.50,921.3 L510.75,935.4 L511.00,941.7 L511.25,952.0 L511.50,936.4 L511.75,951.0 L512.00,948.4 L512.25,960.6 L512.50,958.1 L512.75,966.5 L513.00,957.9 L513.25,967.8 L513.50,966.0 L513.75,971.0 L514.00,972.6 L514.25,971.4 L514.50,990.1 L514.75,986.9 L515.00,995.5 L515.25,982.7 L515.50,978.2 L515.75,990.1 L516.00,996.0 L516.25,1004.9 L516.50,1008.8 L516.75,1011.7 L517.00,1015.5 L517.25,1010.9 L517.50,1007.5 L517.75,1001.9 L518.00,1013.2 L518.25,1005.0 L518.50,1003.2 L518.75,1013.7 L519.00,1011.3 L519.25,1016.2 L519.50,1004.9 L519.75,1019.0 L520.00,1013.3 L520.25,1009.7 L520.50,1005.7 L520.75,1003.8 L521.00,1002.1 L521.25,1023.2 L521.50,1003.6 L521.75,1020.0 L522.00,1015.2 L522.25,1014.7 L522.50,1017.5 L522.75,1022.6 L523.00,1032.3 L523.25,1032.3 L523.50,1030.7 L523.75,1023.1 L524.00,1022.7 L524.25,1052.0 L524.50,1033.3 L524.75,1031.5 L525.00,1053.5 L525.25,1036.3 L525.50,1055.0 L525.75,1058.7 L526.00,1055.9 L526.25,1063.5 L526.50,1048.5 L526.75,1051.9 L527.00,1061.6 L527.25,1065.1 L527.50,1066.3 L527.75,1072.1 L528.00,1064.7 L528.25,1055.9 L528.50,1075.9 L528.75,1072.5 L529.00,1081.4 L529.25,1091.9 L529.50,1078.4 L529.75,1083.2 L530.00,1073.4 L530.25,1087.7 L530.50,1084.5 L530.75,1084.8 L531.00,1090.7 L531.25,1076.5 L531.50,1089.8 L531.75,1089.9 L532.00,1099.0 L532.25,1074.8 L532.50,1088.1 L532.75,1105.6 L533.00,1087.2 L533.25,1087.6 L533.50,1104.6 L533.75,1110.5 L534.00,1093.5 L534.25,1088.0 L534.50,1089.5 L534.75,1091.5 L535.00,1088.7 L535.25,1089.5 L535.50,1097.3 L535.75,1096.8 L536.00,1100.6 L536.25,1097.7 L536.50,1089.1 L536.75,1103.9 L537.00,1100.7 L537.25,1095.1 L537.50,1097.8 L537.75,1102.5 L538.00,1101.1 L538.25,1100.0 L538.50,1106.9 L538.75,1109.5 L539.00,1099.7 L539.25,1102.1 L539.50,1094.4 L539.75,1101.6 L540.00,1106.7 L540.25,1109.8 L540.50,1104.9 L540.75,1103.3 L541.00,1098.9 L541.25,1106.0 L541.50,1096.7 L541.75,1105.9 L542.00,1105.4 L542.25,1098.8 L542.50,1108.1 L542.75,1104.4 L543.00,1110.6 L543.25,1102.9 L543.50,1110.2 L543.75,1118.4 L544.00,1108.4 L544.25,1113.1 L544.50,1102.8 L544.75,1105.1 L545.00,1094.1 L545.25,1107.0 L545.50,1100.0 L545.75,1109.3 L546.00,1093.5 L546.25,1102.5 L546.50,1109.6 L546.75,1112.0 L547.00,1097.1 L547.25,1106.4 L547.50,1128.4 L547.75,1115.4 L548.00,1110.9 L548.25,1089.6 L548.50,1103.1 L548.75,1113.8 L549.00,1111.7 L549.25,1113.4 L549.50,1117.1 L549.75,1110.8 L550.00,1116.4 L550.25,1096.9 L550.50,1128.5 L550.75,1107.9 L551.00,1105.4 L551.25,1121.1 L551.50,1114.5 L551.75,1117.2 L552.00,1105.6 L552.25,1112.2 L552.50,1115.3 L552.75,1101.7 L553.00,1108.5 L553.25,1108.3 L553.50,1108.0 L553.75,1105.0 L554.00,1100.8 L554.25,1113.3 L554.50,1111.9 L554.75,1118.6 L555.00,1109.6 L555.25,1105.2 L555.50,1099.4 L555.75,1110.7 L556.00,1107.8 L556.25,1124.9 L556.50,1126.9 L556.75,1121.7 L557.00,1103.4 L557.25,1099.8 L557.50,1108.4 L557.75,1103.5 L558.00,1120.5 L558.25,1110.9 L558.50,1107.1 L558.75,1109.9 L559.00,1119.2 L559.25,1103.0 L559.50,1113.4 L559.75,1100.0 L560.00,1108.1 L560.25,1104.6 L560.50,1111.7 L560.75,1110.4 L561.00,1117.9 L561.25,1114.0 L561.50,1104.3 L561.75,1098.9 L562.00,1102.4 L562.25,1105.1 L562.50,1106.3 L562.75,1102.2 L563.00,1115.5 L563.25,1114.3 L563.50,1105.2 L563.75,1103.3 L564.00,1105.0 L564.25,1106.2 L564.50,1106.2 L564.75,1094.2 L565.00,1102.7 L565.25,1091.9 L565.50,1105.7 L565.75,1110.2 L566.00,1097.3 L566.25,1106.1 L566.50,1100.1 L566.75,1099.3 L567.00,1118.6 L567.25,1110.5 L567.50,1107.3 L567.75,1100.3 L568.00,1106.3 L568.25,1101.6 L568.50,1106.1 L568.75,1095.9 L569.00,1101.6 L569.25,1099.0 L569.50,1091.2 L569.75,1113.7 L570.00,1107.0 L570.25,1094.8 L570.50,1089.5 L570.75,1094.6 L571.00,1093.4 L571.25,1094.8 L571.50,1087.7 L571.75,1092.4 L572.00,1098.5 L572.25,1100.6 L572.50,1082.4 L572.75,1096.2 L573.00,1088.2 L573.25,1087.0 L573.50,1091.4 L573.75,1087.8 L574.00,1097.0 L574.25,1096.1 L574.50,1087.7 L574.75,1084.4 L575.00,1101.4 L575.25,1101.2 L575.50,1089.6 L575.75,1085.0 L576.00,1093.1 L576.25,1096.0 L576.50,1081.2 L576.75,1098.3 L577.00,1084.0 L577.25,1093.7 L577.50,1082.4 L577.75,1087.5 L578.00,1084.6 L578.25,1089.1 L578.50,1097.4 L578.75,1084.3 L579.00,1089.8 L579.25,1096.9 L579.50,1090.3 L579.75,1109.5 L580.00,1084.2 L580.25,1114.2 L580.50,1091.0 L580.75,1103.5 L581.00,1108.7 L581.25,1101.1 L581.50,1087.2 L581.75,1095.5 L582.00,1098.9 L582.25,1103.0 L582.50,1106.4 L582.75,1107.8 L583.00,1110.7 L583.25,1093.0 L583.50,1107.6 L583.75,1087.6 L584.00,1101.8 L584.25,1092.9 L584.50,1087.7 L584.75,1107.8 L585.00,1100.8 L585.25,1108.3 L585.50,1089.2 L585.75,1091.8 L586.00,1100.1 L586.25,1095.7 L586.50,1101.1 L586.75,1095.7 L587.00,1097.7 L587.25,1091.5 L587.50,1109.3 L587.75,1097.2 L588.00,1090.5 L588.25,1104.1 L588.50,1102.4 L588.75,1100.1 L589.00,1099.9 L589.25,1095.0 L589.50,1096.6 L589.75,1080.8 L590.00,1085.4 L590.25,1087.5 L590.50,1098.5 L590.75,1105.1 L591.00,1094.3 L591.25,1093.1 L591.50,1103.0 L591.75,1091.4 L592.00,1098.5 L592.25,1096.3 L592.50,1082.6 L592.75,1094.2 L593.00,1092.7 L593.25,1082.0 L593.50,1082.1 L593.75,1079.6 L594.00,1098.5 L594.25,1103.3 L594.50,1092.0 L594.75,1097.6 L595.00,1075.0 L595.25,1094.5 L595.50,1097.7 L595.75,1093.8 L596.00,1073.4 L596.25,1087.1 L596.50,1076.6 L596.75,1083.9 L597.00,1069.4 L597.25,1072.5 L597.50,1066.4 L597.75,1072.4 L598.00,1066.3 L598.25,1073.6 L598.50,1069.7 L598.75,1064.8 L599.00,1059.7 L599.25,1056.0 L599.50,1056.6 L599.75,1060.4 L600.00,1054.0 L600.25,1053.4 L600.50,1049.1 L600.75,1047.0 L601.00,1040.7 L601.25,1029.8 L601.50,1046.2 L601.75,1044.1 L602.00,1030.8 L602.25,1050.3 L602.50,1025.3 L602.75,1039.5 L603.00,1031.9 L603.25,1030.3 L603.50,1034.4 L603.75,1030.7 L604.00,1021.8 L604.25,1011.5 L604.50,1008.1 L604.75,1016.4 L605.00,1024.5 L605.25,1017.0 L605.50,1007.8 L605.75,1008.1 L606.00,1008.4 L606.25,1013.7 L606.50,992.7 L606.75,1001.4 L607.00,995.6 L607.25,985.3 L607.50,980.9 L607.75,995.4 L608.00,985.9 L608.25,979.2 L608.50,978.9 L608.75,982.9 L609.00,973.5 L609.25,982.1 L609.50,965.4 L609.75,958.7 L610.00,960.9 L610.25,951.9 L610.50,953.4 L610.75,962.2 L611.00,962.8 L611.25,951.6 L611.50,944.9 L611.75,932.8 L612.00,928.1 L612.25,934.2 L612.50,928.3 L612.75,918.2 L613.00,914.6 L613.25,924.9 L613.50,915.8 L613.75,904.0 L614.00,900.6 L614.25,903.7 L614.50,892.2 L614.75,886.7 L615.00,868.8 L615.25,863.7 L615.50,858.0 L615.75,851.6 L616.00,864.8 L616.25,864.2 L616.50,852.3 L616.75,859.6 L617.00,857.4 L617.25,851.8 L617.50,840.1 L617.75,861.1 L618.00,860.3 L618.25,845.9 L618.50,865.4 L618.75,852.2 L619.00,847.3 L619.25,851.8 L619.50,843.0 L619.75,856.5 L620.00,849.7 L620.25,873.0 L620.50,870.0 L620.75,860.4 L621.00,878.6 L621.25,865.0 L621.50,882.8 L621.75,889.1 L622.00,890.0 L622.25,885.1 L622.50,896.9 L622.75,900.5 L623.00,906.5 L623.25,921.4 L623.50,927.1 L623.75,930.3 L624.00,917.8 L624.25,920.9 L624.50,930.5 L624.75,937.3 L625.00,922.2 L625.25,936.5 L625.50,957.7 L625.75,938.0 L626.00,944.5 L626.25,947.3 L626.50,958.8 L626.75,957.2 L627.00,957.7 L627.25,951.1 L627.50,969.4 L627.75,967.1 L628.00,964.4 L628.25,971.8 L628.50,979.8 L628.75,965.0 L629.00,966.6 L629.25,972.7 L629.50,976.0 L629.75,961.9 L630.00,982.4 L630.25,997.5 L630.50,988.8 L630.75,1001.2 L631.00,974.2 L631.25,997.2 L631.50,1010.8 L631.75,1014.5 L632.00,1001.3 L632.25,1001.3 L632.50,1012.9 L632.75,1003.4 L633.00,1012.4 L633.25,1005.3 L633.50,1021.2 L633.75,1023.3 L634.00,1038.2 L634.25,1031.4 L634.50,1026.5 L634.75,1033.5 L635.00,1027.2 L635.25,1039.8 L635.50,1040.5 L635.75,1047.8 L636.00,1054.1 L636.25,1034.4 L636.50,1054.4 L636.75,1060.1 L637.00,1048.3 L637.25,1074.4 L637.50,1057.6 L637.75,1084.3 L638.00,1074.4 L638.25,1078.4 L638.50,1075.6 L638.75,1083.3 L639.00,1069.9 L639.25,1073.3 L639.50,1065.9 L639.75,1085.6 L640.00,1076.6 L640.25,1087.6 L640.50,1086.3 L640.75,1071.4 L641.00,1086.4 L641.25,1082.5 L641.50,1081.4 L641.75,1082.6 L642.00,1078.0 L642.25,1077.4 L642.50,1084.2 L642.75,1067.6 L643.00,1064.9 L643.25,1067.0 L643.50,1079.2 L643.75,1067.7 L644.00,1083.2 L644.25,1044.3 L644.50,1060.7 L644.75,1061.3 L645.00,1065.3 L645.25,1072.0 L645.50,1059.2 L645.75,1051.6 L646.00,1064.3 L646.25,1068.4 L646.50,1036.1 L646.75,1058.3 L647.00,1054.7 L647.25,1044.7 L647.50,1045.9 L647.75,1050.0 L648.00,1046.4 L648.25,1042.7 L648.50,1034.1 L648.75,1043.3 L649.00,1034.4 L649.25,1038.3 L649.50,1031.5 L649.75,1035.6 L650.00,1038.0 L650.25,1032.3 L650.50,1033.7 L650.75,1016.6 L651.00,1028.7 L651.25,1025.6 L651.50,1017.0 L651.75,1018.8 L652.00,997.3 L652.25,1017.1 L652.50,1011.5 L652.75,995.7 L653.00,1014.8 L653.25,1004.6 L653.50,1010.1 L653.75,1004.9 L654.00,1008.9 L654.25,1004.7 L654.50,1000.8 L654.75,1005.9 L655.00,1008.2 L655.25,985.1 L655.50,1002.9 L655.75,999.1 L656.00,996.2 L656.25,1015.5 L656.50,1014.2 L656.75,1000.4 L657.00,1001.3 L657.25,1017.5 L657.50,1008.5 L657.75,1012.9 L658.00,1002.9 L658.25,1019.2 L658.50,1031.3 L658.75,1022.1 L659.00,1027.4 L659.25,1044.3 L659.50,1040.7 L659.75,1047.7 L660.00,1044.7 L660.25,1052.1 L660.50,1034.1 L660.75,1044.1 L661.00,1041.6 L661.25,1074.2 L661.50,1062.2 L661.75,1062.7 L662.00,1060.7 L662.25,1061.4 L662.50,1050.5 L662.75,1090.9 L663.00,1075.9 L663.25,1079.4 L663.50,1070.7 L663.75,1083.1 L664.00,1088.5 L664.25,1087.2 L664.50,1094.5 L664.75,1085.5 L665.00,1096.2 L665.25,1102.3 L665.50,1101.5 L665.75,1101.8 L666.00,1099.8 L666.25,1094.8 L666.50,1107.9 L666.75,1102.4 L667.00,1099.9 L667.25,1114.3 L667.50,1098.1 L667.75,1107.5 L668.00,1119.1 L668.25,1121.8 L668.50,1113.4 L668.75,1118.0 L669.00,1123.0 L669.25,1119.6 L669.50,1115.6 L669.75,1125.7 L670.00,1124.8 L670.25,1125.3 L670.50,1133.7 L670.75,1128.4 L671.00,1123.3 L671.25,1128.5 L671.50,1142.3 L671.75,1122.6 L672.00,1126.2 L672.25,1122.4 L672.50,1131.3 L672.75,1119.4 L673.00,1132.4 L673.25,1134.9 L673.50,1123.5 L673.75,1123.1 L674.00,1118.5 L674.25,1130.1 L674.50,1121.5 L674.75,1125.3 L675.00,1127.0 L675.25,1125.1 L675.50,1136.6 L675.75,1142.4 L676.00,1114.6 L676.25,1124.5 L676.50,1132.6 L676.75,1122.9 L677.00,1126.9 L677.25,1132.6 L677.50,1141.5 L677.75,1140.0 L678.00,1129.1 L678.25,1132.4 L678.50,1128.8 L678.75,1130.3 L679.00,1122.9 L679.25,1118.6 L679.50,1129.2 L679.75,1139.5 L680.00,1138.0 L680.25,1118.4 L680.50,1131.1 L680.75,1128.0 L681.00,1135.0 L681.25,1124.7 L681.50,1140.0 L681.75,1131.7 L682.00,1137.7 L682.25,1140.1 L682.50,1119.2 L682.75,1132.3 L683.00,1145.4 L683.25,1134.3 L683.50,1142.2 L683.75,1137.7 L684.00,1130.9 L684.25,1136.9 L684.50,1142.9 L684.75,1144.8 L685.00,1146.2 L685.25,1127.2 L685.50,1141.8 L685.75,1125.5 L686.00,1135.0 L686.25,1134.5 L686.50,1141.0 L686.75,1138.8 L687.00,1145.9 L687.25,1132.2 L687.50,1143.2 L687.75,1140.0 L688.00,1137.2 L688.25,1128.4 L688.50,1141.8 L688.75,1140.1 L689.00,1143.8 L689.25,1137.7 L689.50,1136.3 L689.75,1141.2 L690.00,1141.9 L690.25,1143.8 L690.50,1153.0 L690.75,1134.3 L691.00,1154.1 L691.25,1117.1 L691.50,1146.6 L691.75,1133.4 L692.00,1154.7 L692.25,1133.2 L692.50,1147.9 L692.75,1132.7 L693.00,1131.8 L693.25,1146.4 L693.50,1147.0 L693.75,1135.4 L694.00,1158.8 L694.25,1138.5 L694.50,1152.7 L694.75,1133.6 L695.00,1134.1 L695.25,1142.1 L695.50,1133.9 L695.75,1145.0 L696.00,1125.6 L696.25,1143.1 L696.50,1137.7 L696.75,1134.8 L697.00,1143.7 L697.25,1140.6 L697.50,1138.9 L697.75,1148.5 L698.00,1144.7 L698.25,1145.4 L698.50,1152.6 L698.75,1142.2 L699.00,1149.1 L699.25,1139.7 L699.50,1147.5 L699.75,1146.9 L700.00,1139.0 L700.25,1131.8 L700.50,1133.6 L700.75,1136.2 L701.00,1147.4 L701.25,1142.3 L701.50,1141.2 L701.75,1147.0 L702.00,1148.9 L702.25,1154.0 L702.50,1139.1 L702.75,1147.7 L703.00,1149.0 L703.25,1136.6 L703.50,1144.7 L703.75,1137.0 L704.00,1142.2 L704.25,1147.1 L704.50,1131.3 L704.75,1137.5 L705.00,1138.0 L705.25,1144.8 L705.50,1138.6 L705.75,1147.0 L706.00,1137.8 L706.25,1140.4 L706.50,1148.8 L706.75,1146.7 L707.00,1145.5 L707.25,1144.1 L707.50,1151.9 L707.75,1154.7 L708.00,1141.7 L708.25,1139.1 L708.50,1136.8 L708.75,1157.5 L709.00,1138.0 L709.25,1134.8 L709.50,1146.7 L709.75,1152.6 L710.00,1135.5 L710.25,1143.9 L710.50,1134.1 L710.75,1139.7 L711.00,1157.0 L711.25,1146.2 L711.50,1143.0 L711.75,1145.5 L712.00,1147.1 L712.25,1144.2 L712.50,1136.2 L712.75,1136.3 L713.00,1160.1 L713.25,1139.4 L713.50,1154.1 L713.75,1139.8 L714.00,1154.9 L714.25,1150.4 L714.50,1143.7 L714.75,1160.3 L715.00,1138.3 L715.25,1143.6 L715.50,1139.0 L715.75,1139.6 L716.00,1142.7 L716.25,1138.3 L716.50,1143.0 L716.75,1157.3 L717.00,1132.6 L717.25,1136.2 L717.50,1138.5 L717.75,1142.1 L718.00,1153.1 L718.25,1151.0 L718.50,1149.2 L718.75,1147.2 L719.00,1163.5 L719.25,1137.3 L719.50,1137.2 L719.75,1145.6 L720.00,1147.3 L720.25,1144.0 L720.50,1139.5 L720.75,1136.1 L721.00,1143.8 L721.25,1140.6 L721.50,1142.3 L721.75,1137.8 L722.00,1155.9 L722.25,1149.3 L722.50,1159.7 L722.75,1142.1 L723.00,1146.4 L723.25,1144.1 L723.50,1146.1 L723.75,1144.1 L724.00,1144.8 L724.25,1131.3 L724.50,1144.0 L724.75,1151.1 L725.00,1131.5 L725.25,1143.4 L725.50,1150.3 L725.75,1155.4 L726.00,1145.4 L726.25,1149.4 L726.50,1159.0 L726.75,1155.6 L727.00,1142.6 L727.25,1141.5 L727.50,1153.5 L727.75,1147.6 L728.00,1141.9 L728.25,1144.2 L728.50,1148.3 L728.75,1144.4 L729.00,1144.0 L729.25,1144.1 L729.50,1134.7 L729.75,1158.8 L730.00,1154.9 L730.25,1157.1 L730.50,1144.8 L730.75,1146.7 L731.00,1150.0 L731.25,1151.8 L731.50,1132.1 L731.75,1148.3 L732.00,1138.2 L732.25,1145.1 L732.50,1140.7 L732.75,1158.3 L733.00,1149.6 L733.25,1145.3 L733.50,1155.9 L733.75,1145.0 L734.00,1140.1 L734.25,1144.0 L734.50,1142.7 L734.75,1145.7 L735.00,1151.6 L735.25,1144.4 L735.50,1144.8 L735.75,1152.8 L736.00,1147.4 L736.25,1152.3 L736.50,1146.2 L736.75,1135.4 L737.00,1136.8 L737.25,1132.7 L737.50,1153.5 L737.75,1148.1 L738.00,1141.4 L738.25,1137.6 L738.50,1147.6 L738.75,1143.9 L739.00,1147.2 L739.25,1138.5 L739.50,1136.4 L739.75,1156.3 L740.00,1137.5 L740.25,1144.3 L740.50,1154.4 L740.75,1130.7 L741.00,1149.5 L741.25,1144.7 L741.50,1143.1 L741.75,1146.1 L742.00,1135.2 L742.25,1127.4 L742.50,1157.9 L742.75,1141.6 L743.00,1150.3 L743.25,1151.8 L743.50,1145.6 L743.75,1146.7 L744.00,1148.5 L744.25,1154.8 L744.50,1146.7 L744.75,1152.3 L745.00,1140.6 L745.25,1139.5 L745.50,1143.2 L745.75,1145.4 L746.00,1146.3 L746.25,1156.6 L746.50,1148.3 L746.75,1142.4 L747.00,1156.5 L747.25,1144.1 L747.50,1144.2 L747.75,1145.0 L748.00,1138.8 L748.25,1133.0 L748.50,1141.9 L748.75,1138.5 L749.00,1134.2 L749.25,1141.4 L749.50,1138.9 L749.75,1135.8 L750.00,1126.8 L750.25,1138.6 L750.50,1152.7 L750.75,1146.0 L751.00,1147.3 L751.25,1138.8 L751.50,1146.6 L751.75,1133.5 L752.00,1134.8 L752.25,1141.7 L752.50,1127.0 L752.75,1137.7 L753.00,1139.2 L753.25,1149.1 L753.50,1131.1 L753.75,1139.0 L754.00,1130.7 L754.25,1131.1 L754.50,1114.8 L754.75,1127.5 L755.00,1142.6 L755.25,1137.5 L755.50,1134.5 L755.75,1151.2 L756.00,1136.6 L756.25,1123.0 L756.50,1130.3 L756.75,1131.1 L757.00,1143.0 L757.25,1124.1 L757.50,1133.6 L757.75,1137.3 L758.00,1123.8 L758.25,1130.1 L758.50,1114.2 L758.75,1129.6 L759.00,1112.2 L759.25,1125.4 L759.50,1140.8 L759.75,1130.8 L760.00,1127.9 L760.25,1128.4 L760.50,1143.0 L760.75,1130.8 L761.00,1134.2 L761.25,1123.0 L761.50,1122.8 L761.75,1118.0 L762.00,1124.1 L762.25,1120.0 L762.50,1132.2 L762.75,1129.4 L763.00,1123.5 L763.25,1120.0 L763.50,1102.3 L763.75,1119.0 L764.00,1125.3 L764.25,1127.6 L764.50,1099.5 L764.75,1104.2 L765.00,1122.8 L765.25,1113.5 L765.50,1119.2 L765.75,1116.9 L766.00,1124.3 L766.25,1105.8 L766.50,1114.9 L766.75,1125.6 L767.00,1119.7 L767.25,1111.5 L767.50,1120.5 L767.75,1118.7 L768.00,1109.4 L768.25,1120.5 L768.50,1119.8 L768.75,1113.1 L769.00,1120.3 L769.25,1103.9 L769.50,1117.4 L769.75,1109.3 L770.00,1102.9 L770.25,1104.4 L770.50,1116.4 L770.75,1102.6 L771.00,1103.0 L771.25,1099.7 L771.50,1097.5 L771.75,1109.4 L772.00,1117.5 L772.25,1109.9 L772.50,1102.7 L772.75,1103.4 L773.00,1094.2 L773.25,1092.0 L773.50,1086.0 L773.75,1104.4 L774.00,1090.2 L774.25,1086.6 L774.50,1086.3 L774.75,1091.6 L775.00,1085.3 L775.25,1088.7 L775.50,1089.0 L775.75,1097.0 L776.00,1077.1 L776.25,1087.8 L776.50,1079.7 L776.75,1080.9 L777.00,1095.4 L777.25,1087.3 L777.50,1079.0 L777.75,1084.8 L778.00,1080.3 L778.25,1087.9 L778.50,1075.3 L778.75,1081.8 L779.00,1075.9 L779.25,1076.7 L779.50,1074.6 L779.75,1070.3 L780.00,1074.8 L780.25,1080.4 L780.50,1067.8 L780.75,1068.5 L781.00,1073.2 L781.25,1064.0 L781.50,1075.1 L781.75,1072.9 L782.00,1049.7 L782.25,1060.9 L782.50,1056.7 L782.75,1069.8 L783.00,1069.5 L783.25,1052.6 L783.50,1055.3 L783.75,1058.6 L784.00,1055.3 L784.25,1062.1 L784.50,1062.5 L784.75,1057.9 L785.00,1059.8 L785.25,1056.7 L785.50,1047.2 L785.75,1042.6 L786.00,1038.4 L786.25,1048.1 L786.50,1046.9 L786.75,1046.3 L787.00,1035.0 L787.25,1033.5 L787.50,1037.5 L787.75,1044.4 L788.00,1037.8 L788.25,1037.0 L788.50,1029.8 L788.75,1040.0 L789.00,1041.6 L789.25,1031.7 L789.50,1052.9 L789.75,1034.4 L790.00,1049.3 L790.25,1042.1 L790.50,1046.0 L790.75,1040.1 L791.00,1042.7 L791.25,1053.0 L791.50,1047.2 L791.75,1047.0 L792.00,1057.0 L792.25,1056.6 L792.50,1053.5 L792.75,1055.0 L793.00,1067.0 L793.25,1054.1 L793.50,1059.4 L793.75,1061.0 L794.00,1048.9 L794.25,1046.7 L794.50,1063.8 L794.75,1071.3 L795.00,1068.6 L795.25,1065.5 L795.50,1067.0 L795.75,1080.3 L796.00,1074.6 L796.25,1067.4 L796.50,1086.8 L796.75,1085.9 L797.00,1089.3 L797.25,1096.3 L797.50,1100.4 L797.75,1096.6 L798.00,1092.9 L798.25,1080.3 L798.50,1099.8 L798.75,1098.1 L799.00,1110.5 L799.25,1111.8 L799.50,1107.4 L799.75,1115.5 L800.00,1106.3 L800.25,1107.9 L800.50,1103.3 L800.75,1108.6 L801.00,1113.8 L801.25,1121.3 L801.50,1109.2 L801.75,1121.7 L802.00,1134.2 L802.25,1108.1 L802.50,1117.3 L802.75,1120.4 L803.00,1128.7 L803.25,1137.0 L803.50,1132.4 L803.75,1123.9 L804.00,1118.8 L804.25,1125.5 L804.50,1126.4 L804.75,1129.2 L805.00,1121.5 L805.25,1140.0 L805.50,1124.0 L805.75,1134.9 L806.00,1132.0 L806.25,1122.9 L806.50,1132.0 L806.75,1132.2 L807.00,1131.1 L807.25,1138.9 L807.50,1129.9 L807.75,1152.7 L808.00,1142.6 L808.25,1127.9 L808.50,1116.6 L808.75,1144.6 L809.00,1137.5 L809.25,1136.5 L809.50,1129.0 L809.75,1125.8 L810.00,1122.9 L810.25,1155.9 L810.50,1149.0 L810.75,1133.3 L811.00,1151.5 L811.25,1124.1 L811.50,1143.2 L811.75,1143.5 L812.00,1132.1 L812.25,1135.3 L812.50,1131.1 L812.75,1139.4 L813.00,1149.0 L813.25,1146.8 L813.50,1142.7 L813.75,1148.0 L814.00,1126.7 L814.25,1155.1 L814.50,1139.8 L814.75,1130.6 L815.00,1137.7 L815.25,1135.8 L815.50,1141.5 L815.75,1143.3 L816.00,1123.7 L816.25,1150.6 L816.50,1154.2 L816.75,1133.7 L817.00,1152.5 L817.25,1151.0 L817.50,1149.3 L817.75,1154.1 L818.00,1131.7 L818.25,1147.5 L818.50,1134.7 L818.75,1160.0 L819.00,1135.3 L819.25,1133.5 L819.50,1151.1 L819.75,1147.5 L820.00,1143.2 L820.25,1144.1 L820.50,1147.8 L820.75,1156.2 L821.00,1138.1 L821.25,1139.3 L821.50,1139.3 L821.75,1143.2 L822.00,1143.9 L822.25,1134.3 L822.50,1146.3 L822.75,1134.7 L823.00,1141.9 L823.25,1142.4 L823.50,1142.6 L823.75,1155.5 L824.00,1156.8 L824.25,1152.7 L824.50,1156.5 L824.75,1142.6 L825.00,1155.3 L825.25,1144.4 L825.50,1146.6 L825.75,1147.0 L826.00,1135.0 L826.25,1140.4 L826.50,1143.8 L826.75,1147.7 L827.00,1144.1 L827.25,1138.6 L827.50,1136.3 L827.75,1145.1 L828.00,1136.1 L828.25,1136.1 L828.50,1144.1 L828.75,1146.2 L829.00,1138.6 L829.25,1131.5 L829.50,1146.9 L829.75,1150.8 L830.00,1141.6 L830.25,1141.8 L830.50,1127.1 L830.75,1151.2 L831.00,1136.2 L831.25,1149.7 L831.50,1139.8 L831.75,1143.1 L832.00,1142.7 L832.25,1130.5 L832.50,1164.5 L832.75,1132.1 L833.00,1144.5 L833.25,1137.5 L833.50,1141.7 L833.75,1153.7 L834.00,1129.4 L834.25,1142.2 L834.50,1146.8 L834.75,1143.9 L835.00,1145.9 L835.25,1137.2 L835.50,1130.4 L835.75,1132.7 L836.00,1139.4 L836.25,1147.9 L836.50,1142.8 L836.75,1154.1 L837.00,1142.8 L837.25,1143.3 L837.50,1143.3 L837.75,1128.6 L838.00,1145.8 L838.25,1133.0 L838.50,1138.3 L838.75,1158.5 L839.00,1131.5 L839.25,1141.5 L839.50,1142.6 L839.75,1141.2 L840.00,1140.0 L840.25,1135.6 L840.50,1154.5 L840.75,1124.3 L841.00,1131.4 L841.25,1150.0 L841.50,1142.7 L841.75,1132.6 L842.00,1131.4 L842.25,1136.0 L842.50,1157.4 L842.75,1141.0 L843.00,1129.3 L843.25,1138.5 L843.50,1131.8 L843.75,1147.4 L844.00,1138.1 L844.25,1145.1 L844.50,1136.5 L844.75,1150.3 L845.00,1137.8 L845.25,1136.6 L845.50,1126.5 L845.75,1130.7 L846.00,1136.5 L846.25,1129.6 L846.50,1151.7 L846.75,1132.6 L847.00,1126.7 L847.25,1139.5 L847.50,1127.8 L847.75,1134.5 L848.00,1130.5 L848.25,1125.4 L848.50,1140.9 L848.75,1130.9 L849.00,1138.0 L849.25,1126.9 L849.50,1118.4 L849.75,1119.5 L850.00,1124.5 L850.25,1126.7 L850.50,1128.1 L850.75,1131.2 L851.00,1117.6 L851.25,1128.3 L851.50,1117.0 L851.75,1120.7 L852.00,1144.6 L852.25,1134.5 L852.50,1121.9 L852.75,1137.6 L853.00,1134.4 L853.25,1130.0 L853.50,1133.9 L853.75,1120.6 L854.00,1121.1 L854.25,1115.2 L854.50,1125.5 L854.75,1111.3 L855.00,1116.5 L855.25,1123.2 L855.50,1115.5 L855.75,1121.5 L856.00,1132.1 L856.25,1110.5 L856.50,1127.9 L856.75,1111.8 L857.00,1109.4 L857.25,1117.5 L857.50,1123.0 L857.75,1109.4 L858.00,1108.7 L858.25,1110.2 L858.50,1107.5 L858.75,1113.7 L859.00,1106.4 L859.25,1109.2 L859.50,1113.1 L859.75,1106.7 L860.00,1117.8 L860.25,1103.4 L860.50,1102.1 L860.75,1122.5 L861.00,1117.9 L861.25,1106.5 L861.50,1111.5 L861.75,1107.2 L862.00,1100.2 L862.25,1108.4 L862.50,1105.1 L862.75,1111.8 L863.00,1087.8 L863.25,1107.1 L863.50,1101.7 L863.75,1094.7 L864.00,1096.1 L864.25,1095.7 L864.50,1088.2 L864.75,1093.3 L865.00,1102.8 L865.25,1085.0 L865.50,1092.9 L865.75,1077.4 L866.00,1090.1 L866.25,1096.7 L866.50,1092.6 L866.75,1092.6 L867.00,1083.1 L867.25,1095.0 L867.50,1083.1 L867.75,1095.8 L868.00,1089.6 L868.25,1084.1 L868.50,1097.0 L868.75,1081.8 L869.00,1091.2 L869.25,1082.9 L869.50,1080.7 L869.75,1086.8 L870.00,1081.0 L870.25,1076.0 L870.50,1073.5 L870.75,1074.3 L871.00,1071.6 L871.25,1066.7 L871.50,1059.5 L871.75,1046.0 L872.00,1062.6 L872.25,1059.7 L872.50,1068.7 L872.75,1060.9 L873.00,1064.1 L873.25,1066.5 L873.50,1050.7 L873.75,1043.1 L874.00,1053.4 L874.25,1040.4 L874.50,1040.3 L874.75,1050.2 L875.00,1040.7 L875.25,1041.7 L875.50,1020.3 L875.75,1027.7 L876.00,1032.9 L876.25,1012.0 L876.50,1020.4 L876.75,1019.4 L877.00,996.8 L877.25,1024.1 L877.50,1005.2 L877.75,1008.3 L878.00,1020.8 L878.25,993.7 L878.50,1009.6 L878.75,1001.7 L879.00,1004.4 L879.25,996.9 L879.50,1012.4 L879.75,992.9 L880.00,1003.1 L880.25,1003.7 L880.50,998.2 L880.75,996.2 L881.00,995.6 L881.25,1004.7 L881.50,999.9 L881.75,995.4 L882.00,987.5 L882.25,996.6 L882.50,999.2 L882.75,994.8 L883.00,1005.8 L883.25,980.7 L883.50,1013.9 L883.75,994.1 L884.00,987.2 L884.25,983.0 L884.50,1003.1 L884.75,1001.4 L885.00,996.0 L885.25,997.9 L885.50,1000.2 L885.75,996.5 L886.00,1009.2 L886.25,1006.0 L886.50,1001.3 L886.75,990.8 L887.00,1014.3 L887.25,1001.4 L887.50,998.2 L887.75,1016.6 L888.00,1011.7 L888.25,993.8 L888.50,997.5 L888.75,1008.2 L889.00,1003.1 L889.25,1013.0 L889.50,1035.6 L889.75,1040.2 L890.00,1019.6 L890.25,1028.1 L890.50,1031.0 L890.75,1025.7 L891.00,1017.9 L891.25,1039.5 L891.50,1032.5 L891.75,1039.6 L892.00,1043.9 L892.25,1034.9 L892.50,1055.9 L892.75,1046.0 L893.00,1049.3 L893.25,1046.3 L893.50,1056.8 L893.75,1060.7 L894.00,1050.5 L894.25,1060.6 L894.50,1054.5 L894.75,1050.1 L895.00,1058.5 L895.25,1067.2 L895.50,1068.4 L895.75,1073.9 L896.00,1062.4 L896.25,1066.7 L896.50,1071.1 L896.75,1076.8 L897.00,1072.7 L897.25,1068.0 L897.50,1064.9 L897.75,1086.7 L898.00,1087.2 L898.25,1075.4 L898.50,1092.7 L898.75,1082.2 L899.00,1087.1 L899.25,1094.1 L899.50,1081.9 L899.75,1080.4 L900.00,1073.8 L900.25,1089.6 L900.50,1091.1 L900.75,1094.5 L901.00,1092.6 L901.25,1088.9 L901.50,1096.6 L901.75,1080.0 L902.00,1090.3 L902.25,1090.7 L902.50,1085.3 L902.75,1098.6 L903.00,1088.1 L903.25,1094.0 L903.50,1089.7 L903.75,1080.5 L904.00,1095.3 L904.25,1087.9 L904.50,1078.4 L904.75,1076.1 L905.00,1067.8 L905.25,1073.0 L905.50,1070.9 L905.75,1072.7 L906.00,1066.4 L906.25,1072.3 L906.50,1065.7 L906.75,1052.8 L907.00,1059.2 L907.25,1054.5 L907.50,1050.0 L907.75,1056.0 L908.00,1063.1 L908.25,1046.0 L908.50,1037.5 L908.75,1048.9 L909.00,1069.8 L909.25,1039.6 L909.50,1042.7 L909.75,1034.0 L910.00,1040.0 L910.25,1040.8 L910.50,1025.4 L910.75,1032.5 L911.00,1012.8 L911.25,1020.3 L911.50,1007.6 L911.75,1017.7 L912.00,1011.5 L912.25,1018.0 L912.50,1007.9 L912.75,1018.3 L913.00,1017.6 L913.25,1012.8 L913.50,1011.4 L913.75,1008.9 L914.00,1015.3 L914.25,1021.8 L914.50,1018.3 L914.75,1021.1 L915.00,1030.1 L915.25,1018.7 L915.50,1024.0 L915.75,1028.8 L916.00,1027.1 L916.25,1026.9 L916.50,1025.3 L916.75,1040.0 L917.00,1025.7 L917.25,1024.1 L917.50,1032.3 L917.75,1041.1 L918.00,1040.6 L918.25,1031.4 L918.50,1038.8 L918.75,1037.7 L919.00,1036.1 L919.25,1042.1 L919.50,1043.6 L919.75,1041.7 L920.00,1055.5 L920.25,1041.6 L920.50,1056.8 L920.75,1064.1 L921.00,1066.1 L921.25,1054.2 L921.50,1052.8 L921.75,1044.1 L922.00,1057.6 L922.25,1078.3 L922.50,1050.0 L922.75,1051.9 L923.00,1071.7 L923.25,1071.9 L923.50,1055.5 L923.75,1070.8 L924.00,1075.9 L924.25,1064.0 L924.50,1084.8 L924.75,1069.7 L925.00,1090.3 L925.25,1085.5 L925.50,1080.8 L925.75,1076.0 L926.00,1087.6 L926.25,1091.4 L926.50,1093.1 L926.75,1091.4 L927.00,1096.1 L927.25,1105.9 L927.50,1094.1 L927.75,1100.8 L928.00,1107.1 L928.25,1104.7 L928.50,1112.6 L928.75,1119.0 L929.00,1105.8 L929.25,1111.2 L929.50,1088.6 L929.75,1109.2 L930.00,1117.9 L930.25,1105.5 L930.50,1125.0 L930.75,1101.8 L931.00,1127.1 L931.25,1114.1 L931.50,1111.2 L931.75,1116.1 L932.00,1118.7 L932.25,1113.9 L932.50,1111.9 L932.75,1119.2 L933.00,1131.0 L933.25,1127.6 L933.50,1135.4 L933.75,1121.3 L934.00,1123.9 L934.25,1124.6 L934.50,1128.7 L934.75,1131.6 L935.00,1141.9 L935.25,1134.3 L935.50,1130.7 L935.75,1140.0 L936.00,1124.3 L936.25,1120.7 L936.50,1136.0 L936.75,1132.6 L937.00,1132.6 L937.25,1139.1 L937.50,1129.9 L937.75,1131.9 L938.00,1136.0 L938.25,1138.4 L938.50,1141.2 L938.75,1135.0 L939.00,1136.5 L939.25,1116.6 L939.50,1144.3 L939.75,1123.6 L940.00,1135.4 L940.25,1155.1 L940.50,1133.8 L940.75,1124.6 L941.00,1149.0 L941.25,1132.9 L941.50,1136.1 L941.75,1136.4 L942.00,1143.4 L942.25,1143.9 L942.50,1137.4 L942.75,1146.9 L943.00,1131.9 L943.25,1144.0 L943.50,1134.4 L943.75,1144.6 L944.00,1134.5 L944.25,1136.4 L944.50,1150.9 L944.75,1131.5 L945.00,1131.3 L945.25,1144.6 L945.50,1138.4 L945.75,1137.3 L946.00,1139.5 L946.25,1156.6 L946.50,1133.0 L946.75,1138.8 L947.00,1142.2 L947.25,1133.9 L947.50,1140.7 L947.75,1144.7 L948.00,1134.2 L948.25,1149.5 L948.50,1132.5 L948.75,1140.1 L949.00,1143.7 L949.25,1165.1 L949.50,1128.1 L949.75,1143.4 L950.00,1160.2 L950.25,1136.8 L950.50,1149.5 L950.75,1142.9 L951.00,1130.6 L951.25,1144.3 L951.50,1134.7 L951.75,1142.1 L952.00,1130.2 L952.25,1146.9 L952.50,1123.4 L952.75,1140.2 L953.00,1151.2 L953.25,1145.4 L953.50,1138.9 L953.75,1139.8 L954.00,1138.4 L954.25,1162.0 L954.50,1141.2 L954.75,1141.5 L955.00,1136.1 L955.25,1138.1 L955.50,1146.3 L955.75,1137.1 L956.00,1135.7 L956.25,1137.6 L956.50,1139.1 L956.75,1143.1 L957.00,1138.1 L957.25,1140.3 L957.50,1136.2 L957.75,1151.1 L958.00,1142.5 L958.25,1139.5 L958.50,1144.0 L958.75,1141.5 L959.00,1130.1 L959.25,1140.5 L959.50,1154.3 L959.75,1145.7 L960.00,1150.7 L960.25,1136.9 L960.50,1130.8 L960.75,1136.7 L961.00,1152.1 L961.25,1134.4 L961.50,1136.0 L961.75,1150.2 L962.00,1140.1 L962.25,1140.5 L962.50,1144.8 L962.75,1142.6 L963.00,1139.7 L963.25,1143.9 L963.50,1136.6 L963.75,1141.7 L964.00,1146.9 L964.25,1134.0 L964.50,1140.4 L964.75,1133.4 L965.00,1147.6 L965.25,1146.6 L965.50,1149.1 L965.75,1149.7 L966.00,1149.7 L966.25,1147.4 L966.50,1136.2 L966.75,1149.0 L967.00,1135.1 L967.25,1159.5 L967.50,1144.1 L967.75,1146.4 L968.00,1132.7 L968.25,1150.0 L968.50,1150.7 L968.75,1130.2 L969.00,1137.7 L969.25,1138.4 L969.50,1137.0 L969.75,1152.2 L970.00,1158.1 L970.25,1133.8 L970.50,1149.7 L970.75,1139.8 L971.00,1152.1 L971.25,1123.4 L971.50,1138.5 L971.75,1150.8 L972.00,1136.0 L972.25,1150.6 L972.50,1137.8 L972.75,1150.2 L973.00,1146.0 L973.25,1138.4 L973.50,1135.8 L973.75,1140.2 L974.00,1150.2 L974.25,1141.4 L974.50,1136.4 L974.75,1166.3 L975.00,1129.5 L975.25,1139.6 L975.50,1145.3 L975.75,1133.4 L976.00,1141.1 L976.25,1138.0 L976.50,1130.0 L976.75,1144.5 L977.00,1132.5 L977.25,1135.4 L977.50,1150.3 L977.75,1132.6 L978.00,1145.5 L978.25,1149.8 L978.50,1148.3 L978.75,1144.3 L979.00,1139.0 L979.25,1130.2 L979.50,1141.8 L979.75,1144.0 L980.00,1136.8 L980.25,1133.1 L980.50,1147.0 L980.75,1132.5 L981.00,1143.7 L981.25,1136.8 L981.50,1127.7 L981.75,1152.4 L982.00,1144.8 L982.25,1144.3 L982.50,1129.5 L982.75,1139.1 L983.00,1142.1 L983.25,1134.4 L983.50,1152.3 L983.75,1124.7 L984.00,1145.1 L984.25,1125.6 L984.50,1128.0 L984.75,1130.0 L985.00,1143.9 L985.25,1134.2 L985.50,1134.4 L985.75,1132.6 L986.00,1128.2 L986.25,1132.5 L986.50,1131.8 L986.75,1136.7 L987.00,1136.1 L987.25,1120.9 L987.50,1133.9 L987.75,1147.8 L988.00,1135.1 L988.25,1137.9 L988.50,1133.0 L988.75,1133.1 L989.00,1137.6 L989.25,1127.9 L989.50,1136.7 L989.75,1125.3 L990.00,1140.3 L990.25,1125.8 L990.50,1142.4 L990.75,1145.0 L991.00,1125.1 L991.25,1142.3 L991.50,1134.0 L991.75,1145.7 L992.00,1132.9 L992.25,1134.6 L992.50,1134.4 L992.75,1145.9 L993.00,1121.9 L993.25,1142.0 L993.50,1136.9 L993.75,1132.4 L994.00,1134.1 L994.25,1142.8 L994.50,1141.9 L994.75,1148.3 L995.00,1130.6 L995.25,1121.1 L995.50,1131.1 L995.75,1133.6 L996.00,1131.7 L996.25,1144.0 L996.50,1151.8 L996.75,1137.5 L997.00,1121.1 L997.25,1142.2 L997.50,1129.4 L997.75,1134.5 L998.00,1140.3 L998.25,1136.7 L998.50,1133.3 L998.75,1135.8 L999.00,1139.2 L999.25,1138.1 L999.50,1148.8 L999.75,1110.7 L1000.00,1127.2 L1000.25,1128.5 L1000.50,1139.0 L1000.75,1134.4 L1001.00,1139.0 L1001.25,1121.8 L1001.50,1130.7 L1001.75,1137.1 L1002.00,1131.7 L1002.25,1129.0 L1002.50,1133.9 L1002.75,1144.1 L1003.00,1115.8 L1003.25,1143.4 L1003.50,1133.4 L1003.75,1124.8 L1004.00,1136.0 L1004.25,1131.3 L1004.50,1139.9 L1004.75,1124.6 L1005.00,1137.8 L1005.25,1123.6 L1005.50,1132.6 L1005.75,1135.3 L1006.00,1129.4 L1006.25,1134.6 L1006.50,1125.2 L1006.75,1137.5 L1007.00,1125.6 L1007.25,1124.0 L1007.50,1128.2 L1007.75,1128.6 L1008.00,1122.5 L1008.25,1134.6 L1008.50,1127.6 L1008.75,1132.9 L1009.00,1117.0" fill="none" stroke="#111" stroke-width="1.5" clip-path="url(#c3a)"/>
<line x1="169.40" y1="1007.90" x2="169.40" y2="1013.50" stroke="#111" stroke-width="1.4" stroke-linecap="round"/>
<line x1="180.70" y1="1007.90" x2="180.70" y2="1019.00" stroke="#111" stroke-width="1.4" stroke-linecap="round"/>
<line x1="188.50" y1="1007.90" x2="188.50" y2="1021.00" stroke="#111" stroke-width="1.4" stroke-linecap="round"/>
<line x1="194.40" y1="1007.90" x2="194.40" y2="1049.20" stroke="#111" stroke-width="1.4" stroke-linecap="round"/>
<line x1="200.60" y1="1007.90" x2="200.60" y2="1030.50" stroke="#111" stroke-width="1.4" stroke-linecap="round"/>
<line x1="204.90" y1="1007.90" x2="204.90" y2="1030.00" stroke="#111" stroke-width="1.4" stroke-linecap="round"/>
<line x1="210.80" y1="1007.90" x2="210.80" y2="1039.00" stroke="#111" stroke-width="1.4" stroke-linecap="round"/>
<line x1="214.70" y1="1007.90" x2="214.70" y2="1026.00" stroke="#111" stroke-width="1.4" stroke-linecap="round"/>
<line x1="220.50" y1="1007.90" x2="220.50" y2="1031.00" stroke="#111" stroke-width="1.4" stroke-linecap="round"/>
<line x1="228.70" y1="1007.90" x2="228.70" y2="1015.00" stroke="#111" stroke-width="1.4" stroke-linecap="round"/>
<line x1="232.70" y1="1007.90" x2="232.70" y2="1016.00" stroke="#111" stroke-width="1.4" stroke-linecap="round"/>
<line x1="235.80" y1="1007.90" x2="235.80" y2="1016.00" stroke="#111" stroke-width="1.4" stroke-linecap="round"/>
<line x1="290.80" y1="1007.90" x2="290.80" y2="1049.00" stroke="#111" stroke-width="1.4" stroke-linecap="round"/>
<line x1="294.00" y1="1007.90" x2="294.00" y2="1047.50" stroke="#111" stroke-width="1.4" stroke-linecap="round"/>
<line x1="298.50" y1="1007.90" x2="298.50" y2="1048.00" stroke="#111" stroke-width="1.4" stroke-linecap="round"/>
<line x1="292.30" y1="1007.90" x2="292.30" y2="1040.00" stroke="#111" stroke-width="1.4" stroke-linecap="round"/>
<path d="M80.75,1089.3 L81.00,1097.2 L81.25,1091.8 L81.50,1098.2 L81.75,1103.4 L82.00,1107.6 L82.25,1110.2 L82.50,1105.1 L82.75,1093.9 L83.00,1103.3 L83.25,1095.3 L83.50,1103.3 L83.75,1091.3 L84.00,1109.3 L84.25,1102.3 L84.50,1097.1 L84.75,1089.0 L85.00,1101.3 L85.25,1095.3 L85.50,1101.1 L85.75,1093.9 L86.00,1095.1 L86.25,1103.9 L86.50,1110.3 L86.75,1089.7 L87.00,1097.8 L87.25,1102.2 L87.50,1098.1 L87.75,1095.9 L88.00,1115.5 L88.25,1092.9 L88.50,1101.9 L88.75,1095.6 L89.00,1098.5 L89.25,1082.1 L89.50,1105.9 L89.75,1097.7 L90.00,1092.0 L90.25,1111.7 L90.50,1097.2 L90.75,1094.6 L91.00,1092.9 L91.25,1107.2 L91.50,1099.5 L91.75,1096.9 L92.00,1089.3 L92.25,1092.5 L92.50,1101.8 L92.75,1099.1 L93.00,1084.1 L93.25,1092.7 L93.50,1100.9 L93.75,1119.4 L94.00,1093.6 L94.25,1082.6 L94.50,1105.0 L94.75,1095.6 L95.00,1089.3 L95.25,1103.5 L95.50,1097.5 L95.75,1092.0 L96.00,1089.4 L96.25,1098.3 L96.50,1099.9 L96.75,1085.9 L97.00,1106.6 L97.25,1089.7 L97.50,1109.7 L97.75,1101.7 L98.00,1097.8 L98.25,1101.8 L98.50,1094.8 L98.75,1098.8 L99.00,1111.6 L99.25,1095.0 L99.50,1105.4 L99.75,1092.5 L100.00,1099.1 L100.25,1106.5 L100.50,1090.2 L100.75,1101.8 L101.00,1083.1 L101.25,1090.6 L101.50,1096.1 L101.75,1105.9 L102.00,1104.6 L102.25,1092.4 L102.50,1098.3 L102.75,1100.6 L103.00,1087.5 L103.25,1102.4 L103.50,1109.4 L103.75,1108.6 L104.00,1094.8 L104.25,1096.2 L104.50,1092.2 L104.75,1095.5 L105.00,1097.4 L105.25,1104.4 L105.50,1099.9 L105.75,1092.3 L106.00,1105.4 L106.25,1105.9 L106.50,1094.7 L106.75,1097.4 L107.00,1098.5 L107.25,1086.9 L107.50,1100.3 L107.75,1104.3 L108.00,1113.9 L108.25,1100.7 L108.50,1097.1 L108.75,1098.1 L109.00,1103.8 L109.25,1105.2 L109.50,1092.8 L109.75,1100.7 L110.00,1104.2 L110.25,1084.2 L110.50,1109.6 L110.75,1097.7 L111.00,1105.8 L111.25,1098.9 L111.50,1097.4 L111.75,1098.7 L112.00,1101.4 L112.25,1105.8 L112.50,1097.3 L112.75,1090.9 L113.00,1094.0 L113.25,1092.0 L113.50,1105.0 L113.75,1092.1 L114.00,1110.7 L114.25,1100.3 L114.50,1098.6 L114.75,1109.1 L115.00,1096.6 L115.25,1097.1 L115.50,1105.2 L115.75,1104.9 L116.00,1091.8 L116.25,1117.8 L116.50,1103.6 L116.75,1089.9 L117.00,1098.0 L117.25,1106.3 L117.50,1101.0 L117.75,1105.8 L118.00,1117.1 L118.25,1106.3 L118.50,1114.4 L118.75,1104.5 L119.00,1094.4 L119.25,1110.7 L119.50,1094.1 L119.75,1106.6 L120.00,1104.3 L120.25,1093.1 L120.50,1094.2 L120.75,1098.1 L121.00,1102.5 L121.25,1109.5 L121.50,1100.1 L121.75,1113.8 L122.00,1106.1 L122.25,1094.7 L122.50,1094.9 L122.75,1100.2 L123.00,1095.7 L123.25,1098.9 L123.50,1105.4 L123.75,1101.6 L124.00,1106.9 L124.25,1094.5 L124.50,1093.2 L124.75,1089.2 L125.00,1086.3 L125.25,1096.3 L125.50,1100.2 L125.75,1098.2 L126.00,1099.7 L126.25,1115.0 L126.50,1091.5 L126.75,1097.7 L127.00,1096.1 L127.25,1092.9 L127.50,1109.9 L127.75,1099.5 L128.00,1109.1 L128.25,1091.3 L128.50,1113.8 L128.75,1116.8 L129.00,1093.2 L129.25,1099.7 L129.50,1098.8 L129.75,1104.0 L130.00,1090.0 L130.25,1103.3 L130.50,1105.2 L130.75,1095.3 L131.00,1082.8 L131.25,1094.7 L131.50,1096.8 L131.75,1105.5 L132.00,1095.2 L132.25,1091.2 L132.50,1104.5 L132.75,1102.6 L133.00,1105.3 L133.25,1100.2 L133.50,1107.8 L133.75,1103.7 L134.00,1086.4 L134.25,1101.3 L134.50,1105.6 L134.75,1100.1 L135.00,1110.8 L135.25,1096.4 L135.50,1105.1 L135.75,1090.6 L136.00,1099.9 L136.25,1095.7 L136.50,1092.4 L136.75,1090.1 L137.00,1101.5 L137.25,1103.1 L137.50,1095.1 L137.75,1090.6 L138.00,1093.3 L138.25,1105.6 L138.50,1090.8 L138.75,1108.4 L139.00,1087.4 L139.25,1102.0 L139.50,1104.9 L139.75,1109.0 L140.00,1096.7 L140.25,1094.1 L140.50,1089.2 L140.75,1106.7 L141.00,1098.9 L141.25,1096.4 L141.50,1096.7 L141.75,1101.8 L142.00,1100.1 L142.25,1108.7 L142.50,1083.8 L142.75,1106.2 L143.00,1095.9 L143.25,1099.3 L143.50,1097.5 L143.75,1099.3 L144.00,1105.6 L144.25,1101.6 L144.50,1089.1 L144.75,1099.4 L145.00,1099.2 L145.25,1102.7 L145.50,1100.2 L145.75,1099.3 L146.00,1107.6 L146.25,1091.8 L146.50,1116.3 L146.75,1095.7 L147.00,1092.2 L147.25,1105.8 L147.50,1108.0 L147.75,1109.3 L148.00,1110.9 L148.25,1103.5 L148.50,1100.4 L148.75,1102.8 L149.00,1099.9 L149.25,1095.9 L149.50,1112.0 L149.75,1113.6 L150.00,1100.0 L150.25,1098.3 L150.50,1096.3 L150.75,1087.4 L151.00,1094.9 L151.25,1096.1 L151.50,1099.8 L151.75,1092.5 L152.00,1085.7 L152.25,1104.9 L152.50,1112.9 L152.75,1084.0 L153.00,1099.0 L153.25,1106.4 L153.50,1091.3 L153.75,1089.2 L154.00,1100.3 L154.25,1098.3 L154.50,1095.2 L154.75,1112.3 L155.00,1111.3 L155.25,1104.9 L155.50,1099.5 L155.75,1097.6 L156.00,1106.7 L156.25,1098.3 L156.50,1111.2 L156.75,1109.4 L157.00,1095.6 L157.25,1105.8 L157.50,1111.9 L157.75,1105.0 L158.00,1093.1 L158.25,1098.1 L158.50,1097.6 L158.75,1101.1 L159.00,1100.4 L159.25,1097.6 L159.50,1106.7 L159.75,1110.4 L160.00,1096.0 L160.25,1089.2 L160.50,1103.1 L160.75,1100.3 L161.00,1103.5 L161.25,1095.2 L161.50,1102.5 L161.75,1093.5 L162.00,1108.5 L162.25,1113.0 L162.50,1093.4 L162.75,1080.9 L163.00,1096.7 L163.25,1096.5 L163.50,1101.9 L163.75,1100.6 L164.00,1104.2 L164.25,1120.8 L164.50,1096.3 L164.75,1097.7 L165.00,1103.7 L165.25,1086.6 L165.50,1106.4 L165.75,1095.8 L166.00,1089.7 L166.25,1094.2 L166.50,1104.3 L166.75,1106.8 L167.00,1109.9 L167.25,1103.8 L167.50,1095.1 L167.75,1104.7 L168.00,1100.0 L168.25,1118.1 L168.50,1085.2 L168.75,1112.7 L169.00,1106.4 L169.25,1103.7 L169.50,1099.9 L169.75,1096.4 L170.00,1093.4 L170.25,1089.0 L170.50,1116.0 L170.75,1107.7 L171.00,1105.7 L171.25,1103.4 L171.50,1086.3 L171.75,1098.6 L172.00,1101.6 L172.25,1109.4 L172.50,1093.2 L172.75,1102.8 L173.00,1098.9 L173.25,1101.0 L173.50,1094.9 L173.75,1103.5 L174.00,1101.4 L174.25,1086.7 L174.50,1109.9 L174.75,1117.3 L175.00,1094.2 L175.25,1109.4 L175.50,1093.4 L175.75,1096.8 L176.00,1114.0 L176.25,1102.3 L176.50,1112.2 L176.75,1103.0 L177.00,1108.4 L177.25,1099.6 L177.50,1111.6 L177.75,1114.3 L178.00,1106.0 L178.25,1096.6 L178.50,1098.1 L178.75,1093.8 L179.00,1105.4 L179.25,1104.8 L179.50,1095.7 L179.75,1107.8 L180.00,1096.6 L180.25,1114.6 L180.50,1107.1 L180.75,1112.9 L181.00,1095.6 L181.25,1093.5 L181.50,1087.3 L181.75,1105.8 L182.00,1092.6 L182.25,1111.1 L182.50,1102.1 L182.75,1106.7 L183.00,1091.4 L183.25,1096.6 L183.50,1102.4 L183.75,1106.6 L184.00,1091.4 L184.25,1103.6 L184.50,1094.8 L184.75,1107.1 L185.00,1099.3 L185.25,1098.8 L185.50,1104.3 L185.75,1109.7 L186.00,1099.2 L186.25,1110.2 L186.50,1093.6 L186.75,1103.2 L187.00,1092.7 L187.25,1102.6 L187.50,1094.2 L187.75,1101.3 L188.00,1105.7 L188.25,1093.8 L188.50,1087.9 L188.75,1099.7 L189.00,1104.9 L189.25,1102.8 L189.50,1094.2 L189.75,1107.3 L190.00,1098.9 L190.25,1106.7 L190.50,1094.4 L190.75,1104.3 L191.00,1109.8 L191.25,1096.1 L191.50,1098.8 L191.75,1105.6 L192.00,1104.9 L192.25,1103.7 L192.50,1100.1 L192.75,1089.3 L193.00,1100.9 L193.25,1091.3 L193.50,1101.6 L193.75,1083.5 L194.00,1111.7 L194.25,1115.1 L194.50,1104.3 L194.75,1094.6 L195.00,1098.7 L195.25,1107.6 L195.50,1105.8 L195.75,1095.7 L196.00,1109.9 L196.25,1106.3 L196.50,1104.9 L196.75,1098.3 L197.00,1100.9 L197.25,1095.6 L197.50,1102.3 L197.75,1096.0 L198.00,1109.6 L198.25,1101.2 L198.50,1102.5 L198.75,1103.4 L199.00,1103.3 L199.25,1090.3 L199.50,1110.4 L199.75,1101.6 L200.00,1096.8 L200.25,1093.7 L200.50,1095.8 L200.75,1096.3 L201.00,1101.0 L201.25,1094.5 L201.50,1101.7 L201.75,1102.0 L202.00,1095.7 L202.25,1117.3 L202.50,1100.0 L202.75,1103.4 L203.00,1101.7 L203.25,1099.7 L203.50,1105.9 L203.75,1111.1 L204.00,1100.3 L204.25,1094.4 L204.50,1104.9 L204.75,1084.8 L205.00,1102.0 L205.25,1099.4 L205.50,1103.2 L205.75,1089.6 L206.00,1097.5 L206.25,1093.1 L206.50,1096.7 L206.75,1105.1 L207.00,1099.3 L207.25,1096.3 L207.50,1109.5 L207.75,1100.8 L208.00,1085.6 L208.25,1092.9 L208.50,1103.7 L208.75,1103.9 L209.00,1102.2 L209.25,1102.5 L209.50,1093.9 L209.75,1099.8 L210.00,1091.7 L210.25,1094.3 L210.50,1093.7 L210.75,1094.3 L211.00,1097.9 L211.25,1098.8 L211.50,1094.5 L211.75,1108.4 L212.00,1097.0 L212.25,1111.7 L212.50,1107.8 L212.75,1091.4 L213.00,1106.9 L213.25,1090.0 L213.50,1111.0 L213.75,1102.7 L214.00,1092.9 L214.25,1084.0 L214.50,1097.3 L214.75,1090.2 L215.00,1108.3 L215.25,1091.0 L215.50,1098.4 L215.75,1103.8 L216.00,1100.2 L216.25,1102.0 L216.50,1098.2 L216.75,1105.4 L217.00,1093.2 L217.25,1104.3 L217.50,1091.1 L217.75,1101.4 L218.00,1091.6 L218.25,1098.5 L218.50,1104.4 L218.75,1109.1 L219.00,1086.7 L219.25,1094.3 L219.50,1092.8 L219.75,1108.9 L220.00,1093.6 L220.25,1105.2 L220.50,1096.2 L220.75,1089.3 L221.00,1100.8 L221.25,1091.5 L221.50,1105.4 L221.75,1106.1 L222.00,1109.8 L222.25,1092.4 L222.50,1111.6 L222.75,1107.1 L223.00,1086.7 L223.25,1116.3 L223.50,1112.4 L223.75,1092.2 L224.00,1102.4 L224.25,1090.0 L224.50,1098.9 L224.75,1101.3 L225.00,1104.5 L225.25,1093.8 L225.50,1099.7 L225.75,1093.0 L226.00,1102.7 L226.25,1104.8 L226.50,1100.4 L226.75,1108.4 L227.00,1105.5 L227.25,1102.7 L227.50,1108.5 L227.75,1090.7 L228.00,1099.6 L228.25,1086.8 L228.50,1099.8 L228.75,1096.4 L229.00,1106.0 L229.25,1096.6 L229.50,1095.2 L229.75,1099.2 L230.00,1098.9 L230.25,1103.7 L230.50,1093.4 L230.75,1088.8 L231.00,1088.1 L231.25,1108.4 L231.50,1090.6 L231.75,1096.5 L232.00,1091.7 L232.25,1106.4 L232.50,1095.7 L232.75,1109.0 L233.00,1094.7 L233.25,1102.1 L233.50,1105.5 L233.75,1107.1 L234.00,1091.1 L234.25,1097.2 L234.50,1099.3 L234.75,1086.4 L235.00,1105.2 L235.25,1102.8 L235.50,1103.7 L235.75,1089.6 L236.00,1101.3 L236.25,1103.2 L236.50,1107.6 L236.75,1096.1 L237.00,1105.0 L237.25,1114.5 L237.50,1096.7 L237.75,1096.9 L238.00,1097.5 L238.25,1088.9 L238.50,1097.3 L238.75,1112.0 L239.00,1093.1 L239.25,1098.5 L239.50,1108.8 L239.75,1104.2 L240.00,1101.7 L240.25,1097.5 L240.50,1099.1 L240.75,1100.1 L241.00,1105.1 L241.25,1100.6 L241.50,1107.0 L241.75,1086.1 L242.00,1106.1 L242.25,1096.1 L242.50,1100.1 L242.75,1096.8 L243.00,1104.7 L243.25,1099.1 L243.50,1104.6 L243.75,1094.0 L244.00,1101.4 L244.25,1109.1 L244.50,1108.3 L244.75,1097.4 L245.00,1101.1 L245.25,1097.3 L245.50,1099.1 L245.75,1100.1 L246.00,1109.0 L246.25,1104.3 L246.50,1110.8 L246.75,1111.4 L247.00,1090.6 L247.25,1102.3 L247.50,1096.7 L247.75,1088.1 L248.00,1092.0 L248.25,1096.3 L248.50,1112.4 L248.75,1100.7 L249.00,1098.6 L249.25,1099.8 L249.50,1094.5 L249.75,1101.3 L250.00,1099.4 L250.25,1088.0 L250.50,1096.1 L250.75,1124.8 L251.00,1104.7 L251.25,1099.3 L251.50,1105.0 L251.75,1092.9 L252.00,1100.7 L252.25,1106.5 L252.50,1088.2 L252.75,1094.6 L253.00,1097.1 L253.25,1098.0 L253.50,1096.3 L253.75,1102.0 L254.00,1107.6 L254.25,1102.6 L254.50,1107.6 L254.75,1107.7 L255.00,1095.7 L255.25,1102.1 L255.50,1097.3 L255.75,1104.9 L256.00,1097.5 L256.25,1098.7 L256.50,1112.5 L256.75,1098.8 L257.00,1088.6 L257.25,1100.9 L257.50,1102.2 L257.75,1096.3 L258.00,1100.6 L258.25,1107.6 L258.50,1096.3 L258.75,1098.7 L259.00,1094.9 L259.25,1102.5 L259.50,1099.2 L259.75,1093.3 L260.00,1098.9 L260.25,1113.5 L260.50,1087.6 L260.75,1089.9 L261.00,1102.6 L261.25,1089.9 L261.50,1114.4 L261.75,1089.2 L262.00,1090.5 L262.25,1096.3 L262.50,1108.0 L262.75,1106.0 L263.00,1104.3 L263.25,1102.3 L263.50,1109.6 L263.75,1086.8 L264.00,1102.1 L264.25,1110.6 L264.50,1092.3 L264.75,1102.4 L265.00,1109.1 L265.25,1109.3 L265.50,1099.1 L265.75,1113.7 L266.00,1103.8 L266.25,1107.9 L266.50,1092.3 L266.75,1094.6 L267.00,1094.5 L267.25,1113.0 L267.50,1083.0 L267.75,1086.7 L268.00,1105.9 L268.25,1101.2 L268.50,1078.5 L268.75,1097.2 L269.00,1097.9 L269.25,1109.0 L269.50,1086.1 L269.75,1096.2 L270.00,1107.9 L270.25,1105.7 L270.50,1093.4 L270.75,1098.0 L271.00,1089.3 L271.25,1110.1 L271.50,1097.0 L271.75,1109.4 L272.00,1106.0 L272.25,1093.7 L272.50,1099.1 L272.75,1104.9 L273.00,1103.4 L273.25,1111.3 L273.50,1108.3 L273.75,1102.5 L274.00,1105.2 L274.25,1095.0 L274.50,1095.8 L274.75,1104.6 L275.00,1102.6 L275.25,1092.1 L275.50,1099.6 L275.75,1094.4 L276.00,1096.1 L276.25,1109.6 L276.50,1093.3 L276.75,1095.4 L277.00,1104.3 L277.25,1100.7 L277.50,1101.4 L277.75,1089.7 L278.00,1100.0 L278.25,1097.5 L278.50,1094.3 L278.75,1096.1 L279.00,1098.1 L279.25,1106.3 L279.50,1113.9 L279.75,1101.0 L280.00,1111.0 L280.25,1101.1 L280.50,1089.5 L280.75,1100.7 L281.00,1109.6 L281.25,1110.4 L281.50,1093.8 L281.75,1116.5 L282.00,1094.9 L282.25,1094.9 L282.50,1096.5 L282.75,1110.8 L283.00,1103.2 L283.25,1106.9 L283.50,1084.1 L283.75,1099.9 L284.00,1099.5 L284.25,1105.3 L284.50,1096.9 L284.75,1109.0 L285.00,1095.3 L285.25,1090.2 L285.50,1088.4 L285.75,1109.5 L286.00,1105.8 L286.25,1094.6 L286.50,1108.3 L286.75,1099.1 L287.00,1099.4 L287.25,1089.7 L287.50,1096.3 L287.75,1101.1 L288.00,1101.8 L288.25,1096.2 L288.50,1107.5 L288.75,1110.8 L289.00,1094.5 L289.25,1103.2 L289.50,1089.3 L289.75,1103.3 L290.00,1093.3 L290.25,1099.2 L290.50,1101.6 L290.75,1098.6 L291.00,1107.9 L291.25,1094.7 L291.50,1097.0 L291.75,1102.7 L292.00,1100.1 L292.25,1102.2 L292.50,1098.8 L292.75,1094.5 L293.00,1105.2 L293.25,1100.9 L293.50,1106.9 L293.75,1110.0 L294.00,1097.8 L294.25,1095.0 L294.50,1097.1 L294.75,1095.7 L295.00,1086.0 L295.25,1112.3 L295.50,1103.4 L295.75,1117.3 L296.00,1096.3 L296.25,1104.7 L296.50,1102.4 L296.75,1099.9 L297.00,1107.5 L297.25,1100.4 L297.50,1099.9 L297.75,1101.6 L298.00,1084.3 L298.25,1095.2 L298.50,1095.1 L298.75,1112.3 L299.00,1104.7 L299.25,1106.1 L299.50,1105.0 L299.75,1099.0 L300.00,1112.4 L300.25,1098.9 L300.50,1090.2 L300.75,1105.0 L301.00,1109.0 L301.25,1101.2 L301.50,1103.1 L301.75,1107.4 L302.00,1111.5 L302.25,1104.7 L302.50,1112.6 L302.75,1102.5 L303.00,1115.6 L303.25,1090.5 L303.50,1107.3 L303.75,1102.5 L304.00,1101.3 L304.25,1091.2 L304.50,1108.2 L304.75,1099.0 L305.00,1093.3 L305.25,1095.9 L305.50,1098.8 L305.75,1101.2 L306.00,1093.9 L306.25,1093.8 L306.50,1103.5 L306.75,1099.9 L307.00,1114.7 L307.25,1097.4 L307.50,1105.8 L307.75,1113.0 L308.00,1099.0 L308.25,1107.6 L308.50,1102.6 L308.75,1100.8 L309.00,1112.0 L309.25,1093.3 L309.50,1096.1 L309.75,1087.7 L310.00,1099.6 L310.25,1107.6 L310.50,1098.6 L310.75,1106.4 L311.00,1095.0 L311.25,1108.7 L311.50,1099.6 L311.75,1097.0 L312.00,1112.3 L312.25,1100.4 L312.50,1104.6 L312.75,1101.3 L313.00,1105.5 L313.25,1101.3 L313.50,1091.8 L313.75,1102.5 L314.00,1103.9 L314.25,1103.2 L314.50,1098.8 L314.75,1113.5 L315.00,1095.2 L315.25,1101.3 L315.50,1102.0 L315.75,1092.6 L316.00,1091.9 L316.25,1105.2 L316.50,1105.3 L316.75,1101.5 L317.00,1088.9 L317.25,1098.4 L317.50,1102.2 L317.75,1104.9 L318.00,1109.0 L318.25,1103.7 L318.50,1107.4 L318.75,1112.4 L319.00,1083.6 L319.25,1107.6 L319.50,1097.3 L319.75,1103.9 L320.00,1101.9 L320.25,1093.1 L320.50,1093.9 L320.75,1103.6 L321.00,1099.1 L321.25,1105.7 L321.50,1097.7 L321.75,1115.9 L322.00,1098.6 L322.25,1115.3 L322.50,1095.0 L322.75,1104.5 L323.00,1108.5 L323.25,1091.0 L323.50,1093.5 L323.75,1103.3 L324.00,1108.7 L324.25,1110.2 L324.50,1104.4 L324.75,1107.9 L325.00,1092.0 L325.25,1097.4 L325.50,1110.8 L325.75,1096.4 L326.00,1098.7 L326.25,1087.9 L326.50,1099.0 L326.75,1089.0 L327.00,1103.0 L327.25,1111.0 L327.50,1102.6 L327.75,1101.6 L328.00,1097.5 L328.25,1104.6 L328.50,1093.5 L328.75,1099.5 L329.00,1120.1 L329.25,1097.3 L329.50,1105.1 L329.75,1101.8 L330.00,1123.7 L330.25,1116.3 L330.50,1112.1 L330.75,1115.6 L331.00,1136.0 L331.25,1136.3 L331.50,1140.5 L331.75,1137.5 L332.00,1147.4 L332.25,1153.2 L332.50,1151.1 L332.75,1137.0 L333.00,1136.2 L333.25,1141.4 L333.50,1155.3 L333.75,1144.1 L334.00,1148.5 L334.25,1157.9 L334.50,1152.6 L334.75,1151.0 L335.00,1168.3 L335.25,1166.1 L335.50,1169.3 L335.75,1171.4 L336.00,1176.2 L336.25,1166.5 L336.50,1166.5 L336.75,1156.2 L337.00,1168.1 L337.25,1166.5 L337.50,1179.3 L337.75,1177.6 L338.00,1184.3 L338.25,1182.5 L338.50,1184.1 L338.75,1180.3 L339.00,1178.4 L339.25,1175.5 L339.50,1178.9 L339.75,1173.1 L340.00,1183.6 L340.25,1181.0 L340.50,1167.7 L340.75,1163.7 L341.00,1178.7 L341.25,1181.3 L341.50,1183.2 L341.75,1195.4 L342.00,1182.3 L342.25,1178.4 L342.50,1190.9 L342.75,1196.1 L343.00,1201.3 L343.25,1182.8 L343.50,1188.9 L343.75,1188.3 L344.00,1202.8 L344.25,1197.6 L344.50,1193.3 L344.75,1199.0 L345.00,1191.8 L345.25,1193.5 L345.50,1195.2 L345.75,1192.5 L346.00,1194.8 L346.25,1199.7 L346.50,1199.4 L346.75,1208.9 L347.00,1204.9 L347.25,1198.7 L347.50,1184.0 L347.75,1189.6 L348.00,1197.1 L348.25,1198.4 L348.50,1192.2 L348.75,1199.3 L349.00,1203.2 L349.25,1198.3 L349.50,1202.2 L349.75,1202.9 L350.00,1198.8 L350.25,1198.0 L350.50,1203.6 L350.75,1206.7 L351.00,1197.6 L351.25,1190.7 L351.50,1198.7 L351.75,1209.5 L352.00,1194.5 L352.25,1213.0 L352.50,1202.4 L352.75,1207.8 L353.00,1201.6 L353.25,1211.5 L353.50,1207.9 L353.75,1210.4 L354.00,1194.1 L354.25,1213.4 L354.50,1196.4 L354.75,1206.3 L355.00,1212.6 L355.25,1207.7 L355.50,1212.9 L355.75,1210.7 L356.00,1210.3 L356.25,1204.1 L356.50,1217.3 L356.75,1218.3 L357.00,1206.6 L357.25,1204.3 L357.50,1212.3 L357.75,1205.6 L358.00,1212.2 L358.25,1217.2 L358.50,1216.3 L358.75,1222.2 L359.00,1215.2 L359.25,1204.6 L359.50,1206.1 L359.75,1216.2 L360.00,1226.1 L360.25,1210.1 L360.50,1206.3 L360.75,1222.9 L361.00,1212.2 L361.25,1218.2 L361.50,1221.1 L361.75,1206.6 L362.00,1211.1 L362.25,1209.9 L362.50,1217.7 L362.75,1218.7 L363.00,1210.7 L363.25,1218.3 L363.50,1201.8 L363.75,1217.1 L364.00,1217.2 L364.25,1214.9 L364.50,1204.7 L364.75,1214.4 L365.00,1207.6 L365.25,1225.6 L365.50,1213.4 L365.75,1214.1 L366.00,1214.9 L366.25,1219.7 L366.50,1216.5 L366.75,1219.9 L367.00,1209.6 L367.25,1224.1 L367.50,1213.0 L367.75,1221.9 L368.00,1218.4 L368.25,1224.4 L368.50,1216.4 L368.75,1206.6 L369.00,1209.0 L369.25,1215.7 L369.50,1227.2 L369.75,1214.6 L370.00,1218.0 L370.25,1226.6 L370.50,1213.9 L370.75,1220.2 L371.00,1220.1 L371.25,1214.0 L371.50,1220.0 L371.75,1225.9 L372.00,1226.0 L372.25,1216.4 L372.50,1239.4 L372.75,1221.4 L373.00,1217.1 L373.25,1214.1 L373.50,1212.4 L373.75,1225.2 L374.00,1199.2 L374.25,1218.5 L374.50,1210.1 L374.75,1218.6 L375.00,1219.7 L375.25,1210.8 L375.50,1213.2 L375.75,1229.2 L376.00,1216.5 L376.25,1220.4 L376.50,1218.3 L376.75,1226.5 L377.00,1229.3 L377.25,1227.3 L377.50,1224.8 L377.75,1225.0 L378.00,1212.8 L378.25,1230.4 L378.50,1217.3 L378.75,1215.1 L379.00,1218.8 L379.25,1215.9 L379.50,1224.5 L379.75,1226.8 L380.00,1230.8 L380.25,1221.2 L380.50,1217.7 L380.75,1220.0 L381.00,1213.8 L381.25,1216.9 L381.50,1236.2 L381.75,1216.8 L382.00,1219.0 L382.25,1226.7 L382.50,1224.1 L382.75,1227.8 L383.00,1216.3 L383.25,1215.0 L383.50,1231.8 L383.75,1217.8 L384.00,1221.9 L384.25,1224.1 L384.50,1209.6 L384.75,1221.3 L385.00,1218.1 L385.25,1226.4 L385.50,1220.5 L385.75,1206.9 L386.00,1228.3 L386.25,1204.7 L386.50,1219.8 L386.75,1217.8 L387.00,1218.4 L387.25,1222.6 L387.50,1229.4 L387.75,1216.5 L388.00,1218.4 L388.25,1227.9 L388.50,1226.2 L388.75,1227.7 L389.00,1225.0 L389.25,1220.9 L389.50,1219.2 L389.75,1219.3 L390.00,1229.0 L390.25,1233.1 L390.50,1236.5 L390.75,1215.2 L391.00,1220.9 L391.25,1222.6 L391.50,1221.4 L391.75,1214.6 L392.00,1237.9 L392.25,1233.1 L392.50,1221.3 L392.75,1219.2 L393.00,1222.4 L393.25,1213.9 L393.50,1220.0 L393.75,1227.8 L394.00,1234.0 L394.25,1228.6 L394.50,1231.5 L394.75,1214.8 L395.00,1199.4 L395.25,1232.0 L395.50,1223.5 L395.75,1221.6 L396.00,1234.0 L396.25,1215.3 L396.50,1215.4 L396.75,1216.9 L397.00,1233.5 L397.25,1228.8 L397.50,1209.4 L397.75,1233.8 L398.00,1222.1 L398.25,1225.0 L398.50,1216.5 L398.75,1235.3 L399.00,1225.0 L399.25,1231.2 L399.50,1214.8 L399.75,1226.8 L400.00,1222.5 L400.25,1220.2 L400.50,1216.0 L400.75,1216.8 L401.00,1213.5 L401.25,1217.0 L401.50,1221.6 L401.75,1225.9 L402.00,1210.6 L402.25,1214.3 L402.50,1217.3 L402.75,1210.0 L403.00,1219.6 L403.25,1219.7 L403.50,1220.2 L403.75,1224.5 L404.00,1228.3 L404.25,1227.2 L404.50,1223.5 L404.75,1225.7 L405.00,1215.8 L405.25,1214.7 L405.50,1226.0 L405.75,1225.4 L406.00,1237.0 L406.25,1219.7 L406.50,1214.3 L406.75,1223.4 L407.00,1218.1 L407.25,1214.9 L407.50,1231.0 L407.75,1235.0 L408.00,1223.8 L408.25,1216.5 L408.50,1223.0 L408.75,1220.8 L409.00,1211.2 L409.25,1227.1 L409.50,1223.5 L409.75,1230.0 L410.00,1217.1 L410.25,1220.9 L410.50,1220.2 L410.75,1208.7 L411.00,1238.9 L411.25,1206.0 L411.50,1212.8 L411.75,1218.4 L412.00,1209.7 L412.25,1223.9 L412.50,1217.6 L412.75,1221.4 L413.00,1222.5 L413.25,1221.4 L413.50,1221.6 L413.75,1219.8 L414.00,1223.9 L414.25,1226.6 L414.50,1219.0 L414.75,1217.6 L415.00,1218.0 L415.25,1223.0 L415.50,1218.2 L415.75,1218.1 L416.00,1210.0 L416.25,1234.7 L416.50,1212.0 L416.75,1232.9 L417.00,1226.6 L417.25,1228.2 L417.50,1222.7 L417.75,1224.4 L418.00,1223.0 L418.25,1225.2 L418.50,1227.0 L418.75,1231.9 L419.00,1213.9 L419.25,1224.5 L419.50,1232.7 L419.75,1231.1 L420.00,1213.7 L420.25,1223.4 L420.50,1223.2 L420.75,1223.0 L421.00,1205.0 L421.25,1227.5 L421.50,1209.7 L421.75,1237.1 L422.00,1226.1 L422.25,1220.7 L422.50,1226.0 L422.75,1222.6 L423.00,1217.7 L423.25,1220.9 L423.50,1224.2 L423.75,1215.9 L424.00,1226.9 L424.25,1229.9 L424.50,1229.6 L424.75,1230.4 L425.00,1231.3 L425.25,1227.1 L425.50,1231.5 L425.75,1222.6 L426.00,1225.1 L426.25,1232.5 L426.50,1236.3 L426.75,1219.8 L427.00,1211.8 L427.25,1238.0 L427.50,1230.9 L427.75,1235.8 L428.00,1229.1 L428.25,1224.4 L428.50,1218.1 L428.75,1215.8 L429.00,1233.3 L429.25,1230.0 L429.50,1225.2 L429.75,1214.8 L430.00,1219.2 L430.25,1218.5 L430.50,1220.9 L430.75,1202.2 L431.00,1224.8 L431.25,1234.6 L431.50,1219.3 L431.75,1223.5 L432.00,1225.4 L432.25,1216.1 L432.50,1226.6 L432.75,1217.6 L433.00,1220.3 L433.25,1225.4 L433.50,1223.2 L433.75,1224.4 L434.00,1217.0 L434.25,1229.0 L434.50,1215.8 L434.75,1230.0 L435.00,1220.3 L435.25,1215.2 L435.50,1223.2 L435.75,1216.2 L436.00,1220.1 L436.25,1222.9 L436.50,1229.7 L436.75,1229.8 L437.00,1227.5 L437.25,1222.0 L437.50,1212.9 L437.75,1222.5 L438.00,1221.8 L438.25,1223.2 L438.50,1220.3 L438.75,1220.3 L439.00,1230.0 L439.25,1214.4 L439.50,1224.2 L439.75,1233.4 L440.00,1218.5 L440.25,1216.9 L440.50,1222.5 L440.75,1221.6 L441.00,1226.1 L441.25,1234.1 L441.50,1223.2 L441.75,1228.2 L442.00,1219.9 L442.25,1220.5 L442.50,1226.2 L442.75,1219.2 L443.00,1232.9 L443.25,1221.1 L443.50,1222.9 L443.75,1216.4 L444.00,1220.8 L444.25,1216.7 L444.50,1220.4 L444.75,1211.0 L445.00,1223.9 L445.25,1236.7 L445.50,1210.1 L445.75,1236.6 L446.00,1223.0 L446.25,1230.3 L446.50,1216.4 L446.75,1238.7 L447.00,1215.9 L447.25,1223.2 L447.50,1235.1 L447.75,1214.3 L448.00,1206.5 L448.25,1223.1 L448.50,1217.9 L448.75,1216.4 L449.00,1216.8 L449.25,1212.7 L449.50,1233.8 L449.75,1232.4 L450.00,1213.3 L450.25,1222.6 L450.50,1219.9 L450.75,1231.4 L451.00,1217.1 L451.25,1235.2 L451.50,1223.2 L451.75,1217.3 L452.00,1222.4 L452.25,1218.7 L452.50,1239.7 L452.75,1224.1 L453.00,1219.4 L453.25,1223.6 L453.50,1233.8 L453.75,1215.7 L454.00,1210.3 L454.25,1232.4 L454.50,1227.2 L454.75,1219.3 L455.00,1222.0 L455.25,1230.7 L455.50,1202.2 L455.75,1231.9 L456.00,1221.1 L456.25,1227.3 L456.50,1221.9 L456.75,1245.2 L457.00,1217.5 L457.25,1230.3 L457.50,1202.7 L457.75,1222.3 L458.00,1227.8 L458.25,1210.3 L458.50,1206.6 L458.75,1222.4 L459.00,1229.1 L459.25,1230.3 L459.50,1216.2 L459.75,1223.8 L460.00,1210.5 L460.25,1234.0 L460.50,1216.5 L460.75,1230.2 L461.00,1218.5 L461.25,1217.8 L461.50,1232.2 L461.75,1213.4 L462.00,1229.4 L462.25,1216.9 L462.50,1212.8 L462.75,1212.9 L463.00,1227.4 L463.25,1218.1 L463.50,1215.9 L463.75,1207.0 L464.00,1226.8 L464.25,1225.7 L464.50,1220.0 L464.75,1223.1 L465.00,1192.7 L465.25,1212.8 L465.50,1217.7 L465.75,1217.1 L466.00,1211.7 L466.25,1217.5 L466.50,1210.0 L466.75,1210.2 L467.00,1205.5 L467.25,1215.6 L467.50,1208.9 L467.75,1210.2 L468.00,1224.0 L468.25,1213.0 L468.50,1212.8 L468.75,1201.2 L469.00,1208.5 L469.25,1219.5 L469.50,1215.9 L469.75,1211.9 L470.00,1209.8 L470.25,1211.3 L470.50,1213.4 L470.75,1207.6 L471.00,1191.0 L471.25,1224.0 L471.50,1217.4 L471.75,1207.3 L472.00,1218.5 L472.25,1197.7 L472.50,1216.6 L472.75,1207.9 L473.00,1212.6 L473.25,1202.8 L473.50,1206.0 L473.75,1208.6 L474.00,1211.5 L474.25,1206.9 L474.50,1205.8 L474.75,1197.4 L475.00,1214.0 L475.25,1202.0 L475.50,1198.1 L475.75,1196.7 L476.00,1189.4 L476.25,1192.2 L476.50,1185.5 L476.75,1197.8 L477.00,1194.9 L477.25,1196.4 L477.50,1184.6 L477.75,1190.0 L478.00,1187.5 L478.25,1198.9 L478.50,1179.4 L478.75,1178.2 L479.00,1198.2 L479.25,1190.2 L479.50,1174.7 L479.75,1195.4 L480.00,1195.3 L480.25,1191.5 L480.50,1166.3 L480.75,1181.4 L481.00,1172.8 L481.25,1176.0 L481.50,1164.9 L481.75,1188.5 L482.00,1169.0 L482.25,1175.0 L482.50,1177.7 L482.75,1175.0 L483.00,1172.3 L483.25,1165.0 L483.50,1168.3 L483.75,1163.6 L484.00,1146.9 L484.25,1170.1 L484.50,1156.5 L484.75,1156.0 L485.00,1155.4 L485.25,1146.7 L485.50,1146.6 L485.75,1140.7 L486.00,1156.3 L486.25,1160.2 L486.50,1150.5 L486.75,1139.9 L487.00,1156.8 L487.25,1143.2 L487.50,1132.2 L487.75,1128.6 L488.00,1142.6 L488.25,1150.7 L488.50,1135.5 L488.75,1132.2 L489.00,1133.5 L489.25,1127.8 L489.50,1128.6 L489.75,1133.2 L490.00,1124.5 L490.25,1135.6 L490.50,1119.8 L490.75,1131.0 L491.00,1126.8 L491.25,1119.7 L491.50,1118.8 L491.75,1117.0 L492.00,1130.4 L492.25,1110.1 L492.50,1123.4 L492.75,1120.4 L493.00,1108.6 L493.25,1121.5 L493.50,1089.8 L493.75,1107.8 L494.00,1105.1 L494.25,1102.5 L494.50,1106.9 L494.75,1095.8 L495.00,1095.7 L495.25,1103.9 L495.50,1092.6 L495.75,1084.0 L496.00,1094.2 L496.25,1087.6 L496.50,1082.3 L496.75,1088.9 L497.00,1077.3 L497.25,1074.0 L497.50,1077.7 L497.75,1076.6 L498.00,1076.8 L498.25,1065.8 L498.50,1086.2 L498.75,1076.8 L499.00,1071.3 L499.25,1070.5 L499.50,1048.6 L499.75,1072.9 L500.00,1056.9 L500.25,1067.1 L500.50,1053.1 L500.75,1068.2 L501.00,1055.7 L501.25,1057.0 L501.50,1069.0 L501.75,1064.0 L502.00,1045.3 L502.25,1049.5 L502.50,1055.4 L502.75,1051.5 L503.00,1058.6 L503.25,1046.8 L503.50,1037.4 L503.75,1044.2 L504.00,1049.2 L504.25,1054.4 L504.50,1055.7 L504.75,1059.3 L505.00,1051.7 L505.25,1048.5 L505.50,1055.7 L505.75,1049.7 L506.00,1047.3 L506.25,1047.8 L506.50,1058.8 L506.75,1063.7 L507.00,1063.2 L507.25,1042.1 L507.50,1063.3 L507.75,1047.7 L508.00,1054.6 L508.25,1062.7 L508.50,1049.6 L508.75,1051.7 L509.00,1056.6 L509.25,1076.3 L509.50,1073.3 L509.75,1060.0 L510.00,1069.4 L510.25,1071.0 L510.50,1074.1 L510.75,1068.1 L511.00,1086.1 L511.25,1074.3 L511.50,1085.1 L511.75,1068.2 L512.00,1085.7 L512.25,1085.8 L512.50,1096.9 L512.75,1069.3 L513.00,1094.9 L513.25,1098.9 L513.50,1092.8 L513.75,1106.7 L514.00,1114.7 L514.25,1107.6 L514.50,1109.1 L514.75,1115.2 L515.00,1110.4 L515.25,1118.4 L515.50,1115.7 L515.75,1108.1 L516.00,1107.3 L516.25,1126.0 L516.50,1123.6 L516.75,1116.0 L517.00,1123.1 L517.25,1135.7 L517.50,1113.6 L517.75,1121.5 L518.00,1135.2 L518.25,1137.9 L518.50,1124.7 L518.75,1127.9 L519.00,1138.5 L519.25,1149.7 L519.50,1141.2 L519.75,1125.7 L520.00,1152.8 L520.25,1146.9 L520.50,1145.7 L520.75,1142.4 L521.00,1162.0 L521.25,1157.0 L521.50,1160.0 L521.75,1161.5 L522.00,1163.9 L522.25,1168.7 L522.50,1177.0 L522.75,1157.8 L523.00,1166.8 L523.25,1165.4 L523.50,1182.8 L523.75,1169.3 L524.00,1160.6 L524.25,1173.7 L524.50,1169.6 L524.75,1170.6 L525.00,1173.9 L525.25,1168.5 L525.50,1164.8 L525.75,1195.0 L526.00,1180.4 L526.25,1175.3 L526.50,1187.9 L526.75,1194.2 L527.00,1172.0 L527.25,1182.8 L527.50,1189.2 L527.75,1181.7 L528.00,1192.4 L528.25,1180.7 L528.50,1186.0 L528.75,1191.1 L529.00,1196.3 L529.25,1194.4 L529.50,1190.1 L529.75,1193.6 L530.00,1181.6 L530.25,1214.6 L530.50,1196.7 L530.75,1198.6 L531.00,1203.9 L531.25,1207.3 L531.50,1206.6 L531.75,1200.0 L532.00,1193.6 L532.25,1205.7 L532.50,1201.9 L532.75,1204.5 L533.00,1209.4 L533.25,1211.9 L533.50,1220.4 L533.75,1210.2 L534.00,1198.8 L534.25,1216.7 L534.50,1219.7 L534.75,1200.9 L535.00,1218.3 L535.25,1215.6 L535.50,1210.5 L535.75,1216.3 L536.00,1218.4 L536.25,1220.3 L536.50,1224.9 L536.75,1216.6 L537.00,1217.0 L537.25,1235.6 L537.50,1209.7 L537.75,1216.1 L538.00,1215.8 L538.25,1224.6 L538.50,1227.5 L538.75,1209.5 L539.00,1229.0 L539.25,1211.1 L539.50,1240.0 L539.75,1215.6 L540.00,1229.3 L540.25,1219.2 L540.50,1226.9 L540.75,1216.2 L541.00,1223.1 L541.25,1222.5 L541.50,1223.3 L541.75,1228.8 L542.00,1219.8 L542.25,1220.9 L542.50,1213.8 L542.75,1222.8 L543.00,1220.4 L543.25,1231.0 L543.50,1229.7 L543.75,1219.5 L544.00,1228.5 L544.25,1235.3 L544.50,1224.1 L544.75,1217.1 L545.00,1244.6 L545.25,1230.5 L545.50,1231.9 L545.75,1245.7 L546.00,1221.1 L546.25,1229.6 L546.50,1213.3 L546.75,1231.5 L547.00,1231.0 L547.25,1222.4 L547.50,1222.1 L547.75,1227.4 L548.00,1227.2 L548.25,1241.0 L548.50,1227.5 L548.75,1228.3 L549.00,1228.4 L549.25,1217.9 L549.50,1226.5 L549.75,1220.2 L550.00,1231.5 L550.25,1214.2 L550.50,1222.4 L550.75,1233.0 L551.00,1215.4 L551.25,1219.7 L551.50,1239.0 L551.75,1221.7 L552.00,1231.8 L552.25,1234.3 L552.50,1224.2 L552.75,1219.6 L553.00,1243.9 L553.25,1228.4 L553.50,1236.6 L553.75,1227.2 L554.00,1235.7 L554.25,1223.2 L554.50,1222.9 L554.75,1225.5 L555.00,1228.8 L555.25,1228.9 L555.50,1231.2 L555.75,1237.1 L556.00,1229.9 L556.25,1241.1 L556.50,1229.2 L556.75,1239.3 L557.00,1244.3 L557.25,1247.6 L557.50,1219.8 L557.75,1247.8 L558.00,1221.7 L558.25,1245.7 L558.50,1235.1 L558.75,1237.9 L559.00,1228.3 L559.25,1242.5 L559.50,1240.7 L559.75,1231.5 L560.00,1231.1 L560.25,1242.3 L560.50,1243.7 L560.75,1241.8 L561.00,1233.3 L561.25,1236.3 L561.50,1243.4 L561.75,1242.7 L562.00,1244.9 L562.25,1237.6 L562.50,1231.3 L562.75,1238.8 L563.00,1240.1 L563.25,1232.8 L563.50,1240.2 L563.75,1230.5 L564.00,1238.8 L564.25,1232.4 L564.50,1252.8 L564.75,1245.9 L565.00,1238.9 L565.25,1227.1 L565.50,1227.7 L565.75,1242.2 L566.00,1235.8 L566.25,1239.2 L566.50,1225.1 L566.75,1225.6 L567.00,1237.7 L567.25,1235.2 L567.50,1226.7 L567.75,1230.6 L568.00,1242.4 L568.25,1233.2 L568.50,1240.7 L568.75,1248.7 L569.00,1238.8 L569.25,1237.1 L569.50,1231.5 L569.75,1245.0 L570.00,1224.9 L570.25,1227.4 L570.50,1235.4 L570.75,1224.4 L571.00,1242.6 L571.25,1230.4 L571.50,1239.0 L571.75,1232.5 L572.00,1232.8 L572.25,1234.6 L572.50,1219.6 L572.75,1226.0 L573.00,1230.5 L573.25,1250.5 L573.50,1239.8 L573.75,1238.9 L574.00,1225.5 L574.25,1239.8 L574.50,1242.3 L574.75,1238.4 L575.00,1252.2 L575.25,1222.2 L575.50,1224.1 L575.75,1230.0 L576.00,1224.4 L576.25,1231.9 L576.50,1235.2 L576.75,1231.0 L577.00,1231.6 L577.25,1233.7 L577.50,1236.3 L577.75,1225.3 L578.00,1225.0 L578.25,1238.8 L578.50,1227.0 L578.75,1223.1 L579.00,1231.2 L579.25,1226.1 L579.50,1229.3 L579.75,1227.6 L580.00,1232.5 L580.25,1234.2 L580.50,1220.8 L580.75,1217.5 L581.00,1238.1 L581.25,1220.6 L581.50,1213.7 L581.75,1210.6 L582.00,1224.1 L582.25,1219.1 L582.50,1209.7 L582.75,1215.8 L583.00,1214.5 L583.25,1229.4 L583.50,1223.2 L583.75,1220.8 L584.00,1210.8 L584.25,1218.5 L584.50,1224.2 L584.75,1219.9 L585.00,1226.1 L585.25,1218.2 L585.50,1222.2 L585.75,1219.9 L586.00,1211.6 L586.25,1225.4 L586.50,1217.5 L586.75,1220.4 L587.00,1205.6 L587.25,1204.9 L587.50,1211.1 L587.75,1205.9 L588.00,1216.0 L588.25,1213.8 L588.50,1219.4 L588.75,1214.1 L589.00,1200.6 L589.25,1215.6 L589.50,1203.0 L589.75,1201.8 L590.00,1207.2 L590.25,1206.0 L590.50,1213.2 L590.75,1226.0 L591.00,1207.4 L591.25,1214.5 L591.50,1201.3 L591.75,1204.8 L592.00,1197.7 L592.25,1197.7 L592.50,1210.3 L592.75,1202.9 L593.00,1202.2 L593.25,1192.1 L593.50,1210.2 L593.75,1195.3 L594.00,1191.0 L594.25,1195.0 L594.50,1199.4 L594.75,1199.2 L595.00,1203.8 L595.25,1184.1 L595.50,1188.0 L595.75,1202.1 L596.00,1206.6 L596.25,1184.0 L596.50,1187.1 L596.75,1175.3 L597.00,1179.8 L597.25,1178.3 L597.50,1183.2 L597.75,1174.0 L598.00,1188.9 L598.25,1180.4 L598.50,1177.9 L598.75,1185.6 L599.00,1175.6 L599.25,1167.2 L599.50,1175.5 L599.75,1190.4 L600.00,1173.8 L600.25,1175.8 L600.50,1169.2 L600.75,1167.9 L601.00,1172.1 L601.25,1147.3 L601.50,1156.7 L601.75,1160.3 L602.00,1161.5 L602.25,1173.1 L602.50,1179.4 L602.75,1164.5 L603.00,1161.5 L603.25,1162.3 L603.50,1167.2 L603.75,1147.2 L604.00,1149.6 L604.25,1153.1 L604.50,1152.8 L604.75,1135.0 L605.00,1151.1 L605.25,1134.6 L605.50,1150.8 L605.75,1149.9 L606.00,1125.2 L606.25,1144.4 L606.50,1140.7 L606.75,1133.1 L607.00,1143.3 L607.25,1149.6 L607.50,1136.8 L607.75,1123.3 L608.00,1119.1 L608.25,1119.5 L608.50,1118.8 L608.75,1132.9 L609.00,1124.6 L609.25,1120.1 L609.50,1124.6 L609.75,1115.9 L610.00,1113.6 L610.25,1104.6 L610.50,1103.7 L610.75,1106.0 L611.00,1094.4 L611.25,1112.9 L611.50,1098.8 L611.75,1091.0 L612.00,1099.8 L612.25,1081.9 L612.50,1095.0 L612.75,1085.1 L613.00,1095.9 L613.25,1075.2 L613.50,1073.8 L613.75,1068.0 L614.00,1062.5 L614.25,1071.4 L614.50,1059.4 L614.75,1067.5 L615.00,1058.3 L615.25,1069.1 L615.50,1040.3 L615.75,1060.8 L616.00,1056.5 L616.25,1054.7 L616.50,1048.8 L616.75,1065.5 L617.00,1048.5 L617.25,1054.0 L617.50,1048.3 L617.75,1047.3 L618.00,1050.5 L618.25,1055.0 L618.50,1041.9 L618.75,1047.3 L619.00,1040.9 L619.25,1055.3 L619.50,1047.0 L619.75,1049.0 L620.00,1060.8 L620.25,1057.3 L620.50,1062.0 L620.75,1059.7 L621.00,1065.7 L621.25,1065.3 L621.50,1058.4 L621.75,1070.5 L622.00,1068.6 L622.25,1071.7 L622.50,1078.1 L622.75,1074.3 L623.00,1073.0 L623.25,1092.4 L623.50,1099.9 L623.75,1086.2 L624.00,1100.0 L624.25,1097.0 L624.50,1092.0 L624.75,1093.2 L625.00,1100.0 L625.25,1101.5 L625.50,1104.9 L625.75,1109.0 L626.00,1104.0 L626.25,1121.4 L626.50,1108.8 L626.75,1111.6 L627.00,1128.8 L627.25,1129.7 L627.50,1136.9 L627.75,1129.0 L628.00,1125.0 L628.25,1140.2 L628.50,1132.7 L628.75,1134.3 L629.00,1130.6 L629.25,1141.8 L629.50,1122.9 L629.75,1146.3 L630.00,1129.1 L630.25,1152.4 L630.50,1135.9 L630.75,1154.4 L631.00,1169.5 L631.25,1150.6 L631.50,1145.6 L631.75,1170.5 L632.00,1154.2 L632.25,1150.7 L632.50,1170.0 L632.75,1140.8 L633.00,1152.4 L633.25,1155.0 L633.50,1161.0 L633.75,1152.3 L634.00,1174.9 L634.25,1177.6 L634.50,1170.7 L634.75,1169.1 L635.00,1161.6 L635.25,1177.9 L635.50,1170.2 L635.75,1181.1 L636.00,1185.1 L636.25,1178.8 L636.50,1163.6 L636.75,1173.4 L637.00,1191.6 L637.25,1184.3 L637.50,1193.8 L637.75,1167.3 L638.00,1184.1 L638.25,1184.5 L638.50,1174.5 L638.75,1182.7 L639.00,1195.7 L639.25,1193.3 L639.50,1186.1 L639.75,1193.4 L640.00,1200.8 L640.25,1184.6 L640.50,1195.8 L640.75,1202.4 L641.00,1190.4 L641.25,1206.3 L641.50,1197.0 L641.75,1207.0 L642.00,1206.6 L642.25,1202.7 L642.50,1199.4 L642.75,1197.5 L643.00,1204.5 L643.25,1205.4 L643.50,1214.9 L643.75,1204.0 L644.00,1207.5 L644.25,1217.5 L644.50,1207.0 L644.75,1207.5 L645.00,1215.4 L645.25,1203.1 L645.50,1204.4 L645.75,1205.9 L646.00,1198.0 L646.25,1189.1 L646.50,1185.0 L646.75,1192.8 L647.00,1201.2 L647.25,1198.6 L647.50,1201.7 L647.75,1194.7 L648.00,1181.5 L648.25,1174.0 L648.50,1179.6 L648.75,1180.2 L649.00,1175.4 L649.25,1186.9 L649.50,1173.1 L649.75,1182.4 L650.00,1182.9 L650.25,1163.0 L650.50,1172.0 L650.75,1183.7 L651.00,1179.8 L651.25,1173.7 L651.50,1163.9 L651.75,1166.5 L652.00,1172.0 L652.25,1180.5 L652.50,1174.3 L652.75,1169.6 L653.00,1171.7 L653.25,1175.5 L653.50,1156.2 L653.75,1161.7 L654.00,1169.2 L654.25,1178.0 L654.50,1177.0 L654.75,1163.1 L655.00,1169.4 L655.25,1164.1 L655.50,1167.2 L655.75,1171.9 L656.00,1168.9 L656.25,1168.2 L656.50,1164.6 L656.75,1162.5 L657.00,1174.0 L657.25,1178.0 L657.50,1182.3 L657.75,1172.6 L658.00,1174.4 L658.25,1190.6 L658.50,1185.7 L658.75,1190.9 L659.00,1181.8 L659.25,1182.7 L659.50,1181.6 L659.75,1199.8 L660.00,1186.1 L660.25,1183.9 L660.50,1193.5 L660.75,1210.7 L661.00,1203.6 L661.25,1207.1 L661.50,1208.1 L661.75,1208.6 L662.00,1209.2 L662.25,1201.4 L662.50,1225.8 L662.75,1213.6 L663.00,1225.3 L663.25,1205.9 L663.50,1223.0 L663.75,1211.4 L664.00,1211.9 L664.25,1224.8 L664.50,1231.8 L664.75,1235.5 L665.00,1236.4 L665.25,1225.5 L665.50,1234.5 L665.75,1225.1 L666.00,1226.5 L666.25,1233.3 L666.50,1231.4 L666.75,1239.5 L667.00,1220.1 L667.25,1243.0 L667.50,1230.9 L667.75,1247.0 L668.00,1245.1 L668.25,1228.6 L668.50,1237.5 L668.75,1243.6 L669.00,1233.2 L669.25,1234.2 L669.50,1238.1 L669.75,1246.5 L670.00,1248.4 L670.25,1239.0 L670.50,1248.9 L670.75,1254.3 L671.00,1250.7 L671.25,1238.9 L671.50,1238.7 L671.75,1247.6 L672.00,1252.2 L672.25,1249.7 L672.50,1244.2 L672.75,1240.6 L673.00,1257.5 L673.25,1247.4 L673.50,1262.9 L673.75,1240.9 L674.00,1247.5 L674.25,1245.6 L674.50,1264.6 L674.75,1260.5 L675.00,1248.0 L675.25,1237.7 L675.50,1261.1 L675.75,1253.9 L676.00,1244.9 L676.25,1242.5 L676.50,1257.1 L676.75,1253.0 L677.00,1255.9 L677.25,1258.2 L677.50,1252.8 L677.75,1253.9 L678.00,1261.2 L678.25,1255.8 L678.50,1254.9 L678.75,1262.0 L679.00,1242.8 L679.25,1267.1 L679.50,1261.5 L679.75,1252.8 L680.00,1257.4 L680.25,1268.2 L680.50,1263.4 L680.75,1246.3 L681.00,1252.3 L681.25,1261.4 L681.50,1273.6 L681.75,1266.2 L682.00,1259.3 L682.25,1265.3 L682.50,1261.4 L682.75,1259.2 L683.00,1264.5 L683.25,1246.0 L683.50,1269.6 L683.75,1266.3 L684.00,1259.3 L684.25,1256.4 L684.50,1254.0 L684.75,1265.2 L685.00,1264.5 L685.25,1264.9 L685.50,1276.5 L685.75,1247.6 L686.00,1258.8 L686.25,1258.6 L686.50,1271.6 L686.75,1262.9 L687.00,1257.9 L687.25,1266.6 L687.50,1268.3 L687.75,1277.5 L688.00,1267.5 L688.25,1262.5 L688.50,1262.3 L688.75,1260.1 L689.00,1270.0 L689.25,1272.6 L689.50,1265.0 L689.75,1265.8 L690.00,1277.3 L690.25,1267.9 L690.50,1271.0 L690.75,1259.4 L691.00,1263.1 L691.25,1251.9 L691.50,1257.8 L691.75,1270.8 L692.00,1277.5 L692.25,1266.4 L692.50,1259.7 L692.75,1269.4 L693.00,1277.4 L693.25,1267.8 L693.50,1276.0 L693.75,1268.8 L694.00,1260.2 L694.25,1262.8 L694.50,1267.8 L694.75,1286.8 L695.00,1274.3 L695.25,1268.3 L695.50,1272.4 L695.75,1271.9 L696.00,1267.2 L696.25,1269.8 L696.50,1268.8 L696.75,1276.3 L697.00,1282.5 L697.25,1280.9 L697.50,1268.8 L697.75,1275.4 L698.00,1266.0 L698.25,1263.4 L698.50,1272.2 L698.75,1276.3 L699.00,1271.4 L699.25,1278.1 L699.50,1278.2 L699.75,1277.8 L700.00,1271.1 L700.25,1262.2 L700.50,1285.8 L700.75,1269.0 L701.00,1278.1 L701.25,1276.4 L701.50,1270.2 L701.75,1286.5 L702.00,1278.0 L702.25,1273.0 L702.50,1270.1 L702.75,1266.1 L703.00,1263.9 L703.25,1277.7 L703.50,1270.2 L703.75,1270.2 L704.00,1277.4 L704.25,1271.2 L704.50,1278.7 L704.75,1269.2 L705.00,1270.1 L705.25,1280.9 L705.50,1269.1 L705.75,1278.7 L706.00,1278.0 L706.25,1274.4 L706.50,1262.1 L706.75,1264.8 L707.00,1266.5 L707.25,1265.1 L707.50,1281.1 L707.75,1268.3 L708.00,1265.7 L708.25,1271.2 L708.50,1274.3 L708.75,1262.7 L709.00,1279.6 L709.25,1280.6 L709.50,1270.9 L709.75,1281.3 L710.00,1263.9 L710.25,1271.4 L710.50,1274.4 L710.75,1276.2 L711.00,1284.2 L711.25,1273.3 L711.50,1268.4 L711.75,1277.5 L712.00,1277.1 L712.25,1279.4 L712.50,1273.6 L712.75,1277.5 L713.00,1272.0 L713.25,1280.5 L713.50,1271.5 L713.75,1271.9 L714.00,1285.1 L714.25,1271.0 L714.50,1276.7 L714.75,1280.9 L715.00,1274.4 L715.25,1283.5 L715.50,1272.6 L715.75,1284.5 L716.00,1265.5 L716.25,1267.1 L716.50,1277.6 L716.75,1287.7 L717.00,1289.1 L717.25,1271.0 L717.50,1277.1 L717.75,1273.8 L718.00,1261.7 L718.25,1282.9 L718.50,1274.8 L718.75,1287.7 L719.00,1279.7 L719.25,1273.8 L719.50,1272.7 L719.75,1276.4 L720.00,1281.2 L720.25,1274.3 L720.50,1298.7 L720.75,1279.6 L721.00,1269.7 L721.25,1278.7 L721.50,1286.6 L721.75,1281.4 L722.00,1275.8 L722.25,1273.4 L722.50,1272.5 L722.75,1269.6 L723.00,1274.6 L723.25,1280.4 L723.50,1274.3 L723.75,1290.5 L724.00,1281.3 L724.25,1275.3 L724.50,1278.4 L724.75,1289.4 L725.00,1266.1 L725.25,1280.4 L725.50,1298.5 L725.75,1286.1 L726.00,1272.1 L726.25,1279.7 L726.50,1277.1 L726.75,1299.4 L727.00,1273.9 L727.25,1276.9 L727.50,1276.4 L727.75,1268.4 L728.00,1254.6 L728.25,1277.2 L728.50,1282.7 L728.75,1275.8 L729.00,1282.6 L729.25,1284.5 L729.50,1284.1 L729.75,1266.4 L730.00,1290.1 L730.25,1285.3 L730.50,1284.9 L730.75,1279.1 L731.00,1279.0 L731.25,1275.0 L731.50,1282.1 L731.75,1285.8 L732.00,1274.8 L732.25,1285.0 L732.50,1275.5 L732.75,1283.3 L733.00,1277.9 L733.25,1285.3 L733.50,1293.2 L733.75,1280.6 L734.00,1275.3 L734.25,1275.8 L734.50,1283.5 L734.75,1275.2 L735.00,1286.1 L735.25,1281.1 L735.50,1285.6 L735.75,1274.8 L736.00,1271.8 L736.25,1273.3 L736.50,1281.8 L736.75,1273.0 L737.00,1283.9 L737.25,1263.6 L737.50,1273.8 L737.75,1277.5 L738.00,1265.2 L738.25,1274.2 L738.50,1267.6 L738.75,1278.1 L739.00,1276.9 L739.25,1284.1 L739.50,1272.4 L739.75,1266.5 L740.00,1274.5 L740.25,1279.5 L740.50,1279.2 L740.75,1279.7 L741.00,1287.5 L741.25,1275.8 L741.50,1276.9 L741.75,1272.1 L742.00,1274.0 L742.25,1286.1 L742.50,1281.0 L742.75,1259.0 L743.00,1287.2 L743.25,1263.5 L743.50,1275.2 L743.75,1285.3 L744.00,1279.1 L744.25,1282.2 L744.50,1284.5 L744.75,1280.2 L745.00,1268.7 L745.25,1280.7 L745.50,1272.8 L745.75,1260.0 L746.00,1275.7 L746.25,1281.9 L746.50,1278.7 L746.75,1277.8 L747.00,1290.6 L747.25,1279.7 L747.50,1284.4 L747.75,1280.0 L748.00,1289.7 L748.25,1274.8 L748.50,1286.2 L748.75,1290.9 L749.00,1274.7 L749.25,1285.1 L749.50,1267.3 L749.75,1279.6 L750.00,1282.7 L750.25,1271.1 L750.50,1263.9 L750.75,1277.5 L751.00,1274.7 L751.25,1278.4 L751.50,1279.2 L751.75,1283.1 L752.00,1288.5 L752.25,1280.1 L752.50,1265.5 L752.75,1281.7 L753.00,1279.6 L753.25,1277.8 L753.50,1288.3 L753.75,1278.5 L754.00,1273.9 L754.25,1279.9 L754.50,1264.6 L754.75,1283.5 L755.00,1276.8 L755.25,1288.8 L755.50,1281.3 L755.75,1279.0 L756.00,1277.5 L756.25,1267.3 L756.50,1275.4 L756.75,1278.1 L757.00,1283.1 L757.25,1279.0 L757.50,1280.8 L757.75,1280.7 L758.00,1271.6 L758.25,1277.6 L758.50,1273.7 L758.75,1265.9 L759.00,1263.9 L759.25,1281.0 L759.50,1285.3 L759.75,1285.1 L760.00,1268.2 L760.25,1285.4 L760.50,1285.7 L760.75,1268.4 L761.00,1277.4 L761.25,1286.2 L761.50,1274.1 L761.75,1282.0 L762.00,1268.5 L762.25,1270.4 L762.50,1279.1 L762.75,1271.2 L763.00,1273.2 L763.25,1272.7 L763.50,1264.2 L763.75,1282.6 L764.00,1270.3 L764.25,1268.7 L764.50,1267.5 L764.75,1271.1 L765.00,1263.4 L765.25,1276.5 L765.50,1267.3 L765.75,1275.4 L766.00,1262.8 L766.25,1261.5 L766.50,1261.9 L766.75,1270.1 L767.00,1258.4 L767.25,1274.0 L767.50,1265.1 L767.75,1273.8 L768.00,1264.1 L768.25,1272.6 L768.50,1258.7 L768.75,1257.8 L769.00,1269.9 L769.25,1261.0 L769.50,1272.5 L769.75,1259.0 L770.00,1267.4 L770.25,1257.0 L770.50,1249.5 L770.75,1272.4 L771.00,1259.6 L771.25,1267.6 L771.50,1261.0 L771.75,1246.3 L772.00,1261.1 L772.25,1265.4 L772.50,1266.1 L772.75,1267.9 L773.00,1257.8 L773.25,1253.3 L773.50,1253.8 L773.75,1243.8 L774.00,1256.9 L774.25,1256.0 L774.50,1252.3 L774.75,1243.1 L775.00,1252.7 L775.25,1243.0 L775.50,1255.4 L775.75,1240.9 L776.00,1240.6 L776.25,1241.3 L776.50,1235.2 L776.75,1235.3 L777.00,1239.1 L777.25,1222.2 L777.50,1254.4 L777.75,1241.6 L778.00,1240.2 L778.25,1230.8 L778.50,1238.1 L778.75,1236.0 L779.00,1236.1 L779.25,1223.7 L779.50,1233.1 L779.75,1219.2 L780.00,1231.0 L780.25,1225.1 L780.50,1226.4 L780.75,1227.8 L781.00,1235.6 L781.25,1237.7 L781.50,1228.1 L781.75,1219.1 L782.00,1237.3 L782.25,1215.1 L782.50,1220.7 L782.75,1222.4 L783.00,1217.8 L783.25,1232.5 L783.50,1224.9 L783.75,1229.3 L784.00,1218.4 L784.25,1226.5 L784.50,1218.3 L784.75,1217.8 L785.00,1220.7 L785.25,1220.9 L785.50,1221.8 L785.75,1215.6 L786.00,1205.7 L786.25,1214.2 L786.50,1196.5 L786.75,1214.1 L787.00,1210.1 L787.25,1222.1 L787.50,1195.9 L787.75,1231.0 L788.00,1213.7 L788.25,1204.6 L788.50,1219.9 L788.75,1220.7 L789.00,1220.6 L789.25,1234.0 L789.50,1212.1 L789.75,1220.9 L790.00,1220.4 L790.25,1214.8 L790.50,1222.6 L790.75,1230.4 L791.00,1215.4 L791.25,1225.7 L791.50,1230.5 L791.75,1228.6 L792.00,1212.6 L792.25,1227.3 L792.50,1223.1 L792.75,1235.8 L793.00,1226.5 L793.25,1242.8 L793.50,1219.8 L793.75,1233.4 L794.00,1223.9 L794.25,1244.3 L794.50,1243.6 L794.75,1225.9 L795.00,1239.2 L795.25,1234.3 L795.50,1223.5 L795.75,1228.9 L796.00,1238.5 L796.25,1242.7 L796.50,1237.2 L796.75,1243.4 L797.00,1244.7 L797.25,1245.7 L797.50,1236.0 L797.75,1247.1 L798.00,1251.2 L798.25,1237.4 L798.50,1261.1 L798.75,1261.7 L799.00,1253.3 L799.25,1268.7 L799.50,1248.3 L799.75,1248.3 L800.00,1251.7 L800.25,1252.0 L800.50,1272.0 L800.75,1259.5 L801.00,1259.5 L801.25,1263.3 L801.50,1273.1 L801.75,1263.2 L802.00,1259.7 L802.25,1265.2 L802.50,1273.1 L802.75,1262.9 L803.00,1275.5 L803.25,1267.9 L803.50,1264.9 L803.75,1270.5 L804.00,1282.1 L804.25,1266.2 L804.50,1278.8 L804.75,1273.3 L805.00,1270.9 L805.25,1270.6 L805.50,1276.8 L805.75,1275.8 L806.00,1274.5 L806.25,1277.1 L806.50,1266.3 L806.75,1268.3 L807.00,1266.2 L807.25,1271.5 L807.50,1272.9 L807.75,1272.1 L808.00,1279.2 L808.25,1268.6 L808.50,1274.1 L808.75,1282.7 L809.00,1289.0 L809.25,1277.2 L809.50,1285.9 L809.75,1287.4 L810.00,1269.9 L810.25,1279.5 L810.50,1270.1 L810.75,1275.1 L811.00,1281.1 L811.25,1268.7 L811.50,1282.1 L811.75,1277.3 L812.00,1276.6 L812.25,1282.4 L812.50,1272.5 L812.75,1266.1 L813.00,1278.9 L813.25,1273.4 L813.50,1277.4 L813.75,1270.8 L814.00,1272.1 L814.25,1271.5 L814.50,1269.7 L814.75,1273.2 L815.00,1273.5 L815.25,1279.5 L815.50,1302.7 L815.75,1274.9 L816.00,1267.8 L816.25,1283.8 L816.50,1270.5 L816.75,1273.1 L817.00,1277.2 L817.25,1280.1 L817.50,1280.3 L817.75,1281.7 L818.00,1279.0 L818.25,1288.1 L818.50,1286.2 L818.75,1276.1 L819.00,1278.5 L819.25,1270.2 L819.50,1285.1 L819.75,1278.7 L820.00,1294.3 L820.25,1275.3 L820.50,1291.5 L820.75,1273.6 L821.00,1268.0 L821.25,1274.1 L821.50,1283.0 L821.75,1288.0 L822.00,1274.1 L822.25,1287.7 L822.50,1276.8 L822.75,1276.8 L823.00,1278.4 L823.25,1292.8 L823.50,1282.0 L823.75,1283.0 L824.00,1269.6 L824.25,1282.0 L824.50,1282.8 L824.75,1292.8 L825.00,1274.4 L825.25,1275.6 L825.50,1274.1 L825.75,1276.1 L826.00,1285.8 L826.25,1275.0 L826.50,1290.2 L826.75,1281.1 L827.00,1274.2 L827.25,1276.1 L827.50,1270.8 L827.75,1270.2 L828.00,1289.3 L828.25,1287.3 L828.50,1273.6 L828.75,1277.5 L829.00,1292.5 L829.25,1275.4 L829.50,1282.3 L829.75,1284.4 L830.00,1279.1 L830.25,1279.2 L830.50,1278.0 L830.75,1281.3 L831.00,1268.9 L831.25,1280.7 L831.50,1281.6 L831.75,1270.5 L832.00,1283.4 L832.25,1273.2 L832.50,1260.7 L832.75,1265.6 L833.00,1280.5 L833.25,1283.8 L833.50,1276.5 L833.75,1268.8 L834.00,1278.2 L834.25,1286.0 L834.50,1278.9 L834.75,1268.3 L835.00,1282.4 L835.25,1277.4 L835.50,1277.5 L835.75,1279.1 L836.00,1282.7 L836.25,1277.7 L836.50,1271.3 L836.75,1277.4 L837.00,1279.1 L837.25,1286.7 L837.50,1268.9 L837.75,1276.7 L838.00,1271.2 L838.25,1279.5 L838.50,1273.4 L838.75,1254.7 L839.00,1284.1 L839.25,1272.2 L839.50,1268.9 L839.75,1265.7 L840.00,1268.8 L840.25,1267.0 L840.50,1275.3 L840.75,1277.3 L841.00,1275.6 L841.25,1278.7 L841.50,1269.8 L841.75,1280.2 L842.00,1274.9 L842.25,1278.8 L842.50,1280.0 L842.75,1272.6 L843.00,1284.3 L843.25,1281.0 L843.50,1272.0 L843.75,1287.8 L844.00,1286.9 L844.25,1263.3 L844.50,1258.0 L844.75,1269.8 L845.00,1277.6 L845.25,1280.9 L845.50,1278.8 L845.75,1273.7 L846.00,1280.8 L846.25,1278.8 L846.50,1270.2 L846.75,1274.6 L847.00,1280.9 L847.25,1268.3 L847.50,1268.2 L847.75,1266.5 L848.00,1283.2 L848.25,1277.3 L848.50,1278.4 L848.75,1269.3 L849.00,1271.7 L849.25,1280.6 L849.50,1269.5 L849.75,1280.0 L850.00,1271.1 L850.25,1270.9 L850.50,1274.9 L850.75,1276.9 L851.00,1283.3 L851.25,1267.8 L851.50,1282.4 L851.75,1264.3 L852.00,1263.4 L852.25,1253.2 L852.50,1275.5 L852.75,1279.9 L853.00,1260.1 L853.25,1266.3 L853.50,1266.6 L853.75,1256.9 L854.00,1268.5 L854.25,1270.0 L854.50,1263.9 L854.75,1259.8 L855.00,1268.0 L855.25,1271.2 L855.50,1256.2 L855.75,1265.6 L856.00,1270.2 L856.25,1245.3 L856.50,1267.9 L856.75,1277.8 L857.00,1255.6 L857.25,1274.2 L857.50,1262.2 L857.75,1268.5 L858.00,1262.6 L858.25,1255.0 L858.50,1250.5 L858.75,1280.2 L859.00,1252.6 L859.25,1260.0 L859.50,1272.0 L859.75,1263.4 L860.00,1262.1 L860.25,1245.6 L860.50,1255.4 L860.75,1249.8 L861.00,1245.9 L861.25,1261.3 L861.50,1264.2 L861.75,1252.0 L862.00,1252.4 L862.25,1259.8 L862.50,1262.6 L862.75,1247.8 L863.00,1263.6 L863.25,1261.3 L863.50,1253.9 L863.75,1245.2 L864.00,1256.8 L864.25,1257.1 L864.50,1264.3 L864.75,1246.4 L865.00,1261.7 L865.25,1246.9 L865.50,1252.6 L865.75,1247.2 L866.00,1247.9 L866.25,1257.2 L866.50,1240.5 L866.75,1250.6 L867.00,1241.5 L867.25,1242.0 L867.50,1235.8 L867.75,1241.3 L868.00,1223.9 L868.25,1235.2 L868.50,1243.1 L868.75,1240.4 L869.00,1220.8 L869.25,1223.0 L869.50,1226.6 L869.75,1241.8 L870.00,1223.3 L870.25,1224.7 L870.50,1221.4 L870.75,1223.8 L871.00,1213.2 L871.25,1220.2 L871.50,1220.2 L871.75,1222.7 L872.00,1207.0 L872.25,1218.5 L872.50,1224.5 L872.75,1214.6 L873.00,1212.4 L873.25,1187.8 L873.50,1214.0 L873.75,1216.6 L874.00,1209.7 L874.25,1202.7 L874.50,1203.2 L874.75,1217.4 L875.00,1188.1 L875.25,1188.5 L875.50,1197.8 L875.75,1189.7 L876.00,1170.1 L876.25,1185.9 L876.50,1185.1 L876.75,1174.0 L877.00,1182.2 L877.25,1179.7 L877.50,1163.1 L877.75,1179.0 L878.00,1189.9 L878.25,1185.9 L878.50,1163.7 L878.75,1161.5 L879.00,1171.2 L879.25,1172.2 L879.50,1159.7 L879.75,1163.6 L880.00,1178.7 L880.25,1169.9 L880.50,1175.4 L880.75,1167.2 L881.00,1174.8 L881.25,1163.1 L881.50,1163.1 L881.75,1160.0 L882.00,1153.0 L882.25,1164.7 L882.50,1158.0 L882.75,1165.1 L883.00,1170.3 L883.25,1171.3 L883.50,1173.7 L883.75,1168.6 L884.00,1171.9 L884.25,1181.8 L884.50,1172.8 L884.75,1175.0 L885.00,1157.3 L885.25,1168.2 L885.50,1185.5 L885.75,1171.8 L886.00,1171.3 L886.25,1187.5 L886.50,1172.3 L886.75,1189.9 L887.00,1183.0 L887.25,1180.3 L887.50,1170.9 L887.75,1197.3 L888.00,1175.1 L888.25,1180.8 L888.50,1197.1 L888.75,1183.3 L889.00,1197.6 L889.25,1194.8 L889.50,1194.4 L889.75,1189.8 L890.00,1194.0 L890.25,1202.2 L890.50,1194.0 L890.75,1207.3 L891.00,1205.5 L891.25,1208.8 L891.50,1207.6 L891.75,1211.1 L892.00,1210.7 L892.25,1215.0 L892.50,1212.6 L892.75,1213.2 L893.00,1204.9 L893.25,1199.9 L893.50,1214.2 L893.75,1222.1 L894.00,1209.0 L894.25,1205.2 L894.50,1214.0 L894.75,1221.8 L895.00,1226.6 L895.25,1218.9 L895.50,1213.5 L895.75,1222.9 L896.00,1229.4 L896.25,1225.0 L896.50,1233.9 L896.75,1223.6 L897.00,1234.7 L897.25,1241.4 L897.50,1222.6 L897.75,1224.4 L898.00,1236.5 L898.25,1255.7 L898.50,1237.0 L898.75,1233.7 L899.00,1244.3 L899.25,1234.3 L899.50,1223.6 L899.75,1229.0 L900.00,1246.7 L900.25,1224.4 L900.50,1226.6 L900.75,1243.6 L901.00,1238.8 L901.25,1246.8 L901.50,1229.9 L901.75,1232.3 L902.00,1235.0 L902.25,1228.2 L902.50,1235.3 L902.75,1235.3 L903.00,1242.6 L903.25,1234.9 L903.50,1231.9 L903.75,1237.8 L904.00,1241.6 L904.25,1240.3 L904.50,1233.7 L904.75,1227.9 L905.00,1226.2 L905.25,1219.0 L905.50,1228.2 L905.75,1226.4 L906.00,1237.8 L906.25,1226.1 L906.50,1228.9 L906.75,1232.0 L907.00,1207.1 L907.25,1215.2 L907.50,1217.1 L907.75,1218.7 L908.00,1208.3 L908.25,1222.1 L908.50,1221.5 L908.75,1217.5 L909.00,1217.9 L909.25,1203.7 L909.50,1219.6 L909.75,1205.7 L910.00,1195.4 L910.25,1209.7 L910.50,1211.1 L910.75,1201.9 L911.00,1193.8 L911.25,1196.8 L911.50,1203.6 L911.75,1185.3 L912.00,1211.6 L912.25,1211.3 L912.50,1202.5 L912.75,1211.9 L913.00,1202.8 L913.25,1195.7 L913.50,1209.2 L913.75,1208.8 L914.00,1198.0 L914.25,1194.7 L914.50,1198.2 L914.75,1214.6 L915.00,1204.0 L915.25,1227.7 L915.50,1202.2 L915.75,1212.0 L916.00,1210.4 L916.25,1206.7 L916.50,1215.1 L916.75,1202.9 L917.00,1209.4 L917.25,1201.6 L917.50,1194.7 L917.75,1212.3 L918.00,1204.1 L918.25,1203.9 L918.50,1219.1 L918.75,1214.7 L919.00,1220.0 L919.25,1231.3 L919.50,1221.0 L919.75,1224.4 L920.00,1213.5 L920.25,1230.0 L920.50,1231.6 L920.75,1218.7 L921.00,1232.9 L921.25,1231.8 L921.50,1229.1 L921.75,1232.7 L922.00,1251.5 L922.25,1229.7 L922.50,1233.2 L922.75,1237.6 L923.00,1236.5 L923.25,1225.2 L923.50,1244.7 L923.75,1247.7 L924.00,1254.7 L924.25,1238.5 L924.50,1234.2 L924.75,1249.5 L925.00,1237.9 L925.25,1246.5 L925.50,1244.5 L925.75,1249.8 L926.00,1246.0 L926.25,1255.5 L926.50,1244.3 L926.75,1269.9 L927.00,1258.8 L927.25,1249.2 L927.50,1247.5 L927.75,1254.2 L928.00,1252.9 L928.25,1251.1 L928.50,1268.6 L928.75,1266.2 L929.00,1251.6 L929.25,1264.7 L929.50,1261.4 L929.75,1267.8 L930.00,1257.8 L930.25,1279.4 L930.50,1264.7 L930.75,1279.8 L931.00,1261.9 L931.25,1276.2 L931.50,1265.9 L931.75,1279.8 L932.00,1266.5 L932.25,1260.4 L932.50,1260.8 L932.75,1264.6 L933.00,1274.4 L933.25,1273.2 L933.50,1271.8 L933.75,1279.4 L934.00,1284.2 L934.25,1264.9 L934.50,1280.4 L934.75,1290.7 L935.00,1269.2 L935.25,1270.1 L935.50,1277.9 L935.75,1277.0 L936.00,1271.8 L936.25,1275.7 L936.50,1288.8 L936.75,1284.1 L937.00,1271.6 L937.25,1265.3 L937.50,1270.2 L937.75,1280.3 L938.00,1273.5 L938.25,1273.5 L938.50,1285.7 L938.75,1278.5 L939.00,1278.2 L939.25,1283.1 L939.50,1292.8 L939.75,1284.6 L940.00,1287.8 L940.25,1283.6 L940.50,1295.0 L940.75,1274.5 L941.00,1275.7 L941.25,1280.6 L941.50,1299.9 L941.75,1296.6 L942.00,1277.1 L942.25,1282.2 L942.50,1290.1 L942.75,1286.7 L943.00,1293.1 L943.25,1283.0 L943.50,1274.5 L943.75,1291.8 L944.00,1296.8 L944.25,1276.1 L944.50,1273.7 L944.75,1284.6 L945.00,1274.2 L945.25,1291.5 L945.50,1279.8 L945.75,1294.2 L946.00,1286.1 L946.25,1289.8 L946.50,1293.9 L946.75,1287.5 L947.00,1281.4 L947.25,1296.0 L947.50,1278.1 L947.75,1299.8 L948.00,1284.7 L948.25,1285.4 L948.50,1292.4 L948.75,1292.6 L949.00,1293.3 L949.25,1278.6 L949.50,1283.0 L949.75,1292.3 L950.00,1292.5 L950.25,1289.1 L950.50,1299.6 L950.75,1288.6 L951.00,1297.0 L951.25,1298.1 L951.50,1292.7 L951.75,1288.7 L952.00,1295.7 L952.25,1293.6 L952.50,1294.9 L952.75,1283.8 L953.00,1293.9 L953.25,1302.4 L953.50,1288.3 L953.75,1291.6 L954.00,1288.8 L954.25,1297.2 L954.50,1275.2 L954.75,1302.7 L955.00,1294.6 L955.25,1289.1 L955.50,1292.9 L955.75,1299.3 L956.00,1293.7 L956.25,1296.0 L956.50,1300.0 L956.75,1292.3 L957.00,1296.6 L957.25,1302.1 L957.50,1295.4 L957.75,1286.6 L958.00,1297.0 L958.25,1306.5 L958.50,1288.9 L958.75,1294.7 L959.00,1294.6 L959.25,1298.0 L959.50,1288.4 L959.75,1291.3 L960.00,1306.1 L960.25,1296.7 L960.50,1287.0 L960.75,1297.5 L961.00,1292.1 L961.25,1303.1 L961.50,1279.7 L961.75,1292.4 L962.00,1299.0 L962.25,1282.3 L962.50,1286.2 L962.75,1295.3 L963.00,1292.1 L963.25,1289.6 L963.50,1294.1 L963.75,1281.5 L964.00,1285.6 L964.25,1304.8 L964.50,1287.1 L964.75,1295.2 L965.00,1291.6 L965.25,1298.4 L965.50,1294.4 L965.75,1295.0 L966.00,1300.7 L966.25,1294.4 L966.50,1279.4 L966.75,1287.1 L967.00,1302.7 L967.25,1300.0 L967.50,1290.4 L967.75,1280.3 L968.00,1286.8 L968.25,1307.6 L968.50,1301.0 L968.75,1301.2 L969.00,1280.2 L969.25,1282.1 L969.50,1287.7 L969.75,1282.1 L970.00,1293.0 L970.25,1284.0 L970.50,1295.6 L970.75,1290.5 L971.00,1288.0 L971.25,1297.0 L971.50,1295.4 L971.75,1293.1 L972.00,1289.4 L972.25,1291.7 L972.50,1277.8 L972.75,1277.5 L973.00,1287.0 L973.25,1293.1 L973.50,1305.1 L973.75,1295.0 L974.00,1284.7 L974.25,1288.4 L974.50,1282.6 L974.75,1291.6 L975.00,1291.3 L975.25,1291.6 L975.50,1293.9 L975.75,1299.6 L976.00,1296.9 L976.25,1283.3 L976.50,1298.0 L976.75,1284.3 L977.00,1294.6 L977.25,1292.4 L977.50,1304.1 L977.75,1290.9 L978.00,1290.9 L978.25,1289.6 L978.50,1297.9 L978.75,1293.8 L979.00,1289.5 L979.25,1297.6 L979.50,1307.0 L979.75,1303.4 L980.00,1302.5 L980.25,1287.4 L980.50,1290.6 L980.75,1292.5 L981.00,1278.6 L981.25,1303.9 L981.50,1280.5 L981.75,1294.1 L982.00,1281.9 L982.25,1292.0 L982.50,1297.1 L982.75,1294.8 L983.00,1284.5 L983.25,1286.1 L983.50,1297.7 L983.75,1290.3 L984.00,1291.6 L984.25,1297.6 L984.50,1272.1 L984.75,1292.4 L985.00,1299.8 L985.25,1303.6 L985.50,1295.5 L985.75,1284.9 L986.00,1297.4 L986.25,1304.1 L986.50,1285.5 L986.75,1284.8 L987.00,1289.0 L987.25,1287.0 L987.50,1274.9 L987.75,1272.5 L988.00,1280.2 L988.25,1285.1 L988.50,1292.9 L988.75,1285.8 L989.00,1290.9 L989.25,1299.6 L989.50,1311.6 L989.75,1295.9 L990.00,1282.2 L990.25,1296.6 L990.50,1289.2 L990.75,1291.7 L991.00,1296.2 L991.25,1294.7 L991.50,1279.3 L991.75,1280.5 L992.00,1290.8 L992.25,1293.9 L992.50,1304.2 L992.75,1293.0 L993.00,1285.9 L993.25,1284.9 L993.50,1283.2 L993.75,1278.8 L994.00,1278.7 L994.25,1284.1 L994.50,1288.8 L994.75,1282.4 L995.00,1288.1 L995.25,1285.8 L995.50,1286.1 L995.75,1284.5 L996.00,1289.7 L996.25,1287.6 L996.50,1267.9 L996.75,1289.2 L997.00,1288.0 L997.25,1282.6 L997.50,1288.2 L997.75,1281.7 L998.00,1287.6 L998.25,1280.1 L998.50,1291.5 L998.75,1288.9 L999.00,1275.5 L999.25,1280.9 L999.50,1291.1 L999.75,1288.7 L1000.00,1286.6 L1000.25,1277.1 L1000.50,1280.3 L1000.75,1286.3 L1001.00,1287.2 L1001.25,1284.7 L1001.50,1278.6 L1001.75,1282.8 L1002.00,1280.7 L1002.25,1275.6 L1002.50,1275.9 L1002.75,1277.9 L1003.00,1272.6 L1003.25,1286.9 L1003.50,1288.9 L1003.75,1289.6 L1004.00,1277.2 L1004.25,1277.2 L1004.50,1284.4 L1004.75,1278.9 L1005.00,1279.9 L1005.25,1279.7 L1005.50,1270.0 L1005.75,1290.9 L1006.00,1270.9 L1006.25,1269.6 L1006.50,1286.9 L1006.75,1272.8 L1007.00,1288.5 L1007.25,1282.9 L1007.50,1282.8 L1007.75,1277.2 L1008.00,1269.5 L1008.25,1270.9 L1008.50,1280.2 L1008.75,1278.4 L1009.00,1270.2" fill="none" stroke="#111" stroke-width="1.5" clip-path="url(#c3b)"/>
<line x1="80.75" y1="1007.90" x2="1009.00" y2="1007.90" stroke="#333" stroke-width="2" />
<line x1="80.75" y1="1007.90" x2="80.75" y2="1160.00" stroke="#333" stroke-width="2" />
<line x1="1009.00" y1="1007.90" x2="1009.00" y2="1160.00" stroke="#333" stroke-width="2" />
<line x1="76.75" y1="1160.00" x2="1009.00" y2="1160.00" stroke="#333" stroke-width="2" />
<rect x="80.75" y="1168.3" width="928.25" height="132.10000000000014" fill="none" stroke="#333" stroke-width="2"/>
<line x1="75.75" y1="1300.40" x2="80.75" y2="1300.40" stroke="#333" stroke-width="1.8" />
<line x1="80.75" y1="1160.00" x2="80.75" y2="1163.60" stroke="#333" stroke-width="1.6" />
<line x1="93.13" y1="1160.00" x2="93.13" y2="1163.60" stroke="#333" stroke-width="1.6" />
<line x1="105.50" y1="1160.00" x2="105.50" y2="1163.60" stroke="#333" stroke-width="1.6" />
<line x1="117.88" y1="1160.00" x2="117.88" y2="1163.60" stroke="#333" stroke-width="1.6" />
<line x1="130.26" y1="1160.00" x2="130.26" y2="1163.60" stroke="#333" stroke-width="1.6" />
<line x1="142.63" y1="1160.00" x2="142.63" y2="1163.60" stroke="#333" stroke-width="1.6" />
<line x1="155.01" y1="1160.00" x2="155.01" y2="1163.60" stroke="#333" stroke-width="1.6" />
<line x1="167.39" y1="1160.00" x2="167.39" y2="1163.60" stroke="#333" stroke-width="1.6" />
<line x1="179.76" y1="1160.00" x2="179.76" y2="1163.60" stroke="#333" stroke-width="1.6" />
<line x1="192.14" y1="1160.00" x2="192.14" y2="1163.60" stroke="#333" stroke-width="1.6" />
<line x1="204.52" y1="1160.00" x2="204.52" y2="1163.60" stroke="#333" stroke-width="1.6" />
<line x1="216.89" y1="1160.00" x2="216.89" y2="1163.60" stroke="#333" stroke-width="1.6" />
<line x1="229.27" y1="1160.00" x2="229.27" y2="1163.60" stroke="#333" stroke-width="1.6" />
<line x1="241.65" y1="1160.00" x2="241.65" y2="1163.60" stroke="#333" stroke-width="1.6" />
<line x1="254.02" y1="1160.00" x2="254.02" y2="1163.60" stroke="#333" stroke-width="1.6" />
<line x1="266.40" y1="1160.00" x2="266.40" y2="1163.60" stroke="#333" stroke-width="1.6" />
<line x1="278.78" y1="1160.00" x2="278.78" y2="1163.60" stroke="#333" stroke-width="1.6" />
<line x1="291.15" y1="1160.00" x2="291.15" y2="1163.60" stroke="#333" stroke-width="1.6" />
<line x1="303.53" y1="1160.00" x2="303.53" y2="1163.60" stroke="#333" stroke-width="1.6" />
<line x1="315.91" y1="1160.00" x2="315.91" y2="1163.60" stroke="#333" stroke-width="1.6" />
<line x1="328.28" y1="1160.00" x2="328.28" y2="1163.60" stroke="#333" stroke-width="1.6" />
<line x1="340.66" y1="1160.00" x2="340.66" y2="1163.60" stroke="#333" stroke-width="1.6" />
<line x1="353.04" y1="1160.00" x2="353.04" y2="1163.60" stroke="#333" stroke-width="1.6" />
<line x1="365.41" y1="1160.00" x2="365.41" y2="1163.60" stroke="#333" stroke-width="1.6" />
<line x1="377.79" y1="1160.00" x2="377.79" y2="1163.60" stroke="#333" stroke-width="1.6" />
<line x1="390.17" y1="1160.00" x2="390.17" y2="1163.60" stroke="#333" stroke-width="1.6" />
<line x1="402.54" y1="1160.00" x2="402.54" y2="1163.60" stroke="#333" stroke-width="1.6" />
<line x1="414.92" y1="1160.00" x2="414.92" y2="1163.60" stroke="#333" stroke-width="1.6" />
<line x1="427.30" y1="1160.00" x2="427.30" y2="1163.60" stroke="#333" stroke-width="1.6" />
<line x1="439.67" y1="1160.00" x2="439.67" y2="1163.60" stroke="#333" stroke-width="1.6" />
<line x1="452.05" y1="1160.00" x2="452.05" y2="1163.60" stroke="#333" stroke-width="1.6" />
<line x1="464.43" y1="1160.00" x2="464.43" y2="1163.60" stroke="#333" stroke-width="1.6" />
<line x1="476.80" y1="1160.00" x2="476.80" y2="1163.60" stroke="#333" stroke-width="1.6" />
<line x1="489.18" y1="1160.00" x2="489.18" y2="1163.60" stroke="#333" stroke-width="1.6" />
<line x1="501.56" y1="1160.00" x2="501.56" y2="1163.60" stroke="#333" stroke-width="1.6" />
<line x1="513.93" y1="1160.00" x2="513.93" y2="1163.60" stroke="#333" stroke-width="1.6" />
<line x1="526.31" y1="1160.00" x2="526.31" y2="1163.60" stroke="#333" stroke-width="1.6" />
<line x1="538.69" y1="1160.00" x2="538.69" y2="1163.60" stroke="#333" stroke-width="1.6" />
<line x1="551.06" y1="1160.00" x2="551.06" y2="1163.60" stroke="#333" stroke-width="1.6" />
<line x1="563.44" y1="1160.00" x2="563.44" y2="1163.60" stroke="#333" stroke-width="1.6" />
<line x1="575.82" y1="1160.00" x2="575.82" y2="1163.60" stroke="#333" stroke-width="1.6" />
<line x1="588.19" y1="1160.00" x2="588.19" y2="1163.60" stroke="#333" stroke-width="1.6" />
<line x1="600.57" y1="1160.00" x2="600.57" y2="1163.60" stroke="#333" stroke-width="1.6" />
<line x1="612.95" y1="1160.00" x2="612.95" y2="1163.60" stroke="#333" stroke-width="1.6" />
<line x1="625.32" y1="1160.00" x2="625.32" y2="1163.60" stroke="#333" stroke-width="1.6" />
<line x1="637.70" y1="1160.00" x2="637.70" y2="1163.60" stroke="#333" stroke-width="1.6" />
<line x1="650.08" y1="1160.00" x2="650.08" y2="1163.60" stroke="#333" stroke-width="1.6" />
<line x1="662.45" y1="1160.00" x2="662.45" y2="1163.60" stroke="#333" stroke-width="1.6" />
<line x1="674.83" y1="1160.00" x2="674.83" y2="1163.60" stroke="#333" stroke-width="1.6" />
<line x1="687.21" y1="1160.00" x2="687.21" y2="1163.60" stroke="#333" stroke-width="1.6" />
<line x1="699.58" y1="1160.00" x2="699.58" y2="1163.60" stroke="#333" stroke-width="1.6" />
<line x1="711.96" y1="1160.00" x2="711.96" y2="1163.60" stroke="#333" stroke-width="1.6" />
<line x1="724.34" y1="1160.00" x2="724.34" y2="1163.60" stroke="#333" stroke-width="1.6" />
<line x1="736.71" y1="1160.00" x2="736.71" y2="1163.60" stroke="#333" stroke-width="1.6" />
<line x1="749.09" y1="1160.00" x2="749.09" y2="1163.60" stroke="#333" stroke-width="1.6" />
<line x1="761.47" y1="1160.00" x2="761.47" y2="1163.60" stroke="#333" stroke-width="1.6" />
<line x1="773.84" y1="1160.00" x2="773.84" y2="1163.60" stroke="#333" stroke-width="1.6" />
<line x1="786.22" y1="1160.00" x2="786.22" y2="1163.60" stroke="#333" stroke-width="1.6" />
<line x1="798.60" y1="1160.00" x2="798.60" y2="1163.60" stroke="#333" stroke-width="1.6" />
<line x1="810.97" y1="1160.00" x2="810.97" y2="1163.60" stroke="#333" stroke-width="1.6" />
<line x1="823.35" y1="1160.00" x2="823.35" y2="1163.60" stroke="#333" stroke-width="1.6" />
<line x1="835.73" y1="1160.00" x2="835.73" y2="1163.60" stroke="#333" stroke-width="1.6" />
<line x1="848.10" y1="1160.00" x2="848.10" y2="1163.60" stroke="#333" stroke-width="1.6" />
<line x1="860.48" y1="1160.00" x2="860.48" y2="1163.60" stroke="#333" stroke-width="1.6" />
<line x1="872.86" y1="1160.00" x2="872.86" y2="1163.60" stroke="#333" stroke-width="1.6" />
<line x1="885.23" y1="1160.00" x2="885.23" y2="1163.60" stroke="#333" stroke-width="1.6" />
<line x1="897.61" y1="1160.00" x2="897.61" y2="1163.60" stroke="#333" stroke-width="1.6" />
<line x1="909.99" y1="1160.00" x2="909.99" y2="1163.60" stroke="#333" stroke-width="1.6" />
<line x1="922.36" y1="1160.00" x2="922.36" y2="1163.60" stroke="#333" stroke-width="1.6" />
<line x1="934.74" y1="1160.00" x2="934.74" y2="1163.60" stroke="#333" stroke-width="1.6" />
<line x1="947.12" y1="1160.00" x2="947.12" y2="1163.60" stroke="#333" stroke-width="1.6" />
<line x1="959.49" y1="1160.00" x2="959.49" y2="1163.60" stroke="#333" stroke-width="1.6" />
<line x1="971.87" y1="1160.00" x2="971.87" y2="1163.60" stroke="#333" stroke-width="1.6" />
<line x1="984.25" y1="1160.00" x2="984.25" y2="1163.60" stroke="#333" stroke-width="1.6" />
<line x1="996.62" y1="1160.00" x2="996.62" y2="1163.60" stroke="#333" stroke-width="1.6" />
<line x1="1009.00" y1="1160.00" x2="1009.00" y2="1163.60" stroke="#333" stroke-width="1.6" />
<line x1="80.75" y1="1300.40" x2="80.75" y2="1305.60" stroke="#333" stroke-width="1.8" />
<line x1="93.13" y1="1300.40" x2="93.13" y2="1304.00" stroke="#333" stroke-width="1.8" />
<line x1="105.50" y1="1300.40" x2="105.50" y2="1304.00" stroke="#333" stroke-width="1.8" />
<line x1="117.88" y1="1300.40" x2="117.88" y2="1304.00" stroke="#333" stroke-width="1.8" />
<line x1="130.26" y1="1300.40" x2="130.26" y2="1304.00" stroke="#333" stroke-width="1.8" />
<line x1="142.63" y1="1300.40" x2="142.63" y2="1305.60" stroke="#333" stroke-width="1.8" />
<line x1="155.01" y1="1300.40" x2="155.01" y2="1304.00" stroke="#333" stroke-width="1.8" />
<line x1="167.39" y1="1300.40" x2="167.39" y2="1304.00" stroke="#333" stroke-width="1.8" />
<line x1="179.76" y1="1300.40" x2="179.76" y2="1304.00" stroke="#333" stroke-width="1.8" />
<line x1="192.14" y1="1300.40" x2="192.14" y2="1304.00" stroke="#333" stroke-width="1.8" />
<line x1="204.52" y1="1300.40" x2="204.52" y2="1305.60" stroke="#333" stroke-width="1.8" />
<line x1="216.89" y1="1300.40" x2="216.89" y2="1304.00" stroke="#333" stroke-width="1.8" />
<line x1="229.27" y1="1300.40" x2="229.27" y2="1304.00" stroke="#333" stroke-width="1.8" />
<line x1="241.65" y1="1300.40" x2="241.65" y2="1304.00" stroke="#333" stroke-width="1.8" />
<line x1="254.02" y1="1300.40" x2="254.02" y2="1304.00" stroke="#333" stroke-width="1.8" />
<line x1="266.40" y1="1300.40" x2="266.40" y2="1305.60" stroke="#333" stroke-width="1.8" />
<line x1="278.78" y1="1300.40" x2="278.78" y2="1304.00" stroke="#333" stroke-width="1.8" />
<line x1="291.15" y1="1300.40" x2="291.15" y2="1304.00" stroke="#333" stroke-width="1.8" />
<line x1="303.53" y1="1300.40" x2="303.53" y2="1304.00" stroke="#333" stroke-width="1.8" />
<line x1="315.91" y1="1300.40" x2="315.91" y2="1304.00" stroke="#333" stroke-width="1.8" />
<line x1="328.28" y1="1300.40" x2="328.28" y2="1305.60" stroke="#333" stroke-width="1.8" />
<line x1="340.66" y1="1300.40" x2="340.66" y2="1304.00" stroke="#333" stroke-width="1.8" />
<line x1="353.04" y1="1300.40" x2="353.04" y2="1304.00" stroke="#333" stroke-width="1.8" />
<line x1="365.41" y1="1300.40" x2="365.41" y2="1304.00" stroke="#333" stroke-width="1.8" />
<line x1="377.79" y1="1300.40" x2="377.79" y2="1304.00" stroke="#333" stroke-width="1.8" />
<line x1="390.17" y1="1300.40" x2="390.17" y2="1305.60" stroke="#333" stroke-width="1.8" />
<line x1="402.54" y1="1300.40" x2="402.54" y2="1304.00" stroke="#333" stroke-width="1.8" />
<line x1="414.92" y1="1300.40" x2="414.92" y2="1304.00" stroke="#333" stroke-width="1.8" />
<line x1="427.30" y1="1300.40" x2="427.30" y2="1304.00" stroke="#333" stroke-width="1.8" />
<line x1="439.67" y1="1300.40" x2="439.67" y2="1304.00" stroke="#333" stroke-width="1.8" />
<line x1="452.05" y1="1300.40" x2="452.05" y2="1305.60" stroke="#333" stroke-width="1.8" />
<line x1="464.43" y1="1300.40" x2="464.43" y2="1304.00" stroke="#333" stroke-width="1.8" />
<line x1="476.80" y1="1300.40" x2="476.80" y2="1304.00" stroke="#333" stroke-width="1.8" />
<line x1="489.18" y1="1300.40" x2="489.18" y2="1304.00" stroke="#333" stroke-width="1.8" />
<line x1="501.56" y1="1300.40" x2="501.56" y2="1304.00" stroke="#333" stroke-width="1.8" />
<line x1="513.93" y1="1300.40" x2="513.93" y2="1305.60" stroke="#333" stroke-width="1.8" />
<line x1="526.31" y1="1300.40" x2="526.31" y2="1304.00" stroke="#333" stroke-width="1.8" />
<line x1="538.69" y1="1300.40" x2="538.69" y2="1304.00" stroke="#333" stroke-width="1.8" />
<line x1="551.06" y1="1300.40" x2="551.06" y2="1304.00" stroke="#333" stroke-width="1.8" />
<line x1="563.44" y1="1300.40" x2="563.44" y2="1304.00" stroke="#333" stroke-width="1.8" />
<line x1="575.82" y1="1300.40" x2="575.82" y2="1305.60" stroke="#333" stroke-width="1.8" />
<line x1="588.19" y1="1300.40" x2="588.19" y2="1304.00" stroke="#333" stroke-width="1.8" />
<line x1="600.57" y1="1300.40" x2="600.57" y2="1304.00" stroke="#333" stroke-width="1.8" />
<line x1="612.95" y1="1300.40" x2="612.95" y2="1304.00" stroke="#333" stroke-width="1.8" />
<line x1="625.32" y1="1300.40" x2="625.32" y2="1304.00" stroke="#333" stroke-width="1.8" />
<line x1="637.70" y1="1300.40" x2="637.70" y2="1305.60" stroke="#333" stroke-width="1.8" />
<line x1="650.08" y1="1300.40" x2="650.08" y2="1304.00" stroke="#333" stroke-width="1.8" />
<line x1="662.45" y1="1300.40" x2="662.45" y2="1304.00" stroke="#333" stroke-width="1.8" />
<line x1="674.83" y1="1300.40" x2="674.83" y2="1304.00" stroke="#333" stroke-width="1.8" />
<line x1="687.21" y1="1300.40" x2="687.21" y2="1304.00" stroke="#333" stroke-width="1.8" />
<line x1="699.58" y1="1300.40" x2="699.58" y2="1305.60" stroke="#333" stroke-width="1.8" />
<line x1="711.96" y1="1300.40" x2="711.96" y2="1304.00" stroke="#333" stroke-width="1.8" />
<line x1="724.34" y1="1300.40" x2="724.34" y2="1304.00" stroke="#333" stroke-width="1.8" />
<line x1="736.71" y1="1300.40" x2="736.71" y2="1304.00" stroke="#333" stroke-width="1.8" />
<line x1="749.09" y1="1300.40" x2="749.09" y2="1304.00" stroke="#333" stroke-width="1.8" />
<line x1="761.47" y1="1300.40" x2="761.47" y2="1305.60" stroke="#333" stroke-width="1.8" />
<line x1="773.84" y1="1300.40" x2="773.84" y2="1304.00" stroke="#333" stroke-width="1.8" />
<line x1="786.22" y1="1300.40" x2="786.22" y2="1304.00" stroke="#333" stroke-width="1.8" />
<line x1="798.60" y1="1300.40" x2="798.60" y2="1304.00" stroke="#333" stroke-width="1.8" />
<line x1="810.97" y1="1300.40" x2="810.97" y2="1304.00" stroke="#333" stroke-width="1.8" />
<line x1="823.35" y1="1300.40" x2="823.35" y2="1305.60" stroke="#333" stroke-width="1.8" />
<line x1="835.73" y1="1300.40" x2="835.73" y2="1304.00" stroke="#333" stroke-width="1.8" />
<line x1="848.10" y1="1300.40" x2="848.10" y2="1304.00" stroke="#333" stroke-width="1.8" />
<line x1="860.48" y1="1300.40" x2="860.48" y2="1304.00" stroke="#333" stroke-width="1.8" />
<line x1="872.86" y1="1300.40" x2="872.86" y2="1304.00" stroke="#333" stroke-width="1.8" />
<line x1="885.23" y1="1300.40" x2="885.23" y2="1305.60" stroke="#333" stroke-width="1.8" />
<line x1="897.61" y1="1300.40" x2="897.61" y2="1304.00" stroke="#333" stroke-width="1.8" />
<line x1="909.99" y1="1300.40" x2="909.99" y2="1304.00" stroke="#333" stroke-width="1.8" />
<line x1="922.36" y1="1300.40" x2="922.36" y2="1304.00" stroke="#333" stroke-width="1.8" />
<line x1="934.74" y1="1300.40" x2="934.74" y2="1304.00" stroke="#333" stroke-width="1.8" />
<line x1="947.12" y1="1300.40" x2="947.12" y2="1305.60" stroke="#333" stroke-width="1.8" />
<line x1="959.49" y1="1300.40" x2="959.49" y2="1304.00" stroke="#333" stroke-width="1.8" />
<line x1="971.87" y1="1300.40" x2="971.87" y2="1304.00" stroke="#333" stroke-width="1.8" />
<line x1="984.25" y1="1300.40" x2="984.25" y2="1304.00" stroke="#333" stroke-width="1.8" />
<line x1="996.62" y1="1300.40" x2="996.62" y2="1304.00" stroke="#333" stroke-width="1.8" />
<line x1="1009.00" y1="1300.40" x2="1009.00" y2="1305.60" stroke="#333" stroke-width="1.8" />
<text x="80.75" y="1330.80" font-size="19.2" fill="#222" font-weight="normal" text-anchor="middle"  style="">15</text>
<text x="142.63" y="1330.80" font-size="19.2" fill="#222" font-weight="normal" text-anchor="middle"  style="">20</text>
<text x="204.52" y="1330.80" font-size="19.2" fill="#222" font-weight="normal" text-anchor="middle"  style="">25</text>
<text x="266.40" y="1330.80" font-size="19.2" fill="#222" font-weight="normal" text-anchor="middle"  style="">30</text>
<text x="328.28" y="1330.80" font-size="19.2" fill="#222" font-weight="normal" text-anchor="middle"  style="">35</text>
<text x="390.17" y="1330.80" font-size="19.2" fill="#222" font-weight="normal" text-anchor="middle"  style="">40</text>
<text x="452.05" y="1330.80" font-size="19.2" fill="#222" font-weight="normal" text-anchor="middle"  style="">45</text>
<text x="513.93" y="1330.80" font-size="19.2" fill="#222" font-weight="normal" text-anchor="middle"  style="">50</text>
<text x="575.82" y="1330.80" font-size="19.2" fill="#222" font-weight="normal" text-anchor="middle"  style="">55</text>
<text x="637.70" y="1330.80" font-size="19.2" fill="#222" font-weight="normal" text-anchor="middle"  style="">60</text>
<text x="699.58" y="1330.80" font-size="19.2" fill="#222" font-weight="normal" text-anchor="middle"  style="">65</text>
<text x="761.47" y="1330.80" font-size="19.2" fill="#222" font-weight="normal" text-anchor="middle"  style="">70</text>
<text x="823.35" y="1330.80" font-size="19.2" fill="#222" font-weight="normal" text-anchor="middle"  style="">75</text>
<text x="885.23" y="1330.80" font-size="19.2" fill="#222" font-weight="normal" text-anchor="middle"  style="">80</text>
<text x="947.12" y="1330.80" font-size="19.2" fill="#222" font-weight="normal" text-anchor="middle"  style="">85</text>
<text x="1009.00" y="1330.80" font-size="19.2" fill="#222" font-weight="normal" text-anchor="middle"  style="">90</text>
<text x="72.50" y="1015.50" font-size="19.5" fill="#222" font-weight="normal" text-anchor="end"  style="">600</text>
<text x="69.50" y="1159.00" font-size="19.5" fill="#222" font-weight="normal" text-anchor="end"  style="">0</text>
<text x="72.50" y="1176.30" font-size="19.5" fill="#222" font-weight="normal" text-anchor="end"  style="">600</text>
<text x="69.30" y="1315.80" font-size="19.5" fill="#222" font-weight="normal" text-anchor="end"  style="">0</text>
<text transform="translate(293.80,1128.20) rotate(-90)" x="0" y="0" font-size="16.5" font-weight="bold" fill="#1f72c4" textLength="53.3" lengthAdjust="spacingAndGlyphs">C (002)</text>
<text transform="translate(339.50,1147.30) rotate(-90)" x="0" y="0" font-size="16.5" font-weight="bold" fill="#1f72c4" textLength="54.6" lengthAdjust="spacingAndGlyphs">C (101)</text>
<text transform="translate(396.70,1069.80) rotate(-90)" x="0" y="0" font-size="16.5" font-weight="bold" fill="#12a84a" textLength="54.6" lengthAdjust="spacingAndGlyphs">B (111)</text>
<text transform="translate(436.00,1068.60) rotate(-90)" x="0" y="0" font-size="16.5" font-weight="bold" fill="#1f72c4" textLength="53.4" lengthAdjust="spacingAndGlyphs">C (110)</text>
<text transform="translate(470.30,1066.00) rotate(-90)" x="0" y="0" font-size="16.5" font-weight="bold" fill="#12a84a" textLength="54.6" lengthAdjust="spacingAndGlyphs">B (200)</text>
<text transform="translate(578.30,1067.30) rotate(-90)" x="0" y="0" font-size="16.5" font-weight="bold" fill="#1f72c4" textLength="53.3" lengthAdjust="spacingAndGlyphs">C (112)</text>
<text transform="translate(636.70,1149.80) rotate(-90)" x="0" y="0" font-size="16.5" font-weight="bold" fill="#1f72c4" textLength="53.3" lengthAdjust="spacingAndGlyphs">C (103)</text>
<text transform="translate(740.80,1115.50) rotate(-90)" x="0" y="0" font-size="16.5" font-weight="bold" fill="#12a84a" textLength="55.8" lengthAdjust="spacingAndGlyphs">B (220)</text>
<text transform="translate(772.50,1083.80) rotate(-90)" x="0" y="0" font-size="16.5" font-weight="bold" fill="#1f72c4" textLength="54.6" lengthAdjust="spacingAndGlyphs">C (211)</text>
<text transform="translate(897.50,1152.50) rotate(-90)" x="0" y="0" font-size="16.5" font-weight="bold" fill="#12a84a" textLength="54.8" lengthAdjust="spacingAndGlyphs">B (311)</text>
<text transform="translate(961.80,1110.80) rotate(-90)" x="0" y="0" font-size="16.5" font-weight="bold" fill="#12a84a" textLength="54.8" lengthAdjust="spacingAndGlyphs">B (222)</text>
<text x="91.4" y="1147.3" font-size="17.4" font-weight="bold" fill="#111" textLength="163.8" lengthAdjust="spacingAndGlyphs">Zoomed view of (d)</text>
<text x="90" y="1289.4" font-size="17.4" font-weight="bold" fill="#111" textLength="162.5" lengthAdjust="spacingAndGlyphs">Zoomed view of (c)</text>
<text x="515.9" y="1354.9" font-size="21.5" font-weight="bold" fill="#111" textLength="49.5" lengthAdjust="spacingAndGlyphs">2<tspan font-style="italic">θ</tspan> (°)</text>
<text transform="translate(21.9,1231.8) rotate(-90)" font-size="22" font-weight="bold" fill="#111" textLength="148.4" lengthAdjust="spacingAndGlyphs">Intensity (a. u.)</text>
</svg></body></html>
